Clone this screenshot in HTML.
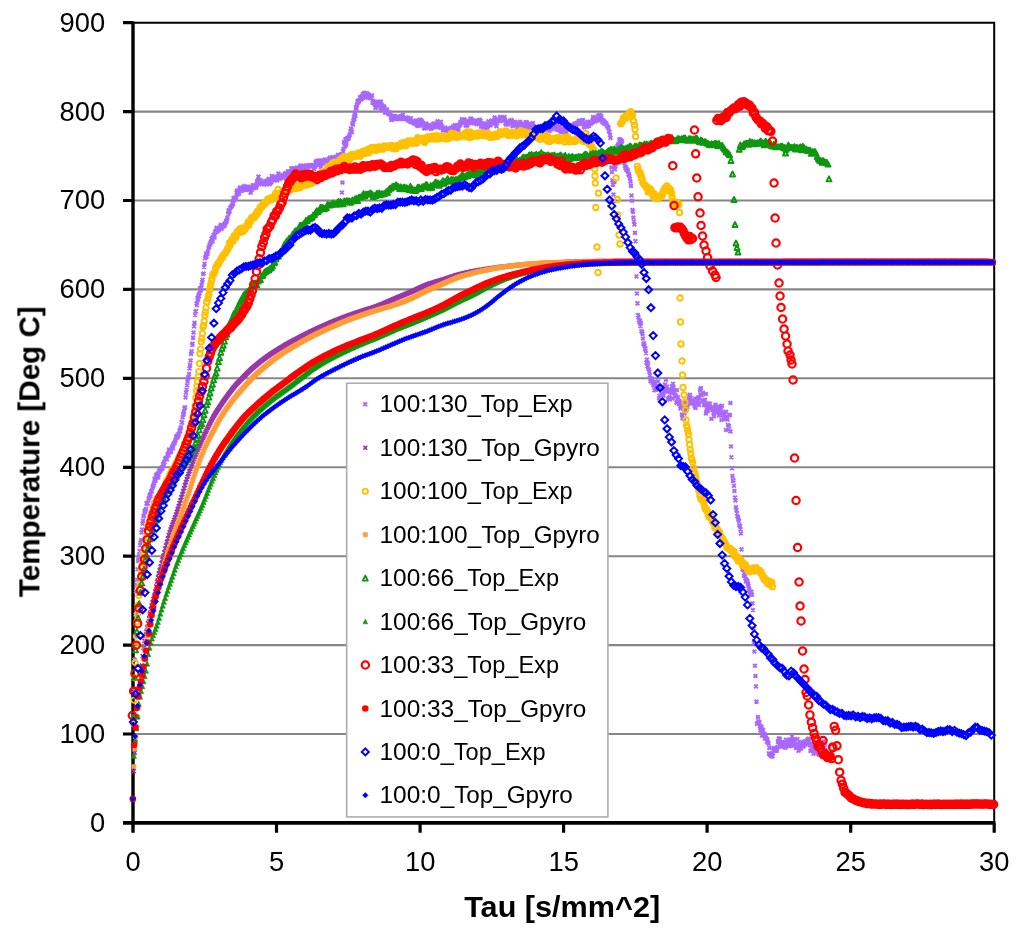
<!DOCTYPE html><html><head><meta charset="utf-8"><title>Temperature vs Tau</title>
<style>html,body{margin:0;padding:0;background:#fff}svg{display:block}text{font-family:"Liberation Sans",sans-serif;fill:#000}</style></head><body>
<svg width="1024" height="937" viewBox="0 0 1024 937">
<rect width="1024" height="937" fill="#fff"/>
<path d="M133 734H994.2M133 645.1H994.2M133 556.2H994.2M133 467.3H994.2M133 378.3H994.2M133 289.4H994.2M133 200.5H994.2M133 111.6H994.2" stroke="#868686" stroke-width="2.1" fill="none"/>
<path d="M133 22.7H994.2V822.9" stroke="#000" stroke-width="2" fill="none"/>
<path d="M133 21.5V832.7" stroke="#000" stroke-width="3.4" fill="none"/>
<path d="M123 822.9H995.4" stroke="#000" stroke-width="3.6" fill="none"/>
<path d="M123 734H133M123 645.1H133M123 556.2H133M123 467.3H133M123 378.3H133M123 289.4H133M123 200.5H133M123 111.6H133M123 22.7H133M276.5 822.9V832.7M420.1 822.9V832.7M563.6 822.9V832.7M707.1 822.9V832.7M850.7 822.9V832.7M994.2 822.9V832.7" stroke="#000" stroke-width="3.2" fill="none"/>
<path d="M131.7 718.2l3.7 3.7m-3.7 0l3.7 -3.7M132.2 688.7l3.7 3.7m-3.7 0l3.7 -3.7M132.7 657.8l3.7 3.7m-3.7 0l3.7 -3.7M133.2 634.4l3.7 3.7m-3.7 0l3.7 -3.7M133.7 612.8l3.7 3.7m-3.7 0l3.7 -3.7M134.2 589.7l3.7 3.7m-3.7 0l3.7 -3.7M134.7 583.3l3.7 3.7m-3.7 0l3.7 -3.7M135.2 577.9l3.7 3.7m-3.7 0l3.7 -3.7M135.7 567.4l3.7 3.7m-3.7 0l3.7 -3.7M136.2 559.2l3.7 3.7m-3.7 0l3.7 -3.7M136.7 557.2l3.7 3.7m-3.7 0l3.7 -3.7M137.2 553.4l3.7 3.7m-3.7 0l3.7 -3.7M137.7 549.2l3.7 3.7m-3.7 0l3.7 -3.7M138.2 543.4l3.7 3.7m-3.7 0l3.7 -3.7M138.7 540.7l3.7 3.7m-3.7 0l3.7 -3.7M139.2 538.1l3.7 3.7m-3.7 0l3.7 -3.7M139.7 530.6l3.7 3.7m-3.7 0l3.7 -3.7M140.2 527.6l3.7 3.7m-3.7 0l3.7 -3.7M140.7 521.7l3.7 3.7m-3.7 0l3.7 -3.7M141.2 519l3.7 3.7m-3.7 0l3.7 -3.7M141.7 514.4l3.7 3.7m-3.7 0l3.7 -3.7M142.2 513.8l3.7 3.7m-3.7 0l3.7 -3.7M142.7 509l3.7 3.7m-3.7 0l3.7 -3.7M143.2 510.2l3.7 3.7m-3.7 0l3.7 -3.7M143.7 508.9l3.7 3.7m-3.7 0l3.7 -3.7M144.2 507.1l3.7 3.7m-3.7 0l3.7 -3.7M144.7 501.2l3.7 3.7m-3.7 0l3.7 -3.7M145.2 502.4l3.7 3.7m-3.7 0l3.7 -3.7M145.7 501.9l3.7 3.7m-3.7 0l3.7 -3.7M146.2 501l3.7 3.7m-3.7 0l3.7 -3.7M146.7 496.7l3.7 3.7m-3.7 0l3.7 -3.7M147.2 496.6l3.7 3.7m-3.7 0l3.7 -3.7M147.7 494.2l3.7 3.7m-3.7 0l3.7 -3.7M148.2 492.5l3.7 3.7m-3.7 0l3.7 -3.7M148.7 494.3l3.7 3.7m-3.7 0l3.7 -3.7M149.2 489.7l3.7 3.7m-3.7 0l3.7 -3.7M149.7 489.2l3.7 3.7m-3.7 0l3.7 -3.7M150.2 489.4l3.7 3.7m-3.7 0l3.7 -3.7M150.7 485.4l3.7 3.7m-3.7 0l3.7 -3.7M151.2 484.3l3.7 3.7m-3.7 0l3.7 -3.7M151.7 483l3.7 3.7m-3.7 0l3.7 -3.7M152.2 481.3l3.7 3.7m-3.7 0l3.7 -3.7M152.7 477.1l3.7 3.7m-3.7 0l3.7 -3.7M153.2 477.3l3.7 3.7m-3.7 0l3.7 -3.7M153.7 478.9l3.7 3.7m-3.7 0l3.7 -3.7M154.2 473.1l3.7 3.7m-3.7 0l3.7 -3.7M154.7 476l3.7 3.7m-3.7 0l3.7 -3.7M155.2 474.1l3.7 3.7m-3.7 0l3.7 -3.7M155.7 471.8l3.7 3.7m-3.7 0l3.7 -3.7M156.2 475.5l3.7 3.7m-3.7 0l3.7 -3.7M156.7 473.2l3.7 3.7m-3.7 0l3.7 -3.7M157.2 468.7l3.7 3.7m-3.7 0l3.7 -3.7M157.7 469.4l3.7 3.7m-3.7 0l3.7 -3.7M158.2 469.4l3.7 3.7m-3.7 0l3.7 -3.7M158.7 467.2l3.7 3.7m-3.7 0l3.7 -3.7M159.2 467.7l3.7 3.7m-3.7 0l3.7 -3.7M159.7 465.6l3.7 3.7m-3.7 0l3.7 -3.7M160.2 465.9l3.7 3.7m-3.7 0l3.7 -3.7M160.7 466.6l3.7 3.7m-3.7 0l3.7 -3.7M161.2 462.3l3.7 3.7m-3.7 0l3.7 -3.7M161.7 462.5l3.7 3.7m-3.7 0l3.7 -3.7M162.2 460.4l3.7 3.7m-3.7 0l3.7 -3.7M162.7 460.3l3.7 3.7m-3.7 0l3.7 -3.7M163.2 456.9l3.7 3.7m-3.7 0l3.7 -3.7M163.7 456.5l3.7 3.7m-3.7 0l3.7 -3.7M164.2 456.1l3.7 3.7m-3.7 0l3.7 -3.7M164.7 457.3l3.7 3.7m-3.7 0l3.7 -3.7M165.2 457.4l3.7 3.7m-3.7 0l3.7 -3.7M165.7 452.4l3.7 3.7m-3.7 0l3.7 -3.7M166.2 451.8l3.7 3.7m-3.7 0l3.7 -3.7M166.7 453.3l3.7 3.7m-3.7 0l3.7 -3.7M167.2 447.7l3.7 3.7m-3.7 0l3.7 -3.7M167.7 448.8l3.7 3.7m-3.7 0l3.7 -3.7M168.2 448.6l3.7 3.7m-3.7 0l3.7 -3.7M168.7 450.4l3.7 3.7m-3.7 0l3.7 -3.7M169.2 449.2l3.7 3.7m-3.7 0l3.7 -3.7M169.7 446.5l3.7 3.7m-3.7 0l3.7 -3.7M170.2 445.2l3.7 3.7m-3.7 0l3.7 -3.7M170.7 444.2l3.7 3.7m-3.7 0l3.7 -3.7M171.2 446.4l3.7 3.7m-3.7 0l3.7 -3.7M171.7 442.3l3.7 3.7m-3.7 0l3.7 -3.7M172.2 441.2l3.7 3.7m-3.7 0l3.7 -3.7M172.7 441.2l3.7 3.7m-3.7 0l3.7 -3.7M173.2 439.4l3.7 3.7m-3.7 0l3.7 -3.7M173.7 438l3.7 3.7m-3.7 0l3.7 -3.7M174.2 435.1l3.7 3.7m-3.7 0l3.7 -3.7M174.7 435.5l3.7 3.7m-3.7 0l3.7 -3.7M175.2 433.7l3.7 3.7m-3.7 0l3.7 -3.7M175.7 435.6l3.7 3.7m-3.7 0l3.7 -3.7M176.2 434.1l3.7 3.7m-3.7 0l3.7 -3.7M176.7 432l3.7 3.7m-3.7 0l3.7 -3.7M177.2 432.2l3.7 3.7m-3.7 0l3.7 -3.7M177.7 428.8l3.7 3.7m-3.7 0l3.7 -3.7M178.2 429.5l3.7 3.7m-3.7 0l3.7 -3.7M178.7 426.2l3.7 3.7m-3.7 0l3.7 -3.7M179.2 425.4l3.7 3.7m-3.7 0l3.7 -3.7M179.7 420.3l3.7 3.7m-3.7 0l3.7 -3.7M180.2 420.9l3.7 3.7m-3.7 0l3.7 -3.7M180.7 415.4l3.7 3.7m-3.7 0l3.7 -3.7M181.2 412.1l3.7 3.7m-3.7 0l3.7 -3.7M181.7 412.8l3.7 3.7m-3.7 0l3.7 -3.7M182.2 410l3.7 3.7m-3.7 0l3.7 -3.7M182.7 406.5l3.7 3.7m-3.7 0l3.7 -3.7M183.2 405.5l3.7 3.7m-3.7 0l3.7 -3.7M183.7 395.5l3.7 3.7m-3.7 0l3.7 -3.7M184.2 390.9l3.7 3.7m-3.7 0l3.7 -3.7M184.7 387.5l3.7 3.7m-3.7 0l3.7 -3.7M185.2 383.6l3.7 3.7m-3.7 0l3.7 -3.7M185.7 379.7l3.7 3.7m-3.7 0l3.7 -3.7M186.2 376.5l3.7 3.7m-3.7 0l3.7 -3.7M186.7 375.2l3.7 3.7m-3.7 0l3.7 -3.7M187.2 372.2l3.7 3.7m-3.7 0l3.7 -3.7M187.7 366.5l3.7 3.7m-3.7 0l3.7 -3.7M188.2 363.1l3.7 3.7m-3.7 0l3.7 -3.7M188.7 358.7l3.7 3.7m-3.7 0l3.7 -3.7M189.2 352l3.7 3.7m-3.7 0l3.7 -3.7M189.7 349.5l3.7 3.7m-3.7 0l3.7 -3.7M190.2 343.1l3.7 3.7m-3.7 0l3.7 -3.7M190.7 341.7l3.7 3.7m-3.7 0l3.7 -3.7M191.2 335.8l3.7 3.7m-3.7 0l3.7 -3.7M191.7 330.7l3.7 3.7m-3.7 0l3.7 -3.7M192.2 324.5l3.7 3.7m-3.7 0l3.7 -3.7M192.7 321l3.7 3.7m-3.7 0l3.7 -3.7M193.2 313.2l3.7 3.7m-3.7 0l3.7 -3.7M193.7 309.7l3.7 3.7m-3.7 0l3.7 -3.7M194.2 309.1l3.7 3.7m-3.7 0l3.7 -3.7M194.7 301.6l3.7 3.7m-3.7 0l3.7 -3.7M195.2 303.4l3.7 3.7m-3.7 0l3.7 -3.7M195.7 296l3.7 3.7m-3.7 0l3.7 -3.7M196.2 298l3.7 3.7m-3.7 0l3.7 -3.7M196.7 293.5l3.7 3.7m-3.7 0l3.7 -3.7M197.2 294.3l3.7 3.7m-3.7 0l3.7 -3.7M197.7 291.6l3.7 3.7m-3.7 0l3.7 -3.7M198.2 286.5l3.7 3.7m-3.7 0l3.7 -3.7M198.7 288.8l3.7 3.7m-3.7 0l3.7 -3.7M199.2 287.6l3.7 3.7m-3.7 0l3.7 -3.7M199.7 283.1l3.7 3.7m-3.7 0l3.7 -3.7M200.2 280.2l3.7 3.7m-3.7 0l3.7 -3.7M200.7 277.9l3.7 3.7m-3.7 0l3.7 -3.7M201.2 272.2l3.7 3.7m-3.7 0l3.7 -3.7M201.7 271.7l3.7 3.7m-3.7 0l3.7 -3.7M202.2 265.2l3.7 3.7m-3.7 0l3.7 -3.7M202.7 261.9l3.7 3.7m-3.7 0l3.7 -3.7M203.2 256.4l3.7 3.7m-3.7 0l3.7 -3.7M203.7 254.9l3.7 3.7m-3.7 0l3.7 -3.7M204.2 251.9l3.7 3.7m-3.7 0l3.7 -3.7M204.7 254.8l3.7 3.7m-3.7 0l3.7 -3.7M205.2 251.4l3.7 3.7m-3.7 0l3.7 -3.7M205.7 252l3.7 3.7m-3.7 0l3.7 -3.7M206.2 249.2l3.7 3.7m-3.7 0l3.7 -3.7M206.7 246.4l3.7 3.7m-3.7 0l3.7 -3.7M207.2 245.2l3.7 3.7m-3.7 0l3.7 -3.7M207.7 243.2l3.7 3.7m-3.7 0l3.7 -3.7M208.2 242.6l3.7 3.7m-3.7 0l3.7 -3.7M208.7 240.9l3.7 3.7m-3.7 0l3.7 -3.7M209.2 239.9l3.7 3.7m-3.7 0l3.7 -3.7M209.7 236.7l3.7 3.7m-3.7 0l3.7 -3.7M210.2 236.2l3.7 3.7m-3.7 0l3.7 -3.7M210.7 239.7l3.7 3.7m-3.7 0l3.7 -3.7M211.2 235.2l3.7 3.7m-3.7 0l3.7 -3.7M211.7 233.1l3.7 3.7m-3.7 0l3.7 -3.7M212.2 234.4l3.7 3.7m-3.7 0l3.7 -3.7M212.7 235.7l3.7 3.7m-3.7 0l3.7 -3.7M213.2 230l3.7 3.7m-3.7 0l3.7 -3.7M213.7 230.6l3.7 3.7m-3.7 0l3.7 -3.7M214.2 228.8l3.7 3.7m-3.7 0l3.7 -3.7M214.7 226l3.7 3.7m-3.7 0l3.7 -3.7M215.2 229.6l3.7 3.7m-3.7 0l3.7 -3.7M215.7 228.3l3.7 3.7m-3.7 0l3.7 -3.7M216.2 228.3l3.7 3.7m-3.7 0l3.7 -3.7M216.7 226.4l3.7 3.7m-3.7 0l3.7 -3.7M217.2 228.1l3.7 3.7m-3.7 0l3.7 -3.7M217.7 226.1l3.7 3.7m-3.7 0l3.7 -3.7M218.2 226.3l3.7 3.7m-3.7 0l3.7 -3.7M218.7 224.1l3.7 3.7m-3.7 0l3.7 -3.7M219.2 223l3.7 3.7m-3.7 0l3.7 -3.7M219.7 227.1l3.7 3.7m-3.7 0l3.7 -3.7M220.2 224l3.7 3.7m-3.7 0l3.7 -3.7M220.7 225l3.7 3.7m-3.7 0l3.7 -3.7M221.2 224.2l3.7 3.7m-3.7 0l3.7 -3.7M221.7 223.1l3.7 3.7m-3.7 0l3.7 -3.7M222.2 222.4l3.7 3.7m-3.7 0l3.7 -3.7M222.7 224l3.7 3.7m-3.7 0l3.7 -3.7M223.2 222.2l3.7 3.7m-3.7 0l3.7 -3.7M223.7 220.7l3.7 3.7m-3.7 0l3.7 -3.7M224.2 219.2l3.7 3.7m-3.7 0l3.7 -3.7M224.7 219.8l3.7 3.7m-3.7 0l3.7 -3.7M225.2 217.7l3.7 3.7m-3.7 0l3.7 -3.7M225.7 215.7l3.7 3.7m-3.7 0l3.7 -3.7M226.2 212.2l3.7 3.7m-3.7 0l3.7 -3.7M226.7 208.5l3.7 3.7m-3.7 0l3.7 -3.7M227.2 210.5l3.7 3.7m-3.7 0l3.7 -3.7M227.7 209.3l3.7 3.7m-3.7 0l3.7 -3.7M228.2 205.9l3.7 3.7m-3.7 0l3.7 -3.7M228.7 205.8l3.7 3.7m-3.7 0l3.7 -3.7M229.2 205.2l3.7 3.7m-3.7 0l3.7 -3.7M229.7 204.4l3.7 3.7m-3.7 0l3.7 -3.7M230.2 203.6l3.7 3.7m-3.7 0l3.7 -3.7M230.7 200l3.7 3.7m-3.7 0l3.7 -3.7M231.2 202l3.7 3.7m-3.7 0l3.7 -3.7M231.7 196.1l3.7 3.7m-3.7 0l3.7 -3.7M232.2 198l3.7 3.7m-3.7 0l3.7 -3.7M232.7 196.4l3.7 3.7m-3.7 0l3.7 -3.7M233.2 196l3.7 3.7m-3.7 0l3.7 -3.7M233.7 196.9l3.7 3.7m-3.7 0l3.7 -3.7M234.2 195.6l3.7 3.7m-3.7 0l3.7 -3.7M234.7 190.8l3.7 3.7m-3.7 0l3.7 -3.7M235.2 188.8l3.7 3.7m-3.7 0l3.7 -3.7M235.7 192.5l3.7 3.7m-3.7 0l3.7 -3.7M236.2 189.2l3.7 3.7m-3.7 0l3.7 -3.7M236.7 190.4l3.7 3.7m-3.7 0l3.7 -3.7M237.2 191.9l3.7 3.7m-3.7 0l3.7 -3.7M237.7 187.4l3.7 3.7m-3.7 0l3.7 -3.7M238.2 185.6l3.7 3.7m-3.7 0l3.7 -3.7M238.7 189l3.7 3.7m-3.7 0l3.7 -3.7M239.2 188.9l3.7 3.7m-3.7 0l3.7 -3.7M239.7 188.4l3.7 3.7m-3.7 0l3.7 -3.7M240.2 188.8l3.7 3.7m-3.7 0l3.7 -3.7M240.7 187.2l3.7 3.7m-3.7 0l3.7 -3.7M241.2 185.5l3.7 3.7m-3.7 0l3.7 -3.7M241.7 187.4l3.7 3.7m-3.7 0l3.7 -3.7M242.2 185.9l3.7 3.7m-3.7 0l3.7 -3.7M242.7 184.3l3.7 3.7m-3.7 0l3.7 -3.7M243.2 187.8l3.7 3.7m-3.7 0l3.7 -3.7M243.7 187.2l3.7 3.7m-3.7 0l3.7 -3.7M244.2 188.2l3.7 3.7m-3.7 0l3.7 -3.7M244.7 185.9l3.7 3.7m-3.7 0l3.7 -3.7M245.2 186.1l3.7 3.7m-3.7 0l3.7 -3.7M245.7 185.2l3.7 3.7m-3.7 0l3.7 -3.7M246.2 185.1l3.7 3.7m-3.7 0l3.7 -3.7M246.7 186.9l3.7 3.7m-3.7 0l3.7 -3.7M247.2 185.3l3.7 3.7m-3.7 0l3.7 -3.7M247.7 187.3l3.7 3.7m-3.7 0l3.7 -3.7M248.2 187.6l3.7 3.7m-3.7 0l3.7 -3.7M248.7 190.8l3.7 3.7m-3.7 0l3.7 -3.7M249.2 185l3.7 3.7m-3.7 0l3.7 -3.7M249.7 188.4l3.7 3.7m-3.7 0l3.7 -3.7M250.2 186.7l3.7 3.7m-3.7 0l3.7 -3.7M250.7 186.4l3.7 3.7m-3.7 0l3.7 -3.7M251.2 183.3l3.7 3.7m-3.7 0l3.7 -3.7M251.7 184.2l3.7 3.7m-3.7 0l3.7 -3.7M252.2 186.1l3.7 3.7m-3.7 0l3.7 -3.7M252.7 184.6l3.7 3.7m-3.7 0l3.7 -3.7M253.2 184.6l3.7 3.7m-3.7 0l3.7 -3.7M253.7 183.7l3.7 3.7m-3.7 0l3.7 -3.7M254.2 186l3.7 3.7m-3.7 0l3.7 -3.7M254.7 184l3.7 3.7m-3.7 0l3.7 -3.7M255.2 179.5l3.7 3.7m-3.7 0l3.7 -3.7M255.7 180.9l3.7 3.7m-3.7 0l3.7 -3.7M256.1 178.2l3.7 3.7m-3.7 0l3.7 -3.7M256.6 174.8l3.7 3.7m-3.7 0l3.7 -3.7M257.1 178.6l3.7 3.7m-3.7 0l3.7 -3.7M257.6 182.3l3.7 3.7m-3.7 0l3.7 -3.7M258.1 180.8l3.7 3.7m-3.7 0l3.7 -3.7M258.6 178.6l3.7 3.7m-3.7 0l3.7 -3.7M259.1 178.6l3.7 3.7m-3.7 0l3.7 -3.7M259.6 182.3l3.7 3.7m-3.7 0l3.7 -3.7M260.1 181.1l3.7 3.7m-3.7 0l3.7 -3.7M260.6 181l3.7 3.7m-3.7 0l3.7 -3.7M261.1 180.9l3.7 3.7m-3.7 0l3.7 -3.7M261.6 181l3.7 3.7m-3.7 0l3.7 -3.7M262.1 182.5l3.7 3.7m-3.7 0l3.7 -3.7M262.6 182.4l3.7 3.7m-3.7 0l3.7 -3.7M263.1 181.9l3.7 3.7m-3.7 0l3.7 -3.7M263.6 179.4l3.7 3.7m-3.7 0l3.7 -3.7M264.1 181.7l3.7 3.7m-3.7 0l3.7 -3.7M264.6 179.6l3.7 3.7m-3.7 0l3.7 -3.7M265.1 182.6l3.7 3.7m-3.7 0l3.7 -3.7M265.6 178.5l3.7 3.7m-3.7 0l3.7 -3.7M266.1 179.7l3.7 3.7m-3.7 0l3.7 -3.7M266.6 179.7l3.7 3.7m-3.7 0l3.7 -3.7M267.1 177l3.7 3.7m-3.7 0l3.7 -3.7M267.6 182l3.7 3.7m-3.7 0l3.7 -3.7M268.1 182.2l3.7 3.7m-3.7 0l3.7 -3.7M268.6 178.9l3.7 3.7m-3.7 0l3.7 -3.7M269.1 180.7l3.7 3.7m-3.7 0l3.7 -3.7M269.6 180l3.7 3.7m-3.7 0l3.7 -3.7M270.1 174.1l3.7 3.7m-3.7 0l3.7 -3.7M270.6 177.9l3.7 3.7m-3.7 0l3.7 -3.7M271.1 177.3l3.7 3.7m-3.7 0l3.7 -3.7M271.6 177.3l3.7 3.7m-3.7 0l3.7 -3.7M272.1 174.9l3.7 3.7m-3.7 0l3.7 -3.7M272.6 175.8l3.7 3.7m-3.7 0l3.7 -3.7M273.1 175.6l3.7 3.7m-3.7 0l3.7 -3.7M273.6 178l3.7 3.7m-3.7 0l3.7 -3.7M274.1 176.8l3.7 3.7m-3.7 0l3.7 -3.7M274.6 176.1l3.7 3.7m-3.7 0l3.7 -3.7M275.1 178.7l3.7 3.7m-3.7 0l3.7 -3.7M275.6 175.2l3.7 3.7m-3.7 0l3.7 -3.7M276.1 174.9l3.7 3.7m-3.7 0l3.7 -3.7M276.6 171.6l3.7 3.7m-3.7 0l3.7 -3.7M277.1 177l3.7 3.7m-3.7 0l3.7 -3.7M277.6 176.4l3.7 3.7m-3.7 0l3.7 -3.7M278.1 176.5l3.7 3.7m-3.7 0l3.7 -3.7M278.6 176.2l3.7 3.7m-3.7 0l3.7 -3.7M279.1 175.1l3.7 3.7m-3.7 0l3.7 -3.7M279.6 175l3.7 3.7m-3.7 0l3.7 -3.7M280.1 173.8l3.7 3.7m-3.7 0l3.7 -3.7M280.6 173.5l3.7 3.7m-3.7 0l3.7 -3.7M281.1 173.5l3.7 3.7m-3.7 0l3.7 -3.7M281.6 176.1l3.7 3.7m-3.7 0l3.7 -3.7M282.1 174.7l3.7 3.7m-3.7 0l3.7 -3.7M282.6 173.4l3.7 3.7m-3.7 0l3.7 -3.7M283.1 172l3.7 3.7m-3.7 0l3.7 -3.7M283.6 171.3l3.7 3.7m-3.7 0l3.7 -3.7M284.1 175l3.7 3.7m-3.7 0l3.7 -3.7M284.6 173.4l3.7 3.7m-3.7 0l3.7 -3.7M285.1 172.5l3.7 3.7m-3.7 0l3.7 -3.7M285.6 171.4l3.7 3.7m-3.7 0l3.7 -3.7M286.1 169.4l3.7 3.7m-3.7 0l3.7 -3.7M286.6 170.6l3.7 3.7m-3.7 0l3.7 -3.7M287.1 172.2l3.7 3.7m-3.7 0l3.7 -3.7M287.6 170l3.7 3.7m-3.7 0l3.7 -3.7M288.1 169.8l3.7 3.7m-3.7 0l3.7 -3.7M288.6 169.5l3.7 3.7m-3.7 0l3.7 -3.7M289.1 169.9l3.7 3.7m-3.7 0l3.7 -3.7M289.6 166.5l3.7 3.7m-3.7 0l3.7 -3.7M290.1 168.1l3.7 3.7m-3.7 0l3.7 -3.7M290.6 166.7l3.7 3.7m-3.7 0l3.7 -3.7M291.1 169.6l3.7 3.7m-3.7 0l3.7 -3.7M291.6 166.8l3.7 3.7m-3.7 0l3.7 -3.7M292.1 168.9l3.7 3.7m-3.7 0l3.7 -3.7M292.6 170.9l3.7 3.7m-3.7 0l3.7 -3.7M293.1 167.9l3.7 3.7m-3.7 0l3.7 -3.7M293.6 167.1l3.7 3.7m-3.7 0l3.7 -3.7M294.1 168.1l3.7 3.7m-3.7 0l3.7 -3.7M294.6 167.7l3.7 3.7m-3.7 0l3.7 -3.7M295.1 165.7l3.7 3.7m-3.7 0l3.7 -3.7M295.6 167.9l3.7 3.7m-3.7 0l3.7 -3.7M296.1 171l3.7 3.7m-3.7 0l3.7 -3.7M296.6 167.5l3.7 3.7m-3.7 0l3.7 -3.7M297.1 167.3l3.7 3.7m-3.7 0l3.7 -3.7M297.6 165.3l3.7 3.7m-3.7 0l3.7 -3.7M298.1 167.2l3.7 3.7m-3.7 0l3.7 -3.7M298.6 164.3l3.7 3.7m-3.7 0l3.7 -3.7M299.1 163.8l3.7 3.7m-3.7 0l3.7 -3.7M299.6 167.8l3.7 3.7m-3.7 0l3.7 -3.7M300.1 164.3l3.7 3.7m-3.7 0l3.7 -3.7M300.6 167.6l3.7 3.7m-3.7 0l3.7 -3.7M301.1 168.9l3.7 3.7m-3.7 0l3.7 -3.7M301.6 167.1l3.7 3.7m-3.7 0l3.7 -3.7M302.1 167.5l3.7 3.7m-3.7 0l3.7 -3.7M302.6 170.2l3.7 3.7m-3.7 0l3.7 -3.7M303.1 166.8l3.7 3.7m-3.7 0l3.7 -3.7M303.6 165.6l3.7 3.7m-3.7 0l3.7 -3.7M304.1 163.5l3.7 3.7m-3.7 0l3.7 -3.7M304.6 165.2l3.7 3.7m-3.7 0l3.7 -3.7M305.1 167.9l3.7 3.7m-3.7 0l3.7 -3.7M305.6 167.4l3.7 3.7m-3.7 0l3.7 -3.7M306.1 164l3.7 3.7m-3.7 0l3.7 -3.7M306.6 163.4l3.7 3.7m-3.7 0l3.7 -3.7M307.1 163.5l3.7 3.7m-3.7 0l3.7 -3.7M307.6 164.6l3.7 3.7m-3.7 0l3.7 -3.7M308.1 163.7l3.7 3.7m-3.7 0l3.7 -3.7M308.6 164.3l3.7 3.7m-3.7 0l3.7 -3.7M309.1 164.5l3.7 3.7m-3.7 0l3.7 -3.7M309.6 163.4l3.7 3.7m-3.7 0l3.7 -3.7M310.1 163.6l3.7 3.7m-3.7 0l3.7 -3.7M310.6 163.9l3.7 3.7m-3.7 0l3.7 -3.7M311.1 163.3l3.7 3.7m-3.7 0l3.7 -3.7M311.6 164.3l3.7 3.7m-3.7 0l3.7 -3.7M312.1 167.1l3.7 3.7m-3.7 0l3.7 -3.7M312.6 165.4l3.7 3.7m-3.7 0l3.7 -3.7M313.1 164.3l3.7 3.7m-3.7 0l3.7 -3.7M313.6 160.7l3.7 3.7m-3.7 0l3.7 -3.7M314.1 163.6l3.7 3.7m-3.7 0l3.7 -3.7M314.6 159.2l3.7 3.7m-3.7 0l3.7 -3.7M315.1 159.1l3.7 3.7m-3.7 0l3.7 -3.7M315.6 162.8l3.7 3.7m-3.7 0l3.7 -3.7M316.1 163l3.7 3.7m-3.7 0l3.7 -3.7M316.6 161.6l3.7 3.7m-3.7 0l3.7 -3.7M317.1 158.5l3.7 3.7m-3.7 0l3.7 -3.7M317.6 160.2l3.7 3.7m-3.7 0l3.7 -3.7M318.1 159.4l3.7 3.7m-3.7 0l3.7 -3.7M318.6 161.7l3.7 3.7m-3.7 0l3.7 -3.7M319.1 165.2l3.7 3.7m-3.7 0l3.7 -3.7M319.6 162.3l3.7 3.7m-3.7 0l3.7 -3.7M320.1 160.3l3.7 3.7m-3.7 0l3.7 -3.7M320.6 159l3.7 3.7m-3.7 0l3.7 -3.7M321.1 160.5l3.7 3.7m-3.7 0l3.7 -3.7M321.6 160.2l3.7 3.7m-3.7 0l3.7 -3.7M322.1 158.2l3.7 3.7m-3.7 0l3.7 -3.7M322.6 160l3.7 3.7m-3.7 0l3.7 -3.7M323.1 157.7l3.7 3.7m-3.7 0l3.7 -3.7M323.6 161.4l3.7 3.7m-3.7 0l3.7 -3.7M324.1 161.9l3.7 3.7m-3.7 0l3.7 -3.7M324.6 162.4l3.7 3.7m-3.7 0l3.7 -3.7M325.1 159.8l3.7 3.7m-3.7 0l3.7 -3.7M325.6 161.2l3.7 3.7m-3.7 0l3.7 -3.7M326.1 160l3.7 3.7m-3.7 0l3.7 -3.7M326.6 159.3l3.7 3.7m-3.7 0l3.7 -3.7M327.1 159l3.7 3.7m-3.7 0l3.7 -3.7M327.6 156.8l3.7 3.7m-3.7 0l3.7 -3.7M328.1 155.8l3.7 3.7m-3.7 0l3.7 -3.7M328.6 159.4l3.7 3.7m-3.7 0l3.7 -3.7M329.1 157.9l3.7 3.7m-3.7 0l3.7 -3.7M329.6 158.6l3.7 3.7m-3.7 0l3.7 -3.7M330.1 160.1l3.7 3.7m-3.7 0l3.7 -3.7M330.6 155.3l3.7 3.7m-3.7 0l3.7 -3.7M331.1 156.1l3.7 3.7m-3.7 0l3.7 -3.7M331.6 157.6l3.7 3.7m-3.7 0l3.7 -3.7M332.1 158.1l3.7 3.7m-3.7 0l3.7 -3.7M332.6 156.8l3.7 3.7m-3.7 0l3.7 -3.7M333.1 159.2l3.7 3.7m-3.7 0l3.7 -3.7M333.6 158.1l3.7 3.7m-3.7 0l3.7 -3.7M334.1 155.3l3.7 3.7m-3.7 0l3.7 -3.7M334.6 155.1l3.7 3.7m-3.7 0l3.7 -3.7M335.1 158l3.7 3.7m-3.7 0l3.7 -3.7M335.6 157.7l3.7 3.7m-3.7 0l3.7 -3.7M336.1 153l3.7 3.7m-3.7 0l3.7 -3.7M336.6 157.9l3.7 3.7m-3.7 0l3.7 -3.7M337.1 156.9l3.7 3.7m-3.7 0l3.7 -3.7M337.6 158.3l3.7 3.7m-3.7 0l3.7 -3.7M338.1 155.2l3.7 3.7m-3.7 0l3.7 -3.7M338.6 154.6l3.7 3.7m-3.7 0l3.7 -3.7M339.1 152.4l3.7 3.7m-3.7 0l3.7 -3.7M339.6 158.5l3.7 3.7m-3.7 0l3.7 -3.7M340.1 154.6l3.7 3.7m-3.7 0l3.7 -3.7M340.6 159.4l3.7 3.7m-3.7 0l3.7 -3.7M341.1 149.4l3.7 3.7m-3.7 0l3.7 -3.7M341.6 147.1l3.7 3.7m-3.7 0l3.7 -3.7M342.1 140.2l3.7 3.7m-3.7 0l3.7 -3.7M342.6 141.7l3.7 3.7m-3.7 0l3.7 -3.7M343.1 144.8l3.7 3.7m-3.7 0l3.7 -3.7M343.6 137.5l3.7 3.7m-3.7 0l3.7 -3.7M344.1 142.9l3.7 3.7m-3.7 0l3.7 -3.7M344.6 141.1l3.7 3.7m-3.7 0l3.7 -3.7M345.1 136.5l3.7 3.7m-3.7 0l3.7 -3.7M345.6 136.9l3.7 3.7m-3.7 0l3.7 -3.7M346.1 136.2l3.7 3.7m-3.7 0l3.7 -3.7M346.6 136.8l3.7 3.7m-3.7 0l3.7 -3.7M347.1 135l3.7 3.7m-3.7 0l3.7 -3.7M347.6 133.3l3.7 3.7m-3.7 0l3.7 -3.7M348.1 133.1l3.7 3.7m-3.7 0l3.7 -3.7M348.6 129.4l3.7 3.7m-3.7 0l3.7 -3.7M349.1 126.6l3.7 3.7m-3.7 0l3.7 -3.7M349.6 128.4l3.7 3.7m-3.7 0l3.7 -3.7M350.1 130.4l3.7 3.7m-3.7 0l3.7 -3.7M350.6 121.3l3.7 3.7m-3.7 0l3.7 -3.7M351.1 122.7l3.7 3.7m-3.7 0l3.7 -3.7M351.6 118.5l3.7 3.7m-3.7 0l3.7 -3.7M352.1 114.7l3.7 3.7m-3.7 0l3.7 -3.7M352.6 117.1l3.7 3.7m-3.7 0l3.7 -3.7M353.1 110.8l3.7 3.7m-3.7 0l3.7 -3.7M353.6 114.1l3.7 3.7m-3.7 0l3.7 -3.7M354.1 105.3l3.7 3.7m-3.7 0l3.7 -3.7M354.6 106.5l3.7 3.7m-3.7 0l3.7 -3.7M355.1 103l3.7 3.7m-3.7 0l3.7 -3.7M355.6 99.2l3.7 3.7m-3.7 0l3.7 -3.7M356.1 100.9l3.7 3.7m-3.7 0l3.7 -3.7M356.6 98.9l3.7 3.7m-3.7 0l3.7 -3.7M357.1 99.7l3.7 3.7m-3.7 0l3.7 -3.7M357.6 98.1l3.7 3.7m-3.7 0l3.7 -3.7M358.1 95.4l3.7 3.7m-3.7 0l3.7 -3.7M358.6 96.1l3.7 3.7m-3.7 0l3.7 -3.7M359.1 95.8l3.7 3.7m-3.7 0l3.7 -3.7M359.6 97.5l3.7 3.7m-3.7 0l3.7 -3.7M360.1 94.3l3.7 3.7m-3.7 0l3.7 -3.7M360.6 95.4l3.7 3.7m-3.7 0l3.7 -3.7M361.1 92.1l3.7 3.7m-3.7 0l3.7 -3.7M361.6 95.8l3.7 3.7m-3.7 0l3.7 -3.7M362.1 92.9l3.7 3.7m-3.7 0l3.7 -3.7M362.6 90.9l3.7 3.7m-3.7 0l3.7 -3.7M363.1 93.5l3.7 3.7m-3.7 0l3.7 -3.7M363.6 95.8l3.7 3.7m-3.7 0l3.7 -3.7M364.1 91.5l3.7 3.7m-3.7 0l3.7 -3.7M364.6 91.9l3.7 3.7m-3.7 0l3.7 -3.7M365.1 92.4l3.7 3.7m-3.7 0l3.7 -3.7M365.6 91.8l3.7 3.7m-3.7 0l3.7 -3.7M366.1 94.6l3.7 3.7m-3.7 0l3.7 -3.7M366.6 93l3.7 3.7m-3.7 0l3.7 -3.7M367.1 93.2l3.7 3.7m-3.7 0l3.7 -3.7M367.6 95.8l3.7 3.7m-3.7 0l3.7 -3.7M368.1 94l3.7 3.7m-3.7 0l3.7 -3.7M368.6 96.3l3.7 3.7m-3.7 0l3.7 -3.7M369.1 94.3l3.7 3.7m-3.7 0l3.7 -3.7M369.6 94.3l3.7 3.7m-3.7 0l3.7 -3.7M370.1 93.6l3.7 3.7m-3.7 0l3.7 -3.7M370.6 100.9l3.7 3.7m-3.7 0l3.7 -3.7M371.1 98.8l3.7 3.7m-3.7 0l3.7 -3.7M371.6 100.7l3.7 3.7m-3.7 0l3.7 -3.7M372.1 101.3l3.7 3.7m-3.7 0l3.7 -3.7M372.6 102l3.7 3.7m-3.7 0l3.7 -3.7M373.1 102.1l3.7 3.7m-3.7 0l3.7 -3.7M373.6 106l3.7 3.7m-3.7 0l3.7 -3.7M374.1 101.6l3.7 3.7m-3.7 0l3.7 -3.7M374.6 100.2l3.7 3.7m-3.7 0l3.7 -3.7M375.1 100.7l3.7 3.7m-3.7 0l3.7 -3.7M375.6 99.9l3.7 3.7m-3.7 0l3.7 -3.7M376.1 103.6l3.7 3.7m-3.7 0l3.7 -3.7M376.6 104.6l3.7 3.7m-3.7 0l3.7 -3.7M377.1 101.9l3.7 3.7m-3.7 0l3.7 -3.7M377.6 100.9l3.7 3.7m-3.7 0l3.7 -3.7M378.1 102.6l3.7 3.7m-3.7 0l3.7 -3.7M378.6 106.5l3.7 3.7m-3.7 0l3.7 -3.7M379.1 99.8l3.7 3.7m-3.7 0l3.7 -3.7M379.6 105.4l3.7 3.7m-3.7 0l3.7 -3.7M380.1 103.3l3.7 3.7m-3.7 0l3.7 -3.7M380.6 107.6l3.7 3.7m-3.7 0l3.7 -3.7M381.1 104.7l3.7 3.7m-3.7 0l3.7 -3.7M381.6 106.4l3.7 3.7m-3.7 0l3.7 -3.7M382.1 104.6l3.7 3.7m-3.7 0l3.7 -3.7M382.6 105.6l3.7 3.7m-3.7 0l3.7 -3.7M383.1 110.5l3.7 3.7m-3.7 0l3.7 -3.7M383.6 110.9l3.7 3.7m-3.7 0l3.7 -3.7M384.1 109.7l3.7 3.7m-3.7 0l3.7 -3.7M384.6 109.2l3.7 3.7m-3.7 0l3.7 -3.7M385.1 107.5l3.7 3.7m-3.7 0l3.7 -3.7M385.6 110.1l3.7 3.7m-3.7 0l3.7 -3.7M386.1 111.5l3.7 3.7m-3.7 0l3.7 -3.7M386.6 111.8l3.7 3.7m-3.7 0l3.7 -3.7M387.1 112.2l3.7 3.7m-3.7 0l3.7 -3.7M387.6 110.7l3.7 3.7m-3.7 0l3.7 -3.7M388.1 112.6l3.7 3.7m-3.7 0l3.7 -3.7M388.6 113l3.7 3.7m-3.7 0l3.7 -3.7M389.1 116l3.7 3.7m-3.7 0l3.7 -3.7M389.6 118.2l3.7 3.7m-3.7 0l3.7 -3.7M390.1 115.5l3.7 3.7m-3.7 0l3.7 -3.7M390.6 114.4l3.7 3.7m-3.7 0l3.7 -3.7M391.1 115.6l3.7 3.7m-3.7 0l3.7 -3.7M391.6 114.7l3.7 3.7m-3.7 0l3.7 -3.7M392.1 114.4l3.7 3.7m-3.7 0l3.7 -3.7M392.6 115.7l3.7 3.7m-3.7 0l3.7 -3.7M393.1 114.1l3.7 3.7m-3.7 0l3.7 -3.7M393.6 117l3.7 3.7m-3.7 0l3.7 -3.7M394.1 116.1l3.7 3.7m-3.7 0l3.7 -3.7M394.6 117l3.7 3.7m-3.7 0l3.7 -3.7M395.1 116.4l3.7 3.7m-3.7 0l3.7 -3.7M395.6 115.5l3.7 3.7m-3.7 0l3.7 -3.7M396.1 114.8l3.7 3.7m-3.7 0l3.7 -3.7M396.6 116l3.7 3.7m-3.7 0l3.7 -3.7M397.1 115.5l3.7 3.7m-3.7 0l3.7 -3.7M397.6 117l3.7 3.7m-3.7 0l3.7 -3.7M398.1 116.9l3.7 3.7m-3.7 0l3.7 -3.7M398.6 114.5l3.7 3.7m-3.7 0l3.7 -3.7M399.1 116.8l3.7 3.7m-3.7 0l3.7 -3.7M399.6 114.5l3.7 3.7m-3.7 0l3.7 -3.7M400.1 115.5l3.7 3.7m-3.7 0l3.7 -3.7M400.6 116.1l3.7 3.7m-3.7 0l3.7 -3.7M401.1 112.9l3.7 3.7m-3.7 0l3.7 -3.7M401.6 116.4l3.7 3.7m-3.7 0l3.7 -3.7M402.1 117l3.7 3.7m-3.7 0l3.7 -3.7M402.6 116.9l3.7 3.7m-3.7 0l3.7 -3.7M403.1 116.6l3.7 3.7m-3.7 0l3.7 -3.7M403.6 116.9l3.7 3.7m-3.7 0l3.7 -3.7M404.1 115.8l3.7 3.7m-3.7 0l3.7 -3.7M404.6 117l3.7 3.7m-3.7 0l3.7 -3.7M405.1 116.7l3.7 3.7m-3.7 0l3.7 -3.7M405.6 118l3.7 3.7m-3.7 0l3.7 -3.7M406.1 115.9l3.7 3.7m-3.7 0l3.7 -3.7M406.6 118.4l3.7 3.7m-3.7 0l3.7 -3.7M407.1 118.7l3.7 3.7m-3.7 0l3.7 -3.7M407.6 118.5l3.7 3.7m-3.7 0l3.7 -3.7M408.1 118.1l3.7 3.7m-3.7 0l3.7 -3.7M408.6 120.1l3.7 3.7m-3.7 0l3.7 -3.7M409.1 116.4l3.7 3.7m-3.7 0l3.7 -3.7M409.6 119.8l3.7 3.7m-3.7 0l3.7 -3.7M410.1 120l3.7 3.7m-3.7 0l3.7 -3.7M410.6 120.4l3.7 3.7m-3.7 0l3.7 -3.7M411.1 120.9l3.7 3.7m-3.7 0l3.7 -3.7M411.6 119.3l3.7 3.7m-3.7 0l3.7 -3.7M412.1 119.9l3.7 3.7m-3.7 0l3.7 -3.7M412.6 121.7l3.7 3.7m-3.7 0l3.7 -3.7M413.1 121.8l3.7 3.7m-3.7 0l3.7 -3.7M413.6 121.7l3.7 3.7m-3.7 0l3.7 -3.7M414.1 118.6l3.7 3.7m-3.7 0l3.7 -3.7M414.6 121.9l3.7 3.7m-3.7 0l3.7 -3.7M415.1 123.6l3.7 3.7m-3.7 0l3.7 -3.7M415.6 124l3.7 3.7m-3.7 0l3.7 -3.7M416.1 123l3.7 3.7m-3.7 0l3.7 -3.7M416.6 119.7l3.7 3.7m-3.7 0l3.7 -3.7M417.1 123.7l3.7 3.7m-3.7 0l3.7 -3.7M417.6 122.2l3.7 3.7m-3.7 0l3.7 -3.7M418.1 117.7l3.7 3.7m-3.7 0l3.7 -3.7M418.6 122.1l3.7 3.7m-3.7 0l3.7 -3.7M419.1 119l3.7 3.7m-3.7 0l3.7 -3.7M419.6 118.8l3.7 3.7m-3.7 0l3.7 -3.7M420.1 119.8l3.7 3.7m-3.7 0l3.7 -3.7M420.6 123.5l3.7 3.7m-3.7 0l3.7 -3.7M421.1 121.3l3.7 3.7m-3.7 0l3.7 -3.7M421.6 122.6l3.7 3.7m-3.7 0l3.7 -3.7M422.1 125.9l3.7 3.7m-3.7 0l3.7 -3.7M422.6 126.6l3.7 3.7m-3.7 0l3.7 -3.7M423.1 124.2l3.7 3.7m-3.7 0l3.7 -3.7M423.6 123.9l3.7 3.7m-3.7 0l3.7 -3.7M424.1 121.8l3.7 3.7m-3.7 0l3.7 -3.7M424.6 122.3l3.7 3.7m-3.7 0l3.7 -3.7M425.1 124.2l3.7 3.7m-3.7 0l3.7 -3.7M425.6 124.4l3.7 3.7m-3.7 0l3.7 -3.7M426.1 124.2l3.7 3.7m-3.7 0l3.7 -3.7M426.6 126l3.7 3.7m-3.7 0l3.7 -3.7M427.1 123.1l3.7 3.7m-3.7 0l3.7 -3.7M427.6 124.1l3.7 3.7m-3.7 0l3.7 -3.7M428.1 125.6l3.7 3.7m-3.7 0l3.7 -3.7M428.6 125.8l3.7 3.7m-3.7 0l3.7 -3.7M429.1 127l3.7 3.7m-3.7 0l3.7 -3.7M429.6 126.2l3.7 3.7m-3.7 0l3.7 -3.7M430.1 124.9l3.7 3.7m-3.7 0l3.7 -3.7M430.6 126l3.7 3.7m-3.7 0l3.7 -3.7M431.1 123.5l3.7 3.7m-3.7 0l3.7 -3.7M431.6 121.7l3.7 3.7m-3.7 0l3.7 -3.7M432.1 125.2l3.7 3.7m-3.7 0l3.7 -3.7M432.6 124.4l3.7 3.7m-3.7 0l3.7 -3.7M433.1 125.2l3.7 3.7m-3.7 0l3.7 -3.7M433.6 121.6l3.7 3.7m-3.7 0l3.7 -3.7M434.1 123.4l3.7 3.7m-3.7 0l3.7 -3.7M434.6 123l3.7 3.7m-3.7 0l3.7 -3.7M435.1 122.4l3.7 3.7m-3.7 0l3.7 -3.7M435.6 119.5l3.7 3.7m-3.7 0l3.7 -3.7M436.1 122.4l3.7 3.7m-3.7 0l3.7 -3.7M436.6 125l3.7 3.7m-3.7 0l3.7 -3.7M437.1 124.8l3.7 3.7m-3.7 0l3.7 -3.7M437.6 123.4l3.7 3.7m-3.7 0l3.7 -3.7M438.1 124.4l3.7 3.7m-3.7 0l3.7 -3.7M438.6 126.1l3.7 3.7m-3.7 0l3.7 -3.7M439.1 119.9l3.7 3.7m-3.7 0l3.7 -3.7M439.6 123.8l3.7 3.7m-3.7 0l3.7 -3.7M440.1 125.3l3.7 3.7m-3.7 0l3.7 -3.7M440.6 126l3.7 3.7m-3.7 0l3.7 -3.7M441.1 128.5l3.7 3.7m-3.7 0l3.7 -3.7M441.6 128.3l3.7 3.7m-3.7 0l3.7 -3.7M442.1 127.3l3.7 3.7m-3.7 0l3.7 -3.7M442.6 127.3l3.7 3.7m-3.7 0l3.7 -3.7M443.1 128.3l3.7 3.7m-3.7 0l3.7 -3.7M443.6 126l3.7 3.7m-3.7 0l3.7 -3.7M444.1 126.6l3.7 3.7m-3.7 0l3.7 -3.7M444.6 128.3l3.7 3.7m-3.7 0l3.7 -3.7M445.1 130.7l3.7 3.7m-3.7 0l3.7 -3.7M445.6 127.5l3.7 3.7m-3.7 0l3.7 -3.7M446.1 127.4l3.7 3.7m-3.7 0l3.7 -3.7M446.6 127.6l3.7 3.7m-3.7 0l3.7 -3.7M447.1 129.8l3.7 3.7m-3.7 0l3.7 -3.7M447.6 127.7l3.7 3.7m-3.7 0l3.7 -3.7M448.1 130.3l3.7 3.7m-3.7 0l3.7 -3.7M448.6 126.2l3.7 3.7m-3.7 0l3.7 -3.7M449.1 127l3.7 3.7m-3.7 0l3.7 -3.7M449.6 126.7l3.7 3.7m-3.7 0l3.7 -3.7M450.1 128.4l3.7 3.7m-3.7 0l3.7 -3.7M450.6 129.2l3.7 3.7m-3.7 0l3.7 -3.7M451.1 124.7l3.7 3.7m-3.7 0l3.7 -3.7M451.6 125l3.7 3.7m-3.7 0l3.7 -3.7M452.1 126.9l3.7 3.7m-3.7 0l3.7 -3.7M452.6 125.2l3.7 3.7m-3.7 0l3.7 -3.7M453.1 123.2l3.7 3.7m-3.7 0l3.7 -3.7M453.6 127.5l3.7 3.7m-3.7 0l3.7 -3.7M454.1 127.1l3.7 3.7m-3.7 0l3.7 -3.7M454.6 127.4l3.7 3.7m-3.7 0l3.7 -3.7M455.1 125.9l3.7 3.7m-3.7 0l3.7 -3.7M455.6 128.5l3.7 3.7m-3.7 0l3.7 -3.7M456.1 126.6l3.7 3.7m-3.7 0l3.7 -3.7M456.6 129l3.7 3.7m-3.7 0l3.7 -3.7M457.1 124.4l3.7 3.7m-3.7 0l3.7 -3.7M457.6 122.7l3.7 3.7m-3.7 0l3.7 -3.7M458.1 123.1l3.7 3.7m-3.7 0l3.7 -3.7M458.6 120.2l3.7 3.7m-3.7 0l3.7 -3.7M459.1 121.3l3.7 3.7m-3.7 0l3.7 -3.7M459.6 119.6l3.7 3.7m-3.7 0l3.7 -3.7M460.1 117.4l3.7 3.7m-3.7 0l3.7 -3.7M460.6 118.8l3.7 3.7m-3.7 0l3.7 -3.7M461.1 118l3.7 3.7m-3.7 0l3.7 -3.7M461.6 120.3l3.7 3.7m-3.7 0l3.7 -3.7M462.1 117.8l3.7 3.7m-3.7 0l3.7 -3.7M462.6 117.8l3.7 3.7m-3.7 0l3.7 -3.7M463.1 120.7l3.7 3.7m-3.7 0l3.7 -3.7M463.6 123.2l3.7 3.7m-3.7 0l3.7 -3.7M464.1 123.8l3.7 3.7m-3.7 0l3.7 -3.7M464.6 121l3.7 3.7m-3.7 0l3.7 -3.7M465.1 121.1l3.7 3.7m-3.7 0l3.7 -3.7M465.6 123.6l3.7 3.7m-3.7 0l3.7 -3.7M466.1 121l3.7 3.7m-3.7 0l3.7 -3.7M466.6 119.1l3.7 3.7m-3.7 0l3.7 -3.7M467.1 120.6l3.7 3.7m-3.7 0l3.7 -3.7M467.6 121.3l3.7 3.7m-3.7 0l3.7 -3.7M468.1 119.1l3.7 3.7m-3.7 0l3.7 -3.7M468.6 117.1l3.7 3.7m-3.7 0l3.7 -3.7M469.1 116.7l3.7 3.7m-3.7 0l3.7 -3.7M469.6 120.3l3.7 3.7m-3.7 0l3.7 -3.7M470.1 118.1l3.7 3.7m-3.7 0l3.7 -3.7M470.6 119.2l3.7 3.7m-3.7 0l3.7 -3.7M471.1 120l3.7 3.7m-3.7 0l3.7 -3.7M471.6 121.1l3.7 3.7m-3.7 0l3.7 -3.7M472.1 119.8l3.7 3.7m-3.7 0l3.7 -3.7M472.6 121.4l3.7 3.7m-3.7 0l3.7 -3.7M473.1 119.2l3.7 3.7m-3.7 0l3.7 -3.7M473.6 119.9l3.7 3.7m-3.7 0l3.7 -3.7M474.1 118.6l3.7 3.7m-3.7 0l3.7 -3.7M474.6 122.3l3.7 3.7m-3.7 0l3.7 -3.7M475.1 120.8l3.7 3.7m-3.7 0l3.7 -3.7M475.6 119.5l3.7 3.7m-3.7 0l3.7 -3.7M476.1 119.9l3.7 3.7m-3.7 0l3.7 -3.7M476.6 120.1l3.7 3.7m-3.7 0l3.7 -3.7M477.1 121.8l3.7 3.7m-3.7 0l3.7 -3.7M477.6 117.9l3.7 3.7m-3.7 0l3.7 -3.7M478.1 118.2l3.7 3.7m-3.7 0l3.7 -3.7M478.6 119.1l3.7 3.7m-3.7 0l3.7 -3.7M479.1 124.7l3.7 3.7m-3.7 0l3.7 -3.7M479.6 123.1l3.7 3.7m-3.7 0l3.7 -3.7M480.1 121.5l3.7 3.7m-3.7 0l3.7 -3.7M480.6 122.9l3.7 3.7m-3.7 0l3.7 -3.7M481.1 125.8l3.7 3.7m-3.7 0l3.7 -3.7M481.6 122.3l3.7 3.7m-3.7 0l3.7 -3.7M482.1 121.7l3.7 3.7m-3.7 0l3.7 -3.7M482.6 124.4l3.7 3.7m-3.7 0l3.7 -3.7M483.1 123.4l3.7 3.7m-3.7 0l3.7 -3.7M483.6 123.8l3.7 3.7m-3.7 0l3.7 -3.7M484.1 121.7l3.7 3.7m-3.7 0l3.7 -3.7M484.6 125.9l3.7 3.7m-3.7 0l3.7 -3.7M485.1 126.2l3.7 3.7m-3.7 0l3.7 -3.7M485.6 124.6l3.7 3.7m-3.7 0l3.7 -3.7M486.1 124.7l3.7 3.7m-3.7 0l3.7 -3.7M486.6 119.5l3.7 3.7m-3.7 0l3.7 -3.7M487.1 123.3l3.7 3.7m-3.7 0l3.7 -3.7M487.6 121.9l3.7 3.7m-3.7 0l3.7 -3.7M488.1 122.8l3.7 3.7m-3.7 0l3.7 -3.7M488.6 123.4l3.7 3.7m-3.7 0l3.7 -3.7M489.1 121.6l3.7 3.7m-3.7 0l3.7 -3.7M489.6 118.6l3.7 3.7m-3.7 0l3.7 -3.7M490.1 121.6l3.7 3.7m-3.7 0l3.7 -3.7M490.6 119.6l3.7 3.7m-3.7 0l3.7 -3.7M491.1 120l3.7 3.7m-3.7 0l3.7 -3.7M491.6 119.3l3.7 3.7m-3.7 0l3.7 -3.7M492.1 119.5l3.7 3.7m-3.7 0l3.7 -3.7M492.6 115.6l3.7 3.7m-3.7 0l3.7 -3.7M493.1 121.3l3.7 3.7m-3.7 0l3.7 -3.7M493.6 120.2l3.7 3.7m-3.7 0l3.7 -3.7M494.1 122.1l3.7 3.7m-3.7 0l3.7 -3.7M494.6 124.3l3.7 3.7m-3.7 0l3.7 -3.7M495.1 121.5l3.7 3.7m-3.7 0l3.7 -3.7M495.6 117.8l3.7 3.7m-3.7 0l3.7 -3.7M496.1 118.5l3.7 3.7m-3.7 0l3.7 -3.7M496.6 117.4l3.7 3.7m-3.7 0l3.7 -3.7M497.1 118.2l3.7 3.7m-3.7 0l3.7 -3.7M497.6 119.2l3.7 3.7m-3.7 0l3.7 -3.7M498.1 115.3l3.7 3.7m-3.7 0l3.7 -3.7M498.6 119l3.7 3.7m-3.7 0l3.7 -3.7M499.1 115.8l3.7 3.7m-3.7 0l3.7 -3.7M499.6 118.7l3.7 3.7m-3.7 0l3.7 -3.7M500.1 118.2l3.7 3.7m-3.7 0l3.7 -3.7M500.6 118l3.7 3.7m-3.7 0l3.7 -3.7M501.1 118.4l3.7 3.7m-3.7 0l3.7 -3.7M501.6 117.6l3.7 3.7m-3.7 0l3.7 -3.7M502.1 117.3l3.7 3.7m-3.7 0l3.7 -3.7M502.6 115.1l3.7 3.7m-3.7 0l3.7 -3.7M503.1 117.6l3.7 3.7m-3.7 0l3.7 -3.7M503.6 121.4l3.7 3.7m-3.7 0l3.7 -3.7M504.1 122.7l3.7 3.7m-3.7 0l3.7 -3.7M504.6 122.4l3.7 3.7m-3.7 0l3.7 -3.7M505.1 121.8l3.7 3.7m-3.7 0l3.7 -3.7M505.6 119.2l3.7 3.7m-3.7 0l3.7 -3.7M506.1 122.7l3.7 3.7m-3.7 0l3.7 -3.7M506.6 120.4l3.7 3.7m-3.7 0l3.7 -3.7M507.1 120.3l3.7 3.7m-3.7 0l3.7 -3.7M507.6 119.8l3.7 3.7m-3.7 0l3.7 -3.7M508.1 120.4l3.7 3.7m-3.7 0l3.7 -3.7M508.6 119.5l3.7 3.7m-3.7 0l3.7 -3.7M509.1 120.1l3.7 3.7m-3.7 0l3.7 -3.7M509.6 118.2l3.7 3.7m-3.7 0l3.7 -3.7M510.1 119.2l3.7 3.7m-3.7 0l3.7 -3.7M510.6 124.3l3.7 3.7m-3.7 0l3.7 -3.7M511.1 121.1l3.7 3.7m-3.7 0l3.7 -3.7M511.6 120.8l3.7 3.7m-3.7 0l3.7 -3.7M512.1 122.3l3.7 3.7m-3.7 0l3.7 -3.7M512.6 123l3.7 3.7m-3.7 0l3.7 -3.7M513.1 119.9l3.7 3.7m-3.7 0l3.7 -3.7M513.6 121.1l3.7 3.7m-3.7 0l3.7 -3.7M514.1 123.3l3.7 3.7m-3.7 0l3.7 -3.7M514.6 122.7l3.7 3.7m-3.7 0l3.7 -3.7M515.1 122.6l3.7 3.7m-3.7 0l3.7 -3.7M515.6 125.5l3.7 3.7m-3.7 0l3.7 -3.7M516.1 122.1l3.7 3.7m-3.7 0l3.7 -3.7M516.6 123.2l3.7 3.7m-3.7 0l3.7 -3.7M517.1 122.1l3.7 3.7m-3.7 0l3.7 -3.7M517.6 125.8l3.7 3.7m-3.7 0l3.7 -3.7M518.1 120l3.7 3.7m-3.7 0l3.7 -3.7M518.6 121.6l3.7 3.7m-3.7 0l3.7 -3.7M519.1 121.7l3.7 3.7m-3.7 0l3.7 -3.7M519.6 123.9l3.7 3.7m-3.7 0l3.7 -3.7M520.1 124.4l3.7 3.7m-3.7 0l3.7 -3.7M520.6 126.3l3.7 3.7m-3.7 0l3.7 -3.7M521.1 121.4l3.7 3.7m-3.7 0l3.7 -3.7M521.6 125.2l3.7 3.7m-3.7 0l3.7 -3.7M522.1 123.7l3.7 3.7m-3.7 0l3.7 -3.7M522.6 122.9l3.7 3.7m-3.7 0l3.7 -3.7M523.1 125l3.7 3.7m-3.7 0l3.7 -3.7M523.6 122.6l3.7 3.7m-3.7 0l3.7 -3.7M524.1 120.1l3.7 3.7m-3.7 0l3.7 -3.7M524.6 122.6l3.7 3.7m-3.7 0l3.7 -3.7M525.1 120.6l3.7 3.7m-3.7 0l3.7 -3.7M525.6 121.8l3.7 3.7m-3.7 0l3.7 -3.7M526.1 123.8l3.7 3.7m-3.7 0l3.7 -3.7M526.6 124.3l3.7 3.7m-3.7 0l3.7 -3.7M527.1 127.3l3.7 3.7m-3.7 0l3.7 -3.7M527.6 124.9l3.7 3.7m-3.7 0l3.7 -3.7M528.1 122.4l3.7 3.7m-3.7 0l3.7 -3.7M528.6 123.3l3.7 3.7m-3.7 0l3.7 -3.7M529.1 122.9l3.7 3.7m-3.7 0l3.7 -3.7M529.6 122.2l3.7 3.7m-3.7 0l3.7 -3.7M530.1 125.1l3.7 3.7m-3.7 0l3.7 -3.7M530.6 123.7l3.7 3.7m-3.7 0l3.7 -3.7M531.1 121.1l3.7 3.7m-3.7 0l3.7 -3.7M531.6 125.6l3.7 3.7m-3.7 0l3.7 -3.7M532.1 124.9l3.7 3.7m-3.7 0l3.7 -3.7M532.6 126.1l3.7 3.7m-3.7 0l3.7 -3.7M533.1 126.1l3.7 3.7m-3.7 0l3.7 -3.7M533.6 127.5l3.7 3.7m-3.7 0l3.7 -3.7M534.1 126.9l3.7 3.7m-3.7 0l3.7 -3.7M534.6 129.3l3.7 3.7m-3.7 0l3.7 -3.7M535.1 128.4l3.7 3.7m-3.7 0l3.7 -3.7M535.6 128.5l3.7 3.7m-3.7 0l3.7 -3.7M536.1 128.7l3.7 3.7m-3.7 0l3.7 -3.7M536.6 125.3l3.7 3.7m-3.7 0l3.7 -3.7M537.1 127l3.7 3.7m-3.7 0l3.7 -3.7M537.6 126.7l3.7 3.7m-3.7 0l3.7 -3.7M538.1 127.6l3.7 3.7m-3.7 0l3.7 -3.7M538.6 124.7l3.7 3.7m-3.7 0l3.7 -3.7M539.1 129.9l3.7 3.7m-3.7 0l3.7 -3.7M539.6 127.9l3.7 3.7m-3.7 0l3.7 -3.7M540.1 125.4l3.7 3.7m-3.7 0l3.7 -3.7M540.6 123.9l3.7 3.7m-3.7 0l3.7 -3.7M541.1 125.9l3.7 3.7m-3.7 0l3.7 -3.7M541.6 126.3l3.7 3.7m-3.7 0l3.7 -3.7M542.1 125.3l3.7 3.7m-3.7 0l3.7 -3.7M542.6 126.7l3.7 3.7m-3.7 0l3.7 -3.7M543.1 125.5l3.7 3.7m-3.7 0l3.7 -3.7M543.6 127.7l3.7 3.7m-3.7 0l3.7 -3.7M544.1 125.7l3.7 3.7m-3.7 0l3.7 -3.7M544.6 126.8l3.7 3.7m-3.7 0l3.7 -3.7M545.1 128.9l3.7 3.7m-3.7 0l3.7 -3.7M545.6 132.6l3.7 3.7m-3.7 0l3.7 -3.7M546.1 127.1l3.7 3.7m-3.7 0l3.7 -3.7M546.6 127.5l3.7 3.7m-3.7 0l3.7 -3.7M547.1 126.5l3.7 3.7m-3.7 0l3.7 -3.7M547.6 129.2l3.7 3.7m-3.7 0l3.7 -3.7M548.1 126l3.7 3.7m-3.7 0l3.7 -3.7M548.6 126.7l3.7 3.7m-3.7 0l3.7 -3.7M549.1 127.5l3.7 3.7m-3.7 0l3.7 -3.7M549.6 125.7l3.7 3.7m-3.7 0l3.7 -3.7M550.1 125.4l3.7 3.7m-3.7 0l3.7 -3.7M550.6 126l3.7 3.7m-3.7 0l3.7 -3.7M551.1 122.8l3.7 3.7m-3.7 0l3.7 -3.7M551.6 123.3l3.7 3.7m-3.7 0l3.7 -3.7M552.1 124.9l3.7 3.7m-3.7 0l3.7 -3.7M552.6 126.1l3.7 3.7m-3.7 0l3.7 -3.7M553.1 125.9l3.7 3.7m-3.7 0l3.7 -3.7M553.6 123l3.7 3.7m-3.7 0l3.7 -3.7M554.1 124.9l3.7 3.7m-3.7 0l3.7 -3.7M554.6 127.5l3.7 3.7m-3.7 0l3.7 -3.7M555.1 127.7l3.7 3.7m-3.7 0l3.7 -3.7M555.6 127l3.7 3.7m-3.7 0l3.7 -3.7M556.1 125.6l3.7 3.7m-3.7 0l3.7 -3.7M556.6 128.2l3.7 3.7m-3.7 0l3.7 -3.7M557.1 126.3l3.7 3.7m-3.7 0l3.7 -3.7M557.6 125l3.7 3.7m-3.7 0l3.7 -3.7M558.1 125.3l3.7 3.7m-3.7 0l3.7 -3.7M558.6 129.4l3.7 3.7m-3.7 0l3.7 -3.7M559.1 128l3.7 3.7m-3.7 0l3.7 -3.7M559.6 130l3.7 3.7m-3.7 0l3.7 -3.7M560.1 127.5l3.7 3.7m-3.7 0l3.7 -3.7M560.6 129.9l3.7 3.7m-3.7 0l3.7 -3.7M561.1 127.4l3.7 3.7m-3.7 0l3.7 -3.7M561.6 127.9l3.7 3.7m-3.7 0l3.7 -3.7M562.1 132.9l3.7 3.7m-3.7 0l3.7 -3.7M562.6 130.8l3.7 3.7m-3.7 0l3.7 -3.7M563.1 128.6l3.7 3.7m-3.7 0l3.7 -3.7M563.6 128.9l3.7 3.7m-3.7 0l3.7 -3.7M564.1 129.5l3.7 3.7m-3.7 0l3.7 -3.7M564.6 130.9l3.7 3.7m-3.7 0l3.7 -3.7M565.1 127.7l3.7 3.7m-3.7 0l3.7 -3.7M565.6 124.5l3.7 3.7m-3.7 0l3.7 -3.7M566.1 126l3.7 3.7m-3.7 0l3.7 -3.7M566.6 126.1l3.7 3.7m-3.7 0l3.7 -3.7M567.1 125.9l3.7 3.7m-3.7 0l3.7 -3.7M567.6 127.9l3.7 3.7m-3.7 0l3.7 -3.7M568.1 126.3l3.7 3.7m-3.7 0l3.7 -3.7M568.6 126.9l3.7 3.7m-3.7 0l3.7 -3.7M569.1 123.2l3.7 3.7m-3.7 0l3.7 -3.7M569.6 125.9l3.7 3.7m-3.7 0l3.7 -3.7M570.1 128.3l3.7 3.7m-3.7 0l3.7 -3.7M570.6 126.3l3.7 3.7m-3.7 0l3.7 -3.7M571.1 125.1l3.7 3.7m-3.7 0l3.7 -3.7M571.6 124.4l3.7 3.7m-3.7 0l3.7 -3.7M572.1 127l3.7 3.7m-3.7 0l3.7 -3.7M572.6 122l3.7 3.7m-3.7 0l3.7 -3.7M573.1 122.5l3.7 3.7m-3.7 0l3.7 -3.7M573.6 123l3.7 3.7m-3.7 0l3.7 -3.7M574.1 123.2l3.7 3.7m-3.7 0l3.7 -3.7M574.6 121.1l3.7 3.7m-3.7 0l3.7 -3.7M575.1 122.1l3.7 3.7m-3.7 0l3.7 -3.7M575.6 121l3.7 3.7m-3.7 0l3.7 -3.7M576.1 121.5l3.7 3.7m-3.7 0l3.7 -3.7M576.6 121l3.7 3.7m-3.7 0l3.7 -3.7M577.1 118.9l3.7 3.7m-3.7 0l3.7 -3.7M577.6 120.4l3.7 3.7m-3.7 0l3.7 -3.7M578.1 122.2l3.7 3.7m-3.7 0l3.7 -3.7M578.6 119.1l3.7 3.7m-3.7 0l3.7 -3.7M579.1 120l3.7 3.7m-3.7 0l3.7 -3.7M579.6 121.6l3.7 3.7m-3.7 0l3.7 -3.7M580.1 118.7l3.7 3.7m-3.7 0l3.7 -3.7M580.6 120.5l3.7 3.7m-3.7 0l3.7 -3.7M581.1 118.3l3.7 3.7m-3.7 0l3.7 -3.7M581.6 122.1l3.7 3.7m-3.7 0l3.7 -3.7M582.1 125l3.7 3.7m-3.7 0l3.7 -3.7M582.6 125.6l3.7 3.7m-3.7 0l3.7 -3.7M583.1 122.1l3.7 3.7m-3.7 0l3.7 -3.7M583.6 123.5l3.7 3.7m-3.7 0l3.7 -3.7M584.1 122.5l3.7 3.7m-3.7 0l3.7 -3.7M584.6 122.3l3.7 3.7m-3.7 0l3.7 -3.7M585.1 124.9l3.7 3.7m-3.7 0l3.7 -3.7M585.6 119.9l3.7 3.7m-3.7 0l3.7 -3.7M586.1 123.6l3.7 3.7m-3.7 0l3.7 -3.7M586.6 121.8l3.7 3.7m-3.7 0l3.7 -3.7M587.1 124.2l3.7 3.7m-3.7 0l3.7 -3.7M587.6 122.1l3.7 3.7m-3.7 0l3.7 -3.7M588.1 120.1l3.7 3.7m-3.7 0l3.7 -3.7M588.6 121.1l3.7 3.7m-3.7 0l3.7 -3.7M589.1 121.8l3.7 3.7m-3.7 0l3.7 -3.7M589.6 120.4l3.7 3.7m-3.7 0l3.7 -3.7M590.1 120.9l3.7 3.7m-3.7 0l3.7 -3.7M590.6 118.8l3.7 3.7m-3.7 0l3.7 -3.7M591.1 115.1l3.7 3.7m-3.7 0l3.7 -3.7M591.6 119.5l3.7 3.7m-3.7 0l3.7 -3.7M592.1 119.4l3.7 3.7m-3.7 0l3.7 -3.7M592.6 118.4l3.7 3.7m-3.7 0l3.7 -3.7M593.1 118.1l3.7 3.7m-3.7 0l3.7 -3.7M593.6 119.6l3.7 3.7m-3.7 0l3.7 -3.7M594.1 117l3.7 3.7m-3.7 0l3.7 -3.7M594.6 115.9l3.7 3.7m-3.7 0l3.7 -3.7M595.1 116.3l3.7 3.7m-3.7 0l3.7 -3.7M595.6 118.6l3.7 3.7m-3.7 0l3.7 -3.7M596.1 114l3.7 3.7m-3.7 0l3.7 -3.7M596.6 117.9l3.7 3.7m-3.7 0l3.7 -3.7M597.1 114.8l3.7 3.7m-3.7 0l3.7 -3.7M597.6 113.3l3.7 3.7m-3.7 0l3.7 -3.7M598.1 117.1l3.7 3.7m-3.7 0l3.7 -3.7M598.6 115.7l3.7 3.7m-3.7 0l3.7 -3.7M599.1 113.9l3.7 3.7m-3.7 0l3.7 -3.7M599.6 115.7l3.7 3.7m-3.7 0l3.7 -3.7M600.1 118.6l3.7 3.7m-3.7 0l3.7 -3.7M600.6 120.3l3.7 3.7m-3.7 0l3.7 -3.7M601.1 118.3l3.7 3.7m-3.7 0l3.7 -3.7M601.6 120.2l3.7 3.7m-3.7 0l3.7 -3.7M602.1 121.6l3.7 3.7m-3.7 0l3.7 -3.7M602.6 119.8l3.7 3.7m-3.7 0l3.7 -3.7M603.1 121.9l3.7 3.7m-3.7 0l3.7 -3.7M603.6 121.9l3.7 3.7m-3.7 0l3.7 -3.7M604.1 121.4l3.7 3.7m-3.7 0l3.7 -3.7M604.6 122.2l3.7 3.7m-3.7 0l3.7 -3.7M605.1 124l3.7 3.7m-3.7 0l3.7 -3.7M605.6 125l3.7 3.7m-3.7 0l3.7 -3.7M606.1 124.9l3.7 3.7m-3.7 0l3.7 -3.7M606.6 125.9l3.7 3.7m-3.7 0l3.7 -3.7M607.1 129.7l3.7 3.7m-3.7 0l3.7 -3.7M607.6 129.9l3.7 3.7m-3.7 0l3.7 -3.7M608.1 133.2l3.7 3.7m-3.7 0l3.7 -3.7M608.6 136l3.7 3.7m-3.7 0l3.7 -3.7M609.1 147.4l3.7 3.7m-3.7 0l3.7 -3.7M609.6 165.7l3.7 3.7m-3.7 0l3.7 -3.7M610.1 170.2l3.7 3.7m-3.7 0l3.7 -3.7M610.6 178.6l3.7 3.7m-3.7 0l3.7 -3.7M611.1 182.8l3.7 3.7m-3.7 0l3.7 -3.7M611.6 192.7l3.7 3.7m-3.7 0l3.7 -3.7M612.1 199.3l3.7 3.7m-3.7 0l3.7 -3.7M612.6 179.8l3.7 3.7m-3.7 0l3.7 -3.7M613.1 167.4l3.7 3.7m-3.7 0l3.7 -3.7M613.6 164.7l3.7 3.7m-3.7 0l3.7 -3.7M614.1 160l3.7 3.7m-3.7 0l3.7 -3.7M614.6 155l3.7 3.7m-3.7 0l3.7 -3.7M615.1 148.4l3.7 3.7m-3.7 0l3.7 -3.7M615.6 144l3.7 3.7m-3.7 0l3.7 -3.7M616.1 144.1l3.7 3.7m-3.7 0l3.7 -3.7M616.6 142.4l3.7 3.7m-3.7 0l3.7 -3.7M617.1 143.9l3.7 3.7m-3.7 0l3.7 -3.7M617.6 137.5l3.7 3.7m-3.7 0l3.7 -3.7M618.1 141.3l3.7 3.7m-3.7 0l3.7 -3.7M618.6 138l3.7 3.7m-3.7 0l3.7 -3.7M619.1 140.9l3.7 3.7m-3.7 0l3.7 -3.7M619.6 138.7l3.7 3.7m-3.7 0l3.7 -3.7M620.1 139.7l3.7 3.7m-3.7 0l3.7 -3.7M620.6 146l3.7 3.7m-3.7 0l3.7 -3.7M621.1 148.1l3.7 3.7m-3.7 0l3.7 -3.7M621.6 152l3.7 3.7m-3.7 0l3.7 -3.7M622.1 154.8l3.7 3.7m-3.7 0l3.7 -3.7M622.6 161.4l3.7 3.7m-3.7 0l3.7 -3.7M623.1 164.1l3.7 3.7m-3.7 0l3.7 -3.7M623.6 166.2l3.7 3.7m-3.7 0l3.7 -3.7M624.1 165.3l3.7 3.7m-3.7 0l3.7 -3.7M624.6 168.2l3.7 3.7m-3.7 0l3.7 -3.7M625.1 167.5l3.7 3.7m-3.7 0l3.7 -3.7M625.6 167.9l3.7 3.7m-3.7 0l3.7 -3.7M626.1 169.8l3.7 3.7m-3.7 0l3.7 -3.7M626.6 172.8l3.7 3.7m-3.7 0l3.7 -3.7M627.1 172.3l3.7 3.7m-3.7 0l3.7 -3.7M627.6 174.3l3.7 3.7m-3.7 0l3.7 -3.7M628.1 176.7l3.7 3.7m-3.7 0l3.7 -3.7M628.6 179.5l3.7 3.7m-3.7 0l3.7 -3.7M629.1 184l3.7 3.7m-3.7 0l3.7 -3.7M629.6 193.6l3.7 3.7m-3.7 0l3.7 -3.7M630.1 198.9l3.7 3.7m-3.7 0l3.7 -3.7M630.6 208.1l3.7 3.7m-3.7 0l3.7 -3.7M631.1 209.8l3.7 3.7m-3.7 0l3.7 -3.7M631.6 215.7l3.7 3.7m-3.7 0l3.7 -3.7M632.1 219.9l3.7 3.7m-3.7 0l3.7 -3.7M632.6 222.6l3.7 3.7m-3.7 0l3.7 -3.7M633.1 231l3.7 3.7m-3.7 0l3.7 -3.7M633.6 239.3l3.7 3.7m-3.7 0l3.7 -3.7M634.1 254.5l3.7 3.7m-3.7 0l3.7 -3.7M634.6 274.5l3.7 3.7m-3.7 0l3.7 -3.7M635.1 291.6l3.7 3.7m-3.7 0l3.7 -3.7M635.6 301.5l3.7 3.7m-3.7 0l3.7 -3.7M636.1 313.2l3.7 3.7m-3.7 0l3.7 -3.7M636.6 315.4l3.7 3.7m-3.7 0l3.7 -3.7M637.1 318.3l3.7 3.7m-3.7 0l3.7 -3.7M637.6 320.3l3.7 3.7m-3.7 0l3.7 -3.7M638.1 318.9l3.7 3.7m-3.7 0l3.7 -3.7M638.6 324.4l3.7 3.7m-3.7 0l3.7 -3.7M639.1 321.3l3.7 3.7m-3.7 0l3.7 -3.7M639.6 329.5l3.7 3.7m-3.7 0l3.7 -3.7M640.1 329.6l3.7 3.7m-3.7 0l3.7 -3.7M640.6 331.8l3.7 3.7m-3.7 0l3.7 -3.7M641.1 336.7l3.7 3.7m-3.7 0l3.7 -3.7M641.6 342l3.7 3.7m-3.7 0l3.7 -3.7M642.1 341.5l3.7 3.7m-3.7 0l3.7 -3.7M642.6 343.6l3.7 3.7m-3.7 0l3.7 -3.7M643.1 347.1l3.7 3.7m-3.7 0l3.7 -3.7M643.6 346.6l3.7 3.7m-3.7 0l3.7 -3.7M644.1 351.2l3.7 3.7m-3.7 0l3.7 -3.7M644.6 360.7l3.7 3.7m-3.7 0l3.7 -3.7M645.1 357.7l3.7 3.7m-3.7 0l3.7 -3.7M645.6 364.5l3.7 3.7m-3.7 0l3.7 -3.7M646.1 361.5l3.7 3.7m-3.7 0l3.7 -3.7M646.6 367.1l3.7 3.7m-3.7 0l3.7 -3.7M647.1 367.6l3.7 3.7m-3.7 0l3.7 -3.7M647.6 370.1l3.7 3.7m-3.7 0l3.7 -3.7M648.1 373.7l3.7 3.7m-3.7 0l3.7 -3.7M648.6 379.3l3.7 3.7m-3.7 0l3.7 -3.7M649.1 378l3.7 3.7m-3.7 0l3.7 -3.7M649.6 378.7l3.7 3.7m-3.7 0l3.7 -3.7M650.1 376.6l3.7 3.7m-3.7 0l3.7 -3.7M650.6 381l3.7 3.7m-3.7 0l3.7 -3.7M651.1 380l3.7 3.7m-3.7 0l3.7 -3.7M651.6 383.7l3.7 3.7m-3.7 0l3.7 -3.7M652.1 382.7l3.7 3.7m-3.7 0l3.7 -3.7M652.6 388.4l3.7 3.7m-3.7 0l3.7 -3.7M653.1 380l3.7 3.7m-3.7 0l3.7 -3.7M653.6 383.9l3.7 3.7m-3.7 0l3.7 -3.7M654.1 387.8l3.7 3.7m-3.7 0l3.7 -3.7M654.6 385.4l3.7 3.7m-3.7 0l3.7 -3.7M655.1 384.1l3.7 3.7m-3.7 0l3.7 -3.7M655.6 385.3l3.7 3.7m-3.7 0l3.7 -3.7M656.1 379.6l3.7 3.7m-3.7 0l3.7 -3.7M656.6 385.2l3.7 3.7m-3.7 0l3.7 -3.7M657.1 396.4l3.7 3.7m-3.7 0l3.7 -3.7M657.6 393.9l3.7 3.7m-3.7 0l3.7 -3.7M658.1 385.2l3.7 3.7m-3.7 0l3.7 -3.7M658.6 384.9l3.7 3.7m-3.7 0l3.7 -3.7M659.1 386.2l3.7 3.7m-3.7 0l3.7 -3.7M659.6 392.4l3.7 3.7m-3.7 0l3.7 -3.7M660.1 385.8l3.7 3.7m-3.7 0l3.7 -3.7M660.6 385.6l3.7 3.7m-3.7 0l3.7 -3.7M661.1 392.3l3.7 3.7m-3.7 0l3.7 -3.7M661.6 393.6l3.7 3.7m-3.7 0l3.7 -3.7M662.1 389.4l3.7 3.7m-3.7 0l3.7 -3.7M662.6 385.7l3.7 3.7m-3.7 0l3.7 -3.7M663.1 382.8l3.7 3.7m-3.7 0l3.7 -3.7M663.6 385.1l3.7 3.7m-3.7 0l3.7 -3.7M664.1 377.9l3.7 3.7m-3.7 0l3.7 -3.7M664.6 389.3l3.7 3.7m-3.7 0l3.7 -3.7M665.1 384.8l3.7 3.7m-3.7 0l3.7 -3.7M665.6 389.7l3.7 3.7m-3.7 0l3.7 -3.7M666.1 397.1l3.7 3.7m-3.7 0l3.7 -3.7M666.6 396.6l3.7 3.7m-3.7 0l3.7 -3.7M667.1 387.6l3.7 3.7m-3.7 0l3.7 -3.7M667.6 395.2l3.7 3.7m-3.7 0l3.7 -3.7M668.1 397.6l3.7 3.7m-3.7 0l3.7 -3.7M668.6 390.4l3.7 3.7m-3.7 0l3.7 -3.7M669.1 388.4l3.7 3.7m-3.7 0l3.7 -3.7M669.6 391.1l3.7 3.7m-3.7 0l3.7 -3.7M670.1 384.5l3.7 3.7m-3.7 0l3.7 -3.7M670.6 396.6l3.7 3.7m-3.7 0l3.7 -3.7M671.1 381.9l3.7 3.7m-3.7 0l3.7 -3.7M671.6 385.7l3.7 3.7m-3.7 0l3.7 -3.7M672.1 389.3l3.7 3.7m-3.7 0l3.7 -3.7M672.6 390.4l3.7 3.7m-3.7 0l3.7 -3.7M673.1 393l3.7 3.7m-3.7 0l3.7 -3.7M673.6 394.8l3.7 3.7m-3.7 0l3.7 -3.7M674.1 394l3.7 3.7m-3.7 0l3.7 -3.7M674.6 400.8l3.7 3.7m-3.7 0l3.7 -3.7M675.1 388.3l3.7 3.7m-3.7 0l3.7 -3.7M675.6 396.9l3.7 3.7m-3.7 0l3.7 -3.7M676.1 395.4l3.7 3.7m-3.7 0l3.7 -3.7M676.6 400l3.7 3.7m-3.7 0l3.7 -3.7M677.1 402.3l3.7 3.7m-3.7 0l3.7 -3.7M677.6 399.2l3.7 3.7m-3.7 0l3.7 -3.7M678.1 400.9l3.7 3.7m-3.7 0l3.7 -3.7M678.6 406.7l3.7 3.7m-3.7 0l3.7 -3.7M679.1 405.8l3.7 3.7m-3.7 0l3.7 -3.7M679.6 401.5l3.7 3.7m-3.7 0l3.7 -3.7M680.1 412.8l3.7 3.7m-3.7 0l3.7 -3.7M680.6 416.3l3.7 3.7m-3.7 0l3.7 -3.7M681.1 401.6l3.7 3.7m-3.7 0l3.7 -3.7M681.6 407.1l3.7 3.7m-3.7 0l3.7 -3.7M682.1 416.9l3.7 3.7m-3.7 0l3.7 -3.7M682.6 411.5l3.7 3.7m-3.7 0l3.7 -3.7M683.1 409l3.7 3.7m-3.7 0l3.7 -3.7M683.6 406.4l3.7 3.7m-3.7 0l3.7 -3.7M684.1 403.8l3.7 3.7m-3.7 0l3.7 -3.7M684.6 403.6l3.7 3.7m-3.7 0l3.7 -3.7M685.1 400.9l3.7 3.7m-3.7 0l3.7 -3.7M685.6 405.3l3.7 3.7m-3.7 0l3.7 -3.7M686.1 400.3l3.7 3.7m-3.7 0l3.7 -3.7M686.6 398.8l3.7 3.7m-3.7 0l3.7 -3.7M687.1 394.1l3.7 3.7m-3.7 0l3.7 -3.7M687.6 397.3l3.7 3.7m-3.7 0l3.7 -3.7M688.1 393l3.7 3.7m-3.7 0l3.7 -3.7M688.6 395.6l3.7 3.7m-3.7 0l3.7 -3.7M689.1 401.4l3.7 3.7m-3.7 0l3.7 -3.7M689.6 400.1l3.7 3.7m-3.7 0l3.7 -3.7M690.1 401.5l3.7 3.7m-3.7 0l3.7 -3.7M690.6 401.6l3.7 3.7m-3.7 0l3.7 -3.7M691.1 400.8l3.7 3.7m-3.7 0l3.7 -3.7M691.6 400.2l3.7 3.7m-3.7 0l3.7 -3.7M692.1 399.4l3.7 3.7m-3.7 0l3.7 -3.7M692.6 403.9l3.7 3.7m-3.7 0l3.7 -3.7M693.1 396.8l3.7 3.7m-3.7 0l3.7 -3.7M693.6 406.1l3.7 3.7m-3.7 0l3.7 -3.7M694.1 401.7l3.7 3.7m-3.7 0l3.7 -3.7M694.6 397.9l3.7 3.7m-3.7 0l3.7 -3.7M695.1 397.9l3.7 3.7m-3.7 0l3.7 -3.7M695.6 396.4l3.7 3.7m-3.7 0l3.7 -3.7M696.1 399.3l3.7 3.7m-3.7 0l3.7 -3.7M696.6 395.5l3.7 3.7m-3.7 0l3.7 -3.7M697.1 403l3.7 3.7m-3.7 0l3.7 -3.7M697.6 395.8l3.7 3.7m-3.7 0l3.7 -3.7M698.1 388.1l3.7 3.7m-3.7 0l3.7 -3.7M698.6 392.5l3.7 3.7m-3.7 0l3.7 -3.7M699.1 386.3l3.7 3.7m-3.7 0l3.7 -3.7M699.6 393.3l3.7 3.7m-3.7 0l3.7 -3.7M700.1 398.9l3.7 3.7m-3.7 0l3.7 -3.7M700.6 398.8l3.7 3.7m-3.7 0l3.7 -3.7M701.1 391l3.7 3.7m-3.7 0l3.7 -3.7M701.6 392.2l3.7 3.7m-3.7 0l3.7 -3.7M702.1 403l3.7 3.7m-3.7 0l3.7 -3.7M702.6 398.9l3.7 3.7m-3.7 0l3.7 -3.7M703.1 397.9l3.7 3.7m-3.7 0l3.7 -3.7M703.6 403.3l3.7 3.7m-3.7 0l3.7 -3.7M704.1 411.5l3.7 3.7m-3.7 0l3.7 -3.7M704.6 409.6l3.7 3.7m-3.7 0l3.7 -3.7M705.1 406.1l3.7 3.7m-3.7 0l3.7 -3.7M705.6 407.2l3.7 3.7m-3.7 0l3.7 -3.7M706.1 408.9l3.7 3.7m-3.7 0l3.7 -3.7M706.6 404.2l3.7 3.7m-3.7 0l3.7 -3.7M707.1 401.7l3.7 3.7m-3.7 0l3.7 -3.7M707.6 405.7l3.7 3.7m-3.7 0l3.7 -3.7M708.1 401.9l3.7 3.7m-3.7 0l3.7 -3.7M708.6 405.1l3.7 3.7m-3.7 0l3.7 -3.7M709.1 406.2l3.7 3.7m-3.7 0l3.7 -3.7M709.6 416.9l3.7 3.7m-3.7 0l3.7 -3.7M710.1 405.7l3.7 3.7m-3.7 0l3.7 -3.7M710.6 408.1l3.7 3.7m-3.7 0l3.7 -3.7M711.1 408.1l3.7 3.7m-3.7 0l3.7 -3.7M711.6 410.9l3.7 3.7m-3.7 0l3.7 -3.7M712.1 414.5l3.7 3.7m-3.7 0l3.7 -3.7M712.6 409.2l3.7 3.7m-3.7 0l3.7 -3.7M713.1 407.3l3.7 3.7m-3.7 0l3.7 -3.7M713.6 403l3.7 3.7m-3.7 0l3.7 -3.7M714.1 404.8l3.7 3.7m-3.7 0l3.7 -3.7M714.6 411l3.7 3.7m-3.7 0l3.7 -3.7M715.1 410.3l3.7 3.7m-3.7 0l3.7 -3.7M715.6 406.3l3.7 3.7m-3.7 0l3.7 -3.7M716.1 408.6l3.7 3.7m-3.7 0l3.7 -3.7M716.6 410.7l3.7 3.7m-3.7 0l3.7 -3.7M717.1 413.5l3.7 3.7m-3.7 0l3.7 -3.7M717.6 409.9l3.7 3.7m-3.7 0l3.7 -3.7M718.1 411.3l3.7 3.7m-3.7 0l3.7 -3.7M718.6 404.6l3.7 3.7m-3.7 0l3.7 -3.7M719.1 406.1l3.7 3.7m-3.7 0l3.7 -3.7M719.6 418.1l3.7 3.7m-3.7 0l3.7 -3.7M720.1 403.9l3.7 3.7m-3.7 0l3.7 -3.7M720.6 410.3l3.7 3.7m-3.7 0l3.7 -3.7M721.1 413.4l3.7 3.7m-3.7 0l3.7 -3.7M721.6 412.3l3.7 3.7m-3.7 0l3.7 -3.7M722.1 411.1l3.7 3.7m-3.7 0l3.7 -3.7M722.6 414.7l3.7 3.7m-3.7 0l3.7 -3.7M723.1 416.2l3.7 3.7m-3.7 0l3.7 -3.7M723.6 417l3.7 3.7m-3.7 0l3.7 -3.7M724.1 410l3.7 3.7m-3.7 0l3.7 -3.7M724.6 416.7l3.7 3.7m-3.7 0l3.7 -3.7M725.1 414.7l3.7 3.7m-3.7 0l3.7 -3.7M725.6 417.7l3.7 3.7m-3.7 0l3.7 -3.7M726.1 423.1l3.7 3.7m-3.7 0l3.7 -3.7M726.6 427.9l3.7 3.7m-3.7 0l3.7 -3.7M727.1 424.2l3.7 3.7m-3.7 0l3.7 -3.7M727.6 413.3l3.7 3.7m-3.7 0l3.7 -3.7M728.1 413.2l3.7 3.7m-3.7 0l3.7 -3.7M728.6 429.5l3.7 3.7m-3.7 0l3.7 -3.7M729.1 444.6l3.7 3.7m-3.7 0l3.7 -3.7M729.6 455.4l3.7 3.7m-3.7 0l3.7 -3.7M730.1 466.4l3.7 3.7m-3.7 0l3.7 -3.7M730.6 474.1l3.7 3.7m-3.7 0l3.7 -3.7M731.1 479.1l3.7 3.7m-3.7 0l3.7 -3.7M731.6 478.4l3.7 3.7m-3.7 0l3.7 -3.7M732.1 483.9l3.7 3.7m-3.7 0l3.7 -3.7M732.6 489.1l3.7 3.7m-3.7 0l3.7 -3.7M733.1 495.6l3.7 3.7m-3.7 0l3.7 -3.7M733.6 498.7l3.7 3.7m-3.7 0l3.7 -3.7M734.1 505.5l3.7 3.7m-3.7 0l3.7 -3.7M734.6 508.2l3.7 3.7m-3.7 0l3.7 -3.7M735.1 511.3l3.7 3.7m-3.7 0l3.7 -3.7M735.6 514.6l3.7 3.7m-3.7 0l3.7 -3.7M736.1 515.6l3.7 3.7m-3.7 0l3.7 -3.7M736.6 517.8l3.7 3.7m-3.7 0l3.7 -3.7M737.1 519l3.7 3.7m-3.7 0l3.7 -3.7M737.6 523.5l3.7 3.7m-3.7 0l3.7 -3.7M738.1 524.2l3.7 3.7m-3.7 0l3.7 -3.7M738.6 527.4l3.7 3.7m-3.7 0l3.7 -3.7M739.1 531.6l3.7 3.7m-3.7 0l3.7 -3.7M739.6 547.5l3.7 3.7m-3.7 0l3.7 -3.7M740.1 555.8l3.7 3.7m-3.7 0l3.7 -3.7M740.6 567.4l3.7 3.7m-3.7 0l3.7 -3.7M741.1 567.2l3.7 3.7m-3.7 0l3.7 -3.7M741.6 568.3l3.7 3.7m-3.7 0l3.7 -3.7M742.1 574l3.7 3.7m-3.7 0l3.7 -3.7M742.6 574.1l3.7 3.7m-3.7 0l3.7 -3.7M743.1 572.3l3.7 3.7m-3.7 0l3.7 -3.7M743.6 576.8l3.7 3.7m-3.7 0l3.7 -3.7M744.1 579.6l3.7 3.7m-3.7 0l3.7 -3.7M744.6 578.2l3.7 3.7m-3.7 0l3.7 -3.7M745.1 578.5l3.7 3.7m-3.7 0l3.7 -3.7M745.6 579.9l3.7 3.7m-3.7 0l3.7 -3.7M746.1 582l3.7 3.7m-3.7 0l3.7 -3.7M746.6 584l3.7 3.7m-3.7 0l3.7 -3.7M747.1 586.5l3.7 3.7m-3.7 0l3.7 -3.7M747.6 588.4l3.7 3.7m-3.7 0l3.7 -3.7M748.1 590.2l3.7 3.7m-3.7 0l3.7 -3.7M748.6 592.3l3.7 3.7m-3.7 0l3.7 -3.7M749.1 592.7l3.7 3.7m-3.7 0l3.7 -3.7M749.6 589.9l3.7 3.7m-3.7 0l3.7 -3.7M750.1 592.8l3.7 3.7m-3.7 0l3.7 -3.7M750.6 601.5l3.7 3.7m-3.7 0l3.7 -3.7M751.1 608.2l3.7 3.7m-3.7 0l3.7 -3.7M751.6 626.6l3.7 3.7m-3.7 0l3.7 -3.7M752.1 640.8l3.7 3.7m-3.7 0l3.7 -3.7M752.6 649.7l3.7 3.7m-3.7 0l3.7 -3.7M753.1 663.9l3.7 3.7m-3.7 0l3.7 -3.7M753.6 674.1l3.7 3.7m-3.7 0l3.7 -3.7M754.1 684.5l3.7 3.7m-3.7 0l3.7 -3.7M754.6 699.8l3.7 3.7m-3.7 0l3.7 -3.7M755.1 721.8l3.7 3.7m-3.7 0l3.7 -3.7M755.6 721.7l3.7 3.7m-3.7 0l3.7 -3.7M756.1 715.1l3.7 3.7m-3.7 0l3.7 -3.7M756.6 719.4l3.7 3.7m-3.7 0l3.7 -3.7M757.1 720.8l3.7 3.7m-3.7 0l3.7 -3.7M757.6 720.4l3.7 3.7m-3.7 0l3.7 -3.7M758.1 724.5l3.7 3.7m-3.7 0l3.7 -3.7M758.6 728.5l3.7 3.7m-3.7 0l3.7 -3.7M759.1 725.9l3.7 3.7m-3.7 0l3.7 -3.7M759.6 724.7l3.7 3.7m-3.7 0l3.7 -3.7M760.1 733.7l3.7 3.7m-3.7 0l3.7 -3.7M760.6 729.4l3.7 3.7m-3.7 0l3.7 -3.7M761.1 727.9l3.7 3.7m-3.7 0l3.7 -3.7M761.6 732.1l3.7 3.7m-3.7 0l3.7 -3.7M762.1 733.9l3.7 3.7m-3.7 0l3.7 -3.7M762.6 732l3.7 3.7m-3.7 0l3.7 -3.7M763.1 736.5l3.7 3.7m-3.7 0l3.7 -3.7M763.6 734.5l3.7 3.7m-3.7 0l3.7 -3.7M764.1 733.8l3.7 3.7m-3.7 0l3.7 -3.7M764.6 737.1l3.7 3.7m-3.7 0l3.7 -3.7M765.1 739.9l3.7 3.7m-3.7 0l3.7 -3.7M765.6 737.5l3.7 3.7m-3.7 0l3.7 -3.7M766.1 740.6l3.7 3.7m-3.7 0l3.7 -3.7M766.6 741.7l3.7 3.7m-3.7 0l3.7 -3.7M767.1 751.8l3.7 3.7m-3.7 0l3.7 -3.7M767.6 746l3.7 3.7m-3.7 0l3.7 -3.7M768.1 753l3.7 3.7m-3.7 0l3.7 -3.7M768.6 751.9l3.7 3.7m-3.7 0l3.7 -3.7M769.1 753.3l3.7 3.7m-3.7 0l3.7 -3.7M769.6 754.4l3.7 3.7m-3.7 0l3.7 -3.7M770.1 754.2l3.7 3.7m-3.7 0l3.7 -3.7M770.6 754.6l3.7 3.7m-3.7 0l3.7 -3.7M771.1 751.6l3.7 3.7m-3.7 0l3.7 -3.7M771.6 747.9l3.7 3.7m-3.7 0l3.7 -3.7M772.1 746.3l3.7 3.7m-3.7 0l3.7 -3.7M772.6 747.6l3.7 3.7m-3.7 0l3.7 -3.7M773.1 747l3.7 3.7m-3.7 0l3.7 -3.7M773.6 748.9l3.7 3.7m-3.7 0l3.7 -3.7M774.1 746.5l3.7 3.7m-3.7 0l3.7 -3.7M774.6 747.7l3.7 3.7m-3.7 0l3.7 -3.7M775.1 748.9l3.7 3.7m-3.7 0l3.7 -3.7M775.6 745.3l3.7 3.7m-3.7 0l3.7 -3.7M776.1 739.9l3.7 3.7m-3.7 0l3.7 -3.7M776.6 738.8l3.7 3.7m-3.7 0l3.7 -3.7M777.1 736.5l3.7 3.7m-3.7 0l3.7 -3.7M777.6 743.4l3.7 3.7m-3.7 0l3.7 -3.7M778.1 737.3l3.7 3.7m-3.7 0l3.7 -3.7M778.6 741.9l3.7 3.7m-3.7 0l3.7 -3.7M779.1 741.2l3.7 3.7m-3.7 0l3.7 -3.7M779.6 744.9l3.7 3.7m-3.7 0l3.7 -3.7M780.1 744.2l3.7 3.7m-3.7 0l3.7 -3.7M780.6 741.7l3.7 3.7m-3.7 0l3.7 -3.7M781.1 741.2l3.7 3.7m-3.7 0l3.7 -3.7M781.6 741.8l3.7 3.7m-3.7 0l3.7 -3.7M782.1 742l3.7 3.7m-3.7 0l3.7 -3.7M782.6 740.2l3.7 3.7m-3.7 0l3.7 -3.7M783.1 741.2l3.7 3.7m-3.7 0l3.7 -3.7M783.6 745.9l3.7 3.7m-3.7 0l3.7 -3.7M784.1 737.9l3.7 3.7m-3.7 0l3.7 -3.7M784.6 742.1l3.7 3.7m-3.7 0l3.7 -3.7M785.1 739.3l3.7 3.7m-3.7 0l3.7 -3.7M785.6 741.8l3.7 3.7m-3.7 0l3.7 -3.7M786.1 743.8l3.7 3.7m-3.7 0l3.7 -3.7M786.6 741.8l3.7 3.7m-3.7 0l3.7 -3.7M787.1 744l3.7 3.7m-3.7 0l3.7 -3.7M787.6 737.8l3.7 3.7m-3.7 0l3.7 -3.7M788.1 744l3.7 3.7m-3.7 0l3.7 -3.7M788.6 740l3.7 3.7m-3.7 0l3.7 -3.7M789.1 742.9l3.7 3.7m-3.7 0l3.7 -3.7M789.6 742l3.7 3.7m-3.7 0l3.7 -3.7M790.1 734.4l3.7 3.7m-3.7 0l3.7 -3.7M790.6 737.5l3.7 3.7m-3.7 0l3.7 -3.7M791.1 739.8l3.7 3.7m-3.7 0l3.7 -3.7M791.6 743.9l3.7 3.7m-3.7 0l3.7 -3.7M792.1 741.6l3.7 3.7m-3.7 0l3.7 -3.7M792.6 741.7l3.7 3.7m-3.7 0l3.7 -3.7M793.1 737.1l3.7 3.7m-3.7 0l3.7 -3.7M793.6 743.9l3.7 3.7m-3.7 0l3.7 -3.7M794.1 746.1l3.7 3.7m-3.7 0l3.7 -3.7M794.6 742.4l3.7 3.7m-3.7 0l3.7 -3.7M795.1 741.6l3.7 3.7m-3.7 0l3.7 -3.7M795.6 737.4l3.7 3.7m-3.7 0l3.7 -3.7M796.1 743.1l3.7 3.7m-3.7 0l3.7 -3.7M796.6 748.9l3.7 3.7m-3.7 0l3.7 -3.7M797.1 745.3l3.7 3.7m-3.7 0l3.7 -3.7M797.6 747l3.7 3.7m-3.7 0l3.7 -3.7M798.1 745.6l3.7 3.7m-3.7 0l3.7 -3.7M798.6 741.4l3.7 3.7m-3.7 0l3.7 -3.7M799.1 746.7l3.7 3.7m-3.7 0l3.7 -3.7M799.6 740.3l3.7 3.7m-3.7 0l3.7 -3.7M800.1 742l3.7 3.7m-3.7 0l3.7 -3.7M800.6 743.1l3.7 3.7m-3.7 0l3.7 -3.7M801.1 744.9l3.7 3.7m-3.7 0l3.7 -3.7M801.6 744.1l3.7 3.7m-3.7 0l3.7 -3.7M802.1 744.2l3.7 3.7m-3.7 0l3.7 -3.7M802.6 741.4l3.7 3.7m-3.7 0l3.7 -3.7M803.1 739.5l3.7 3.7m-3.7 0l3.7 -3.7M803.6 742.6l3.7 3.7m-3.7 0l3.7 -3.7M804.1 740.9l3.7 3.7m-3.7 0l3.7 -3.7M804.6 739.1l3.7 3.7m-3.7 0l3.7 -3.7M805.1 738.7l3.7 3.7m-3.7 0l3.7 -3.7M805.6 740.6l3.7 3.7m-3.7 0l3.7 -3.7M806.1 737.1l3.7 3.7m-3.7 0l3.7 -3.7M806.6 737.9l3.7 3.7m-3.7 0l3.7 -3.7M807.1 737l3.7 3.7m-3.7 0l3.7 -3.7M807.6 741.7l3.7 3.7m-3.7 0l3.7 -3.7M808.1 743.5l3.7 3.7m-3.7 0l3.7 -3.7M808.6 749l3.7 3.7m-3.7 0l3.7 -3.7M809.1 741.5l3.7 3.7m-3.7 0l3.7 -3.7M809.6 743.2l3.7 3.7m-3.7 0l3.7 -3.7M810.1 747.7l3.7 3.7m-3.7 0l3.7 -3.7M810.6 745.9l3.7 3.7m-3.7 0l3.7 -3.7M811.1 745.9l3.7 3.7m-3.7 0l3.7 -3.7M811.6 751.9l3.7 3.7m-3.7 0l3.7 -3.7M812.1 747.9l3.7 3.7m-3.7 0l3.7 -3.7M812.6 745.7l3.7 3.7m-3.7 0l3.7 -3.7M813.1 744.8l3.7 3.7m-3.7 0l3.7 -3.7M813.6 749l3.7 3.7m-3.7 0l3.7 -3.7M814.1 749.7l3.7 3.7m-3.7 0l3.7 -3.7M814.6 745.8l3.7 3.7m-3.7 0l3.7 -3.7M815.1 746.4l3.7 3.7m-3.7 0l3.7 -3.7M815.6 750.5l3.7 3.7m-3.7 0l3.7 -3.7M816.1 751.7l3.7 3.7m-3.7 0l3.7 -3.7M816.6 749.2l3.7 3.7m-3.7 0l3.7 -3.7M817.1 752.8l3.7 3.7m-3.7 0l3.7 -3.7M817.6 752.6l3.7 3.7m-3.7 0l3.7 -3.7M818.1 745.9l3.7 3.7m-3.7 0l3.7 -3.7M818.6 748.1l3.7 3.7m-3.7 0l3.7 -3.7M819.1 749.4l3.7 3.7m-3.7 0l3.7 -3.7M819.6 746.5l3.7 3.7m-3.7 0l3.7 -3.7M820.1 741.2l3.7 3.7m-3.7 0l3.7 -3.7M820.6 744.4l3.7 3.7m-3.7 0l3.7 -3.7M821.1 746.8l3.7 3.7m-3.7 0l3.7 -3.7M821.6 749.3l3.7 3.7m-3.7 0l3.7 -3.7M822.1 739.5l3.7 3.7m-3.7 0l3.7 -3.7M822.6 751.4l3.7 3.7m-3.7 0l3.7 -3.7M823.1 743.2l3.7 3.7m-3.7 0l3.7 -3.7M823.6 748.3l3.7 3.7m-3.7 0l3.7 -3.7M824.1 749.9l3.7 3.7m-3.7 0l3.7 -3.7M340.6 180.7l3.7 3.7m-3.7 0l3.7 -3.7M340.1 190.7l3.7 3.7m-3.7 0l3.7 -3.7M728.6 401.1l3.7 3.7m-3.7 0l3.7 -3.7M724.1 428.1l3.7 3.7m-3.7 0l3.7 -3.7M704.1 392.1l3.7 3.7m-3.7 0l3.7 -3.7" fill="none" stroke="#A968FD" stroke-width="2.0"/>
<path d="M130.8 796.8l4 4m-4 0l4 -4M131.7 769.2l4 4m-4 0l4 -4M132.6 750.9l4 4m-4 0l4 -4M133.5 737.5l4 4m-4 0l4 -4M134.4 726.1l4 4m-4 0l4 -4M135.3 714.8l4 4m-4 0l4 -4M136.2 703.8l4 4m-4 0l4 -4M137.1 693.4l4 4m-4 0l4 -4M138 683.5l4 4m-4 0l4 -4M138.9 673.7l4 4m-4 0l4 -4M139.8 663.7l4 4m-4 0l4 -4M140.7 654.2l4 4m-4 0l4 -4M141.6 645.8l4 4m-4 0l4 -4M142.5 638.9l4 4m-4 0l4 -4M143.4 633.8l4 4m-4 0l4 -4M144.3 629.6l4 4m-4 0l4 -4M145.2 625.6l4 4m-4 0l4 -4M146.1 621.2l4 4m-4 0l4 -4M147 616.4l4 4m-4 0l4 -4M147.9 611.6l4 4m-4 0l4 -4M148.8 607.2l4 4m-4 0l4 -4M149.7 603.5l4 4m-4 0l4 -4M150.6 600.2l4 4m-4 0l4 -4M151.5 597l4 4m-4 0l4 -4M152.4 593.5l4 4m-4 0l4 -4M153.3 589.4l4 4m-4 0l4 -4M154.2 584.6l4 4m-4 0l4 -4M155.1 579.7l4 4m-4 0l4 -4M156 575.3l4 4m-4 0l4 -4M156.9 571.5l4 4m-4 0l4 -4M157.8 568l4 4m-4 0l4 -4M158.7 564.6l4 4m-4 0l4 -4M159.6 561.1l4 4m-4 0l4 -4M160.5 557.5l4 4m-4 0l4 -4M161.4 553.9l4 4m-4 0l4 -4M162.3 550.3l4 4m-4 0l4 -4M163.2 546.7l4 4m-4 0l4 -4M164.1 543.3l4 4m-4 0l4 -4M165 539.8l4 4m-4 0l4 -4M165.9 536.4l4 4m-4 0l4 -4M166.8 533.1l4 4m-4 0l4 -4M167.7 530.1l4 4m-4 0l4 -4M168.6 527.4l4 4m-4 0l4 -4M169.5 525l4 4m-4 0l4 -4M170.4 522.7l4 4m-4 0l4 -4M171.3 520.3l4 4m-4 0l4 -4M172.2 517.8l4 4m-4 0l4 -4M173.1 515.3l4 4m-4 0l4 -4M174 512.6l4 4m-4 0l4 -4M174.9 509.9l4 4m-4 0l4 -4M175.8 507l4 4m-4 0l4 -4M176.7 504.1l4 4m-4 0l4 -4M177.6 501.2l4 4m-4 0l4 -4M178.5 498.2l4 4m-4 0l4 -4M179.4 495.2l4 4m-4 0l4 -4M180.3 492.2l4 4m-4 0l4 -4M181.2 489.1l4 4m-4 0l4 -4M182.1 486.1l4 4m-4 0l4 -4M183 483l4 4m-4 0l4 -4M183.9 480.1l4 4m-4 0l4 -4M184.8 477.2l4 4m-4 0l4 -4M185.7 474.5l4 4m-4 0l4 -4M186.6 471.9l4 4m-4 0l4 -4M187.5 469.3l4 4m-4 0l4 -4M188.4 466.8l4 4m-4 0l4 -4M189.3 464.3l4 4m-4 0l4 -4M190.2 461.9l4 4m-4 0l4 -4M191.1 459.5l4 4m-4 0l4 -4M192 457.1l4 4m-4 0l4 -4M192.9 454.8l4 4m-4 0l4 -4M193.8 452.5l4 4m-4 0l4 -4M194.7 450.3l4 4m-4 0l4 -4M195.6 448.1l4 4m-4 0l4 -4M196.5 446l4 4m-4 0l4 -4M197.4 443.9l4 4m-4 0l4 -4M198.3 441.8l4 4m-4 0l4 -4M199.2 439.8l4 4m-4 0l4 -4M200.1 437.9l4 4m-4 0l4 -4M201 435.9l4 4m-4 0l4 -4M201.9 434l4 4m-4 0l4 -4M202.8 432.1l4 4m-4 0l4 -4M203.7 430.2l4 4m-4 0l4 -4M204.6 428.3l4 4m-4 0l4 -4M205.5 426.4l4 4m-4 0l4 -4M206.4 424.5l4 4m-4 0l4 -4M207.3 422.7l4 4m-4 0l4 -4M208.2 420.9l4 4m-4 0l4 -4M209.1 419.1l4 4m-4 0l4 -4M210 417.4l4 4m-4 0l4 -4M210.9 415.7l4 4m-4 0l4 -4M211.8 414.1l4 4m-4 0l4 -4M212.7 412.6l4 4m-4 0l4 -4M213.6 411.1l4 4m-4 0l4 -4M214.5 409.6l4 4m-4 0l4 -4M215.4 408.2l4 4m-4 0l4 -4M216.3 406.8l4 4m-4 0l4 -4M217.2 405.5l4 4m-4 0l4 -4M218.1 404.1l4 4m-4 0l4 -4M219 402.8l4 4m-4 0l4 -4M219.9 401.5l4 4m-4 0l4 -4M220.8 400.2l4 4m-4 0l4 -4M221.7 398.9l4 4m-4 0l4 -4M222.6 397.6l4 4m-4 0l4 -4M223.5 396.3l4 4m-4 0l4 -4M224.4 395.1l4 4m-4 0l4 -4M225.3 393.8l4 4m-4 0l4 -4M226.2 392.6l4 4m-4 0l4 -4M227.1 391.4l4 4m-4 0l4 -4M228 390.2l4 4m-4 0l4 -4M228.9 389l4 4m-4 0l4 -4M229.8 387.8l4 4m-4 0l4 -4M230.7 386.7l4 4m-4 0l4 -4M231.6 385.6l4 4m-4 0l4 -4M232.5 384.5l4 4m-4 0l4 -4M233.4 383.4l4 4m-4 0l4 -4M234.3 382.4l4 4m-4 0l4 -4M235.2 381.4l4 4m-4 0l4 -4M236.1 380.5l4 4m-4 0l4 -4M237 379.6l4 4m-4 0l4 -4M237.9 378.7l4 4m-4 0l4 -4M238.8 377.7l4 4m-4 0l4 -4M239.7 376.8l4 4m-4 0l4 -4M240.6 375.9l4 4m-4 0l4 -4M241.5 374.9l4 4m-4 0l4 -4M242.4 374l4 4m-4 0l4 -4M243.3 373.1l4 4m-4 0l4 -4M244.2 372.1l4 4m-4 0l4 -4M245.1 371.2l4 4m-4 0l4 -4M246 370.3l4 4m-4 0l4 -4M246.9 369.4l4 4m-4 0l4 -4M247.8 368.6l4 4m-4 0l4 -4M248.7 367.7l4 4m-4 0l4 -4M249.6 366.9l4 4m-4 0l4 -4M250.5 366.1l4 4m-4 0l4 -4M251.4 365.3l4 4m-4 0l4 -4M252.3 364.6l4 4m-4 0l4 -4M253.2 363.8l4 4m-4 0l4 -4M254.1 363.1l4 4m-4 0l4 -4M255 362.3l4 4m-4 0l4 -4M255.9 361.6l4 4m-4 0l4 -4M256.8 360.9l4 4m-4 0l4 -4M257.7 360.1l4 4m-4 0l4 -4M258.6 359.4l4 4m-4 0l4 -4M259.5 358.7l4 4m-4 0l4 -4M260.4 358.1l4 4m-4 0l4 -4M261.3 357.4l4 4m-4 0l4 -4M262.2 356.7l4 4m-4 0l4 -4M263.1 356l4 4m-4 0l4 -4M264 355.4l4 4m-4 0l4 -4M264.9 354.7l4 4m-4 0l4 -4M265.8 354.1l4 4m-4 0l4 -4M266.7 353.5l4 4m-4 0l4 -4M267.6 352.8l4 4m-4 0l4 -4M268.5 352.2l4 4m-4 0l4 -4M269.4 351.6l4 4m-4 0l4 -4M270.3 351l4 4m-4 0l4 -4M271.2 350.4l4 4m-4 0l4 -4M272.1 349.8l4 4m-4 0l4 -4M273 349.3l4 4m-4 0l4 -4M273.9 348.7l4 4m-4 0l4 -4M274.8 348.1l4 4m-4 0l4 -4M275.7 347.6l4 4m-4 0l4 -4M276.6 347l4 4m-4 0l4 -4M277.5 346.4l4 4m-4 0l4 -4M278.4 345.9l4 4m-4 0l4 -4M279.3 345.3l4 4m-4 0l4 -4M280.2 344.8l4 4m-4 0l4 -4M281.1 344.3l4 4m-4 0l4 -4M282 343.7l4 4m-4 0l4 -4M282.9 343.2l4 4m-4 0l4 -4M283.8 342.7l4 4m-4 0l4 -4M284.7 342.2l4 4m-4 0l4 -4M285.6 341.7l4 4m-4 0l4 -4M286.5 341.2l4 4m-4 0l4 -4M287.4 340.7l4 4m-4 0l4 -4M288.3 340.2l4 4m-4 0l4 -4M289.2 339.7l4 4m-4 0l4 -4M290.1 339.2l4 4m-4 0l4 -4M291 338.7l4 4m-4 0l4 -4M291.9 338.2l4 4m-4 0l4 -4M292.8 337.8l4 4m-4 0l4 -4M293.7 337.3l4 4m-4 0l4 -4M294.6 336.8l4 4m-4 0l4 -4M295.5 336.3l4 4m-4 0l4 -4M296.4 335.9l4 4m-4 0l4 -4M297.3 335.4l4 4m-4 0l4 -4M298.2 334.9l4 4m-4 0l4 -4M299.1 334.5l4 4m-4 0l4 -4M300 334l4 4m-4 0l4 -4M300.9 333.6l4 4m-4 0l4 -4M301.8 333.1l4 4m-4 0l4 -4M302.7 332.6l4 4m-4 0l4 -4M303.6 332.2l4 4m-4 0l4 -4M304.5 331.7l4 4m-4 0l4 -4M305.4 331.3l4 4m-4 0l4 -4M306.3 330.9l4 4m-4 0l4 -4M307.2 330.4l4 4m-4 0l4 -4M308.1 330l4 4m-4 0l4 -4M309 329.5l4 4m-4 0l4 -4M309.9 329.1l4 4m-4 0l4 -4M310.8 328.7l4 4m-4 0l4 -4M311.7 328.2l4 4m-4 0l4 -4M312.6 327.8l4 4m-4 0l4 -4M313.5 327.4l4 4m-4 0l4 -4M314.4 327l4 4m-4 0l4 -4M315.3 326.5l4 4m-4 0l4 -4M316.2 326.1l4 4m-4 0l4 -4M317.1 325.7l4 4m-4 0l4 -4M318 325.3l4 4m-4 0l4 -4M318.9 324.9l4 4m-4 0l4 -4M319.8 324.5l4 4m-4 0l4 -4M320.7 324.1l4 4m-4 0l4 -4M321.6 323.7l4 4m-4 0l4 -4M322.5 323.3l4 4m-4 0l4 -4M323.4 322.9l4 4m-4 0l4 -4M324.3 322.5l4 4m-4 0l4 -4M325.2 322.1l4 4m-4 0l4 -4M326.1 321.7l4 4m-4 0l4 -4M327 321.3l4 4m-4 0l4 -4M327.9 320.9l4 4m-4 0l4 -4M328.8 320.5l4 4m-4 0l4 -4M329.7 320.2l4 4m-4 0l4 -4M330.6 319.8l4 4m-4 0l4 -4M331.5 319.4l4 4m-4 0l4 -4M332.4 319l4 4m-4 0l4 -4M333.3 318.7l4 4m-4 0l4 -4M334.2 318.3l4 4m-4 0l4 -4M335.1 318l4 4m-4 0l4 -4M336 317.6l4 4m-4 0l4 -4M336.9 317.3l4 4m-4 0l4 -4M337.8 316.9l4 4m-4 0l4 -4M338.7 316.6l4 4m-4 0l4 -4M339.6 316.2l4 4m-4 0l4 -4M340.5 315.9l4 4m-4 0l4 -4M341.4 315.5l4 4m-4 0l4 -4M342.3 315.2l4 4m-4 0l4 -4M343.2 314.8l4 4m-4 0l4 -4M344.1 314.5l4 4m-4 0l4 -4M345 314.2l4 4m-4 0l4 -4M345.9 313.8l4 4m-4 0l4 -4M346.8 313.5l4 4m-4 0l4 -4M347.7 313.2l4 4m-4 0l4 -4M348.6 312.9l4 4m-4 0l4 -4M349.5 312.6l4 4m-4 0l4 -4M350.4 312.2l4 4m-4 0l4 -4M351.3 311.9l4 4m-4 0l4 -4M352.2 311.6l4 4m-4 0l4 -4M353.1 311.3l4 4m-4 0l4 -4M354 311l4 4m-4 0l4 -4M354.9 310.7l4 4m-4 0l4 -4M355.8 310.4l4 4m-4 0l4 -4M356.7 310.1l4 4m-4 0l4 -4M357.6 309.8l4 4m-4 0l4 -4M358.5 309.5l4 4m-4 0l4 -4M359.4 309.2l4 4m-4 0l4 -4M360.3 308.9l4 4m-4 0l4 -4M361.2 308.6l4 4m-4 0l4 -4M362.1 308.3l4 4m-4 0l4 -4M363 308l4 4m-4 0l4 -4M363.9 307.7l4 4m-4 0l4 -4M364.8 307.5l4 4m-4 0l4 -4M365.7 307.2l4 4m-4 0l4 -4M366.6 306.9l4 4m-4 0l4 -4M367.5 306.6l4 4m-4 0l4 -4M368.4 306.4l4 4m-4 0l4 -4M369.3 306.1l4 4m-4 0l4 -4M370.2 305.8l4 4m-4 0l4 -4M371.1 305.5l4 4m-4 0l4 -4M372 305.2l4 4m-4 0l4 -4M372.9 304.9l4 4m-4 0l4 -4M373.8 304.6l4 4m-4 0l4 -4M374.7 304.3l4 4m-4 0l4 -4M375.6 303.9l4 4m-4 0l4 -4M376.5 303.6l4 4m-4 0l4 -4M377.4 303.2l4 4m-4 0l4 -4M378.3 302.9l4 4m-4 0l4 -4M379.2 302.5l4 4m-4 0l4 -4M380.1 302.1l4 4m-4 0l4 -4M381 301.8l4 4m-4 0l4 -4M381.9 301.4l4 4m-4 0l4 -4M382.8 301l4 4m-4 0l4 -4M383.7 300.6l4 4m-4 0l4 -4M384.6 300.2l4 4m-4 0l4 -4M385.5 299.8l4 4m-4 0l4 -4M386.4 299.4l4 4m-4 0l4 -4M387.3 299l4 4m-4 0l4 -4M388.2 298.6l4 4m-4 0l4 -4M389.1 298.3l4 4m-4 0l4 -4M390 297.9l4 4m-4 0l4 -4M390.9 297.5l4 4m-4 0l4 -4M391.8 297.1l4 4m-4 0l4 -4M392.7 296.7l4 4m-4 0l4 -4M393.6 296.3l4 4m-4 0l4 -4M394.5 295.9l4 4m-4 0l4 -4M395.4 295.6l4 4m-4 0l4 -4M396.3 295.2l4 4m-4 0l4 -4M397.2 294.8l4 4m-4 0l4 -4M398.1 294.4l4 4m-4 0l4 -4M399 294.1l4 4m-4 0l4 -4M399.9 293.7l4 4m-4 0l4 -4M400.8 293.3l4 4m-4 0l4 -4M401.7 292.9l4 4m-4 0l4 -4M402.6 292.6l4 4m-4 0l4 -4M403.5 292.2l4 4m-4 0l4 -4M404.4 291.8l4 4m-4 0l4 -4M405.3 291.4l4 4m-4 0l4 -4M406.2 291l4 4m-4 0l4 -4M407.1 290.6l4 4m-4 0l4 -4M408 290.3l4 4m-4 0l4 -4M408.9 289.9l4 4m-4 0l4 -4M409.8 289.5l4 4m-4 0l4 -4M410.7 289.1l4 4m-4 0l4 -4M411.6 288.7l4 4m-4 0l4 -4M412.5 288.3l4 4m-4 0l4 -4M413.4 287.8l4 4m-4 0l4 -4M414.3 287.4l4 4m-4 0l4 -4M415.2 287l4 4m-4 0l4 -4M416.1 286.6l4 4m-4 0l4 -4M417 286.1l4 4m-4 0l4 -4M417.9 285.7l4 4m-4 0l4 -4M418.8 285.3l4 4m-4 0l4 -4M419.7 284.9l4 4m-4 0l4 -4M420.6 284.5l4 4m-4 0l4 -4M421.5 284.1l4 4m-4 0l4 -4M422.4 283.7l4 4m-4 0l4 -4M423.3 283.3l4 4m-4 0l4 -4M424.2 283l4 4m-4 0l4 -4M425.1 282.6l4 4m-4 0l4 -4M426 282.3l4 4m-4 0l4 -4M426.9 282l4 4m-4 0l4 -4M427.8 281.7l4 4m-4 0l4 -4M428.7 281.4l4 4m-4 0l4 -4M429.6 281.1l4 4m-4 0l4 -4M430.5 280.8l4 4m-4 0l4 -4M431.4 280.6l4 4m-4 0l4 -4M432.3 280.3l4 4m-4 0l4 -4M433.2 280l4 4m-4 0l4 -4M434.1 279.7l4 4m-4 0l4 -4M435 279.5l4 4m-4 0l4 -4M435.9 279.2l4 4m-4 0l4 -4M436.8 278.9l4 4m-4 0l4 -4M437.7 278.7l4 4m-4 0l4 -4M438.6 278.4l4 4m-4 0l4 -4M439.5 278.1l4 4m-4 0l4 -4M440.4 277.8l4 4m-4 0l4 -4M441.3 277.6l4 4m-4 0l4 -4M442.2 277.3l4 4m-4 0l4 -4M443.1 277l4 4m-4 0l4 -4M444 276.7l4 4m-4 0l4 -4M444.9 276.4l4 4m-4 0l4 -4M445.8 276.1l4 4m-4 0l4 -4M446.7 275.8l4 4m-4 0l4 -4M447.6 275.5l4 4m-4 0l4 -4M448.5 275.2l4 4m-4 0l4 -4M449.4 274.9l4 4m-4 0l4 -4M450.3 274.6l4 4m-4 0l4 -4M451.2 274.3l4 4m-4 0l4 -4M452.1 274l4 4m-4 0l4 -4M453 273.7l4 4m-4 0l4 -4M453.9 273.4l4 4m-4 0l4 -4M454.8 273.2l4 4m-4 0l4 -4M455.7 272.9l4 4m-4 0l4 -4M456.6 272.7l4 4m-4 0l4 -4M457.5 272.4l4 4m-4 0l4 -4M458.4 272.2l4 4m-4 0l4 -4M459.3 272l4 4m-4 0l4 -4M460.2 271.8l4 4m-4 0l4 -4M461.1 271.5l4 4m-4 0l4 -4M462 271.3l4 4m-4 0l4 -4M462.9 271.1l4 4m-4 0l4 -4M463.8 270.9l4 4m-4 0l4 -4M464.7 270.7l4 4m-4 0l4 -4M465.6 270.5l4 4m-4 0l4 -4M466.5 270.3l4 4m-4 0l4 -4M467.4 270.1l4 4m-4 0l4 -4M468.3 269.9l4 4m-4 0l4 -4M469.2 269.7l4 4m-4 0l4 -4M470.1 269.5l4 4m-4 0l4 -4M471 269.4l4 4m-4 0l4 -4M471.9 269.2l4 4m-4 0l4 -4M472.8 269l4 4m-4 0l4 -4M473.7 268.8l4 4m-4 0l4 -4M474.6 268.7l4 4m-4 0l4 -4M475.5 268.5l4 4m-4 0l4 -4M476.4 268.4l4 4m-4 0l4 -4M477.3 268.2l4 4m-4 0l4 -4M478.2 268l4 4m-4 0l4 -4M479.1 267.9l4 4m-4 0l4 -4M480 267.8l4 4m-4 0l4 -4M480.9 267.6l4 4m-4 0l4 -4M481.8 267.5l4 4m-4 0l4 -4M482.7 267.3l4 4m-4 0l4 -4M483.6 267.2l4 4m-4 0l4 -4M484.5 267l4 4m-4 0l4 -4M485.4 266.9l4 4m-4 0l4 -4M486.3 266.8l4 4m-4 0l4 -4M487.2 266.6l4 4m-4 0l4 -4M488.1 266.5l4 4m-4 0l4 -4M489 266.4l4 4m-4 0l4 -4M489.9 266.2l4 4m-4 0l4 -4M490.8 266.1l4 4m-4 0l4 -4M491.7 266l4 4m-4 0l4 -4M492.6 265.9l4 4m-4 0l4 -4M493.5 265.7l4 4m-4 0l4 -4M494.4 265.6l4 4m-4 0l4 -4M495.3 265.5l4 4m-4 0l4 -4M496.2 265.4l4 4m-4 0l4 -4M497.1 265.2l4 4m-4 0l4 -4M498 265.1l4 4m-4 0l4 -4M498.9 265l4 4m-4 0l4 -4M499.8 264.9l4 4m-4 0l4 -4M500.7 264.8l4 4m-4 0l4 -4M501.6 264.7l4 4m-4 0l4 -4M502.5 264.6l4 4m-4 0l4 -4M503.4 264.5l4 4m-4 0l4 -4M504.3 264.4l4 4m-4 0l4 -4M505.2 264.3l4 4m-4 0l4 -4M506.1 264.2l4 4m-4 0l4 -4M507 264.1l4 4m-4 0l4 -4M507.9 264l4 4m-4 0l4 -4M508.8 263.9l4 4m-4 0l4 -4M509.7 263.8l4 4m-4 0l4 -4M510.6 263.7l4 4m-4 0l4 -4M511.5 263.6l4 4m-4 0l4 -4M512.4 263.5l4 4m-4 0l4 -4M513.3 263.4l4 4m-4 0l4 -4M514.2 263.3l4 4m-4 0l4 -4M515.1 263.2l4 4m-4 0l4 -4M516 263.1l4 4m-4 0l4 -4M516.9 263.1l4 4m-4 0l4 -4M517.8 263l4 4m-4 0l4 -4M518.7 262.9l4 4m-4 0l4 -4M519.6 262.8l4 4m-4 0l4 -4M520.5 262.7l4 4m-4 0l4 -4M521.4 262.7l4 4m-4 0l4 -4M522.3 262.6l4 4m-4 0l4 -4M523.2 262.5l4 4m-4 0l4 -4M524.1 262.4l4 4m-4 0l4 -4M525 262.4l4 4m-4 0l4 -4M525.9 262.3l4 4m-4 0l4 -4M526.8 262.2l4 4m-4 0l4 -4M527.7 262.2l4 4m-4 0l4 -4M528.6 262.1l4 4m-4 0l4 -4M529.5 262l4 4m-4 0l4 -4M530.4 262l4 4m-4 0l4 -4M531.3 261.9l4 4m-4 0l4 -4M532.2 261.8l4 4m-4 0l4 -4M533.1 261.8l4 4m-4 0l4 -4M534 261.7l4 4m-4 0l4 -4M534.9 261.7l4 4m-4 0l4 -4M535.8 261.6l4 4m-4 0l4 -4M536.7 261.5l4 4m-4 0l4 -4M537.6 261.5l4 4m-4 0l4 -4M538.5 261.4l4 4m-4 0l4 -4M539.4 261.4l4 4m-4 0l4 -4M540.3 261.3l4 4m-4 0l4 -4M541.2 261.2l4 4m-4 0l4 -4M542.1 261.2l4 4m-4 0l4 -4M543 261.1l4 4m-4 0l4 -4M543.9 261.1l4 4m-4 0l4 -4M544.8 261l4 4m-4 0l4 -4M545.7 260.9l4 4m-4 0l4 -4M546.6 260.9l4 4m-4 0l4 -4M547.5 260.8l4 4m-4 0l4 -4M548.4 260.8l4 4m-4 0l4 -4M549.3 260.7l4 4m-4 0l4 -4M550.2 260.7l4 4m-4 0l4 -4M551.1 260.6l4 4m-4 0l4 -4M552 260.6l4 4m-4 0l4 -4M552.9 260.5l4 4m-4 0l4 -4M553.8 260.5l4 4m-4 0l4 -4M554.7 260.4l4 4m-4 0l4 -4M555.6 260.4l4 4m-4 0l4 -4M556.5 260.4l4 4m-4 0l4 -4M557.4 260.3l4 4m-4 0l4 -4M558.3 260.3l4 4m-4 0l4 -4M559.2 260.3l4 4m-4 0l4 -4M560.1 260.2l4 4m-4 0l4 -4M561 260.2l4 4m-4 0l4 -4M561.9 260.2l4 4m-4 0l4 -4M562.8 260.1l4 4m-4 0l4 -4M563.7 260.1l4 4m-4 0l4 -4M564.6 260.1l4 4m-4 0l4 -4M565.5 260l4 4m-4 0l4 -4M566.4 260l4 4m-4 0l4 -4M567.3 260l4 4m-4 0l4 -4M568.2 259.9l4 4m-4 0l4 -4M569.1 259.9l4 4m-4 0l4 -4M570 259.9l4 4m-4 0l4 -4M570.9 259.8l4 4m-4 0l4 -4M571.8 259.8l4 4m-4 0l4 -4M572.7 259.8l4 4m-4 0l4 -4M573.6 259.7l4 4m-4 0l4 -4M574.5 259.7l4 4m-4 0l4 -4M575.4 259.7l4 4m-4 0l4 -4M576.3 259.7l4 4m-4 0l4 -4M577.2 259.6l4 4m-4 0l4 -4M578.1 259.6l4 4m-4 0l4 -4M579 259.6l4 4m-4 0l4 -4M579.9 259.6l4 4m-4 0l4 -4M580.8 259.5l4 4m-4 0l4 -4M581.7 259.5l4 4m-4 0l4 -4M582.6 259.5l4 4m-4 0l4 -4M583.5 259.5l4 4m-4 0l4 -4M584.4 259.4l4 4m-4 0l4 -4M585.3 259.4l4 4m-4 0l4 -4M586.2 259.4l4 4m-4 0l4 -4M587.1 259.4l4 4m-4 0l4 -4M588 259.4l4 4m-4 0l4 -4M588.9 259.3l4 4m-4 0l4 -4M589.8 259.3l4 4m-4 0l4 -4M590.7 259.3l4 4m-4 0l4 -4M591.6 259.3l4 4m-4 0l4 -4M592.5 259.3l4 4m-4 0l4 -4M593.4 259.3l4 4m-4 0l4 -4M594.3 259.3l4 4m-4 0l4 -4M595.2 259.2l4 4m-4 0l4 -4M596.1 259.2l4 4m-4 0l4 -4M597 259.2l4 4m-4 0l4 -4M597.9 259.2l4 4m-4 0l4 -4M598.8 259.2l4 4m-4 0l4 -4M599.7 259.2l4 4m-4 0l4 -4M600.6 259.2l4 4m-4 0l4 -4M601.5 259.2l4 4m-4 0l4 -4M602.4 259.1l4 4m-4 0l4 -4M603.3 259.1l4 4m-4 0l4 -4M604.2 259.1l4 4m-4 0l4 -4M605.1 259.1l4 4m-4 0l4 -4M606 259.1l4 4m-4 0l4 -4M606.9 259.1l4 4m-4 0l4 -4M607.8 259.1l4 4m-4 0l4 -4M608.7 259.1l4 4m-4 0l4 -4M609.6 259.1l4 4m-4 0l4 -4M610.5 259.1l4 4m-4 0l4 -4M611.4 259.1l4 4m-4 0l4 -4M612.3 259l4 4m-4 0l4 -4M613.2 259l4 4m-4 0l4 -4M614.1 259l4 4m-4 0l4 -4M615 259l4 4m-4 0l4 -4M615.9 259l4 4m-4 0l4 -4M616.8 259l4 4m-4 0l4 -4M617.7 259l4 4m-4 0l4 -4M618.6 259l4 4m-4 0l4 -4M619.5 259l4 4m-4 0l4 -4M620.4 259l4 4m-4 0l4 -4M621.3 259l4 4m-4 0l4 -4M622.2 259l4 4m-4 0l4 -4M623.1 259l4 4m-4 0l4 -4M624 258.9l4 4m-4 0l4 -4M624.9 258.9l4 4m-4 0l4 -4M625.8 258.9l4 4m-4 0l4 -4M626.7 258.9l4 4m-4 0l4 -4M627.6 258.9l4 4m-4 0l4 -4M628.5 258.9l4 4m-4 0l4 -4M629.4 258.9l4 4m-4 0l4 -4M630.3 258.9l4 4m-4 0l4 -4M631.2 258.9l4 4m-4 0l4 -4M632.1 258.9l4 4m-4 0l4 -4M633 258.9l4 4m-4 0l4 -4M633.9 258.9l4 4m-4 0l4 -4M634.8 258.9l4 4m-4 0l4 -4M635.7 258.9l4 4m-4 0l4 -4M636.6 258.9l4 4m-4 0l4 -4M637.5 258.9l4 4m-4 0l4 -4M638.4 258.9l4 4m-4 0l4 -4M639.3 258.9l4 4m-4 0l4 -4M640.2 258.9l4 4m-4 0l4 -4M641.1 258.9l4 4m-4 0l4 -4M642 258.9l4 4m-4 0l4 -4M642.9 258.9l4 4m-4 0l4 -4M643.8 258.9l4 4m-4 0l4 -4M644.7 258.9l4 4m-4 0l4 -4M645.6 258.9l4 4m-4 0l4 -4M646.5 258.9l4 4m-4 0l4 -4M647.4 258.9l4 4m-4 0l4 -4M648.3 258.9l4 4m-4 0l4 -4M649.2 258.9l4 4m-4 0l4 -4M650.1 258.9l4 4m-4 0l4 -4M651 258.9l4 4m-4 0l4 -4M651.9 258.9l4 4m-4 0l4 -4M652.8 258.9l4 4m-4 0l4 -4M653.7 258.9l4 4m-4 0l4 -4M654.6 258.9l4 4m-4 0l4 -4M655.5 258.9l4 4m-4 0l4 -4M656.4 258.9l4 4m-4 0l4 -4M657.3 258.9l4 4m-4 0l4 -4M658.2 258.9l4 4m-4 0l4 -4M659.1 258.9l4 4m-4 0l4 -4M660 258.9l4 4m-4 0l4 -4M660.9 258.9l4 4m-4 0l4 -4M661.8 258.9l4 4m-4 0l4 -4M662.7 258.9l4 4m-4 0l4 -4M663.6 258.9l4 4m-4 0l4 -4M664.5 258.9l4 4m-4 0l4 -4M665.4 258.9l4 4m-4 0l4 -4M666.3 258.9l4 4m-4 0l4 -4M667.2 258.9l4 4m-4 0l4 -4M668.1 258.9l4 4m-4 0l4 -4M669 258.9l4 4m-4 0l4 -4M669.9 258.9l4 4m-4 0l4 -4M670.8 258.9l4 4m-4 0l4 -4M671.7 258.9l4 4m-4 0l4 -4M672.6 258.9l4 4m-4 0l4 -4M673.5 258.9l4 4m-4 0l4 -4M674.4 258.9l4 4m-4 0l4 -4M675.3 258.9l4 4m-4 0l4 -4M676.2 258.9l4 4m-4 0l4 -4M677.1 258.9l4 4m-4 0l4 -4M678 258.9l4 4m-4 0l4 -4M678.9 258.9l4 4m-4 0l4 -4M679.8 258.9l4 4m-4 0l4 -4M680.7 258.9l4 4m-4 0l4 -4M681.6 258.9l4 4m-4 0l4 -4M682.5 258.9l4 4m-4 0l4 -4M683.4 258.9l4 4m-4 0l4 -4M684.3 258.9l4 4m-4 0l4 -4M685.2 258.9l4 4m-4 0l4 -4M686.1 258.9l4 4m-4 0l4 -4M687 258.9l4 4m-4 0l4 -4M687.9 258.9l4 4m-4 0l4 -4M688.8 258.9l4 4m-4 0l4 -4M689.7 258.9l4 4m-4 0l4 -4M690.6 258.9l4 4m-4 0l4 -4M691.5 258.9l4 4m-4 0l4 -4M692.4 258.9l4 4m-4 0l4 -4M693.3 258.9l4 4m-4 0l4 -4M694.2 258.9l4 4m-4 0l4 -4M695.1 258.9l4 4m-4 0l4 -4M696 258.9l4 4m-4 0l4 -4M696.9 258.9l4 4m-4 0l4 -4M697.8 258.9l4 4m-4 0l4 -4M698.7 258.9l4 4m-4 0l4 -4M699.6 258.9l4 4m-4 0l4 -4M700.5 258.9l4 4m-4 0l4 -4M701.4 258.9l4 4m-4 0l4 -4M702.3 258.9l4 4m-4 0l4 -4M703.2 258.9l4 4m-4 0l4 -4M704.1 258.9l4 4m-4 0l4 -4M705 258.9l4 4m-4 0l4 -4M705.9 258.9l4 4m-4 0l4 -4M706.8 258.9l4 4m-4 0l4 -4M707.7 258.9l4 4m-4 0l4 -4M708.6 258.9l4 4m-4 0l4 -4M709.5 258.9l4 4m-4 0l4 -4M710.4 258.9l4 4m-4 0l4 -4M711.3 258.9l4 4m-4 0l4 -4M712.2 258.9l4 4m-4 0l4 -4M713.1 258.9l4 4m-4 0l4 -4M714 258.9l4 4m-4 0l4 -4M714.9 258.9l4 4m-4 0l4 -4M715.8 258.9l4 4m-4 0l4 -4M716.7 258.9l4 4m-4 0l4 -4M717.6 258.9l4 4m-4 0l4 -4M718.5 258.9l4 4m-4 0l4 -4M719.4 258.9l4 4m-4 0l4 -4M720.3 258.9l4 4m-4 0l4 -4M721.2 258.9l4 4m-4 0l4 -4M722.1 258.9l4 4m-4 0l4 -4M723 258.9l4 4m-4 0l4 -4M723.9 258.9l4 4m-4 0l4 -4M724.8 258.9l4 4m-4 0l4 -4M725.7 258.9l4 4m-4 0l4 -4M726.6 258.9l4 4m-4 0l4 -4M727.5 258.9l4 4m-4 0l4 -4M728.4 258.9l4 4m-4 0l4 -4M729.3 258.9l4 4m-4 0l4 -4M730.2 258.9l4 4m-4 0l4 -4M731.1 258.9l4 4m-4 0l4 -4M732 258.9l4 4m-4 0l4 -4M732.9 258.9l4 4m-4 0l4 -4M733.8 258.9l4 4m-4 0l4 -4M734.7 258.9l4 4m-4 0l4 -4M735.6 258.9l4 4m-4 0l4 -4M736.5 258.9l4 4m-4 0l4 -4M737.4 258.9l4 4m-4 0l4 -4M738.3 258.9l4 4m-4 0l4 -4M739.2 258.9l4 4m-4 0l4 -4M740.1 258.9l4 4m-4 0l4 -4M741 258.9l4 4m-4 0l4 -4M741.9 258.9l4 4m-4 0l4 -4M742.8 258.9l4 4m-4 0l4 -4M743.7 258.9l4 4m-4 0l4 -4M744.6 258.9l4 4m-4 0l4 -4M745.5 258.9l4 4m-4 0l4 -4M746.4 258.9l4 4m-4 0l4 -4M747.3 258.9l4 4m-4 0l4 -4M748.2 258.9l4 4m-4 0l4 -4M749.1 258.9l4 4m-4 0l4 -4M750 258.9l4 4m-4 0l4 -4M750.9 258.9l4 4m-4 0l4 -4M751.8 258.9l4 4m-4 0l4 -4M752.7 258.9l4 4m-4 0l4 -4M753.6 258.9l4 4m-4 0l4 -4M754.5 258.9l4 4m-4 0l4 -4M755.4 258.9l4 4m-4 0l4 -4M756.3 258.9l4 4m-4 0l4 -4M757.2 258.9l4 4m-4 0l4 -4M758.1 258.9l4 4m-4 0l4 -4M759 258.9l4 4m-4 0l4 -4M759.9 258.9l4 4m-4 0l4 -4M760.8 258.9l4 4m-4 0l4 -4M761.7 258.9l4 4m-4 0l4 -4M762.6 258.9l4 4m-4 0l4 -4M763.5 258.9l4 4m-4 0l4 -4M764.4 258.9l4 4m-4 0l4 -4M765.3 258.9l4 4m-4 0l4 -4M766.2 258.9l4 4m-4 0l4 -4M767.1 258.9l4 4m-4 0l4 -4M768 258.9l4 4m-4 0l4 -4M768.9 258.9l4 4m-4 0l4 -4M769.8 258.9l4 4m-4 0l4 -4M770.7 258.9l4 4m-4 0l4 -4M771.6 258.9l4 4m-4 0l4 -4M772.5 258.9l4 4m-4 0l4 -4M773.4 258.9l4 4m-4 0l4 -4M774.3 258.9l4 4m-4 0l4 -4M775.2 258.9l4 4m-4 0l4 -4M776.1 258.9l4 4m-4 0l4 -4M777 258.9l4 4m-4 0l4 -4M777.9 258.9l4 4m-4 0l4 -4M778.8 258.9l4 4m-4 0l4 -4M779.7 258.9l4 4m-4 0l4 -4M780.6 258.9l4 4m-4 0l4 -4M781.5 258.9l4 4m-4 0l4 -4M782.4 258.9l4 4m-4 0l4 -4M783.3 258.9l4 4m-4 0l4 -4M784.2 258.9l4 4m-4 0l4 -4M785.1 258.9l4 4m-4 0l4 -4M786 258.9l4 4m-4 0l4 -4M786.9 258.9l4 4m-4 0l4 -4M787.8 258.9l4 4m-4 0l4 -4M788.7 258.9l4 4m-4 0l4 -4M789.6 258.9l4 4m-4 0l4 -4M790.5 258.9l4 4m-4 0l4 -4M791.4 258.9l4 4m-4 0l4 -4M792.3 258.9l4 4m-4 0l4 -4M793.2 258.9l4 4m-4 0l4 -4M794.1 258.9l4 4m-4 0l4 -4M795 258.9l4 4m-4 0l4 -4M795.9 258.9l4 4m-4 0l4 -4M796.8 258.9l4 4m-4 0l4 -4M797.7 258.9l4 4m-4 0l4 -4M798.6 258.9l4 4m-4 0l4 -4M799.5 258.9l4 4m-4 0l4 -4M800.4 258.9l4 4m-4 0l4 -4M801.3 258.9l4 4m-4 0l4 -4M802.2 258.9l4 4m-4 0l4 -4M803.1 258.9l4 4m-4 0l4 -4M804 258.9l4 4m-4 0l4 -4M804.9 258.9l4 4m-4 0l4 -4M805.8 258.9l4 4m-4 0l4 -4M806.7 258.9l4 4m-4 0l4 -4M807.6 258.9l4 4m-4 0l4 -4M808.5 258.9l4 4m-4 0l4 -4M809.4 258.9l4 4m-4 0l4 -4M810.3 258.9l4 4m-4 0l4 -4M811.2 258.9l4 4m-4 0l4 -4M812.1 258.9l4 4m-4 0l4 -4M813 258.9l4 4m-4 0l4 -4M813.9 258.9l4 4m-4 0l4 -4M814.8 258.9l4 4m-4 0l4 -4M815.7 258.9l4 4m-4 0l4 -4M816.6 258.9l4 4m-4 0l4 -4M817.5 258.9l4 4m-4 0l4 -4M818.4 258.9l4 4m-4 0l4 -4M819.3 258.9l4 4m-4 0l4 -4M820.2 258.9l4 4m-4 0l4 -4M821.1 258.9l4 4m-4 0l4 -4M822 258.9l4 4m-4 0l4 -4M822.9 258.9l4 4m-4 0l4 -4M823.8 258.9l4 4m-4 0l4 -4M824.7 258.9l4 4m-4 0l4 -4M825.6 258.9l4 4m-4 0l4 -4M826.5 258.9l4 4m-4 0l4 -4M827.4 258.9l4 4m-4 0l4 -4M828.3 258.9l4 4m-4 0l4 -4M829.2 258.9l4 4m-4 0l4 -4M830.1 258.9l4 4m-4 0l4 -4M831 258.9l4 4m-4 0l4 -4M831.9 258.9l4 4m-4 0l4 -4M832.8 258.9l4 4m-4 0l4 -4M833.7 258.9l4 4m-4 0l4 -4M834.6 258.9l4 4m-4 0l4 -4M835.5 258.9l4 4m-4 0l4 -4M836.4 258.9l4 4m-4 0l4 -4M837.3 258.9l4 4m-4 0l4 -4M838.2 258.9l4 4m-4 0l4 -4M839.1 258.9l4 4m-4 0l4 -4M840 258.9l4 4m-4 0l4 -4M840.9 258.9l4 4m-4 0l4 -4M841.8 258.9l4 4m-4 0l4 -4M842.7 258.9l4 4m-4 0l4 -4M843.6 258.9l4 4m-4 0l4 -4M844.5 258.9l4 4m-4 0l4 -4M845.4 258.9l4 4m-4 0l4 -4M846.3 258.9l4 4m-4 0l4 -4M847.2 258.9l4 4m-4 0l4 -4M848.1 258.9l4 4m-4 0l4 -4M849 258.9l4 4m-4 0l4 -4M849.9 258.9l4 4m-4 0l4 -4M850.8 258.9l4 4m-4 0l4 -4M851.7 258.9l4 4m-4 0l4 -4M852.6 258.9l4 4m-4 0l4 -4M853.5 258.9l4 4m-4 0l4 -4M854.4 258.9l4 4m-4 0l4 -4M855.3 258.9l4 4m-4 0l4 -4M856.2 258.9l4 4m-4 0l4 -4M857.1 258.9l4 4m-4 0l4 -4M858 258.9l4 4m-4 0l4 -4M858.9 258.9l4 4m-4 0l4 -4M859.8 258.9l4 4m-4 0l4 -4M860.7 258.9l4 4m-4 0l4 -4M861.6 258.9l4 4m-4 0l4 -4M862.5 258.9l4 4m-4 0l4 -4M863.4 258.9l4 4m-4 0l4 -4M864.3 258.9l4 4m-4 0l4 -4M865.2 258.9l4 4m-4 0l4 -4M866.1 258.9l4 4m-4 0l4 -4M867 258.9l4 4m-4 0l4 -4M867.9 258.9l4 4m-4 0l4 -4M868.8 258.9l4 4m-4 0l4 -4M869.7 258.9l4 4m-4 0l4 -4M870.6 258.9l4 4m-4 0l4 -4M871.5 258.9l4 4m-4 0l4 -4M872.4 258.9l4 4m-4 0l4 -4M873.3 258.9l4 4m-4 0l4 -4M874.2 258.9l4 4m-4 0l4 -4M875.1 258.9l4 4m-4 0l4 -4M876 258.9l4 4m-4 0l4 -4M876.9 258.9l4 4m-4 0l4 -4M877.8 258.9l4 4m-4 0l4 -4M878.7 258.9l4 4m-4 0l4 -4M879.6 258.9l4 4m-4 0l4 -4M880.5 258.9l4 4m-4 0l4 -4M881.4 258.9l4 4m-4 0l4 -4M882.3 258.9l4 4m-4 0l4 -4M883.2 258.9l4 4m-4 0l4 -4M884.1 258.9l4 4m-4 0l4 -4M885 258.9l4 4m-4 0l4 -4M885.9 258.9l4 4m-4 0l4 -4M886.8 258.9l4 4m-4 0l4 -4M887.7 258.9l4 4m-4 0l4 -4M888.6 258.9l4 4m-4 0l4 -4M889.5 258.9l4 4m-4 0l4 -4M890.4 258.9l4 4m-4 0l4 -4M891.3 258.9l4 4m-4 0l4 -4M892.2 258.9l4 4m-4 0l4 -4M893.1 258.9l4 4m-4 0l4 -4M894 258.9l4 4m-4 0l4 -4M894.9 258.9l4 4m-4 0l4 -4M895.8 258.9l4 4m-4 0l4 -4M896.7 258.9l4 4m-4 0l4 -4M897.6 258.9l4 4m-4 0l4 -4M898.5 258.9l4 4m-4 0l4 -4M899.4 258.9l4 4m-4 0l4 -4M900.3 258.9l4 4m-4 0l4 -4M901.2 258.9l4 4m-4 0l4 -4M902.1 258.9l4 4m-4 0l4 -4M903 258.9l4 4m-4 0l4 -4M903.9 258.9l4 4m-4 0l4 -4M904.8 258.9l4 4m-4 0l4 -4M905.7 258.9l4 4m-4 0l4 -4M906.6 258.9l4 4m-4 0l4 -4M907.5 258.9l4 4m-4 0l4 -4M908.4 258.9l4 4m-4 0l4 -4M909.3 258.9l4 4m-4 0l4 -4M910.2 258.9l4 4m-4 0l4 -4M911.1 258.9l4 4m-4 0l4 -4M912 258.9l4 4m-4 0l4 -4M912.9 258.9l4 4m-4 0l4 -4M913.8 258.9l4 4m-4 0l4 -4M914.7 258.9l4 4m-4 0l4 -4M915.6 258.9l4 4m-4 0l4 -4M916.5 258.9l4 4m-4 0l4 -4M917.4 258.9l4 4m-4 0l4 -4M918.3 258.9l4 4m-4 0l4 -4M919.2 258.9l4 4m-4 0l4 -4M920.1 258.9l4 4m-4 0l4 -4M921 258.9l4 4m-4 0l4 -4M921.9 258.9l4 4m-4 0l4 -4M922.8 258.9l4 4m-4 0l4 -4M923.7 258.9l4 4m-4 0l4 -4M924.6 258.9l4 4m-4 0l4 -4M925.5 258.9l4 4m-4 0l4 -4M926.4 258.9l4 4m-4 0l4 -4M927.3 258.9l4 4m-4 0l4 -4M928.2 258.9l4 4m-4 0l4 -4M929.1 258.9l4 4m-4 0l4 -4M930 258.9l4 4m-4 0l4 -4M930.9 258.9l4 4m-4 0l4 -4M931.8 258.9l4 4m-4 0l4 -4M932.7 258.9l4 4m-4 0l4 -4M933.6 258.9l4 4m-4 0l4 -4M934.5 258.9l4 4m-4 0l4 -4M935.4 258.9l4 4m-4 0l4 -4M936.3 258.9l4 4m-4 0l4 -4M937.2 258.9l4 4m-4 0l4 -4M938.1 258.9l4 4m-4 0l4 -4M939 258.9l4 4m-4 0l4 -4M939.9 258.9l4 4m-4 0l4 -4M940.8 258.9l4 4m-4 0l4 -4M941.7 258.9l4 4m-4 0l4 -4M942.6 258.9l4 4m-4 0l4 -4M943.5 258.9l4 4m-4 0l4 -4M944.4 258.9l4 4m-4 0l4 -4M945.3 258.9l4 4m-4 0l4 -4M946.2 258.9l4 4m-4 0l4 -4M947.1 258.9l4 4m-4 0l4 -4M948 258.9l4 4m-4 0l4 -4M948.9 258.9l4 4m-4 0l4 -4M949.8 258.9l4 4m-4 0l4 -4M950.7 258.9l4 4m-4 0l4 -4M951.6 258.9l4 4m-4 0l4 -4M952.5 258.9l4 4m-4 0l4 -4M953.4 258.9l4 4m-4 0l4 -4M954.3 258.9l4 4m-4 0l4 -4M955.2 258.9l4 4m-4 0l4 -4M956.1 258.9l4 4m-4 0l4 -4M957 258.9l4 4m-4 0l4 -4M957.9 258.9l4 4m-4 0l4 -4M958.8 258.9l4 4m-4 0l4 -4M959.7 258.9l4 4m-4 0l4 -4M960.6 258.9l4 4m-4 0l4 -4M961.5 258.9l4 4m-4 0l4 -4M962.4 258.9l4 4m-4 0l4 -4M963.3 258.9l4 4m-4 0l4 -4M964.2 258.9l4 4m-4 0l4 -4M965.1 258.9l4 4m-4 0l4 -4M966 258.9l4 4m-4 0l4 -4M966.9 258.9l4 4m-4 0l4 -4M967.8 258.9l4 4m-4 0l4 -4M968.7 258.9l4 4m-4 0l4 -4M969.6 258.9l4 4m-4 0l4 -4M970.5 258.9l4 4m-4 0l4 -4M971.4 258.9l4 4m-4 0l4 -4M972.3 258.9l4 4m-4 0l4 -4M973.2 258.9l4 4m-4 0l4 -4M974.1 258.9l4 4m-4 0l4 -4M975 258.9l4 4m-4 0l4 -4M975.9 258.9l4 4m-4 0l4 -4M976.8 258.9l4 4m-4 0l4 -4M977.7 258.9l4 4m-4 0l4 -4M978.6 258.9l4 4m-4 0l4 -4M979.5 258.9l4 4m-4 0l4 -4M980.4 258.9l4 4m-4 0l4 -4M981.3 258.9l4 4m-4 0l4 -4M982.2 258.9l4 4m-4 0l4 -4M983.1 258.9l4 4m-4 0l4 -4M984 258.9l4 4m-4 0l4 -4M984.9 258.9l4 4m-4 0l4 -4" fill="none" stroke="#9A35AA" stroke-width="1.8"/>
<path d="M130.7 723.7a2.7 2.7 0 1 0 5.4 0a2.7 2.7 0 1 0 -5.4 0M131.3 700.1a2.7 2.7 0 1 0 5.4 0a2.7 2.7 0 1 0 -5.4 0M131.9 677.9a2.7 2.7 0 1 0 5.4 0a2.7 2.7 0 1 0 -5.4 0M132.5 662.4a2.7 2.7 0 1 0 5.4 0a2.7 2.7 0 1 0 -5.4 0M133.1 645.9a2.7 2.7 0 1 0 5.4 0a2.7 2.7 0 1 0 -5.4 0M133.7 636a2.7 2.7 0 1 0 5.4 0a2.7 2.7 0 1 0 -5.4 0M134.3 621.7a2.7 2.7 0 1 0 5.4 0a2.7 2.7 0 1 0 -5.4 0M134.9 614a2.7 2.7 0 1 0 5.4 0a2.7 2.7 0 1 0 -5.4 0M135.5 605.2a2.7 2.7 0 1 0 5.4 0a2.7 2.7 0 1 0 -5.4 0M136.1 595.6a2.7 2.7 0 1 0 5.4 0a2.7 2.7 0 1 0 -5.4 0M136.7 588.2a2.7 2.7 0 1 0 5.4 0a2.7 2.7 0 1 0 -5.4 0M137.3 583.7a2.7 2.7 0 1 0 5.4 0a2.7 2.7 0 1 0 -5.4 0M137.9 577.6a2.7 2.7 0 1 0 5.4 0a2.7 2.7 0 1 0 -5.4 0M138.5 571.6a2.7 2.7 0 1 0 5.4 0a2.7 2.7 0 1 0 -5.4 0M139.1 567a2.7 2.7 0 1 0 5.4 0a2.7 2.7 0 1 0 -5.4 0M139.7 563a2.7 2.7 0 1 0 5.4 0a2.7 2.7 0 1 0 -5.4 0M140.3 560.8a2.7 2.7 0 1 0 5.4 0a2.7 2.7 0 1 0 -5.4 0M140.9 554.9a2.7 2.7 0 1 0 5.4 0a2.7 2.7 0 1 0 -5.4 0M141.5 553.1a2.7 2.7 0 1 0 5.4 0a2.7 2.7 0 1 0 -5.4 0M142.1 549.4a2.7 2.7 0 1 0 5.4 0a2.7 2.7 0 1 0 -5.4 0M142.7 548a2.7 2.7 0 1 0 5.4 0a2.7 2.7 0 1 0 -5.4 0M143.3 542.6a2.7 2.7 0 1 0 5.4 0a2.7 2.7 0 1 0 -5.4 0M143.9 537a2.7 2.7 0 1 0 5.4 0a2.7 2.7 0 1 0 -5.4 0M144.5 532.4a2.7 2.7 0 1 0 5.4 0a2.7 2.7 0 1 0 -5.4 0M145.1 525.4a2.7 2.7 0 1 0 5.4 0a2.7 2.7 0 1 0 -5.4 0M145.7 525.1a2.7 2.7 0 1 0 5.4 0a2.7 2.7 0 1 0 -5.4 0M146.3 522.9a2.7 2.7 0 1 0 5.4 0a2.7 2.7 0 1 0 -5.4 0M146.9 521.8a2.7 2.7 0 1 0 5.4 0a2.7 2.7 0 1 0 -5.4 0M147.5 519.1a2.7 2.7 0 1 0 5.4 0a2.7 2.7 0 1 0 -5.4 0M148.1 516.6a2.7 2.7 0 1 0 5.4 0a2.7 2.7 0 1 0 -5.4 0M148.7 514.2a2.7 2.7 0 1 0 5.4 0a2.7 2.7 0 1 0 -5.4 0M149.3 513a2.7 2.7 0 1 0 5.4 0a2.7 2.7 0 1 0 -5.4 0M149.9 512.4a2.7 2.7 0 1 0 5.4 0a2.7 2.7 0 1 0 -5.4 0M150.5 507.8a2.7 2.7 0 1 0 5.4 0a2.7 2.7 0 1 0 -5.4 0M151.1 506.3a2.7 2.7 0 1 0 5.4 0a2.7 2.7 0 1 0 -5.4 0M151.7 503.1a2.7 2.7 0 1 0 5.4 0a2.7 2.7 0 1 0 -5.4 0M152.3 504.7a2.7 2.7 0 1 0 5.4 0a2.7 2.7 0 1 0 -5.4 0M152.9 503.1a2.7 2.7 0 1 0 5.4 0a2.7 2.7 0 1 0 -5.4 0M153.5 501.4a2.7 2.7 0 1 0 5.4 0a2.7 2.7 0 1 0 -5.4 0M154.1 498.7a2.7 2.7 0 1 0 5.4 0a2.7 2.7 0 1 0 -5.4 0M154.7 499.5a2.7 2.7 0 1 0 5.4 0a2.7 2.7 0 1 0 -5.4 0M155.3 498.7a2.7 2.7 0 1 0 5.4 0a2.7 2.7 0 1 0 -5.4 0M155.9 498.6a2.7 2.7 0 1 0 5.4 0a2.7 2.7 0 1 0 -5.4 0M156.5 497.9a2.7 2.7 0 1 0 5.4 0a2.7 2.7 0 1 0 -5.4 0M157.1 498.3a2.7 2.7 0 1 0 5.4 0a2.7 2.7 0 1 0 -5.4 0M157.7 496.3a2.7 2.7 0 1 0 5.4 0a2.7 2.7 0 1 0 -5.4 0M158.3 496.4a2.7 2.7 0 1 0 5.4 0a2.7 2.7 0 1 0 -5.4 0M158.9 494.6a2.7 2.7 0 1 0 5.4 0a2.7 2.7 0 1 0 -5.4 0M159.5 492.6a2.7 2.7 0 1 0 5.4 0a2.7 2.7 0 1 0 -5.4 0M160.1 491.4a2.7 2.7 0 1 0 5.4 0a2.7 2.7 0 1 0 -5.4 0M160.7 489.6a2.7 2.7 0 1 0 5.4 0a2.7 2.7 0 1 0 -5.4 0M161.3 489.7a2.7 2.7 0 1 0 5.4 0a2.7 2.7 0 1 0 -5.4 0M161.9 487.3a2.7 2.7 0 1 0 5.4 0a2.7 2.7 0 1 0 -5.4 0M162.5 486.6a2.7 2.7 0 1 0 5.4 0a2.7 2.7 0 1 0 -5.4 0M163.1 484.5a2.7 2.7 0 1 0 5.4 0a2.7 2.7 0 1 0 -5.4 0M163.7 481.6a2.7 2.7 0 1 0 5.4 0a2.7 2.7 0 1 0 -5.4 0M164.3 482.9a2.7 2.7 0 1 0 5.4 0a2.7 2.7 0 1 0 -5.4 0M164.9 479.4a2.7 2.7 0 1 0 5.4 0a2.7 2.7 0 1 0 -5.4 0M165.5 480.1a2.7 2.7 0 1 0 5.4 0a2.7 2.7 0 1 0 -5.4 0M166.1 478.9a2.7 2.7 0 1 0 5.4 0a2.7 2.7 0 1 0 -5.4 0M166.7 475.3a2.7 2.7 0 1 0 5.4 0a2.7 2.7 0 1 0 -5.4 0M167.3 474.5a2.7 2.7 0 1 0 5.4 0a2.7 2.7 0 1 0 -5.4 0M167.9 473.7a2.7 2.7 0 1 0 5.4 0a2.7 2.7 0 1 0 -5.4 0M168.5 472.2a2.7 2.7 0 1 0 5.4 0a2.7 2.7 0 1 0 -5.4 0M169.1 470.5a2.7 2.7 0 1 0 5.4 0a2.7 2.7 0 1 0 -5.4 0M169.7 471.6a2.7 2.7 0 1 0 5.4 0a2.7 2.7 0 1 0 -5.4 0M170.3 469.7a2.7 2.7 0 1 0 5.4 0a2.7 2.7 0 1 0 -5.4 0M170.9 469.4a2.7 2.7 0 1 0 5.4 0a2.7 2.7 0 1 0 -5.4 0M171.5 467.5a2.7 2.7 0 1 0 5.4 0a2.7 2.7 0 1 0 -5.4 0M172.1 467.2a2.7 2.7 0 1 0 5.4 0a2.7 2.7 0 1 0 -5.4 0M172.7 464.9a2.7 2.7 0 1 0 5.4 0a2.7 2.7 0 1 0 -5.4 0M173.3 464.5a2.7 2.7 0 1 0 5.4 0a2.7 2.7 0 1 0 -5.4 0M173.9 464.1a2.7 2.7 0 1 0 5.4 0a2.7 2.7 0 1 0 -5.4 0M174.5 462.4a2.7 2.7 0 1 0 5.4 0a2.7 2.7 0 1 0 -5.4 0M175.1 460.5a2.7 2.7 0 1 0 5.4 0a2.7 2.7 0 1 0 -5.4 0M175.7 458.3a2.7 2.7 0 1 0 5.4 0a2.7 2.7 0 1 0 -5.4 0M176.3 458.3a2.7 2.7 0 1 0 5.4 0a2.7 2.7 0 1 0 -5.4 0M176.9 457.4a2.7 2.7 0 1 0 5.4 0a2.7 2.7 0 1 0 -5.4 0M177.5 455.5a2.7 2.7 0 1 0 5.4 0a2.7 2.7 0 1 0 -5.4 0M178.1 453.5a2.7 2.7 0 1 0 5.4 0a2.7 2.7 0 1 0 -5.4 0M178.7 453.7a2.7 2.7 0 1 0 5.4 0a2.7 2.7 0 1 0 -5.4 0M179.3 455.1a2.7 2.7 0 1 0 5.4 0a2.7 2.7 0 1 0 -5.4 0M179.9 451.2a2.7 2.7 0 1 0 5.4 0a2.7 2.7 0 1 0 -5.4 0M180.5 450.4a2.7 2.7 0 1 0 5.4 0a2.7 2.7 0 1 0 -5.4 0M181.1 449a2.7 2.7 0 1 0 5.4 0a2.7 2.7 0 1 0 -5.4 0M181.7 443.7a2.7 2.7 0 1 0 5.4 0a2.7 2.7 0 1 0 -5.4 0M182.3 444.7a2.7 2.7 0 1 0 5.4 0a2.7 2.7 0 1 0 -5.4 0M182.9 442.3a2.7 2.7 0 1 0 5.4 0a2.7 2.7 0 1 0 -5.4 0M183.5 443.3a2.7 2.7 0 1 0 5.4 0a2.7 2.7 0 1 0 -5.4 0M184.1 440.2a2.7 2.7 0 1 0 5.4 0a2.7 2.7 0 1 0 -5.4 0M184.7 438a2.7 2.7 0 1 0 5.4 0a2.7 2.7 0 1 0 -5.4 0M185.3 436.9a2.7 2.7 0 1 0 5.4 0a2.7 2.7 0 1 0 -5.4 0M185.9 435.3a2.7 2.7 0 1 0 5.4 0a2.7 2.7 0 1 0 -5.4 0M186.5 432.4a2.7 2.7 0 1 0 5.4 0a2.7 2.7 0 1 0 -5.4 0M187.1 430.8a2.7 2.7 0 1 0 5.4 0a2.7 2.7 0 1 0 -5.4 0M187.7 427.1a2.7 2.7 0 1 0 5.4 0a2.7 2.7 0 1 0 -5.4 0M188.3 426a2.7 2.7 0 1 0 5.4 0a2.7 2.7 0 1 0 -5.4 0M188.9 425.3a2.7 2.7 0 1 0 5.4 0a2.7 2.7 0 1 0 -5.4 0M189.5 425.1a2.7 2.7 0 1 0 5.4 0a2.7 2.7 0 1 0 -5.4 0M190.1 422.1a2.7 2.7 0 1 0 5.4 0a2.7 2.7 0 1 0 -5.4 0M190.7 418a2.7 2.7 0 1 0 5.4 0a2.7 2.7 0 1 0 -5.4 0M191.3 414.6a2.7 2.7 0 1 0 5.4 0a2.7 2.7 0 1 0 -5.4 0M191.9 410.2a2.7 2.7 0 1 0 5.4 0a2.7 2.7 0 1 0 -5.4 0M192.5 405.6a2.7 2.7 0 1 0 5.4 0a2.7 2.7 0 1 0 -5.4 0M193.1 397.7a2.7 2.7 0 1 0 5.4 0a2.7 2.7 0 1 0 -5.4 0M193.7 390.7a2.7 2.7 0 1 0 5.4 0a2.7 2.7 0 1 0 -5.4 0M194.3 386.3a2.7 2.7 0 1 0 5.4 0a2.7 2.7 0 1 0 -5.4 0M194.9 381.4a2.7 2.7 0 1 0 5.4 0a2.7 2.7 0 1 0 -5.4 0M195.5 376.6a2.7 2.7 0 1 0 5.4 0a2.7 2.7 0 1 0 -5.4 0M196.1 371.6a2.7 2.7 0 1 0 5.4 0a2.7 2.7 0 1 0 -5.4 0M196.7 363.5a2.7 2.7 0 1 0 5.4 0a2.7 2.7 0 1 0 -5.4 0M197.3 353.6a2.7 2.7 0 1 0 5.4 0a2.7 2.7 0 1 0 -5.4 0M197.9 349.1a2.7 2.7 0 1 0 5.4 0a2.7 2.7 0 1 0 -5.4 0M198.5 341.7a2.7 2.7 0 1 0 5.4 0a2.7 2.7 0 1 0 -5.4 0M199.1 338.3a2.7 2.7 0 1 0 5.4 0a2.7 2.7 0 1 0 -5.4 0M199.7 333.6a2.7 2.7 0 1 0 5.4 0a2.7 2.7 0 1 0 -5.4 0M200.3 327.1a2.7 2.7 0 1 0 5.4 0a2.7 2.7 0 1 0 -5.4 0M200.9 325.3a2.7 2.7 0 1 0 5.4 0a2.7 2.7 0 1 0 -5.4 0M201.5 321.2a2.7 2.7 0 1 0 5.4 0a2.7 2.7 0 1 0 -5.4 0M202.1 315.4a2.7 2.7 0 1 0 5.4 0a2.7 2.7 0 1 0 -5.4 0M202.7 312.2a2.7 2.7 0 1 0 5.4 0a2.7 2.7 0 1 0 -5.4 0M203.3 307.8a2.7 2.7 0 1 0 5.4 0a2.7 2.7 0 1 0 -5.4 0M203.9 301.9a2.7 2.7 0 1 0 5.4 0a2.7 2.7 0 1 0 -5.4 0M204.5 301.7a2.7 2.7 0 1 0 5.4 0a2.7 2.7 0 1 0 -5.4 0M205.1 298.7a2.7 2.7 0 1 0 5.4 0a2.7 2.7 0 1 0 -5.4 0M205.7 296.2a2.7 2.7 0 1 0 5.4 0a2.7 2.7 0 1 0 -5.4 0M206.3 294.4a2.7 2.7 0 1 0 5.4 0a2.7 2.7 0 1 0 -5.4 0M206.9 289.8a2.7 2.7 0 1 0 5.4 0a2.7 2.7 0 1 0 -5.4 0M207.5 287a2.7 2.7 0 1 0 5.4 0a2.7 2.7 0 1 0 -5.4 0M208.1 283.9a2.7 2.7 0 1 0 5.4 0a2.7 2.7 0 1 0 -5.4 0M208.7 281.1a2.7 2.7 0 1 0 5.4 0a2.7 2.7 0 1 0 -5.4 0M209.3 279.1a2.7 2.7 0 1 0 5.4 0a2.7 2.7 0 1 0 -5.4 0M209.9 275.1a2.7 2.7 0 1 0 5.4 0a2.7 2.7 0 1 0 -5.4 0M210.5 273.8a2.7 2.7 0 1 0 5.4 0a2.7 2.7 0 1 0 -5.4 0M211.1 274.3a2.7 2.7 0 1 0 5.4 0a2.7 2.7 0 1 0 -5.4 0M211.7 272.5a2.7 2.7 0 1 0 5.4 0a2.7 2.7 0 1 0 -5.4 0M212.3 271.7a2.7 2.7 0 1 0 5.4 0a2.7 2.7 0 1 0 -5.4 0M212.9 267.7a2.7 2.7 0 1 0 5.4 0a2.7 2.7 0 1 0 -5.4 0M213.5 267.1a2.7 2.7 0 1 0 5.4 0a2.7 2.7 0 1 0 -5.4 0M214.1 265.9a2.7 2.7 0 1 0 5.4 0a2.7 2.7 0 1 0 -5.4 0M214.7 265.3a2.7 2.7 0 1 0 5.4 0a2.7 2.7 0 1 0 -5.4 0M215.3 263.3a2.7 2.7 0 1 0 5.4 0a2.7 2.7 0 1 0 -5.4 0M215.9 263.8a2.7 2.7 0 1 0 5.4 0a2.7 2.7 0 1 0 -5.4 0M216.5 261.8a2.7 2.7 0 1 0 5.4 0a2.7 2.7 0 1 0 -5.4 0M217.1 260.8a2.7 2.7 0 1 0 5.4 0a2.7 2.7 0 1 0 -5.4 0M217.7 259.8a2.7 2.7 0 1 0 5.4 0a2.7 2.7 0 1 0 -5.4 0M218.3 259.7a2.7 2.7 0 1 0 5.4 0a2.7 2.7 0 1 0 -5.4 0M218.9 257.4a2.7 2.7 0 1 0 5.4 0a2.7 2.7 0 1 0 -5.4 0M219.5 258.2a2.7 2.7 0 1 0 5.4 0a2.7 2.7 0 1 0 -5.4 0M220.1 256.7a2.7 2.7 0 1 0 5.4 0a2.7 2.7 0 1 0 -5.4 0M220.7 255.3a2.7 2.7 0 1 0 5.4 0a2.7 2.7 0 1 0 -5.4 0M221.3 254.1a2.7 2.7 0 1 0 5.4 0a2.7 2.7 0 1 0 -5.4 0M221.9 253.6a2.7 2.7 0 1 0 5.4 0a2.7 2.7 0 1 0 -5.4 0M222.5 253.3a2.7 2.7 0 1 0 5.4 0a2.7 2.7 0 1 0 -5.4 0M223.1 252.4a2.7 2.7 0 1 0 5.4 0a2.7 2.7 0 1 0 -5.4 0M223.7 250.8a2.7 2.7 0 1 0 5.4 0a2.7 2.7 0 1 0 -5.4 0M224.3 250.3a2.7 2.7 0 1 0 5.4 0a2.7 2.7 0 1 0 -5.4 0M224.9 248.4a2.7 2.7 0 1 0 5.4 0a2.7 2.7 0 1 0 -5.4 0M225.5 248.8a2.7 2.7 0 1 0 5.4 0a2.7 2.7 0 1 0 -5.4 0M226.1 246.5a2.7 2.7 0 1 0 5.4 0a2.7 2.7 0 1 0 -5.4 0M226.7 242.8a2.7 2.7 0 1 0 5.4 0a2.7 2.7 0 1 0 -5.4 0M227.3 245.3a2.7 2.7 0 1 0 5.4 0a2.7 2.7 0 1 0 -5.4 0M227.9 243.3a2.7 2.7 0 1 0 5.4 0a2.7 2.7 0 1 0 -5.4 0M228.5 240.7a2.7 2.7 0 1 0 5.4 0a2.7 2.7 0 1 0 -5.4 0M229.1 240.6a2.7 2.7 0 1 0 5.4 0a2.7 2.7 0 1 0 -5.4 0M229.7 238.7a2.7 2.7 0 1 0 5.4 0a2.7 2.7 0 1 0 -5.4 0M230.3 241.3a2.7 2.7 0 1 0 5.4 0a2.7 2.7 0 1 0 -5.4 0M230.9 239.2a2.7 2.7 0 1 0 5.4 0a2.7 2.7 0 1 0 -5.4 0M231.5 235.7a2.7 2.7 0 1 0 5.4 0a2.7 2.7 0 1 0 -5.4 0M232.1 236.9a2.7 2.7 0 1 0 5.4 0a2.7 2.7 0 1 0 -5.4 0M232.7 235.2a2.7 2.7 0 1 0 5.4 0a2.7 2.7 0 1 0 -5.4 0M233.3 237.5a2.7 2.7 0 1 0 5.4 0a2.7 2.7 0 1 0 -5.4 0M233.9 233.9a2.7 2.7 0 1 0 5.4 0a2.7 2.7 0 1 0 -5.4 0M234.5 231.4a2.7 2.7 0 1 0 5.4 0a2.7 2.7 0 1 0 -5.4 0M235.1 233a2.7 2.7 0 1 0 5.4 0a2.7 2.7 0 1 0 -5.4 0M235.7 232.2a2.7 2.7 0 1 0 5.4 0a2.7 2.7 0 1 0 -5.4 0M236.3 231.5a2.7 2.7 0 1 0 5.4 0a2.7 2.7 0 1 0 -5.4 0M236.9 228.8a2.7 2.7 0 1 0 5.4 0a2.7 2.7 0 1 0 -5.4 0M237.5 231a2.7 2.7 0 1 0 5.4 0a2.7 2.7 0 1 0 -5.4 0M238.1 232.4a2.7 2.7 0 1 0 5.4 0a2.7 2.7 0 1 0 -5.4 0M238.7 228.1a2.7 2.7 0 1 0 5.4 0a2.7 2.7 0 1 0 -5.4 0M239.3 230.9a2.7 2.7 0 1 0 5.4 0a2.7 2.7 0 1 0 -5.4 0M239.9 228.7a2.7 2.7 0 1 0 5.4 0a2.7 2.7 0 1 0 -5.4 0M240.5 231.7a2.7 2.7 0 1 0 5.4 0a2.7 2.7 0 1 0 -5.4 0M241.1 229.6a2.7 2.7 0 1 0 5.4 0a2.7 2.7 0 1 0 -5.4 0M241.7 228.3a2.7 2.7 0 1 0 5.4 0a2.7 2.7 0 1 0 -5.4 0M242.3 229.3a2.7 2.7 0 1 0 5.4 0a2.7 2.7 0 1 0 -5.4 0M242.9 228.2a2.7 2.7 0 1 0 5.4 0a2.7 2.7 0 1 0 -5.4 0M243.5 226.1a2.7 2.7 0 1 0 5.4 0a2.7 2.7 0 1 0 -5.4 0M244.1 226.7a2.7 2.7 0 1 0 5.4 0a2.7 2.7 0 1 0 -5.4 0M244.7 224.6a2.7 2.7 0 1 0 5.4 0a2.7 2.7 0 1 0 -5.4 0M245.3 222a2.7 2.7 0 1 0 5.4 0a2.7 2.7 0 1 0 -5.4 0M245.9 225.6a2.7 2.7 0 1 0 5.4 0a2.7 2.7 0 1 0 -5.4 0M246.5 222.6a2.7 2.7 0 1 0 5.4 0a2.7 2.7 0 1 0 -5.4 0M247.1 221.4a2.7 2.7 0 1 0 5.4 0a2.7 2.7 0 1 0 -5.4 0M247.7 221.7a2.7 2.7 0 1 0 5.4 0a2.7 2.7 0 1 0 -5.4 0M248.3 218.7a2.7 2.7 0 1 0 5.4 0a2.7 2.7 0 1 0 -5.4 0M248.9 217.7a2.7 2.7 0 1 0 5.4 0a2.7 2.7 0 1 0 -5.4 0M249.5 217.8a2.7 2.7 0 1 0 5.4 0a2.7 2.7 0 1 0 -5.4 0M250.1 217a2.7 2.7 0 1 0 5.4 0a2.7 2.7 0 1 0 -5.4 0M250.7 217.1a2.7 2.7 0 1 0 5.4 0a2.7 2.7 0 1 0 -5.4 0M251.3 217.9a2.7 2.7 0 1 0 5.4 0a2.7 2.7 0 1 0 -5.4 0M251.9 215.7a2.7 2.7 0 1 0 5.4 0a2.7 2.7 0 1 0 -5.4 0M252.5 216.1a2.7 2.7 0 1 0 5.4 0a2.7 2.7 0 1 0 -5.4 0M253.1 215.6a2.7 2.7 0 1 0 5.4 0a2.7 2.7 0 1 0 -5.4 0M253.7 212.9a2.7 2.7 0 1 0 5.4 0a2.7 2.7 0 1 0 -5.4 0M254.3 213.4a2.7 2.7 0 1 0 5.4 0a2.7 2.7 0 1 0 -5.4 0M254.9 211.2a2.7 2.7 0 1 0 5.4 0a2.7 2.7 0 1 0 -5.4 0M255.5 212.6a2.7 2.7 0 1 0 5.4 0a2.7 2.7 0 1 0 -5.4 0M256.1 211.5a2.7 2.7 0 1 0 5.4 0a2.7 2.7 0 1 0 -5.4 0M256.7 210.3a2.7 2.7 0 1 0 5.4 0a2.7 2.7 0 1 0 -5.4 0M257.3 207.7a2.7 2.7 0 1 0 5.4 0a2.7 2.7 0 1 0 -5.4 0M257.9 208.3a2.7 2.7 0 1 0 5.4 0a2.7 2.7 0 1 0 -5.4 0M258.5 206.4a2.7 2.7 0 1 0 5.4 0a2.7 2.7 0 1 0 -5.4 0M259.1 207.3a2.7 2.7 0 1 0 5.4 0a2.7 2.7 0 1 0 -5.4 0M259.7 205.7a2.7 2.7 0 1 0 5.4 0a2.7 2.7 0 1 0 -5.4 0M260.3 204a2.7 2.7 0 1 0 5.4 0a2.7 2.7 0 1 0 -5.4 0M260.9 205.2a2.7 2.7 0 1 0 5.4 0a2.7 2.7 0 1 0 -5.4 0M261.5 204.5a2.7 2.7 0 1 0 5.4 0a2.7 2.7 0 1 0 -5.4 0M262.1 202.3a2.7 2.7 0 1 0 5.4 0a2.7 2.7 0 1 0 -5.4 0M262.7 203.6a2.7 2.7 0 1 0 5.4 0a2.7 2.7 0 1 0 -5.4 0M263.3 201.7a2.7 2.7 0 1 0 5.4 0a2.7 2.7 0 1 0 -5.4 0M263.9 201a2.7 2.7 0 1 0 5.4 0a2.7 2.7 0 1 0 -5.4 0M264.5 200.9a2.7 2.7 0 1 0 5.4 0a2.7 2.7 0 1 0 -5.4 0M265.1 199.3a2.7 2.7 0 1 0 5.4 0a2.7 2.7 0 1 0 -5.4 0M265.7 198.9a2.7 2.7 0 1 0 5.4 0a2.7 2.7 0 1 0 -5.4 0M266.3 198.6a2.7 2.7 0 1 0 5.4 0a2.7 2.7 0 1 0 -5.4 0M266.9 200.3a2.7 2.7 0 1 0 5.4 0a2.7 2.7 0 1 0 -5.4 0M267.5 200.3a2.7 2.7 0 1 0 5.4 0a2.7 2.7 0 1 0 -5.4 0M268.1 198a2.7 2.7 0 1 0 5.4 0a2.7 2.7 0 1 0 -5.4 0M268.7 199.6a2.7 2.7 0 1 0 5.4 0a2.7 2.7 0 1 0 -5.4 0M269.3 197.4a2.7 2.7 0 1 0 5.4 0a2.7 2.7 0 1 0 -5.4 0M269.9 197.3a2.7 2.7 0 1 0 5.4 0a2.7 2.7 0 1 0 -5.4 0M270.5 197.4a2.7 2.7 0 1 0 5.4 0a2.7 2.7 0 1 0 -5.4 0M271.1 196.3a2.7 2.7 0 1 0 5.4 0a2.7 2.7 0 1 0 -5.4 0M271.7 198.4a2.7 2.7 0 1 0 5.4 0a2.7 2.7 0 1 0 -5.4 0M272.3 195.7a2.7 2.7 0 1 0 5.4 0a2.7 2.7 0 1 0 -5.4 0M272.9 193.5a2.7 2.7 0 1 0 5.4 0a2.7 2.7 0 1 0 -5.4 0M273.5 195.8a2.7 2.7 0 1 0 5.4 0a2.7 2.7 0 1 0 -5.4 0M274.1 193.8a2.7 2.7 0 1 0 5.4 0a2.7 2.7 0 1 0 -5.4 0M274.7 193.4a2.7 2.7 0 1 0 5.4 0a2.7 2.7 0 1 0 -5.4 0M275.3 189.5a2.7 2.7 0 1 0 5.4 0a2.7 2.7 0 1 0 -5.4 0M275.9 193.4a2.7 2.7 0 1 0 5.4 0a2.7 2.7 0 1 0 -5.4 0M276.5 193.4a2.7 2.7 0 1 0 5.4 0a2.7 2.7 0 1 0 -5.4 0M277.1 193.5a2.7 2.7 0 1 0 5.4 0a2.7 2.7 0 1 0 -5.4 0M277.7 193.8a2.7 2.7 0 1 0 5.4 0a2.7 2.7 0 1 0 -5.4 0M278.3 194.8a2.7 2.7 0 1 0 5.4 0a2.7 2.7 0 1 0 -5.4 0M278.9 192.8a2.7 2.7 0 1 0 5.4 0a2.7 2.7 0 1 0 -5.4 0M279.5 193.6a2.7 2.7 0 1 0 5.4 0a2.7 2.7 0 1 0 -5.4 0M280.1 191.4a2.7 2.7 0 1 0 5.4 0a2.7 2.7 0 1 0 -5.4 0M280.7 191.3a2.7 2.7 0 1 0 5.4 0a2.7 2.7 0 1 0 -5.4 0M281.3 192.6a2.7 2.7 0 1 0 5.4 0a2.7 2.7 0 1 0 -5.4 0M281.9 191.9a2.7 2.7 0 1 0 5.4 0a2.7 2.7 0 1 0 -5.4 0M282.5 189.5a2.7 2.7 0 1 0 5.4 0a2.7 2.7 0 1 0 -5.4 0M283.1 190.9a2.7 2.7 0 1 0 5.4 0a2.7 2.7 0 1 0 -5.4 0M283.7 190.1a2.7 2.7 0 1 0 5.4 0a2.7 2.7 0 1 0 -5.4 0M284.3 189a2.7 2.7 0 1 0 5.4 0a2.7 2.7 0 1 0 -5.4 0M284.9 190.1a2.7 2.7 0 1 0 5.4 0a2.7 2.7 0 1 0 -5.4 0M285.5 189a2.7 2.7 0 1 0 5.4 0a2.7 2.7 0 1 0 -5.4 0M286.1 187.2a2.7 2.7 0 1 0 5.4 0a2.7 2.7 0 1 0 -5.4 0M286.7 187.1a2.7 2.7 0 1 0 5.4 0a2.7 2.7 0 1 0 -5.4 0M287.3 190.4a2.7 2.7 0 1 0 5.4 0a2.7 2.7 0 1 0 -5.4 0M287.9 186.8a2.7 2.7 0 1 0 5.4 0a2.7 2.7 0 1 0 -5.4 0M288.5 188.4a2.7 2.7 0 1 0 5.4 0a2.7 2.7 0 1 0 -5.4 0M289.1 188.9a2.7 2.7 0 1 0 5.4 0a2.7 2.7 0 1 0 -5.4 0M289.7 189.1a2.7 2.7 0 1 0 5.4 0a2.7 2.7 0 1 0 -5.4 0M290.3 186.7a2.7 2.7 0 1 0 5.4 0a2.7 2.7 0 1 0 -5.4 0M290.9 187.3a2.7 2.7 0 1 0 5.4 0a2.7 2.7 0 1 0 -5.4 0M291.5 187.7a2.7 2.7 0 1 0 5.4 0a2.7 2.7 0 1 0 -5.4 0M292.1 188.5a2.7 2.7 0 1 0 5.4 0a2.7 2.7 0 1 0 -5.4 0M292.7 186.8a2.7 2.7 0 1 0 5.4 0a2.7 2.7 0 1 0 -5.4 0M293.3 185.8a2.7 2.7 0 1 0 5.4 0a2.7 2.7 0 1 0 -5.4 0M293.9 188a2.7 2.7 0 1 0 5.4 0a2.7 2.7 0 1 0 -5.4 0M294.5 188.4a2.7 2.7 0 1 0 5.4 0a2.7 2.7 0 1 0 -5.4 0M295.1 187.7a2.7 2.7 0 1 0 5.4 0a2.7 2.7 0 1 0 -5.4 0M295.7 186.3a2.7 2.7 0 1 0 5.4 0a2.7 2.7 0 1 0 -5.4 0M296.3 187.2a2.7 2.7 0 1 0 5.4 0a2.7 2.7 0 1 0 -5.4 0M296.9 186.8a2.7 2.7 0 1 0 5.4 0a2.7 2.7 0 1 0 -5.4 0M297.5 187.6a2.7 2.7 0 1 0 5.4 0a2.7 2.7 0 1 0 -5.4 0M298.1 185a2.7 2.7 0 1 0 5.4 0a2.7 2.7 0 1 0 -5.4 0M298.7 186a2.7 2.7 0 1 0 5.4 0a2.7 2.7 0 1 0 -5.4 0M299.3 185.6a2.7 2.7 0 1 0 5.4 0a2.7 2.7 0 1 0 -5.4 0M299.9 184.2a2.7 2.7 0 1 0 5.4 0a2.7 2.7 0 1 0 -5.4 0M300.5 185.3a2.7 2.7 0 1 0 5.4 0a2.7 2.7 0 1 0 -5.4 0M301.1 185.1a2.7 2.7 0 1 0 5.4 0a2.7 2.7 0 1 0 -5.4 0M301.7 184.4a2.7 2.7 0 1 0 5.4 0a2.7 2.7 0 1 0 -5.4 0M302.3 185.2a2.7 2.7 0 1 0 5.4 0a2.7 2.7 0 1 0 -5.4 0M302.9 182.7a2.7 2.7 0 1 0 5.4 0a2.7 2.7 0 1 0 -5.4 0M303.5 183.7a2.7 2.7 0 1 0 5.4 0a2.7 2.7 0 1 0 -5.4 0M304.1 184a2.7 2.7 0 1 0 5.4 0a2.7 2.7 0 1 0 -5.4 0M304.7 183.7a2.7 2.7 0 1 0 5.4 0a2.7 2.7 0 1 0 -5.4 0M305.3 184.5a2.7 2.7 0 1 0 5.4 0a2.7 2.7 0 1 0 -5.4 0M305.9 181.6a2.7 2.7 0 1 0 5.4 0a2.7 2.7 0 1 0 -5.4 0M306.5 180.4a2.7 2.7 0 1 0 5.4 0a2.7 2.7 0 1 0 -5.4 0M307.1 181.8a2.7 2.7 0 1 0 5.4 0a2.7 2.7 0 1 0 -5.4 0M307.7 181.9a2.7 2.7 0 1 0 5.4 0a2.7 2.7 0 1 0 -5.4 0M308.3 183.9a2.7 2.7 0 1 0 5.4 0a2.7 2.7 0 1 0 -5.4 0M308.9 182.4a2.7 2.7 0 1 0 5.4 0a2.7 2.7 0 1 0 -5.4 0M309.5 180.2a2.7 2.7 0 1 0 5.4 0a2.7 2.7 0 1 0 -5.4 0M310.1 181.6a2.7 2.7 0 1 0 5.4 0a2.7 2.7 0 1 0 -5.4 0M310.7 179.3a2.7 2.7 0 1 0 5.4 0a2.7 2.7 0 1 0 -5.4 0M311.3 177.8a2.7 2.7 0 1 0 5.4 0a2.7 2.7 0 1 0 -5.4 0M311.9 182.1a2.7 2.7 0 1 0 5.4 0a2.7 2.7 0 1 0 -5.4 0M312.5 179.7a2.7 2.7 0 1 0 5.4 0a2.7 2.7 0 1 0 -5.4 0M313.1 179.7a2.7 2.7 0 1 0 5.4 0a2.7 2.7 0 1 0 -5.4 0M313.7 179.1a2.7 2.7 0 1 0 5.4 0a2.7 2.7 0 1 0 -5.4 0M314.3 180.2a2.7 2.7 0 1 0 5.4 0a2.7 2.7 0 1 0 -5.4 0M314.9 178.1a2.7 2.7 0 1 0 5.4 0a2.7 2.7 0 1 0 -5.4 0M315.5 178.6a2.7 2.7 0 1 0 5.4 0a2.7 2.7 0 1 0 -5.4 0M316.1 175.4a2.7 2.7 0 1 0 5.4 0a2.7 2.7 0 1 0 -5.4 0M316.7 173.8a2.7 2.7 0 1 0 5.4 0a2.7 2.7 0 1 0 -5.4 0M317.3 176.2a2.7 2.7 0 1 0 5.4 0a2.7 2.7 0 1 0 -5.4 0M317.9 176.2a2.7 2.7 0 1 0 5.4 0a2.7 2.7 0 1 0 -5.4 0M318.5 174.8a2.7 2.7 0 1 0 5.4 0a2.7 2.7 0 1 0 -5.4 0M319.1 173.8a2.7 2.7 0 1 0 5.4 0a2.7 2.7 0 1 0 -5.4 0M319.7 173.1a2.7 2.7 0 1 0 5.4 0a2.7 2.7 0 1 0 -5.4 0M320.3 171.3a2.7 2.7 0 1 0 5.4 0a2.7 2.7 0 1 0 -5.4 0M320.9 173.3a2.7 2.7 0 1 0 5.4 0a2.7 2.7 0 1 0 -5.4 0M321.5 172a2.7 2.7 0 1 0 5.4 0a2.7 2.7 0 1 0 -5.4 0M322.1 171.3a2.7 2.7 0 1 0 5.4 0a2.7 2.7 0 1 0 -5.4 0M322.7 170.6a2.7 2.7 0 1 0 5.4 0a2.7 2.7 0 1 0 -5.4 0M323.3 170.9a2.7 2.7 0 1 0 5.4 0a2.7 2.7 0 1 0 -5.4 0M323.9 169.8a2.7 2.7 0 1 0 5.4 0a2.7 2.7 0 1 0 -5.4 0M324.5 169.5a2.7 2.7 0 1 0 5.4 0a2.7 2.7 0 1 0 -5.4 0M325.1 166.6a2.7 2.7 0 1 0 5.4 0a2.7 2.7 0 1 0 -5.4 0M325.7 167.6a2.7 2.7 0 1 0 5.4 0a2.7 2.7 0 1 0 -5.4 0M326.3 169.2a2.7 2.7 0 1 0 5.4 0a2.7 2.7 0 1 0 -5.4 0M326.9 165.8a2.7 2.7 0 1 0 5.4 0a2.7 2.7 0 1 0 -5.4 0M327.5 165.5a2.7 2.7 0 1 0 5.4 0a2.7 2.7 0 1 0 -5.4 0M328.1 166.4a2.7 2.7 0 1 0 5.4 0a2.7 2.7 0 1 0 -5.4 0M328.7 166.4a2.7 2.7 0 1 0 5.4 0a2.7 2.7 0 1 0 -5.4 0M329.3 165.9a2.7 2.7 0 1 0 5.4 0a2.7 2.7 0 1 0 -5.4 0M329.9 162.8a2.7 2.7 0 1 0 5.4 0a2.7 2.7 0 1 0 -5.4 0M330.5 164.6a2.7 2.7 0 1 0 5.4 0a2.7 2.7 0 1 0 -5.4 0M331.1 162.3a2.7 2.7 0 1 0 5.4 0a2.7 2.7 0 1 0 -5.4 0M331.7 162.1a2.7 2.7 0 1 0 5.4 0a2.7 2.7 0 1 0 -5.4 0M332.3 163.3a2.7 2.7 0 1 0 5.4 0a2.7 2.7 0 1 0 -5.4 0M332.9 162.3a2.7 2.7 0 1 0 5.4 0a2.7 2.7 0 1 0 -5.4 0M333.5 163.4a2.7 2.7 0 1 0 5.4 0a2.7 2.7 0 1 0 -5.4 0M334.1 166.4a2.7 2.7 0 1 0 5.4 0a2.7 2.7 0 1 0 -5.4 0M334.7 164.2a2.7 2.7 0 1 0 5.4 0a2.7 2.7 0 1 0 -5.4 0M335.3 163.9a2.7 2.7 0 1 0 5.4 0a2.7 2.7 0 1 0 -5.4 0M335.9 161.6a2.7 2.7 0 1 0 5.4 0a2.7 2.7 0 1 0 -5.4 0M336.5 161.1a2.7 2.7 0 1 0 5.4 0a2.7 2.7 0 1 0 -5.4 0M337.1 160a2.7 2.7 0 1 0 5.4 0a2.7 2.7 0 1 0 -5.4 0M337.7 160a2.7 2.7 0 1 0 5.4 0a2.7 2.7 0 1 0 -5.4 0M338.3 158.9a2.7 2.7 0 1 0 5.4 0a2.7 2.7 0 1 0 -5.4 0M338.9 158.9a2.7 2.7 0 1 0 5.4 0a2.7 2.7 0 1 0 -5.4 0M339.5 159.2a2.7 2.7 0 1 0 5.4 0a2.7 2.7 0 1 0 -5.4 0M340.1 158a2.7 2.7 0 1 0 5.4 0a2.7 2.7 0 1 0 -5.4 0M340.7 157a2.7 2.7 0 1 0 5.4 0a2.7 2.7 0 1 0 -5.4 0M341.3 156.5a2.7 2.7 0 1 0 5.4 0a2.7 2.7 0 1 0 -5.4 0M341.9 158.4a2.7 2.7 0 1 0 5.4 0a2.7 2.7 0 1 0 -5.4 0M342.5 158.1a2.7 2.7 0 1 0 5.4 0a2.7 2.7 0 1 0 -5.4 0M343.1 159.3a2.7 2.7 0 1 0 5.4 0a2.7 2.7 0 1 0 -5.4 0M343.7 159.6a2.7 2.7 0 1 0 5.4 0a2.7 2.7 0 1 0 -5.4 0M344.3 158.1a2.7 2.7 0 1 0 5.4 0a2.7 2.7 0 1 0 -5.4 0M344.9 159a2.7 2.7 0 1 0 5.4 0a2.7 2.7 0 1 0 -5.4 0M345.5 156.3a2.7 2.7 0 1 0 5.4 0a2.7 2.7 0 1 0 -5.4 0M346.1 160.4a2.7 2.7 0 1 0 5.4 0a2.7 2.7 0 1 0 -5.4 0M346.7 159.6a2.7 2.7 0 1 0 5.4 0a2.7 2.7 0 1 0 -5.4 0M347.3 157.9a2.7 2.7 0 1 0 5.4 0a2.7 2.7 0 1 0 -5.4 0M347.9 156.2a2.7 2.7 0 1 0 5.4 0a2.7 2.7 0 1 0 -5.4 0M348.5 157.5a2.7 2.7 0 1 0 5.4 0a2.7 2.7 0 1 0 -5.4 0M349.1 154.5a2.7 2.7 0 1 0 5.4 0a2.7 2.7 0 1 0 -5.4 0M349.7 155.1a2.7 2.7 0 1 0 5.4 0a2.7 2.7 0 1 0 -5.4 0M350.3 156.7a2.7 2.7 0 1 0 5.4 0a2.7 2.7 0 1 0 -5.4 0M350.9 156a2.7 2.7 0 1 0 5.4 0a2.7 2.7 0 1 0 -5.4 0M351.5 155.1a2.7 2.7 0 1 0 5.4 0a2.7 2.7 0 1 0 -5.4 0M352.1 156.6a2.7 2.7 0 1 0 5.4 0a2.7 2.7 0 1 0 -5.4 0M352.7 154.3a2.7 2.7 0 1 0 5.4 0a2.7 2.7 0 1 0 -5.4 0M353.3 155.4a2.7 2.7 0 1 0 5.4 0a2.7 2.7 0 1 0 -5.4 0M353.9 154.4a2.7 2.7 0 1 0 5.4 0a2.7 2.7 0 1 0 -5.4 0M354.5 153.6a2.7 2.7 0 1 0 5.4 0a2.7 2.7 0 1 0 -5.4 0M355.1 154.8a2.7 2.7 0 1 0 5.4 0a2.7 2.7 0 1 0 -5.4 0M355.7 153a2.7 2.7 0 1 0 5.4 0a2.7 2.7 0 1 0 -5.4 0M356.3 156.2a2.7 2.7 0 1 0 5.4 0a2.7 2.7 0 1 0 -5.4 0M356.9 153.6a2.7 2.7 0 1 0 5.4 0a2.7 2.7 0 1 0 -5.4 0M357.5 156.4a2.7 2.7 0 1 0 5.4 0a2.7 2.7 0 1 0 -5.4 0M358.1 153a2.7 2.7 0 1 0 5.4 0a2.7 2.7 0 1 0 -5.4 0M358.7 154.5a2.7 2.7 0 1 0 5.4 0a2.7 2.7 0 1 0 -5.4 0M359.3 152.1a2.7 2.7 0 1 0 5.4 0a2.7 2.7 0 1 0 -5.4 0M359.9 151.3a2.7 2.7 0 1 0 5.4 0a2.7 2.7 0 1 0 -5.4 0M360.5 152.6a2.7 2.7 0 1 0 5.4 0a2.7 2.7 0 1 0 -5.4 0M361.1 153.2a2.7 2.7 0 1 0 5.4 0a2.7 2.7 0 1 0 -5.4 0M361.7 150.8a2.7 2.7 0 1 0 5.4 0a2.7 2.7 0 1 0 -5.4 0M362.3 153.4a2.7 2.7 0 1 0 5.4 0a2.7 2.7 0 1 0 -5.4 0M362.9 151.1a2.7 2.7 0 1 0 5.4 0a2.7 2.7 0 1 0 -5.4 0M363.5 151.8a2.7 2.7 0 1 0 5.4 0a2.7 2.7 0 1 0 -5.4 0M364.1 152a2.7 2.7 0 1 0 5.4 0a2.7 2.7 0 1 0 -5.4 0M364.7 152.3a2.7 2.7 0 1 0 5.4 0a2.7 2.7 0 1 0 -5.4 0M365.3 149.2a2.7 2.7 0 1 0 5.4 0a2.7 2.7 0 1 0 -5.4 0M365.9 152.8a2.7 2.7 0 1 0 5.4 0a2.7 2.7 0 1 0 -5.4 0M366.5 151.8a2.7 2.7 0 1 0 5.4 0a2.7 2.7 0 1 0 -5.4 0M367.1 150.5a2.7 2.7 0 1 0 5.4 0a2.7 2.7 0 1 0 -5.4 0M367.7 149.3a2.7 2.7 0 1 0 5.4 0a2.7 2.7 0 1 0 -5.4 0M368.3 147.9a2.7 2.7 0 1 0 5.4 0a2.7 2.7 0 1 0 -5.4 0M368.9 147.6a2.7 2.7 0 1 0 5.4 0a2.7 2.7 0 1 0 -5.4 0M369.5 149.6a2.7 2.7 0 1 0 5.4 0a2.7 2.7 0 1 0 -5.4 0M370.1 148.6a2.7 2.7 0 1 0 5.4 0a2.7 2.7 0 1 0 -5.4 0M370.7 147.4a2.7 2.7 0 1 0 5.4 0a2.7 2.7 0 1 0 -5.4 0M371.3 147.8a2.7 2.7 0 1 0 5.4 0a2.7 2.7 0 1 0 -5.4 0M371.9 150.2a2.7 2.7 0 1 0 5.4 0a2.7 2.7 0 1 0 -5.4 0M372.5 148.4a2.7 2.7 0 1 0 5.4 0a2.7 2.7 0 1 0 -5.4 0M373.1 148a2.7 2.7 0 1 0 5.4 0a2.7 2.7 0 1 0 -5.4 0M373.7 150.3a2.7 2.7 0 1 0 5.4 0a2.7 2.7 0 1 0 -5.4 0M374.3 149.7a2.7 2.7 0 1 0 5.4 0a2.7 2.7 0 1 0 -5.4 0M374.9 149.3a2.7 2.7 0 1 0 5.4 0a2.7 2.7 0 1 0 -5.4 0M375.5 148.4a2.7 2.7 0 1 0 5.4 0a2.7 2.7 0 1 0 -5.4 0M376.1 147a2.7 2.7 0 1 0 5.4 0a2.7 2.7 0 1 0 -5.4 0M376.7 147a2.7 2.7 0 1 0 5.4 0a2.7 2.7 0 1 0 -5.4 0M377.3 147.6a2.7 2.7 0 1 0 5.4 0a2.7 2.7 0 1 0 -5.4 0M377.9 147.9a2.7 2.7 0 1 0 5.4 0a2.7 2.7 0 1 0 -5.4 0M378.5 148.7a2.7 2.7 0 1 0 5.4 0a2.7 2.7 0 1 0 -5.4 0M379.1 149.2a2.7 2.7 0 1 0 5.4 0a2.7 2.7 0 1 0 -5.4 0M379.7 149.1a2.7 2.7 0 1 0 5.4 0a2.7 2.7 0 1 0 -5.4 0M380.3 149.2a2.7 2.7 0 1 0 5.4 0a2.7 2.7 0 1 0 -5.4 0M380.9 147.7a2.7 2.7 0 1 0 5.4 0a2.7 2.7 0 1 0 -5.4 0M381.5 145.9a2.7 2.7 0 1 0 5.4 0a2.7 2.7 0 1 0 -5.4 0M382.1 147.4a2.7 2.7 0 1 0 5.4 0a2.7 2.7 0 1 0 -5.4 0M382.7 146.8a2.7 2.7 0 1 0 5.4 0a2.7 2.7 0 1 0 -5.4 0M383.3 147.1a2.7 2.7 0 1 0 5.4 0a2.7 2.7 0 1 0 -5.4 0M383.9 147.4a2.7 2.7 0 1 0 5.4 0a2.7 2.7 0 1 0 -5.4 0M384.5 146.1a2.7 2.7 0 1 0 5.4 0a2.7 2.7 0 1 0 -5.4 0M385.1 145.8a2.7 2.7 0 1 0 5.4 0a2.7 2.7 0 1 0 -5.4 0M385.7 146.8a2.7 2.7 0 1 0 5.4 0a2.7 2.7 0 1 0 -5.4 0M386.3 147.1a2.7 2.7 0 1 0 5.4 0a2.7 2.7 0 1 0 -5.4 0M386.9 146.1a2.7 2.7 0 1 0 5.4 0a2.7 2.7 0 1 0 -5.4 0M387.5 147.4a2.7 2.7 0 1 0 5.4 0a2.7 2.7 0 1 0 -5.4 0M388.1 146.6a2.7 2.7 0 1 0 5.4 0a2.7 2.7 0 1 0 -5.4 0M388.7 145.4a2.7 2.7 0 1 0 5.4 0a2.7 2.7 0 1 0 -5.4 0M389.3 146.3a2.7 2.7 0 1 0 5.4 0a2.7 2.7 0 1 0 -5.4 0M389.9 148.6a2.7 2.7 0 1 0 5.4 0a2.7 2.7 0 1 0 -5.4 0M390.5 145.9a2.7 2.7 0 1 0 5.4 0a2.7 2.7 0 1 0 -5.4 0M391.1 147.8a2.7 2.7 0 1 0 5.4 0a2.7 2.7 0 1 0 -5.4 0M391.7 148.3a2.7 2.7 0 1 0 5.4 0a2.7 2.7 0 1 0 -5.4 0M392.3 148.6a2.7 2.7 0 1 0 5.4 0a2.7 2.7 0 1 0 -5.4 0M392.9 145.8a2.7 2.7 0 1 0 5.4 0a2.7 2.7 0 1 0 -5.4 0M393.5 148.7a2.7 2.7 0 1 0 5.4 0a2.7 2.7 0 1 0 -5.4 0M394.1 146.7a2.7 2.7 0 1 0 5.4 0a2.7 2.7 0 1 0 -5.4 0M394.7 145.8a2.7 2.7 0 1 0 5.4 0a2.7 2.7 0 1 0 -5.4 0M395.3 145.4a2.7 2.7 0 1 0 5.4 0a2.7 2.7 0 1 0 -5.4 0M395.9 146a2.7 2.7 0 1 0 5.4 0a2.7 2.7 0 1 0 -5.4 0M396.5 145.2a2.7 2.7 0 1 0 5.4 0a2.7 2.7 0 1 0 -5.4 0M397.1 144.6a2.7 2.7 0 1 0 5.4 0a2.7 2.7 0 1 0 -5.4 0M397.7 146.2a2.7 2.7 0 1 0 5.4 0a2.7 2.7 0 1 0 -5.4 0M398.3 143.8a2.7 2.7 0 1 0 5.4 0a2.7 2.7 0 1 0 -5.4 0M398.9 142.9a2.7 2.7 0 1 0 5.4 0a2.7 2.7 0 1 0 -5.4 0M399.5 144.7a2.7 2.7 0 1 0 5.4 0a2.7 2.7 0 1 0 -5.4 0M400.1 144.7a2.7 2.7 0 1 0 5.4 0a2.7 2.7 0 1 0 -5.4 0M400.7 145.3a2.7 2.7 0 1 0 5.4 0a2.7 2.7 0 1 0 -5.4 0M401.3 142.7a2.7 2.7 0 1 0 5.4 0a2.7 2.7 0 1 0 -5.4 0M401.9 144.8a2.7 2.7 0 1 0 5.4 0a2.7 2.7 0 1 0 -5.4 0M402.5 144.3a2.7 2.7 0 1 0 5.4 0a2.7 2.7 0 1 0 -5.4 0M403.1 145.8a2.7 2.7 0 1 0 5.4 0a2.7 2.7 0 1 0 -5.4 0M403.7 142.4a2.7 2.7 0 1 0 5.4 0a2.7 2.7 0 1 0 -5.4 0M404.3 143.5a2.7 2.7 0 1 0 5.4 0a2.7 2.7 0 1 0 -5.4 0M404.9 142.7a2.7 2.7 0 1 0 5.4 0a2.7 2.7 0 1 0 -5.4 0M405.5 140.8a2.7 2.7 0 1 0 5.4 0a2.7 2.7 0 1 0 -5.4 0M406.1 141.2a2.7 2.7 0 1 0 5.4 0a2.7 2.7 0 1 0 -5.4 0M406.7 143.2a2.7 2.7 0 1 0 5.4 0a2.7 2.7 0 1 0 -5.4 0M407.3 141.6a2.7 2.7 0 1 0 5.4 0a2.7 2.7 0 1 0 -5.4 0M407.9 141a2.7 2.7 0 1 0 5.4 0a2.7 2.7 0 1 0 -5.4 0M408.5 142.7a2.7 2.7 0 1 0 5.4 0a2.7 2.7 0 1 0 -5.4 0M409.1 143.1a2.7 2.7 0 1 0 5.4 0a2.7 2.7 0 1 0 -5.4 0M409.7 143.3a2.7 2.7 0 1 0 5.4 0a2.7 2.7 0 1 0 -5.4 0M410.3 141.2a2.7 2.7 0 1 0 5.4 0a2.7 2.7 0 1 0 -5.4 0M410.9 141.6a2.7 2.7 0 1 0 5.4 0a2.7 2.7 0 1 0 -5.4 0M411.5 142.8a2.7 2.7 0 1 0 5.4 0a2.7 2.7 0 1 0 -5.4 0M412.1 140.9a2.7 2.7 0 1 0 5.4 0a2.7 2.7 0 1 0 -5.4 0M412.7 140.3a2.7 2.7 0 1 0 5.4 0a2.7 2.7 0 1 0 -5.4 0M413.3 141.9a2.7 2.7 0 1 0 5.4 0a2.7 2.7 0 1 0 -5.4 0M413.9 143.1a2.7 2.7 0 1 0 5.4 0a2.7 2.7 0 1 0 -5.4 0M414.5 140a2.7 2.7 0 1 0 5.4 0a2.7 2.7 0 1 0 -5.4 0M415.1 137.6a2.7 2.7 0 1 0 5.4 0a2.7 2.7 0 1 0 -5.4 0M415.7 138a2.7 2.7 0 1 0 5.4 0a2.7 2.7 0 1 0 -5.4 0M416.3 138.2a2.7 2.7 0 1 0 5.4 0a2.7 2.7 0 1 0 -5.4 0M416.9 139.1a2.7 2.7 0 1 0 5.4 0a2.7 2.7 0 1 0 -5.4 0M417.5 140.2a2.7 2.7 0 1 0 5.4 0a2.7 2.7 0 1 0 -5.4 0M418.1 139.5a2.7 2.7 0 1 0 5.4 0a2.7 2.7 0 1 0 -5.4 0M418.7 138.8a2.7 2.7 0 1 0 5.4 0a2.7 2.7 0 1 0 -5.4 0M419.3 139.6a2.7 2.7 0 1 0 5.4 0a2.7 2.7 0 1 0 -5.4 0M419.9 138.3a2.7 2.7 0 1 0 5.4 0a2.7 2.7 0 1 0 -5.4 0M420.5 139.2a2.7 2.7 0 1 0 5.4 0a2.7 2.7 0 1 0 -5.4 0M421.1 138.4a2.7 2.7 0 1 0 5.4 0a2.7 2.7 0 1 0 -5.4 0M421.7 142.5a2.7 2.7 0 1 0 5.4 0a2.7 2.7 0 1 0 -5.4 0M422.3 141a2.7 2.7 0 1 0 5.4 0a2.7 2.7 0 1 0 -5.4 0M422.9 139a2.7 2.7 0 1 0 5.4 0a2.7 2.7 0 1 0 -5.4 0M423.5 138.4a2.7 2.7 0 1 0 5.4 0a2.7 2.7 0 1 0 -5.4 0M424.1 138.6a2.7 2.7 0 1 0 5.4 0a2.7 2.7 0 1 0 -5.4 0M424.7 136.9a2.7 2.7 0 1 0 5.4 0a2.7 2.7 0 1 0 -5.4 0M425.3 137.5a2.7 2.7 0 1 0 5.4 0a2.7 2.7 0 1 0 -5.4 0M425.9 137.3a2.7 2.7 0 1 0 5.4 0a2.7 2.7 0 1 0 -5.4 0M426.5 139.2a2.7 2.7 0 1 0 5.4 0a2.7 2.7 0 1 0 -5.4 0M427.1 137.9a2.7 2.7 0 1 0 5.4 0a2.7 2.7 0 1 0 -5.4 0M427.7 137.3a2.7 2.7 0 1 0 5.4 0a2.7 2.7 0 1 0 -5.4 0M428.3 136.4a2.7 2.7 0 1 0 5.4 0a2.7 2.7 0 1 0 -5.4 0M428.9 136.2a2.7 2.7 0 1 0 5.4 0a2.7 2.7 0 1 0 -5.4 0M429.5 137.3a2.7 2.7 0 1 0 5.4 0a2.7 2.7 0 1 0 -5.4 0M430.1 137.2a2.7 2.7 0 1 0 5.4 0a2.7 2.7 0 1 0 -5.4 0M430.7 139a2.7 2.7 0 1 0 5.4 0a2.7 2.7 0 1 0 -5.4 0M431.3 137.2a2.7 2.7 0 1 0 5.4 0a2.7 2.7 0 1 0 -5.4 0M431.9 139.1a2.7 2.7 0 1 0 5.4 0a2.7 2.7 0 1 0 -5.4 0M432.5 138.4a2.7 2.7 0 1 0 5.4 0a2.7 2.7 0 1 0 -5.4 0M433.1 138.1a2.7 2.7 0 1 0 5.4 0a2.7 2.7 0 1 0 -5.4 0M433.7 135.4a2.7 2.7 0 1 0 5.4 0a2.7 2.7 0 1 0 -5.4 0M434.3 135.6a2.7 2.7 0 1 0 5.4 0a2.7 2.7 0 1 0 -5.4 0M434.9 137.8a2.7 2.7 0 1 0 5.4 0a2.7 2.7 0 1 0 -5.4 0M435.5 139a2.7 2.7 0 1 0 5.4 0a2.7 2.7 0 1 0 -5.4 0M436.1 138a2.7 2.7 0 1 0 5.4 0a2.7 2.7 0 1 0 -5.4 0M436.7 138.7a2.7 2.7 0 1 0 5.4 0a2.7 2.7 0 1 0 -5.4 0M437.3 137.3a2.7 2.7 0 1 0 5.4 0a2.7 2.7 0 1 0 -5.4 0M437.9 137.1a2.7 2.7 0 1 0 5.4 0a2.7 2.7 0 1 0 -5.4 0M438.5 136.5a2.7 2.7 0 1 0 5.4 0a2.7 2.7 0 1 0 -5.4 0M439.1 138.3a2.7 2.7 0 1 0 5.4 0a2.7 2.7 0 1 0 -5.4 0M439.7 137.8a2.7 2.7 0 1 0 5.4 0a2.7 2.7 0 1 0 -5.4 0M440.3 137.1a2.7 2.7 0 1 0 5.4 0a2.7 2.7 0 1 0 -5.4 0M440.9 136.7a2.7 2.7 0 1 0 5.4 0a2.7 2.7 0 1 0 -5.4 0M441.5 137.7a2.7 2.7 0 1 0 5.4 0a2.7 2.7 0 1 0 -5.4 0M442.1 137.5a2.7 2.7 0 1 0 5.4 0a2.7 2.7 0 1 0 -5.4 0M442.7 136a2.7 2.7 0 1 0 5.4 0a2.7 2.7 0 1 0 -5.4 0M443.3 138.9a2.7 2.7 0 1 0 5.4 0a2.7 2.7 0 1 0 -5.4 0M443.9 137.5a2.7 2.7 0 1 0 5.4 0a2.7 2.7 0 1 0 -5.4 0M444.5 137.1a2.7 2.7 0 1 0 5.4 0a2.7 2.7 0 1 0 -5.4 0M445.1 138.8a2.7 2.7 0 1 0 5.4 0a2.7 2.7 0 1 0 -5.4 0M445.7 138.6a2.7 2.7 0 1 0 5.4 0a2.7 2.7 0 1 0 -5.4 0M446.3 137.2a2.7 2.7 0 1 0 5.4 0a2.7 2.7 0 1 0 -5.4 0M446.9 137.7a2.7 2.7 0 1 0 5.4 0a2.7 2.7 0 1 0 -5.4 0M447.5 135.6a2.7 2.7 0 1 0 5.4 0a2.7 2.7 0 1 0 -5.4 0M448.1 135.6a2.7 2.7 0 1 0 5.4 0a2.7 2.7 0 1 0 -5.4 0M448.7 133.2a2.7 2.7 0 1 0 5.4 0a2.7 2.7 0 1 0 -5.4 0M449.3 136.8a2.7 2.7 0 1 0 5.4 0a2.7 2.7 0 1 0 -5.4 0M449.9 133.3a2.7 2.7 0 1 0 5.4 0a2.7 2.7 0 1 0 -5.4 0M450.5 135.9a2.7 2.7 0 1 0 5.4 0a2.7 2.7 0 1 0 -5.4 0M451.1 134.3a2.7 2.7 0 1 0 5.4 0a2.7 2.7 0 1 0 -5.4 0M451.7 133.9a2.7 2.7 0 1 0 5.4 0a2.7 2.7 0 1 0 -5.4 0M452.3 134.6a2.7 2.7 0 1 0 5.4 0a2.7 2.7 0 1 0 -5.4 0M452.9 135.2a2.7 2.7 0 1 0 5.4 0a2.7 2.7 0 1 0 -5.4 0M453.5 135.8a2.7 2.7 0 1 0 5.4 0a2.7 2.7 0 1 0 -5.4 0M454.1 137.6a2.7 2.7 0 1 0 5.4 0a2.7 2.7 0 1 0 -5.4 0M454.7 136.4a2.7 2.7 0 1 0 5.4 0a2.7 2.7 0 1 0 -5.4 0M455.3 137a2.7 2.7 0 1 0 5.4 0a2.7 2.7 0 1 0 -5.4 0M455.9 135.3a2.7 2.7 0 1 0 5.4 0a2.7 2.7 0 1 0 -5.4 0M456.5 136.7a2.7 2.7 0 1 0 5.4 0a2.7 2.7 0 1 0 -5.4 0M457.1 136.1a2.7 2.7 0 1 0 5.4 0a2.7 2.7 0 1 0 -5.4 0M457.7 135.3a2.7 2.7 0 1 0 5.4 0a2.7 2.7 0 1 0 -5.4 0M458.3 135.5a2.7 2.7 0 1 0 5.4 0a2.7 2.7 0 1 0 -5.4 0M458.9 135.4a2.7 2.7 0 1 0 5.4 0a2.7 2.7 0 1 0 -5.4 0M459.5 135.7a2.7 2.7 0 1 0 5.4 0a2.7 2.7 0 1 0 -5.4 0M460.1 136a2.7 2.7 0 1 0 5.4 0a2.7 2.7 0 1 0 -5.4 0M460.7 134.9a2.7 2.7 0 1 0 5.4 0a2.7 2.7 0 1 0 -5.4 0M461.3 134.4a2.7 2.7 0 1 0 5.4 0a2.7 2.7 0 1 0 -5.4 0M461.9 136a2.7 2.7 0 1 0 5.4 0a2.7 2.7 0 1 0 -5.4 0M462.5 133.2a2.7 2.7 0 1 0 5.4 0a2.7 2.7 0 1 0 -5.4 0M463.1 134a2.7 2.7 0 1 0 5.4 0a2.7 2.7 0 1 0 -5.4 0M463.7 136.6a2.7 2.7 0 1 0 5.4 0a2.7 2.7 0 1 0 -5.4 0M464.3 131.8a2.7 2.7 0 1 0 5.4 0a2.7 2.7 0 1 0 -5.4 0M464.9 133.4a2.7 2.7 0 1 0 5.4 0a2.7 2.7 0 1 0 -5.4 0M465.5 135.1a2.7 2.7 0 1 0 5.4 0a2.7 2.7 0 1 0 -5.4 0M466.1 132.6a2.7 2.7 0 1 0 5.4 0a2.7 2.7 0 1 0 -5.4 0M466.7 137.5a2.7 2.7 0 1 0 5.4 0a2.7 2.7 0 1 0 -5.4 0M467.3 131.9a2.7 2.7 0 1 0 5.4 0a2.7 2.7 0 1 0 -5.4 0M467.9 136.2a2.7 2.7 0 1 0 5.4 0a2.7 2.7 0 1 0 -5.4 0M468.5 137a2.7 2.7 0 1 0 5.4 0a2.7 2.7 0 1 0 -5.4 0M469.1 136.7a2.7 2.7 0 1 0 5.4 0a2.7 2.7 0 1 0 -5.4 0M469.7 135.4a2.7 2.7 0 1 0 5.4 0a2.7 2.7 0 1 0 -5.4 0M470.3 136a2.7 2.7 0 1 0 5.4 0a2.7 2.7 0 1 0 -5.4 0M470.9 134.4a2.7 2.7 0 1 0 5.4 0a2.7 2.7 0 1 0 -5.4 0M471.5 136.1a2.7 2.7 0 1 0 5.4 0a2.7 2.7 0 1 0 -5.4 0M472.1 133.9a2.7 2.7 0 1 0 5.4 0a2.7 2.7 0 1 0 -5.4 0M472.7 134.6a2.7 2.7 0 1 0 5.4 0a2.7 2.7 0 1 0 -5.4 0M473.3 136.1a2.7 2.7 0 1 0 5.4 0a2.7 2.7 0 1 0 -5.4 0M473.9 133.7a2.7 2.7 0 1 0 5.4 0a2.7 2.7 0 1 0 -5.4 0M474.5 134.3a2.7 2.7 0 1 0 5.4 0a2.7 2.7 0 1 0 -5.4 0M475.1 134.9a2.7 2.7 0 1 0 5.4 0a2.7 2.7 0 1 0 -5.4 0M475.7 133a2.7 2.7 0 1 0 5.4 0a2.7 2.7 0 1 0 -5.4 0M476.3 135.8a2.7 2.7 0 1 0 5.4 0a2.7 2.7 0 1 0 -5.4 0M476.9 135.3a2.7 2.7 0 1 0 5.4 0a2.7 2.7 0 1 0 -5.4 0M477.5 133a2.7 2.7 0 1 0 5.4 0a2.7 2.7 0 1 0 -5.4 0M478.1 134.4a2.7 2.7 0 1 0 5.4 0a2.7 2.7 0 1 0 -5.4 0M478.7 133.5a2.7 2.7 0 1 0 5.4 0a2.7 2.7 0 1 0 -5.4 0M479.3 133.4a2.7 2.7 0 1 0 5.4 0a2.7 2.7 0 1 0 -5.4 0M479.9 134.3a2.7 2.7 0 1 0 5.4 0a2.7 2.7 0 1 0 -5.4 0M480.5 133.4a2.7 2.7 0 1 0 5.4 0a2.7 2.7 0 1 0 -5.4 0M481.1 135.4a2.7 2.7 0 1 0 5.4 0a2.7 2.7 0 1 0 -5.4 0M481.7 133.7a2.7 2.7 0 1 0 5.4 0a2.7 2.7 0 1 0 -5.4 0M482.3 135.6a2.7 2.7 0 1 0 5.4 0a2.7 2.7 0 1 0 -5.4 0M482.9 134.7a2.7 2.7 0 1 0 5.4 0a2.7 2.7 0 1 0 -5.4 0M483.5 135.8a2.7 2.7 0 1 0 5.4 0a2.7 2.7 0 1 0 -5.4 0M484.1 134.3a2.7 2.7 0 1 0 5.4 0a2.7 2.7 0 1 0 -5.4 0M484.7 134.1a2.7 2.7 0 1 0 5.4 0a2.7 2.7 0 1 0 -5.4 0M485.3 133.1a2.7 2.7 0 1 0 5.4 0a2.7 2.7 0 1 0 -5.4 0M485.9 134.9a2.7 2.7 0 1 0 5.4 0a2.7 2.7 0 1 0 -5.4 0M486.5 135.7a2.7 2.7 0 1 0 5.4 0a2.7 2.7 0 1 0 -5.4 0M487.1 137.5a2.7 2.7 0 1 0 5.4 0a2.7 2.7 0 1 0 -5.4 0M487.7 137.1a2.7 2.7 0 1 0 5.4 0a2.7 2.7 0 1 0 -5.4 0M488.3 136a2.7 2.7 0 1 0 5.4 0a2.7 2.7 0 1 0 -5.4 0M488.9 135.3a2.7 2.7 0 1 0 5.4 0a2.7 2.7 0 1 0 -5.4 0M489.5 135.8a2.7 2.7 0 1 0 5.4 0a2.7 2.7 0 1 0 -5.4 0M490.1 135.2a2.7 2.7 0 1 0 5.4 0a2.7 2.7 0 1 0 -5.4 0M490.7 137a2.7 2.7 0 1 0 5.4 0a2.7 2.7 0 1 0 -5.4 0M491.3 136.7a2.7 2.7 0 1 0 5.4 0a2.7 2.7 0 1 0 -5.4 0M491.9 134.5a2.7 2.7 0 1 0 5.4 0a2.7 2.7 0 1 0 -5.4 0M492.5 134.2a2.7 2.7 0 1 0 5.4 0a2.7 2.7 0 1 0 -5.4 0M493.1 136.5a2.7 2.7 0 1 0 5.4 0a2.7 2.7 0 1 0 -5.4 0M493.7 135.5a2.7 2.7 0 1 0 5.4 0a2.7 2.7 0 1 0 -5.4 0M494.3 134.7a2.7 2.7 0 1 0 5.4 0a2.7 2.7 0 1 0 -5.4 0M494.9 136.3a2.7 2.7 0 1 0 5.4 0a2.7 2.7 0 1 0 -5.4 0M495.5 134.5a2.7 2.7 0 1 0 5.4 0a2.7 2.7 0 1 0 -5.4 0M496.1 134.3a2.7 2.7 0 1 0 5.4 0a2.7 2.7 0 1 0 -5.4 0M496.7 133.8a2.7 2.7 0 1 0 5.4 0a2.7 2.7 0 1 0 -5.4 0M497.3 131.7a2.7 2.7 0 1 0 5.4 0a2.7 2.7 0 1 0 -5.4 0M497.9 134.5a2.7 2.7 0 1 0 5.4 0a2.7 2.7 0 1 0 -5.4 0M498.5 132.2a2.7 2.7 0 1 0 5.4 0a2.7 2.7 0 1 0 -5.4 0M499.1 132.6a2.7 2.7 0 1 0 5.4 0a2.7 2.7 0 1 0 -5.4 0M499.7 132.3a2.7 2.7 0 1 0 5.4 0a2.7 2.7 0 1 0 -5.4 0M500.3 134a2.7 2.7 0 1 0 5.4 0a2.7 2.7 0 1 0 -5.4 0M500.9 133.3a2.7 2.7 0 1 0 5.4 0a2.7 2.7 0 1 0 -5.4 0M501.5 133.4a2.7 2.7 0 1 0 5.4 0a2.7 2.7 0 1 0 -5.4 0M502.1 131.2a2.7 2.7 0 1 0 5.4 0a2.7 2.7 0 1 0 -5.4 0M502.7 132.7a2.7 2.7 0 1 0 5.4 0a2.7 2.7 0 1 0 -5.4 0M503.3 131a2.7 2.7 0 1 0 5.4 0a2.7 2.7 0 1 0 -5.4 0M503.9 132.8a2.7 2.7 0 1 0 5.4 0a2.7 2.7 0 1 0 -5.4 0M504.5 133.2a2.7 2.7 0 1 0 5.4 0a2.7 2.7 0 1 0 -5.4 0M505.1 132.9a2.7 2.7 0 1 0 5.4 0a2.7 2.7 0 1 0 -5.4 0M505.7 135.5a2.7 2.7 0 1 0 5.4 0a2.7 2.7 0 1 0 -5.4 0M506.3 134.3a2.7 2.7 0 1 0 5.4 0a2.7 2.7 0 1 0 -5.4 0M506.9 134.4a2.7 2.7 0 1 0 5.4 0a2.7 2.7 0 1 0 -5.4 0M507.5 133.9a2.7 2.7 0 1 0 5.4 0a2.7 2.7 0 1 0 -5.4 0M508.1 133.3a2.7 2.7 0 1 0 5.4 0a2.7 2.7 0 1 0 -5.4 0M508.7 134.6a2.7 2.7 0 1 0 5.4 0a2.7 2.7 0 1 0 -5.4 0M509.3 135.1a2.7 2.7 0 1 0 5.4 0a2.7 2.7 0 1 0 -5.4 0M509.9 132.4a2.7 2.7 0 1 0 5.4 0a2.7 2.7 0 1 0 -5.4 0M510.5 134.9a2.7 2.7 0 1 0 5.4 0a2.7 2.7 0 1 0 -5.4 0M511.1 134.6a2.7 2.7 0 1 0 5.4 0a2.7 2.7 0 1 0 -5.4 0M511.7 135.3a2.7 2.7 0 1 0 5.4 0a2.7 2.7 0 1 0 -5.4 0M512.3 134.9a2.7 2.7 0 1 0 5.4 0a2.7 2.7 0 1 0 -5.4 0M512.9 132.8a2.7 2.7 0 1 0 5.4 0a2.7 2.7 0 1 0 -5.4 0M513.5 132.4a2.7 2.7 0 1 0 5.4 0a2.7 2.7 0 1 0 -5.4 0M514.1 135.9a2.7 2.7 0 1 0 5.4 0a2.7 2.7 0 1 0 -5.4 0M514.7 134.6a2.7 2.7 0 1 0 5.4 0a2.7 2.7 0 1 0 -5.4 0M515.3 132.6a2.7 2.7 0 1 0 5.4 0a2.7 2.7 0 1 0 -5.4 0M515.9 134.3a2.7 2.7 0 1 0 5.4 0a2.7 2.7 0 1 0 -5.4 0M516.5 133.6a2.7 2.7 0 1 0 5.4 0a2.7 2.7 0 1 0 -5.4 0M517.1 131.7a2.7 2.7 0 1 0 5.4 0a2.7 2.7 0 1 0 -5.4 0M517.7 130.6a2.7 2.7 0 1 0 5.4 0a2.7 2.7 0 1 0 -5.4 0M518.3 131a2.7 2.7 0 1 0 5.4 0a2.7 2.7 0 1 0 -5.4 0M518.9 133.2a2.7 2.7 0 1 0 5.4 0a2.7 2.7 0 1 0 -5.4 0M519.5 133.3a2.7 2.7 0 1 0 5.4 0a2.7 2.7 0 1 0 -5.4 0M520.1 133.3a2.7 2.7 0 1 0 5.4 0a2.7 2.7 0 1 0 -5.4 0M520.7 134.2a2.7 2.7 0 1 0 5.4 0a2.7 2.7 0 1 0 -5.4 0M521.3 134.9a2.7 2.7 0 1 0 5.4 0a2.7 2.7 0 1 0 -5.4 0M521.9 131.9a2.7 2.7 0 1 0 5.4 0a2.7 2.7 0 1 0 -5.4 0M522.5 133.6a2.7 2.7 0 1 0 5.4 0a2.7 2.7 0 1 0 -5.4 0M523.1 133.1a2.7 2.7 0 1 0 5.4 0a2.7 2.7 0 1 0 -5.4 0M523.7 132.6a2.7 2.7 0 1 0 5.4 0a2.7 2.7 0 1 0 -5.4 0M524.3 133.3a2.7 2.7 0 1 0 5.4 0a2.7 2.7 0 1 0 -5.4 0M524.9 134.1a2.7 2.7 0 1 0 5.4 0a2.7 2.7 0 1 0 -5.4 0M525.5 134.2a2.7 2.7 0 1 0 5.4 0a2.7 2.7 0 1 0 -5.4 0M526.1 132.9a2.7 2.7 0 1 0 5.4 0a2.7 2.7 0 1 0 -5.4 0M526.7 133.9a2.7 2.7 0 1 0 5.4 0a2.7 2.7 0 1 0 -5.4 0M527.3 137.3a2.7 2.7 0 1 0 5.4 0a2.7 2.7 0 1 0 -5.4 0M527.9 134.4a2.7 2.7 0 1 0 5.4 0a2.7 2.7 0 1 0 -5.4 0M528.5 133.4a2.7 2.7 0 1 0 5.4 0a2.7 2.7 0 1 0 -5.4 0M529.1 135.5a2.7 2.7 0 1 0 5.4 0a2.7 2.7 0 1 0 -5.4 0M529.7 136.4a2.7 2.7 0 1 0 5.4 0a2.7 2.7 0 1 0 -5.4 0M530.3 136.6a2.7 2.7 0 1 0 5.4 0a2.7 2.7 0 1 0 -5.4 0M530.9 135a2.7 2.7 0 1 0 5.4 0a2.7 2.7 0 1 0 -5.4 0M531.5 137.4a2.7 2.7 0 1 0 5.4 0a2.7 2.7 0 1 0 -5.4 0M532.1 135.7a2.7 2.7 0 1 0 5.4 0a2.7 2.7 0 1 0 -5.4 0M532.7 135.1a2.7 2.7 0 1 0 5.4 0a2.7 2.7 0 1 0 -5.4 0M533.3 135.6a2.7 2.7 0 1 0 5.4 0a2.7 2.7 0 1 0 -5.4 0M533.9 136.3a2.7 2.7 0 1 0 5.4 0a2.7 2.7 0 1 0 -5.4 0M534.5 137.6a2.7 2.7 0 1 0 5.4 0a2.7 2.7 0 1 0 -5.4 0M535.1 137.9a2.7 2.7 0 1 0 5.4 0a2.7 2.7 0 1 0 -5.4 0M535.7 137.5a2.7 2.7 0 1 0 5.4 0a2.7 2.7 0 1 0 -5.4 0M536.3 138.8a2.7 2.7 0 1 0 5.4 0a2.7 2.7 0 1 0 -5.4 0M536.9 138.1a2.7 2.7 0 1 0 5.4 0a2.7 2.7 0 1 0 -5.4 0M537.5 139.3a2.7 2.7 0 1 0 5.4 0a2.7 2.7 0 1 0 -5.4 0M538.1 136.7a2.7 2.7 0 1 0 5.4 0a2.7 2.7 0 1 0 -5.4 0M538.7 136a2.7 2.7 0 1 0 5.4 0a2.7 2.7 0 1 0 -5.4 0M539.3 138.5a2.7 2.7 0 1 0 5.4 0a2.7 2.7 0 1 0 -5.4 0M539.9 136.2a2.7 2.7 0 1 0 5.4 0a2.7 2.7 0 1 0 -5.4 0M540.5 137.2a2.7 2.7 0 1 0 5.4 0a2.7 2.7 0 1 0 -5.4 0M541.1 137.5a2.7 2.7 0 1 0 5.4 0a2.7 2.7 0 1 0 -5.4 0M541.7 137.1a2.7 2.7 0 1 0 5.4 0a2.7 2.7 0 1 0 -5.4 0M542.3 137.2a2.7 2.7 0 1 0 5.4 0a2.7 2.7 0 1 0 -5.4 0M542.9 139.5a2.7 2.7 0 1 0 5.4 0a2.7 2.7 0 1 0 -5.4 0M543.5 135.1a2.7 2.7 0 1 0 5.4 0a2.7 2.7 0 1 0 -5.4 0M544.1 138.7a2.7 2.7 0 1 0 5.4 0a2.7 2.7 0 1 0 -5.4 0M544.7 141a2.7 2.7 0 1 0 5.4 0a2.7 2.7 0 1 0 -5.4 0M545.3 139a2.7 2.7 0 1 0 5.4 0a2.7 2.7 0 1 0 -5.4 0M545.9 138.9a2.7 2.7 0 1 0 5.4 0a2.7 2.7 0 1 0 -5.4 0M546.5 139.8a2.7 2.7 0 1 0 5.4 0a2.7 2.7 0 1 0 -5.4 0M547.1 141.5a2.7 2.7 0 1 0 5.4 0a2.7 2.7 0 1 0 -5.4 0M547.7 138.2a2.7 2.7 0 1 0 5.4 0a2.7 2.7 0 1 0 -5.4 0M548.3 139.3a2.7 2.7 0 1 0 5.4 0a2.7 2.7 0 1 0 -5.4 0M548.9 138.9a2.7 2.7 0 1 0 5.4 0a2.7 2.7 0 1 0 -5.4 0M549.5 139.8a2.7 2.7 0 1 0 5.4 0a2.7 2.7 0 1 0 -5.4 0M550.1 139.4a2.7 2.7 0 1 0 5.4 0a2.7 2.7 0 1 0 -5.4 0M550.7 140.1a2.7 2.7 0 1 0 5.4 0a2.7 2.7 0 1 0 -5.4 0M551.3 138.9a2.7 2.7 0 1 0 5.4 0a2.7 2.7 0 1 0 -5.4 0M551.9 139.3a2.7 2.7 0 1 0 5.4 0a2.7 2.7 0 1 0 -5.4 0M552.5 138.4a2.7 2.7 0 1 0 5.4 0a2.7 2.7 0 1 0 -5.4 0M553.1 138.2a2.7 2.7 0 1 0 5.4 0a2.7 2.7 0 1 0 -5.4 0M553.7 138.7a2.7 2.7 0 1 0 5.4 0a2.7 2.7 0 1 0 -5.4 0M554.3 138.8a2.7 2.7 0 1 0 5.4 0a2.7 2.7 0 1 0 -5.4 0M554.9 137.5a2.7 2.7 0 1 0 5.4 0a2.7 2.7 0 1 0 -5.4 0M555.5 140.7a2.7 2.7 0 1 0 5.4 0a2.7 2.7 0 1 0 -5.4 0M556.1 139.2a2.7 2.7 0 1 0 5.4 0a2.7 2.7 0 1 0 -5.4 0M556.7 137.6a2.7 2.7 0 1 0 5.4 0a2.7 2.7 0 1 0 -5.4 0M557.3 140.4a2.7 2.7 0 1 0 5.4 0a2.7 2.7 0 1 0 -5.4 0M557.9 138.5a2.7 2.7 0 1 0 5.4 0a2.7 2.7 0 1 0 -5.4 0M558.5 139.9a2.7 2.7 0 1 0 5.4 0a2.7 2.7 0 1 0 -5.4 0M559.1 139.4a2.7 2.7 0 1 0 5.4 0a2.7 2.7 0 1 0 -5.4 0M559.7 139.7a2.7 2.7 0 1 0 5.4 0a2.7 2.7 0 1 0 -5.4 0M560.3 139.7a2.7 2.7 0 1 0 5.4 0a2.7 2.7 0 1 0 -5.4 0M560.9 138.8a2.7 2.7 0 1 0 5.4 0a2.7 2.7 0 1 0 -5.4 0M561.5 139.3a2.7 2.7 0 1 0 5.4 0a2.7 2.7 0 1 0 -5.4 0M562.1 141.9a2.7 2.7 0 1 0 5.4 0a2.7 2.7 0 1 0 -5.4 0M562.7 137.1a2.7 2.7 0 1 0 5.4 0a2.7 2.7 0 1 0 -5.4 0M563.3 139.2a2.7 2.7 0 1 0 5.4 0a2.7 2.7 0 1 0 -5.4 0M563.9 139.7a2.7 2.7 0 1 0 5.4 0a2.7 2.7 0 1 0 -5.4 0M564.5 138a2.7 2.7 0 1 0 5.4 0a2.7 2.7 0 1 0 -5.4 0M565.1 137.2a2.7 2.7 0 1 0 5.4 0a2.7 2.7 0 1 0 -5.4 0M565.7 141.3a2.7 2.7 0 1 0 5.4 0a2.7 2.7 0 1 0 -5.4 0M566.3 138.9a2.7 2.7 0 1 0 5.4 0a2.7 2.7 0 1 0 -5.4 0M566.9 141.8a2.7 2.7 0 1 0 5.4 0a2.7 2.7 0 1 0 -5.4 0M567.5 140.6a2.7 2.7 0 1 0 5.4 0a2.7 2.7 0 1 0 -5.4 0M568.1 140a2.7 2.7 0 1 0 5.4 0a2.7 2.7 0 1 0 -5.4 0M568.7 140.4a2.7 2.7 0 1 0 5.4 0a2.7 2.7 0 1 0 -5.4 0M569.3 140.6a2.7 2.7 0 1 0 5.4 0a2.7 2.7 0 1 0 -5.4 0M569.9 141.3a2.7 2.7 0 1 0 5.4 0a2.7 2.7 0 1 0 -5.4 0M570.5 140.6a2.7 2.7 0 1 0 5.4 0a2.7 2.7 0 1 0 -5.4 0M571.1 140.2a2.7 2.7 0 1 0 5.4 0a2.7 2.7 0 1 0 -5.4 0M571.7 140.1a2.7 2.7 0 1 0 5.4 0a2.7 2.7 0 1 0 -5.4 0M572.3 141.4a2.7 2.7 0 1 0 5.4 0a2.7 2.7 0 1 0 -5.4 0M572.9 141.1a2.7 2.7 0 1 0 5.4 0a2.7 2.7 0 1 0 -5.4 0M573.5 138.7a2.7 2.7 0 1 0 5.4 0a2.7 2.7 0 1 0 -5.4 0M574.1 138.5a2.7 2.7 0 1 0 5.4 0a2.7 2.7 0 1 0 -5.4 0M574.7 139.2a2.7 2.7 0 1 0 5.4 0a2.7 2.7 0 1 0 -5.4 0M575.3 137.9a2.7 2.7 0 1 0 5.4 0a2.7 2.7 0 1 0 -5.4 0M575.9 137.8a2.7 2.7 0 1 0 5.4 0a2.7 2.7 0 1 0 -5.4 0M576.5 136.7a2.7 2.7 0 1 0 5.4 0a2.7 2.7 0 1 0 -5.4 0M577.1 137.1a2.7 2.7 0 1 0 5.4 0a2.7 2.7 0 1 0 -5.4 0M577.7 137.8a2.7 2.7 0 1 0 5.4 0a2.7 2.7 0 1 0 -5.4 0M578.3 138.6a2.7 2.7 0 1 0 5.4 0a2.7 2.7 0 1 0 -5.4 0M578.9 137.5a2.7 2.7 0 1 0 5.4 0a2.7 2.7 0 1 0 -5.4 0M579.5 139.9a2.7 2.7 0 1 0 5.4 0a2.7 2.7 0 1 0 -5.4 0M580.1 137.7a2.7 2.7 0 1 0 5.4 0a2.7 2.7 0 1 0 -5.4 0M580.7 141.5a2.7 2.7 0 1 0 5.4 0a2.7 2.7 0 1 0 -5.4 0M581.3 139.4a2.7 2.7 0 1 0 5.4 0a2.7 2.7 0 1 0 -5.4 0M581.9 138.6a2.7 2.7 0 1 0 5.4 0a2.7 2.7 0 1 0 -5.4 0M582.5 137a2.7 2.7 0 1 0 5.4 0a2.7 2.7 0 1 0 -5.4 0M583.1 133.4a2.7 2.7 0 1 0 5.4 0a2.7 2.7 0 1 0 -5.4 0M583.7 136.4a2.7 2.7 0 1 0 5.4 0a2.7 2.7 0 1 0 -5.4 0M584.3 138a2.7 2.7 0 1 0 5.4 0a2.7 2.7 0 1 0 -5.4 0M584.9 141.5a2.7 2.7 0 1 0 5.4 0a2.7 2.7 0 1 0 -5.4 0M585.5 139.1a2.7 2.7 0 1 0 5.4 0a2.7 2.7 0 1 0 -5.4 0M586.1 143.8a2.7 2.7 0 1 0 5.4 0a2.7 2.7 0 1 0 -5.4 0M586.7 142.9a2.7 2.7 0 1 0 5.4 0a2.7 2.7 0 1 0 -5.4 0M587.3 145.1a2.7 2.7 0 1 0 5.4 0a2.7 2.7 0 1 0 -5.4 0M587.9 142.2a2.7 2.7 0 1 0 5.4 0a2.7 2.7 0 1 0 -5.4 0M588.5 145.8a2.7 2.7 0 1 0 5.4 0a2.7 2.7 0 1 0 -5.4 0M589.1 146.5a2.7 2.7 0 1 0 5.4 0a2.7 2.7 0 1 0 -5.4 0M589.7 149.1a2.7 2.7 0 1 0 5.4 0a2.7 2.7 0 1 0 -5.4 0M590.3 149.9a2.7 2.7 0 1 0 5.4 0a2.7 2.7 0 1 0 -5.4 0M590.9 149.7a2.7 2.7 0 1 0 5.4 0a2.7 2.7 0 1 0 -5.4 0M591.5 157.7a2.7 2.7 0 1 0 5.4 0a2.7 2.7 0 1 0 -5.4 0M595.7 193.2a2.7 2.7 0 1 0 5.4 0a2.7 2.7 0 1 0 -5.4 0M596.3 157.3a2.7 2.7 0 1 0 5.4 0a2.7 2.7 0 1 0 -5.4 0M596.9 157a2.7 2.7 0 1 0 5.4 0a2.7 2.7 0 1 0 -5.4 0M597.5 156.4a2.7 2.7 0 1 0 5.4 0a2.7 2.7 0 1 0 -5.4 0M598.1 155.6a2.7 2.7 0 1 0 5.4 0a2.7 2.7 0 1 0 -5.4 0M598.7 156a2.7 2.7 0 1 0 5.4 0a2.7 2.7 0 1 0 -5.4 0M599.3 155.9a2.7 2.7 0 1 0 5.4 0a2.7 2.7 0 1 0 -5.4 0M599.9 155.4a2.7 2.7 0 1 0 5.4 0a2.7 2.7 0 1 0 -5.4 0M600.5 154.8a2.7 2.7 0 1 0 5.4 0a2.7 2.7 0 1 0 -5.4 0M601.1 158.2a2.7 2.7 0 1 0 5.4 0a2.7 2.7 0 1 0 -5.4 0M601.7 156.5a2.7 2.7 0 1 0 5.4 0a2.7 2.7 0 1 0 -5.4 0M602.3 155.3a2.7 2.7 0 1 0 5.4 0a2.7 2.7 0 1 0 -5.4 0M602.9 154.1a2.7 2.7 0 1 0 5.4 0a2.7 2.7 0 1 0 -5.4 0M603.5 154.3a2.7 2.7 0 1 0 5.4 0a2.7 2.7 0 1 0 -5.4 0M604.1 156a2.7 2.7 0 1 0 5.4 0a2.7 2.7 0 1 0 -5.4 0M604.7 156.2a2.7 2.7 0 1 0 5.4 0a2.7 2.7 0 1 0 -5.4 0M605.3 155.1a2.7 2.7 0 1 0 5.4 0a2.7 2.7 0 1 0 -5.4 0M605.9 155.2a2.7 2.7 0 1 0 5.4 0a2.7 2.7 0 1 0 -5.4 0M606.5 154.6a2.7 2.7 0 1 0 5.4 0a2.7 2.7 0 1 0 -5.4 0M607.1 153.3a2.7 2.7 0 1 0 5.4 0a2.7 2.7 0 1 0 -5.4 0M607.7 155.9a2.7 2.7 0 1 0 5.4 0a2.7 2.7 0 1 0 -5.4 0M608.3 155.1a2.7 2.7 0 1 0 5.4 0a2.7 2.7 0 1 0 -5.4 0M608.9 157.7a2.7 2.7 0 1 0 5.4 0a2.7 2.7 0 1 0 -5.4 0M609.5 154.2a2.7 2.7 0 1 0 5.4 0a2.7 2.7 0 1 0 -5.4 0M610.1 154.4a2.7 2.7 0 1 0 5.4 0a2.7 2.7 0 1 0 -5.4 0M610.7 155.4a2.7 2.7 0 1 0 5.4 0a2.7 2.7 0 1 0 -5.4 0M611.3 154.1a2.7 2.7 0 1 0 5.4 0a2.7 2.7 0 1 0 -5.4 0M611.9 152.3a2.7 2.7 0 1 0 5.4 0a2.7 2.7 0 1 0 -5.4 0M612.5 152.1a2.7 2.7 0 1 0 5.4 0a2.7 2.7 0 1 0 -5.4 0M617.9 123.7a2.7 2.7 0 1 0 5.4 0a2.7 2.7 0 1 0 -5.4 0M618.5 123.6a2.7 2.7 0 1 0 5.4 0a2.7 2.7 0 1 0 -5.4 0M619.1 121.9a2.7 2.7 0 1 0 5.4 0a2.7 2.7 0 1 0 -5.4 0M619.7 121.6a2.7 2.7 0 1 0 5.4 0a2.7 2.7 0 1 0 -5.4 0M620.3 119.9a2.7 2.7 0 1 0 5.4 0a2.7 2.7 0 1 0 -5.4 0M620.9 117.5a2.7 2.7 0 1 0 5.4 0a2.7 2.7 0 1 0 -5.4 0M621.5 116.8a2.7 2.7 0 1 0 5.4 0a2.7 2.7 0 1 0 -5.4 0M622.1 118a2.7 2.7 0 1 0 5.4 0a2.7 2.7 0 1 0 -5.4 0M622.7 117.2a2.7 2.7 0 1 0 5.4 0a2.7 2.7 0 1 0 -5.4 0M623.3 118.1a2.7 2.7 0 1 0 5.4 0a2.7 2.7 0 1 0 -5.4 0M623.9 116.1a2.7 2.7 0 1 0 5.4 0a2.7 2.7 0 1 0 -5.4 0M624.5 116.5a2.7 2.7 0 1 0 5.4 0a2.7 2.7 0 1 0 -5.4 0M625.1 116.7a2.7 2.7 0 1 0 5.4 0a2.7 2.7 0 1 0 -5.4 0M625.7 116.1a2.7 2.7 0 1 0 5.4 0a2.7 2.7 0 1 0 -5.4 0M626.3 113.7a2.7 2.7 0 1 0 5.4 0a2.7 2.7 0 1 0 -5.4 0M626.9 113.2a2.7 2.7 0 1 0 5.4 0a2.7 2.7 0 1 0 -5.4 0M627.5 112.9a2.7 2.7 0 1 0 5.4 0a2.7 2.7 0 1 0 -5.4 0M628.1 111.6a2.7 2.7 0 1 0 5.4 0a2.7 2.7 0 1 0 -5.4 0M628.7 114a2.7 2.7 0 1 0 5.4 0a2.7 2.7 0 1 0 -5.4 0M629.3 115.7a2.7 2.7 0 1 0 5.4 0a2.7 2.7 0 1 0 -5.4 0M629.9 115.3a2.7 2.7 0 1 0 5.4 0a2.7 2.7 0 1 0 -5.4 0M630.5 120.9a2.7 2.7 0 1 0 5.4 0a2.7 2.7 0 1 0 -5.4 0M631.1 121.3a2.7 2.7 0 1 0 5.4 0a2.7 2.7 0 1 0 -5.4 0M631.7 125.1a2.7 2.7 0 1 0 5.4 0a2.7 2.7 0 1 0 -5.4 0M632.3 129.5a2.7 2.7 0 1 0 5.4 0a2.7 2.7 0 1 0 -5.4 0M632.9 136.4a2.7 2.7 0 1 0 5.4 0a2.7 2.7 0 1 0 -5.4 0M633.5 146.2a2.7 2.7 0 1 0 5.4 0a2.7 2.7 0 1 0 -5.4 0M634.1 154.8a2.7 2.7 0 1 0 5.4 0a2.7 2.7 0 1 0 -5.4 0M634.7 166.3a2.7 2.7 0 1 0 5.4 0a2.7 2.7 0 1 0 -5.4 0M635.3 169.1a2.7 2.7 0 1 0 5.4 0a2.7 2.7 0 1 0 -5.4 0M635.9 171.4a2.7 2.7 0 1 0 5.4 0a2.7 2.7 0 1 0 -5.4 0M636.5 172.2a2.7 2.7 0 1 0 5.4 0a2.7 2.7 0 1 0 -5.4 0M637.1 172.1a2.7 2.7 0 1 0 5.4 0a2.7 2.7 0 1 0 -5.4 0M637.7 174.8a2.7 2.7 0 1 0 5.4 0a2.7 2.7 0 1 0 -5.4 0M638.3 175.2a2.7 2.7 0 1 0 5.4 0a2.7 2.7 0 1 0 -5.4 0M638.9 178.7a2.7 2.7 0 1 0 5.4 0a2.7 2.7 0 1 0 -5.4 0M639.5 179.2a2.7 2.7 0 1 0 5.4 0a2.7 2.7 0 1 0 -5.4 0M640.1 182.7a2.7 2.7 0 1 0 5.4 0a2.7 2.7 0 1 0 -5.4 0M640.7 183.5a2.7 2.7 0 1 0 5.4 0a2.7 2.7 0 1 0 -5.4 0M641.3 184.5a2.7 2.7 0 1 0 5.4 0a2.7 2.7 0 1 0 -5.4 0M641.9 184.7a2.7 2.7 0 1 0 5.4 0a2.7 2.7 0 1 0 -5.4 0M642.5 185.4a2.7 2.7 0 1 0 5.4 0a2.7 2.7 0 1 0 -5.4 0M643.1 186.6a2.7 2.7 0 1 0 5.4 0a2.7 2.7 0 1 0 -5.4 0M643.7 187.8a2.7 2.7 0 1 0 5.4 0a2.7 2.7 0 1 0 -5.4 0M644.3 186.7a2.7 2.7 0 1 0 5.4 0a2.7 2.7 0 1 0 -5.4 0M644.9 188.6a2.7 2.7 0 1 0 5.4 0a2.7 2.7 0 1 0 -5.4 0M645.5 192.1a2.7 2.7 0 1 0 5.4 0a2.7 2.7 0 1 0 -5.4 0M646.1 190a2.7 2.7 0 1 0 5.4 0a2.7 2.7 0 1 0 -5.4 0M646.7 190.1a2.7 2.7 0 1 0 5.4 0a2.7 2.7 0 1 0 -5.4 0M647.3 189.8a2.7 2.7 0 1 0 5.4 0a2.7 2.7 0 1 0 -5.4 0M647.9 189.1a2.7 2.7 0 1 0 5.4 0a2.7 2.7 0 1 0 -5.4 0M648.5 192.5a2.7 2.7 0 1 0 5.4 0a2.7 2.7 0 1 0 -5.4 0M649.1 192a2.7 2.7 0 1 0 5.4 0a2.7 2.7 0 1 0 -5.4 0M649.7 192.9a2.7 2.7 0 1 0 5.4 0a2.7 2.7 0 1 0 -5.4 0M650.3 195.5a2.7 2.7 0 1 0 5.4 0a2.7 2.7 0 1 0 -5.4 0M650.9 197.3a2.7 2.7 0 1 0 5.4 0a2.7 2.7 0 1 0 -5.4 0M651.5 194a2.7 2.7 0 1 0 5.4 0a2.7 2.7 0 1 0 -5.4 0M652.1 196.3a2.7 2.7 0 1 0 5.4 0a2.7 2.7 0 1 0 -5.4 0M652.7 196.4a2.7 2.7 0 1 0 5.4 0a2.7 2.7 0 1 0 -5.4 0M653.3 196.5a2.7 2.7 0 1 0 5.4 0a2.7 2.7 0 1 0 -5.4 0M653.9 197a2.7 2.7 0 1 0 5.4 0a2.7 2.7 0 1 0 -5.4 0M654.5 196.7a2.7 2.7 0 1 0 5.4 0a2.7 2.7 0 1 0 -5.4 0M655.1 198.6a2.7 2.7 0 1 0 5.4 0a2.7 2.7 0 1 0 -5.4 0M655.7 197.3a2.7 2.7 0 1 0 5.4 0a2.7 2.7 0 1 0 -5.4 0M656.3 196.4a2.7 2.7 0 1 0 5.4 0a2.7 2.7 0 1 0 -5.4 0M656.9 197.1a2.7 2.7 0 1 0 5.4 0a2.7 2.7 0 1 0 -5.4 0M657.5 196.4a2.7 2.7 0 1 0 5.4 0a2.7 2.7 0 1 0 -5.4 0M658.1 195.4a2.7 2.7 0 1 0 5.4 0a2.7 2.7 0 1 0 -5.4 0M658.7 194.7a2.7 2.7 0 1 0 5.4 0a2.7 2.7 0 1 0 -5.4 0M659.3 196a2.7 2.7 0 1 0 5.4 0a2.7 2.7 0 1 0 -5.4 0M659.9 194a2.7 2.7 0 1 0 5.4 0a2.7 2.7 0 1 0 -5.4 0M660.5 192.4a2.7 2.7 0 1 0 5.4 0a2.7 2.7 0 1 0 -5.4 0M661.1 190.3a2.7 2.7 0 1 0 5.4 0a2.7 2.7 0 1 0 -5.4 0M661.7 189.7a2.7 2.7 0 1 0 5.4 0a2.7 2.7 0 1 0 -5.4 0M662.3 187.9a2.7 2.7 0 1 0 5.4 0a2.7 2.7 0 1 0 -5.4 0M662.9 188.2a2.7 2.7 0 1 0 5.4 0a2.7 2.7 0 1 0 -5.4 0M663.5 188.5a2.7 2.7 0 1 0 5.4 0a2.7 2.7 0 1 0 -5.4 0M664.1 186a2.7 2.7 0 1 0 5.4 0a2.7 2.7 0 1 0 -5.4 0M664.7 188.3a2.7 2.7 0 1 0 5.4 0a2.7 2.7 0 1 0 -5.4 0M665.3 189.5a2.7 2.7 0 1 0 5.4 0a2.7 2.7 0 1 0 -5.4 0M665.9 189.5a2.7 2.7 0 1 0 5.4 0a2.7 2.7 0 1 0 -5.4 0M666.5 188.5a2.7 2.7 0 1 0 5.4 0a2.7 2.7 0 1 0 -5.4 0M667.1 191.3a2.7 2.7 0 1 0 5.4 0a2.7 2.7 0 1 0 -5.4 0M667.7 189.6a2.7 2.7 0 1 0 5.4 0a2.7 2.7 0 1 0 -5.4 0M668.3 191.3a2.7 2.7 0 1 0 5.4 0a2.7 2.7 0 1 0 -5.4 0M668.9 193.8a2.7 2.7 0 1 0 5.4 0a2.7 2.7 0 1 0 -5.4 0M669.5 197.4a2.7 2.7 0 1 0 5.4 0a2.7 2.7 0 1 0 -5.4 0M670.1 201.3a2.7 2.7 0 1 0 5.4 0a2.7 2.7 0 1 0 -5.4 0M670.7 204.5a2.7 2.7 0 1 0 5.4 0a2.7 2.7 0 1 0 -5.4 0M671.3 206.1a2.7 2.7 0 1 0 5.4 0a2.7 2.7 0 1 0 -5.4 0M671.9 204.2a2.7 2.7 0 1 0 5.4 0a2.7 2.7 0 1 0 -5.4 0M672.5 204.3a2.7 2.7 0 1 0 5.4 0a2.7 2.7 0 1 0 -5.4 0M673.1 203.7a2.7 2.7 0 1 0 5.4 0a2.7 2.7 0 1 0 -5.4 0M673.7 204.3a2.7 2.7 0 1 0 5.4 0a2.7 2.7 0 1 0 -5.4 0M674.3 202.2a2.7 2.7 0 1 0 5.4 0a2.7 2.7 0 1 0 -5.4 0M674.9 203.9a2.7 2.7 0 1 0 5.4 0a2.7 2.7 0 1 0 -5.4 0M675.5 204.7a2.7 2.7 0 1 0 5.4 0a2.7 2.7 0 1 0 -5.4 0M676.1 204a2.7 2.7 0 1 0 5.4 0a2.7 2.7 0 1 0 -5.4 0M683.9 425.4a2.7 2.7 0 1 0 5.4 0a2.7 2.7 0 1 0 -5.4 0M684.5 427.6a2.7 2.7 0 1 0 5.4 0a2.7 2.7 0 1 0 -5.4 0M685.1 431a2.7 2.7 0 1 0 5.4 0a2.7 2.7 0 1 0 -5.4 0M685.7 434a2.7 2.7 0 1 0 5.4 0a2.7 2.7 0 1 0 -5.4 0M686.3 439.7a2.7 2.7 0 1 0 5.4 0a2.7 2.7 0 1 0 -5.4 0M686.9 444.5a2.7 2.7 0 1 0 5.4 0a2.7 2.7 0 1 0 -5.4 0M687.5 449.6a2.7 2.7 0 1 0 5.4 0a2.7 2.7 0 1 0 -5.4 0M688.1 453.2a2.7 2.7 0 1 0 5.4 0a2.7 2.7 0 1 0 -5.4 0M688.7 458.5a2.7 2.7 0 1 0 5.4 0a2.7 2.7 0 1 0 -5.4 0M689.3 459.6a2.7 2.7 0 1 0 5.4 0a2.7 2.7 0 1 0 -5.4 0M689.9 462.1a2.7 2.7 0 1 0 5.4 0a2.7 2.7 0 1 0 -5.4 0M690.5 467.4a2.7 2.7 0 1 0 5.4 0a2.7 2.7 0 1 0 -5.4 0M691.1 471a2.7 2.7 0 1 0 5.4 0a2.7 2.7 0 1 0 -5.4 0M691.7 473.1a2.7 2.7 0 1 0 5.4 0a2.7 2.7 0 1 0 -5.4 0M692.3 473.4a2.7 2.7 0 1 0 5.4 0a2.7 2.7 0 1 0 -5.4 0M692.9 476.6a2.7 2.7 0 1 0 5.4 0a2.7 2.7 0 1 0 -5.4 0M693.5 480.3a2.7 2.7 0 1 0 5.4 0a2.7 2.7 0 1 0 -5.4 0M694.1 482.2a2.7 2.7 0 1 0 5.4 0a2.7 2.7 0 1 0 -5.4 0M694.7 486.6a2.7 2.7 0 1 0 5.4 0a2.7 2.7 0 1 0 -5.4 0M695.3 485.8a2.7 2.7 0 1 0 5.4 0a2.7 2.7 0 1 0 -5.4 0M695.9 490.2a2.7 2.7 0 1 0 5.4 0a2.7 2.7 0 1 0 -5.4 0M696.5 491.2a2.7 2.7 0 1 0 5.4 0a2.7 2.7 0 1 0 -5.4 0M697.1 495.8a2.7 2.7 0 1 0 5.4 0a2.7 2.7 0 1 0 -5.4 0M697.7 496.3a2.7 2.7 0 1 0 5.4 0a2.7 2.7 0 1 0 -5.4 0M698.3 499.1a2.7 2.7 0 1 0 5.4 0a2.7 2.7 0 1 0 -5.4 0M698.9 498.7a2.7 2.7 0 1 0 5.4 0a2.7 2.7 0 1 0 -5.4 0M699.5 498.9a2.7 2.7 0 1 0 5.4 0a2.7 2.7 0 1 0 -5.4 0M700.1 500.3a2.7 2.7 0 1 0 5.4 0a2.7 2.7 0 1 0 -5.4 0M700.7 502.1a2.7 2.7 0 1 0 5.4 0a2.7 2.7 0 1 0 -5.4 0M701.3 503a2.7 2.7 0 1 0 5.4 0a2.7 2.7 0 1 0 -5.4 0M701.9 506.9a2.7 2.7 0 1 0 5.4 0a2.7 2.7 0 1 0 -5.4 0M702.5 509a2.7 2.7 0 1 0 5.4 0a2.7 2.7 0 1 0 -5.4 0M703.1 509.4a2.7 2.7 0 1 0 5.4 0a2.7 2.7 0 1 0 -5.4 0M703.7 509.1a2.7 2.7 0 1 0 5.4 0a2.7 2.7 0 1 0 -5.4 0M704.3 511.1a2.7 2.7 0 1 0 5.4 0a2.7 2.7 0 1 0 -5.4 0M704.9 511.7a2.7 2.7 0 1 0 5.4 0a2.7 2.7 0 1 0 -5.4 0M705.5 515.4a2.7 2.7 0 1 0 5.4 0a2.7 2.7 0 1 0 -5.4 0M706.1 515.7a2.7 2.7 0 1 0 5.4 0a2.7 2.7 0 1 0 -5.4 0M706.7 517.2a2.7 2.7 0 1 0 5.4 0a2.7 2.7 0 1 0 -5.4 0M707.3 517.4a2.7 2.7 0 1 0 5.4 0a2.7 2.7 0 1 0 -5.4 0M707.9 516.3a2.7 2.7 0 1 0 5.4 0a2.7 2.7 0 1 0 -5.4 0M708.5 518.4a2.7 2.7 0 1 0 5.4 0a2.7 2.7 0 1 0 -5.4 0M709.1 519a2.7 2.7 0 1 0 5.4 0a2.7 2.7 0 1 0 -5.4 0M709.7 521.9a2.7 2.7 0 1 0 5.4 0a2.7 2.7 0 1 0 -5.4 0M710.3 522.8a2.7 2.7 0 1 0 5.4 0a2.7 2.7 0 1 0 -5.4 0M710.9 522.9a2.7 2.7 0 1 0 5.4 0a2.7 2.7 0 1 0 -5.4 0M711.5 524.2a2.7 2.7 0 1 0 5.4 0a2.7 2.7 0 1 0 -5.4 0M712.1 527.7a2.7 2.7 0 1 0 5.4 0a2.7 2.7 0 1 0 -5.4 0M712.7 526.1a2.7 2.7 0 1 0 5.4 0a2.7 2.7 0 1 0 -5.4 0M713.3 526.9a2.7 2.7 0 1 0 5.4 0a2.7 2.7 0 1 0 -5.4 0M713.9 528.5a2.7 2.7 0 1 0 5.4 0a2.7 2.7 0 1 0 -5.4 0M714.5 528.9a2.7 2.7 0 1 0 5.4 0a2.7 2.7 0 1 0 -5.4 0M715.1 530.1a2.7 2.7 0 1 0 5.4 0a2.7 2.7 0 1 0 -5.4 0M715.7 532.4a2.7 2.7 0 1 0 5.4 0a2.7 2.7 0 1 0 -5.4 0M716.3 535.2a2.7 2.7 0 1 0 5.4 0a2.7 2.7 0 1 0 -5.4 0M716.9 532.4a2.7 2.7 0 1 0 5.4 0a2.7 2.7 0 1 0 -5.4 0M717.5 535a2.7 2.7 0 1 0 5.4 0a2.7 2.7 0 1 0 -5.4 0M718.1 536.1a2.7 2.7 0 1 0 5.4 0a2.7 2.7 0 1 0 -5.4 0M718.7 537a2.7 2.7 0 1 0 5.4 0a2.7 2.7 0 1 0 -5.4 0M719.3 537.9a2.7 2.7 0 1 0 5.4 0a2.7 2.7 0 1 0 -5.4 0M719.9 538.7a2.7 2.7 0 1 0 5.4 0a2.7 2.7 0 1 0 -5.4 0M720.5 541.3a2.7 2.7 0 1 0 5.4 0a2.7 2.7 0 1 0 -5.4 0M721.1 540.8a2.7 2.7 0 1 0 5.4 0a2.7 2.7 0 1 0 -5.4 0M721.7 542.1a2.7 2.7 0 1 0 5.4 0a2.7 2.7 0 1 0 -5.4 0M722.3 543.2a2.7 2.7 0 1 0 5.4 0a2.7 2.7 0 1 0 -5.4 0M722.9 544.4a2.7 2.7 0 1 0 5.4 0a2.7 2.7 0 1 0 -5.4 0M723.5 545.1a2.7 2.7 0 1 0 5.4 0a2.7 2.7 0 1 0 -5.4 0M724.1 547.5a2.7 2.7 0 1 0 5.4 0a2.7 2.7 0 1 0 -5.4 0M724.7 547.6a2.7 2.7 0 1 0 5.4 0a2.7 2.7 0 1 0 -5.4 0M725.3 548.4a2.7 2.7 0 1 0 5.4 0a2.7 2.7 0 1 0 -5.4 0M725.9 548.8a2.7 2.7 0 1 0 5.4 0a2.7 2.7 0 1 0 -5.4 0M726.5 548.1a2.7 2.7 0 1 0 5.4 0a2.7 2.7 0 1 0 -5.4 0M727.1 548.5a2.7 2.7 0 1 0 5.4 0a2.7 2.7 0 1 0 -5.4 0M727.7 548.6a2.7 2.7 0 1 0 5.4 0a2.7 2.7 0 1 0 -5.4 0M728.3 550.5a2.7 2.7 0 1 0 5.4 0a2.7 2.7 0 1 0 -5.4 0M728.9 550.2a2.7 2.7 0 1 0 5.4 0a2.7 2.7 0 1 0 -5.4 0M729.5 550.2a2.7 2.7 0 1 0 5.4 0a2.7 2.7 0 1 0 -5.4 0M730.1 552.2a2.7 2.7 0 1 0 5.4 0a2.7 2.7 0 1 0 -5.4 0M730.7 553.5a2.7 2.7 0 1 0 5.4 0a2.7 2.7 0 1 0 -5.4 0M731.3 551.4a2.7 2.7 0 1 0 5.4 0a2.7 2.7 0 1 0 -5.4 0M731.9 555.9a2.7 2.7 0 1 0 5.4 0a2.7 2.7 0 1 0 -5.4 0M732.5 555.1a2.7 2.7 0 1 0 5.4 0a2.7 2.7 0 1 0 -5.4 0M733.1 555.6a2.7 2.7 0 1 0 5.4 0a2.7 2.7 0 1 0 -5.4 0M733.7 557.7a2.7 2.7 0 1 0 5.4 0a2.7 2.7 0 1 0 -5.4 0M734.3 557.4a2.7 2.7 0 1 0 5.4 0a2.7 2.7 0 1 0 -5.4 0M734.9 557.1a2.7 2.7 0 1 0 5.4 0a2.7 2.7 0 1 0 -5.4 0M735.5 561a2.7 2.7 0 1 0 5.4 0a2.7 2.7 0 1 0 -5.4 0M736.1 558.2a2.7 2.7 0 1 0 5.4 0a2.7 2.7 0 1 0 -5.4 0M736.7 559.5a2.7 2.7 0 1 0 5.4 0a2.7 2.7 0 1 0 -5.4 0M737.3 561.2a2.7 2.7 0 1 0 5.4 0a2.7 2.7 0 1 0 -5.4 0M737.9 559.6a2.7 2.7 0 1 0 5.4 0a2.7 2.7 0 1 0 -5.4 0M738.5 561a2.7 2.7 0 1 0 5.4 0a2.7 2.7 0 1 0 -5.4 0M739.1 562.2a2.7 2.7 0 1 0 5.4 0a2.7 2.7 0 1 0 -5.4 0M739.7 565.5a2.7 2.7 0 1 0 5.4 0a2.7 2.7 0 1 0 -5.4 0M740.3 562.8a2.7 2.7 0 1 0 5.4 0a2.7 2.7 0 1 0 -5.4 0M740.9 564.1a2.7 2.7 0 1 0 5.4 0a2.7 2.7 0 1 0 -5.4 0M741.5 565.6a2.7 2.7 0 1 0 5.4 0a2.7 2.7 0 1 0 -5.4 0M742.1 565.7a2.7 2.7 0 1 0 5.4 0a2.7 2.7 0 1 0 -5.4 0M742.7 564.6a2.7 2.7 0 1 0 5.4 0a2.7 2.7 0 1 0 -5.4 0M743.3 566.9a2.7 2.7 0 1 0 5.4 0a2.7 2.7 0 1 0 -5.4 0M743.9 567.4a2.7 2.7 0 1 0 5.4 0a2.7 2.7 0 1 0 -5.4 0M744.5 568.5a2.7 2.7 0 1 0 5.4 0a2.7 2.7 0 1 0 -5.4 0M745.1 570.2a2.7 2.7 0 1 0 5.4 0a2.7 2.7 0 1 0 -5.4 0M745.7 571a2.7 2.7 0 1 0 5.4 0a2.7 2.7 0 1 0 -5.4 0M746.3 571.2a2.7 2.7 0 1 0 5.4 0a2.7 2.7 0 1 0 -5.4 0M746.9 571.7a2.7 2.7 0 1 0 5.4 0a2.7 2.7 0 1 0 -5.4 0M747.5 570.2a2.7 2.7 0 1 0 5.4 0a2.7 2.7 0 1 0 -5.4 0M748.1 570.5a2.7 2.7 0 1 0 5.4 0a2.7 2.7 0 1 0 -5.4 0M748.7 570.5a2.7 2.7 0 1 0 5.4 0a2.7 2.7 0 1 0 -5.4 0M749.3 569.3a2.7 2.7 0 1 0 5.4 0a2.7 2.7 0 1 0 -5.4 0M749.9 569.4a2.7 2.7 0 1 0 5.4 0a2.7 2.7 0 1 0 -5.4 0M750.5 567.8a2.7 2.7 0 1 0 5.4 0a2.7 2.7 0 1 0 -5.4 0M751.1 570.2a2.7 2.7 0 1 0 5.4 0a2.7 2.7 0 1 0 -5.4 0M751.7 571.1a2.7 2.7 0 1 0 5.4 0a2.7 2.7 0 1 0 -5.4 0M752.3 568.1a2.7 2.7 0 1 0 5.4 0a2.7 2.7 0 1 0 -5.4 0M752.9 568.4a2.7 2.7 0 1 0 5.4 0a2.7 2.7 0 1 0 -5.4 0M753.5 567.6a2.7 2.7 0 1 0 5.4 0a2.7 2.7 0 1 0 -5.4 0M754.1 569.9a2.7 2.7 0 1 0 5.4 0a2.7 2.7 0 1 0 -5.4 0M754.7 569.9a2.7 2.7 0 1 0 5.4 0a2.7 2.7 0 1 0 -5.4 0M755.3 570.1a2.7 2.7 0 1 0 5.4 0a2.7 2.7 0 1 0 -5.4 0M755.9 570.2a2.7 2.7 0 1 0 5.4 0a2.7 2.7 0 1 0 -5.4 0M756.5 571.1a2.7 2.7 0 1 0 5.4 0a2.7 2.7 0 1 0 -5.4 0M757.1 570.3a2.7 2.7 0 1 0 5.4 0a2.7 2.7 0 1 0 -5.4 0M757.7 572.7a2.7 2.7 0 1 0 5.4 0a2.7 2.7 0 1 0 -5.4 0M758.3 571.8a2.7 2.7 0 1 0 5.4 0a2.7 2.7 0 1 0 -5.4 0M758.9 574.1a2.7 2.7 0 1 0 5.4 0a2.7 2.7 0 1 0 -5.4 0M759.5 574.8a2.7 2.7 0 1 0 5.4 0a2.7 2.7 0 1 0 -5.4 0M760.1 577.1a2.7 2.7 0 1 0 5.4 0a2.7 2.7 0 1 0 -5.4 0M760.7 577a2.7 2.7 0 1 0 5.4 0a2.7 2.7 0 1 0 -5.4 0M761.3 579.3a2.7 2.7 0 1 0 5.4 0a2.7 2.7 0 1 0 -5.4 0M761.9 578.1a2.7 2.7 0 1 0 5.4 0a2.7 2.7 0 1 0 -5.4 0M762.5 580.6a2.7 2.7 0 1 0 5.4 0a2.7 2.7 0 1 0 -5.4 0M763.1 580.7a2.7 2.7 0 1 0 5.4 0a2.7 2.7 0 1 0 -5.4 0M763.7 581.8a2.7 2.7 0 1 0 5.4 0a2.7 2.7 0 1 0 -5.4 0M764.3 582.1a2.7 2.7 0 1 0 5.4 0a2.7 2.7 0 1 0 -5.4 0M764.9 583.6a2.7 2.7 0 1 0 5.4 0a2.7 2.7 0 1 0 -5.4 0M765.5 580.6a2.7 2.7 0 1 0 5.4 0a2.7 2.7 0 1 0 -5.4 0M766.1 583.3a2.7 2.7 0 1 0 5.4 0a2.7 2.7 0 1 0 -5.4 0M766.7 581.6a2.7 2.7 0 1 0 5.4 0a2.7 2.7 0 1 0 -5.4 0M767.3 585a2.7 2.7 0 1 0 5.4 0a2.7 2.7 0 1 0 -5.4 0M767.9 581.9a2.7 2.7 0 1 0 5.4 0a2.7 2.7 0 1 0 -5.4 0M768.5 583a2.7 2.7 0 1 0 5.4 0a2.7 2.7 0 1 0 -5.4 0M769.1 582.4a2.7 2.7 0 1 0 5.4 0a2.7 2.7 0 1 0 -5.4 0M769.7 586.7a2.7 2.7 0 1 0 5.4 0a2.7 2.7 0 1 0 -5.4 0M592 169a2.7 2.7 0 1 0 5.4 0a2.7 2.7 0 1 0 -5.4 0M592.3 176a2.7 2.7 0 1 0 5.4 0a2.7 2.7 0 1 0 -5.4 0M592.6 183a2.7 2.7 0 1 0 5.4 0a2.7 2.7 0 1 0 -5.4 0M593.1 207.5a2.7 2.7 0 1 0 5.4 0a2.7 2.7 0 1 0 -5.4 0M594.3 247a2.7 2.7 0 1 0 5.4 0a2.7 2.7 0 1 0 -5.4 0M595.3 272.5a2.7 2.7 0 1 0 5.4 0a2.7 2.7 0 1 0 -5.4 0M613.3 178a2.7 2.7 0 1 0 5.4 0a2.7 2.7 0 1 0 -5.4 0M614.6 199.5a2.7 2.7 0 1 0 5.4 0a2.7 2.7 0 1 0 -5.4 0M615.1 215a2.7 2.7 0 1 0 5.4 0a2.7 2.7 0 1 0 -5.4 0M616.3 235a2.7 2.7 0 1 0 5.4 0a2.7 2.7 0 1 0 -5.4 0M617.3 244a2.7 2.7 0 1 0 5.4 0a2.7 2.7 0 1 0 -5.4 0M676.8 212.5a2.7 2.7 0 1 0 5.4 0a2.7 2.7 0 1 0 -5.4 0M677.3 298a2.7 2.7 0 1 0 5.4 0a2.7 2.7 0 1 0 -5.4 0M677.8 322a2.7 2.7 0 1 0 5.4 0a2.7 2.7 0 1 0 -5.4 0M678.3 344a2.7 2.7 0 1 0 5.4 0a2.7 2.7 0 1 0 -5.4 0M679.3 361a2.7 2.7 0 1 0 5.4 0a2.7 2.7 0 1 0 -5.4 0M679.8 375a2.7 2.7 0 1 0 5.4 0a2.7 2.7 0 1 0 -5.4 0M680.3 387.5a2.7 2.7 0 1 0 5.4 0a2.7 2.7 0 1 0 -5.4 0M681.3 395a2.7 2.7 0 1 0 5.4 0a2.7 2.7 0 1 0 -5.4 0M682.3 402.5a2.7 2.7 0 1 0 5.4 0a2.7 2.7 0 1 0 -5.4 0M682.8 410a2.7 2.7 0 1 0 5.4 0a2.7 2.7 0 1 0 -5.4 0M683.3 420a2.7 2.7 0 1 0 5.4 0a2.7 2.7 0 1 0 -5.4 0" fill="none" stroke="#FFC000" stroke-width="1.9"/>
<path d="M130.7 796.8h4.1v4.1h-4.1zM131.7 764.4h4.1v4.1h-4.1zM132.7 747h4.1v4.1h-4.1zM133.7 734.8h4.1v4.1h-4.1zM134.7 725.1h4.1v4.1h-4.1zM135.7 715.6h4.1v4.1h-4.1zM136.7 705h4.1v4.1h-4.1zM137.7 694.7h4.1v4.1h-4.1zM138.7 684.8h4.1v4.1h-4.1zM139.7 675.3h4.1v4.1h-4.1zM140.7 665.9h4.1v4.1h-4.1zM141.7 656.6h4.1v4.1h-4.1zM142.7 647.8h4.1v4.1h-4.1zM143.7 640.2h4.1v4.1h-4.1zM144.7 634h4.1v4.1h-4.1zM145.7 628.8h4.1v4.1h-4.1zM146.7 624.1h4.1v4.1h-4.1zM147.7 619.7h4.1v4.1h-4.1zM148.7 615.6h4.1v4.1h-4.1zM149.7 611.7h4.1v4.1h-4.1zM150.7 607.9h4.1v4.1h-4.1zM151.7 604.1h4.1v4.1h-4.1zM152.7 600.4h4.1v4.1h-4.1zM153.7 596.7h4.1v4.1h-4.1zM154.7 592.9h4.1v4.1h-4.1zM155.7 589h4.1v4.1h-4.1zM156.7 585h4.1v4.1h-4.1zM157.7 581h4.1v4.1h-4.1zM158.7 577h4.1v4.1h-4.1zM159.7 572.9h4.1v4.1h-4.1zM160.7 568.7h4.1v4.1h-4.1zM161.7 564.5h4.1v4.1h-4.1zM162.7 560.6h4.1v4.1h-4.1zM163.7 557.1h4.1v4.1h-4.1zM164.7 553.7h4.1v4.1h-4.1zM165.7 550.4h4.1v4.1h-4.1zM166.7 547.3h4.1v4.1h-4.1zM167.7 544.2h4.1v4.1h-4.1zM168.7 541.2h4.1v4.1h-4.1zM169.7 538.2h4.1v4.1h-4.1zM170.7 535.3h4.1v4.1h-4.1zM171.7 532.5h4.1v4.1h-4.1zM172.7 529.7h4.1v4.1h-4.1zM173.7 526.9h4.1v4.1h-4.1zM174.7 524.2h4.1v4.1h-4.1zM175.7 521.5h4.1v4.1h-4.1zM176.7 518.8h4.1v4.1h-4.1zM177.7 516.1h4.1v4.1h-4.1zM178.7 513.4h4.1v4.1h-4.1zM179.7 510.6h4.1v4.1h-4.1zM180.7 507.8h4.1v4.1h-4.1zM181.7 505h4.1v4.1h-4.1zM182.7 502.1h4.1v4.1h-4.1zM183.7 499.3h4.1v4.1h-4.1zM184.7 496.6h4.1v4.1h-4.1zM185.7 493.9h4.1v4.1h-4.1zM186.7 491.1h4.1v4.1h-4.1zM187.7 488h4.1v4.1h-4.1zM188.7 484.7h4.1v4.1h-4.1zM189.7 481.4h4.1v4.1h-4.1zM190.7 478.1h4.1v4.1h-4.1zM191.7 475.1h4.1v4.1h-4.1zM192.7 472.1h4.1v4.1h-4.1zM193.7 469.1h4.1v4.1h-4.1zM194.7 466.3h4.1v4.1h-4.1zM195.7 463.5h4.1v4.1h-4.1zM196.7 460.8h4.1v4.1h-4.1zM197.7 458.1h4.1v4.1h-4.1zM198.7 455.5h4.1v4.1h-4.1zM199.7 453h4.1v4.1h-4.1zM200.7 450.6h4.1v4.1h-4.1zM201.7 448.2h4.1v4.1h-4.1zM202.7 445.9h4.1v4.1h-4.1zM203.7 443.8h4.1v4.1h-4.1zM204.7 441.7h4.1v4.1h-4.1zM205.7 439.6h4.1v4.1h-4.1zM206.7 437.6h4.1v4.1h-4.1zM207.7 435.7h4.1v4.1h-4.1zM208.7 433.8h4.1v4.1h-4.1zM209.7 431.9h4.1v4.1h-4.1zM210.7 430h4.1v4.1h-4.1zM211.7 428.1h4.1v4.1h-4.1zM212.7 426.2h4.1v4.1h-4.1zM213.7 424.3h4.1v4.1h-4.1zM214.7 422.4h4.1v4.1h-4.1zM215.7 420.6h4.1v4.1h-4.1zM216.7 418.8h4.1v4.1h-4.1zM217.7 417.1h4.1v4.1h-4.1zM218.7 415.4h4.1v4.1h-4.1zM219.7 413.8h4.1v4.1h-4.1zM220.7 412.2h4.1v4.1h-4.1zM221.7 410.7h4.1v4.1h-4.1zM222.7 409.2h4.1v4.1h-4.1zM223.7 407.7h4.1v4.1h-4.1zM224.7 406.3h4.1v4.1h-4.1zM225.7 404.9h4.1v4.1h-4.1zM226.7 403.5h4.1v4.1h-4.1zM227.7 402.2h4.1v4.1h-4.1zM228.7 400.8h4.1v4.1h-4.1zM229.7 399.5h4.1v4.1h-4.1zM230.7 398.2h4.1v4.1h-4.1zM231.7 397h4.1v4.1h-4.1zM232.7 395.7h4.1v4.1h-4.1zM233.7 394.5h4.1v4.1h-4.1zM234.7 393.3h4.1v4.1h-4.1zM235.7 392.1h4.1v4.1h-4.1zM236.7 391h4.1v4.1h-4.1zM237.7 389.8h4.1v4.1h-4.1zM238.7 388.7h4.1v4.1h-4.1zM239.7 387.5h4.1v4.1h-4.1zM240.7 386.4h4.1v4.1h-4.1zM241.7 385.3h4.1v4.1h-4.1zM242.7 384.2h4.1v4.1h-4.1zM243.7 383h4.1v4.1h-4.1zM244.7 381.9h4.1v4.1h-4.1zM245.7 380.8h4.1v4.1h-4.1zM246.7 379.7h4.1v4.1h-4.1zM247.7 378.6h4.1v4.1h-4.1zM248.7 377.6h4.1v4.1h-4.1zM249.7 376.5h4.1v4.1h-4.1zM250.7 375.5h4.1v4.1h-4.1zM251.7 374.5h4.1v4.1h-4.1zM252.7 373.5h4.1v4.1h-4.1zM253.7 372.6h4.1v4.1h-4.1zM254.7 371.7h4.1v4.1h-4.1zM255.7 370.8h4.1v4.1h-4.1zM256.7 369.9h4.1v4.1h-4.1zM257.7 369h4.1v4.1h-4.1zM258.7 368.1h4.1v4.1h-4.1zM259.7 367.2h4.1v4.1h-4.1zM260.7 366.4h4.1v4.1h-4.1zM261.7 365.5h4.1v4.1h-4.1zM262.7 364.7h4.1v4.1h-4.1zM263.7 363.9h4.1v4.1h-4.1zM264.7 363.1h4.1v4.1h-4.1zM265.7 362.3h4.1v4.1h-4.1zM266.7 361.5h4.1v4.1h-4.1zM267.7 360.7h4.1v4.1h-4.1zM268.7 359.9h4.1v4.1h-4.1zM269.7 359.1h4.1v4.1h-4.1zM270.7 358.3h4.1v4.1h-4.1zM271.7 357.5h4.1v4.1h-4.1zM272.7 356.8h4.1v4.1h-4.1zM273.7 356h4.1v4.1h-4.1zM274.7 355.3h4.1v4.1h-4.1zM275.7 354.6h4.1v4.1h-4.1zM276.7 353.8h4.1v4.1h-4.1zM277.7 353.1h4.1v4.1h-4.1zM278.7 352.4h4.1v4.1h-4.1zM279.7 351.8h4.1v4.1h-4.1zM280.7 351.1h4.1v4.1h-4.1zM281.7 350.4h4.1v4.1h-4.1zM282.7 349.8h4.1v4.1h-4.1zM283.7 349.1h4.1v4.1h-4.1zM284.7 348.5h4.1v4.1h-4.1zM285.7 347.9h4.1v4.1h-4.1zM286.7 347.3h4.1v4.1h-4.1zM287.7 346.7h4.1v4.1h-4.1zM288.7 346.1h4.1v4.1h-4.1zM289.7 345.5h4.1v4.1h-4.1zM290.7 344.9h4.1v4.1h-4.1zM291.7 344.4h4.1v4.1h-4.1zM292.7 343.8h4.1v4.1h-4.1zM293.7 343.2h4.1v4.1h-4.1zM294.7 342.6h4.1v4.1h-4.1zM295.7 342.1h4.1v4.1h-4.1zM296.7 341.5h4.1v4.1h-4.1zM297.7 340.9h4.1v4.1h-4.1zM298.7 340.3h4.1v4.1h-4.1zM299.7 339.8h4.1v4.1h-4.1zM300.7 339.2h4.1v4.1h-4.1zM301.7 338.6h4.1v4.1h-4.1zM302.7 338.1h4.1v4.1h-4.1zM303.7 337.5h4.1v4.1h-4.1zM304.7 337h4.1v4.1h-4.1zM305.7 336.4h4.1v4.1h-4.1zM306.7 335.9h4.1v4.1h-4.1zM307.7 335.3h4.1v4.1h-4.1zM308.7 334.8h4.1v4.1h-4.1zM309.7 334.3h4.1v4.1h-4.1zM310.7 333.8h4.1v4.1h-4.1zM311.7 333.2h4.1v4.1h-4.1zM312.7 332.7h4.1v4.1h-4.1zM313.7 332.3h4.1v4.1h-4.1zM314.7 331.8h4.1v4.1h-4.1zM315.7 331.3h4.1v4.1h-4.1zM316.7 330.8h4.1v4.1h-4.1zM317.7 330.3h4.1v4.1h-4.1zM318.7 329.9h4.1v4.1h-4.1zM319.7 329.4h4.1v4.1h-4.1zM320.7 329h4.1v4.1h-4.1zM321.7 328.5h4.1v4.1h-4.1zM322.7 328h4.1v4.1h-4.1zM323.7 327.6h4.1v4.1h-4.1zM324.7 327.1h4.1v4.1h-4.1zM325.7 326.7h4.1v4.1h-4.1zM326.7 326.2h4.1v4.1h-4.1zM327.7 325.8h4.1v4.1h-4.1zM328.7 325.3h4.1v4.1h-4.1zM329.7 324.9h4.1v4.1h-4.1zM330.7 324.4h4.1v4.1h-4.1zM331.7 324h4.1v4.1h-4.1zM332.7 323.6h4.1v4.1h-4.1zM333.7 323.1h4.1v4.1h-4.1zM334.7 322.7h4.1v4.1h-4.1zM335.7 322.2h4.1v4.1h-4.1zM336.7 321.8h4.1v4.1h-4.1zM337.7 321.4h4.1v4.1h-4.1zM338.7 320.9h4.1v4.1h-4.1zM339.7 320.5h4.1v4.1h-4.1zM340.7 320.1h4.1v4.1h-4.1zM341.7 319.7h4.1v4.1h-4.1zM342.7 319.3h4.1v4.1h-4.1zM343.7 318.9h4.1v4.1h-4.1zM344.7 318.5h4.1v4.1h-4.1zM345.7 318.1h4.1v4.1h-4.1zM346.7 317.7h4.1v4.1h-4.1zM347.7 317.4h4.1v4.1h-4.1zM348.7 317h4.1v4.1h-4.1zM349.7 316.6h4.1v4.1h-4.1zM350.7 316.2h4.1v4.1h-4.1zM351.7 315.9h4.1v4.1h-4.1zM352.7 315.5h4.1v4.1h-4.1zM353.7 315.2h4.1v4.1h-4.1zM354.7 314.8h4.1v4.1h-4.1zM355.7 314.5h4.1v4.1h-4.1zM356.7 314.1h4.1v4.1h-4.1zM357.7 313.7h4.1v4.1h-4.1zM358.7 313.4h4.1v4.1h-4.1zM359.7 313h4.1v4.1h-4.1zM360.7 312.7h4.1v4.1h-4.1zM361.7 312.4h4.1v4.1h-4.1zM362.7 312h4.1v4.1h-4.1zM363.7 311.7h4.1v4.1h-4.1zM364.7 311.3h4.1v4.1h-4.1zM365.7 311h4.1v4.1h-4.1zM366.7 310.7h4.1v4.1h-4.1zM367.7 310.3h4.1v4.1h-4.1zM368.7 310h4.1v4.1h-4.1zM369.7 309.7h4.1v4.1h-4.1zM370.7 309.4h4.1v4.1h-4.1zM371.7 309h4.1v4.1h-4.1zM372.7 308.7h4.1v4.1h-4.1zM373.7 308.4h4.1v4.1h-4.1zM374.7 308.1h4.1v4.1h-4.1zM375.7 307.8h4.1v4.1h-4.1zM376.7 307.5h4.1v4.1h-4.1zM377.7 307.2h4.1v4.1h-4.1zM378.7 306.9h4.1v4.1h-4.1zM379.7 306.6h4.1v4.1h-4.1zM380.7 306.3h4.1v4.1h-4.1zM381.7 306h4.1v4.1h-4.1zM382.7 305.7h4.1v4.1h-4.1zM383.7 305.5h4.1v4.1h-4.1zM384.7 305.2h4.1v4.1h-4.1zM385.7 304.9h4.1v4.1h-4.1zM386.7 304.6h4.1v4.1h-4.1zM387.7 304.3h4.1v4.1h-4.1zM388.7 304h4.1v4.1h-4.1zM389.7 303.7h4.1v4.1h-4.1zM390.7 303.4h4.1v4.1h-4.1zM391.7 303.1h4.1v4.1h-4.1zM392.7 302.7h4.1v4.1h-4.1zM393.7 302.4h4.1v4.1h-4.1zM394.7 302.1h4.1v4.1h-4.1zM395.7 301.7h4.1v4.1h-4.1zM396.7 301.3h4.1v4.1h-4.1zM397.7 301h4.1v4.1h-4.1zM398.7 300.6h4.1v4.1h-4.1zM399.7 300.2h4.1v4.1h-4.1zM400.7 299.9h4.1v4.1h-4.1zM401.7 299.5h4.1v4.1h-4.1zM402.7 299.1h4.1v4.1h-4.1zM403.7 298.7h4.1v4.1h-4.1zM404.7 298.3h4.1v4.1h-4.1zM405.7 297.8h4.1v4.1h-4.1zM406.7 297.4h4.1v4.1h-4.1zM407.7 297h4.1v4.1h-4.1zM408.7 296.6h4.1v4.1h-4.1zM409.7 296.1h4.1v4.1h-4.1zM410.7 295.7h4.1v4.1h-4.1zM411.7 295.2h4.1v4.1h-4.1zM412.7 294.7h4.1v4.1h-4.1zM413.7 294.2h4.1v4.1h-4.1zM414.7 293.7h4.1v4.1h-4.1zM415.7 293.2h4.1v4.1h-4.1zM416.7 292.7h4.1v4.1h-4.1zM417.7 292.1h4.1v4.1h-4.1zM418.7 291.6h4.1v4.1h-4.1zM419.7 291.1h4.1v4.1h-4.1zM420.7 290.6h4.1v4.1h-4.1zM421.7 290.1h4.1v4.1h-4.1zM422.7 289.6h4.1v4.1h-4.1zM423.7 289.1h4.1v4.1h-4.1zM424.7 288.6h4.1v4.1h-4.1zM425.7 288.2h4.1v4.1h-4.1zM426.7 287.7h4.1v4.1h-4.1zM427.7 287.3h4.1v4.1h-4.1zM428.7 286.8h4.1v4.1h-4.1zM429.7 286.4h4.1v4.1h-4.1zM430.7 286h4.1v4.1h-4.1zM431.7 285.5h4.1v4.1h-4.1zM432.7 285.1h4.1v4.1h-4.1zM433.7 284.7h4.1v4.1h-4.1zM434.7 284.3h4.1v4.1h-4.1zM435.7 283.8h4.1v4.1h-4.1zM436.7 283.4h4.1v4.1h-4.1zM437.7 283h4.1v4.1h-4.1zM438.7 282.6h4.1v4.1h-4.1zM439.7 282.2h4.1v4.1h-4.1zM440.7 281.7h4.1v4.1h-4.1zM441.7 281.3h4.1v4.1h-4.1zM442.7 280.9h4.1v4.1h-4.1zM443.7 280.4h4.1v4.1h-4.1zM444.7 280h4.1v4.1h-4.1zM445.7 279.6h4.1v4.1h-4.1zM446.7 279.1h4.1v4.1h-4.1zM447.7 278.7h4.1v4.1h-4.1zM448.7 278.3h4.1v4.1h-4.1zM449.7 277.8h4.1v4.1h-4.1zM450.7 277.4h4.1v4.1h-4.1zM451.7 277h4.1v4.1h-4.1zM452.7 276.6h4.1v4.1h-4.1zM453.7 276.2h4.1v4.1h-4.1zM454.7 275.8h4.1v4.1h-4.1zM455.7 275.5h4.1v4.1h-4.1zM456.7 275.1h4.1v4.1h-4.1zM457.7 274.8h4.1v4.1h-4.1zM458.7 274.5h4.1v4.1h-4.1zM459.7 274.1h4.1v4.1h-4.1zM460.7 273.8h4.1v4.1h-4.1zM461.7 273.5h4.1v4.1h-4.1zM462.7 273.2h4.1v4.1h-4.1zM463.7 272.9h4.1v4.1h-4.1zM464.7 272.6h4.1v4.1h-4.1zM465.7 272.3h4.1v4.1h-4.1zM466.7 272.1h4.1v4.1h-4.1zM467.7 271.8h4.1v4.1h-4.1zM468.7 271.5h4.1v4.1h-4.1zM469.7 271.3h4.1v4.1h-4.1zM470.7 271h4.1v4.1h-4.1zM471.7 270.8h4.1v4.1h-4.1zM472.7 270.5h4.1v4.1h-4.1zM473.7 270.3h4.1v4.1h-4.1zM474.7 270h4.1v4.1h-4.1zM475.7 269.8h4.1v4.1h-4.1zM476.7 269.6h4.1v4.1h-4.1zM477.7 269.3h4.1v4.1h-4.1zM478.7 269.1h4.1v4.1h-4.1zM479.7 268.9h4.1v4.1h-4.1zM480.7 268.7h4.1v4.1h-4.1zM481.7 268.5h4.1v4.1h-4.1zM482.7 268.3h4.1v4.1h-4.1zM483.7 268.1h4.1v4.1h-4.1zM484.7 267.9h4.1v4.1h-4.1zM485.7 267.7h4.1v4.1h-4.1zM486.7 267.5h4.1v4.1h-4.1zM487.7 267.3h4.1v4.1h-4.1zM488.7 267.1h4.1v4.1h-4.1zM489.7 266.9h4.1v4.1h-4.1zM490.7 266.7h4.1v4.1h-4.1zM491.7 266.6h4.1v4.1h-4.1zM492.7 266.4h4.1v4.1h-4.1zM493.7 266.2h4.1v4.1h-4.1zM494.7 266h4.1v4.1h-4.1zM495.7 265.9h4.1v4.1h-4.1zM496.7 265.7h4.1v4.1h-4.1zM497.7 265.5h4.1v4.1h-4.1zM498.7 265.4h4.1v4.1h-4.1zM499.7 265.2h4.1v4.1h-4.1zM500.7 265.1h4.1v4.1h-4.1zM501.7 264.9h4.1v4.1h-4.1zM502.7 264.8h4.1v4.1h-4.1zM503.7 264.6h4.1v4.1h-4.1zM504.7 264.5h4.1v4.1h-4.1zM505.7 264.4h4.1v4.1h-4.1zM506.7 264.2h4.1v4.1h-4.1zM507.7 264.1h4.1v4.1h-4.1zM508.7 263.9h4.1v4.1h-4.1zM509.7 263.8h4.1v4.1h-4.1zM510.7 263.7h4.1v4.1h-4.1zM511.7 263.5h4.1v4.1h-4.1zM512.7 263.4h4.1v4.1h-4.1zM513.7 263.3h4.1v4.1h-4.1zM514.7 263.2h4.1v4.1h-4.1zM515.7 263.1h4.1v4.1h-4.1zM516.7 262.9h4.1v4.1h-4.1zM517.7 262.8h4.1v4.1h-4.1zM518.7 262.7h4.1v4.1h-4.1zM519.7 262.6h4.1v4.1h-4.1zM520.7 262.5h4.1v4.1h-4.1zM521.7 262.4h4.1v4.1h-4.1zM522.7 262.3h4.1v4.1h-4.1zM523.7 262.2h4.1v4.1h-4.1zM524.7 262.1h4.1v4.1h-4.1zM525.7 262.1h4.1v4.1h-4.1zM526.7 262h4.1v4.1h-4.1zM527.7 261.9h4.1v4.1h-4.1zM528.7 261.8h4.1v4.1h-4.1zM529.7 261.7h4.1v4.1h-4.1zM530.7 261.7h4.1v4.1h-4.1zM531.7 261.6h4.1v4.1h-4.1zM532.7 261.5h4.1v4.1h-4.1zM533.7 261.5h4.1v4.1h-4.1zM534.7 261.4h4.1v4.1h-4.1zM535.7 261.4h4.1v4.1h-4.1zM536.7 261.3h4.1v4.1h-4.1zM537.7 261.3h4.1v4.1h-4.1zM538.7 261.2h4.1v4.1h-4.1zM539.7 261.2h4.1v4.1h-4.1zM540.7 261.1h4.1v4.1h-4.1zM541.7 261.1h4.1v4.1h-4.1zM542.7 261h4.1v4.1h-4.1zM543.7 261h4.1v4.1h-4.1zM544.7 261h4.1v4.1h-4.1zM545.7 260.9h4.1v4.1h-4.1zM546.7 260.9h4.1v4.1h-4.1zM547.7 260.9h4.1v4.1h-4.1zM548.7 260.8h4.1v4.1h-4.1zM549.7 260.8h4.1v4.1h-4.1zM550.7 260.8h4.1v4.1h-4.1zM551.7 260.7h4.1v4.1h-4.1zM552.7 260.7h4.1v4.1h-4.1zM553.7 260.7h4.1v4.1h-4.1zM554.7 260.6h4.1v4.1h-4.1zM555.7 260.6h4.1v4.1h-4.1zM556.7 260.6h4.1v4.1h-4.1zM557.7 260.6h4.1v4.1h-4.1zM558.7 260.5h4.1v4.1h-4.1zM559.7 260.5h4.1v4.1h-4.1zM560.7 260.5h4.1v4.1h-4.1zM561.7 260.5h4.1v4.1h-4.1zM562.7 260.4h4.1v4.1h-4.1zM563.7 260.4h4.1v4.1h-4.1zM564.7 260.4h4.1v4.1h-4.1zM565.7 260.4h4.1v4.1h-4.1zM566.7 260.3h4.1v4.1h-4.1zM567.7 260.3h4.1v4.1h-4.1zM568.7 260.3h4.1v4.1h-4.1zM569.7 260.3h4.1v4.1h-4.1zM570.7 260.2h4.1v4.1h-4.1zM571.7 260.2h4.1v4.1h-4.1zM572.7 260.2h4.1v4.1h-4.1zM573.7 260.2h4.1v4.1h-4.1zM574.7 260.2h4.1v4.1h-4.1zM575.7 260.1h4.1v4.1h-4.1zM576.7 260.1h4.1v4.1h-4.1zM577.7 260.1h4.1v4.1h-4.1zM578.7 260.1h4.1v4.1h-4.1zM579.7 260h4.1v4.1h-4.1zM580.7 260h4.1v4.1h-4.1zM581.7 260h4.1v4.1h-4.1zM582.7 260h4.1v4.1h-4.1zM583.7 260h4.1v4.1h-4.1zM584.7 260h4.1v4.1h-4.1zM585.7 260h4.1v4.1h-4.1zM586.7 259.9h4.1v4.1h-4.1zM587.7 259.9h4.1v4.1h-4.1zM588.7 259.9h4.1v4.1h-4.1zM589.7 259.9h4.1v4.1h-4.1zM590.7 259.9h4.1v4.1h-4.1zM591.7 259.9h4.1v4.1h-4.1zM592.7 259.9h4.1v4.1h-4.1zM593.7 259.9h4.1v4.1h-4.1zM594.7 259.9h4.1v4.1h-4.1zM595.7 259.9h4.1v4.1h-4.1zM596.7 259.9h4.1v4.1h-4.1zM597.7 259.9h4.1v4.1h-4.1zM598.7 259.8h4.1v4.1h-4.1zM599.7 259.8h4.1v4.1h-4.1zM600.7 259.8h4.1v4.1h-4.1zM601.7 259.8h4.1v4.1h-4.1zM602.7 259.8h4.1v4.1h-4.1zM603.7 259.8h4.1v4.1h-4.1zM604.7 259.8h4.1v4.1h-4.1zM605.7 259.8h4.1v4.1h-4.1zM606.7 259.8h4.1v4.1h-4.1zM607.7 259.8h4.1v4.1h-4.1zM608.7 259.8h4.1v4.1h-4.1zM609.7 259.8h4.1v4.1h-4.1zM610.7 259.8h4.1v4.1h-4.1zM611.7 259.8h4.1v4.1h-4.1zM612.7 259.8h4.1v4.1h-4.1zM613.7 259.8h4.1v4.1h-4.1zM614.7 259.8h4.1v4.1h-4.1zM615.7 259.8h4.1v4.1h-4.1zM616.7 259.8h4.1v4.1h-4.1zM617.7 259.8h4.1v4.1h-4.1zM618.7 259.8h4.1v4.1h-4.1zM619.7 259.8h4.1v4.1h-4.1zM620.7 259.8h4.1v4.1h-4.1zM621.7 259.8h4.1v4.1h-4.1zM622.7 259.8h4.1v4.1h-4.1zM623.7 259.8h4.1v4.1h-4.1zM624.7 259.8h4.1v4.1h-4.1zM625.7 259.8h4.1v4.1h-4.1zM626.7 259.8h4.1v4.1h-4.1zM627.7 259.8h4.1v4.1h-4.1zM628.7 259.8h4.1v4.1h-4.1zM629.7 259.8h4.1v4.1h-4.1zM630.7 259.8h4.1v4.1h-4.1zM631.7 259.8h4.1v4.1h-4.1zM632.7 259.8h4.1v4.1h-4.1zM633.7 259.8h4.1v4.1h-4.1zM634.7 259.8h4.1v4.1h-4.1zM635.7 259.8h4.1v4.1h-4.1zM636.7 259.8h4.1v4.1h-4.1zM637.7 259.8h4.1v4.1h-4.1zM638.7 259.8h4.1v4.1h-4.1zM639.7 259.8h4.1v4.1h-4.1zM640.7 259.8h4.1v4.1h-4.1zM641.7 259.8h4.1v4.1h-4.1zM642.7 259.8h4.1v4.1h-4.1zM643.7 259.8h4.1v4.1h-4.1zM644.7 259.8h4.1v4.1h-4.1zM645.7 259.8h4.1v4.1h-4.1zM646.7 259.8h4.1v4.1h-4.1zM647.7 259.8h4.1v4.1h-4.1zM648.7 259.8h4.1v4.1h-4.1zM649.7 259.8h4.1v4.1h-4.1zM650.7 259.8h4.1v4.1h-4.1zM651.7 259.8h4.1v4.1h-4.1zM652.7 259.8h4.1v4.1h-4.1zM653.7 259.8h4.1v4.1h-4.1zM654.7 259.8h4.1v4.1h-4.1zM655.7 259.8h4.1v4.1h-4.1zM656.7 259.8h4.1v4.1h-4.1zM657.7 259.8h4.1v4.1h-4.1zM658.7 259.8h4.1v4.1h-4.1zM659.7 259.8h4.1v4.1h-4.1zM660.7 259.8h4.1v4.1h-4.1zM661.7 259.8h4.1v4.1h-4.1zM662.7 259.8h4.1v4.1h-4.1zM663.7 259.8h4.1v4.1h-4.1zM664.7 259.8h4.1v4.1h-4.1zM665.7 259.8h4.1v4.1h-4.1zM666.7 259.8h4.1v4.1h-4.1zM667.7 259.8h4.1v4.1h-4.1zM668.7 259.8h4.1v4.1h-4.1zM669.7 259.8h4.1v4.1h-4.1zM670.7 259.8h4.1v4.1h-4.1zM671.7 259.8h4.1v4.1h-4.1zM672.7 259.8h4.1v4.1h-4.1zM673.7 259.8h4.1v4.1h-4.1zM674.7 259.8h4.1v4.1h-4.1zM675.7 259.8h4.1v4.1h-4.1zM676.7 259.8h4.1v4.1h-4.1zM677.7 259.8h4.1v4.1h-4.1zM678.7 259.8h4.1v4.1h-4.1zM679.7 259.8h4.1v4.1h-4.1zM680.7 259.8h4.1v4.1h-4.1zM681.7 259.8h4.1v4.1h-4.1zM682.7 259.8h4.1v4.1h-4.1zM683.7 259.8h4.1v4.1h-4.1zM684.7 259.8h4.1v4.1h-4.1zM685.7 259.8h4.1v4.1h-4.1zM686.7 259.8h4.1v4.1h-4.1zM687.7 259.8h4.1v4.1h-4.1zM688.7 259.8h4.1v4.1h-4.1zM689.7 259.8h4.1v4.1h-4.1zM690.7 259.8h4.1v4.1h-4.1zM691.7 259.7h4.1v4.1h-4.1zM692.7 259.7h4.1v4.1h-4.1zM693.7 259.7h4.1v4.1h-4.1zM694.7 259.7h4.1v4.1h-4.1zM695.7 259.7h4.1v4.1h-4.1zM696.7 259.7h4.1v4.1h-4.1zM697.7 259.7h4.1v4.1h-4.1zM698.7 259.7h4.1v4.1h-4.1zM699.7 259.7h4.1v4.1h-4.1zM700.7 259.7h4.1v4.1h-4.1zM701.7 259.7h4.1v4.1h-4.1zM702.7 259.7h4.1v4.1h-4.1zM703.7 259.7h4.1v4.1h-4.1zM704.7 259.7h4.1v4.1h-4.1zM705.7 259.7h4.1v4.1h-4.1zM706.7 259.7h4.1v4.1h-4.1zM707.7 259.7h4.1v4.1h-4.1zM708.7 259.7h4.1v4.1h-4.1zM709.7 259.7h4.1v4.1h-4.1zM710.7 259.7h4.1v4.1h-4.1zM711.7 259.7h4.1v4.1h-4.1zM712.7 259.7h4.1v4.1h-4.1zM713.7 259.7h4.1v4.1h-4.1zM714.7 259.7h4.1v4.1h-4.1zM715.7 259.7h4.1v4.1h-4.1zM716.7 259.7h4.1v4.1h-4.1zM717.7 259.7h4.1v4.1h-4.1zM718.7 259.7h4.1v4.1h-4.1zM719.7 259.7h4.1v4.1h-4.1zM720.7 259.7h4.1v4.1h-4.1zM721.7 259.7h4.1v4.1h-4.1zM722.7 259.7h4.1v4.1h-4.1zM723.7 259.7h4.1v4.1h-4.1zM724.7 259.7h4.1v4.1h-4.1zM725.7 259.7h4.1v4.1h-4.1zM726.7 259.7h4.1v4.1h-4.1zM727.7 259.7h4.1v4.1h-4.1zM728.7 259.7h4.1v4.1h-4.1zM729.7 259.7h4.1v4.1h-4.1zM730.7 259.7h4.1v4.1h-4.1zM731.7 259.7h4.1v4.1h-4.1zM732.7 259.7h4.1v4.1h-4.1zM733.7 259.7h4.1v4.1h-4.1zM734.7 259.7h4.1v4.1h-4.1zM735.7 259.7h4.1v4.1h-4.1zM736.7 259.7h4.1v4.1h-4.1zM737.7 259.7h4.1v4.1h-4.1zM738.7 259.7h4.1v4.1h-4.1zM739.7 259.7h4.1v4.1h-4.1zM740.7 259.7h4.1v4.1h-4.1zM741.7 259.7h4.1v4.1h-4.1zM742.7 259.7h4.1v4.1h-4.1zM743.7 259.7h4.1v4.1h-4.1zM744.7 259.7h4.1v4.1h-4.1zM745.7 259.7h4.1v4.1h-4.1zM746.7 259.7h4.1v4.1h-4.1zM747.7 259.7h4.1v4.1h-4.1zM748.7 259.7h4.1v4.1h-4.1zM749.7 259.7h4.1v4.1h-4.1zM750.7 259.7h4.1v4.1h-4.1zM751.7 259.7h4.1v4.1h-4.1zM752.7 259.7h4.1v4.1h-4.1zM753.7 259.7h4.1v4.1h-4.1zM754.7 259.7h4.1v4.1h-4.1zM755.7 259.7h4.1v4.1h-4.1zM756.7 259.7h4.1v4.1h-4.1zM757.7 259.7h4.1v4.1h-4.1zM758.7 259.7h4.1v4.1h-4.1zM759.7 259.7h4.1v4.1h-4.1zM760.7 259.7h4.1v4.1h-4.1zM761.7 259.7h4.1v4.1h-4.1zM762.7 259.7h4.1v4.1h-4.1zM763.7 259.7h4.1v4.1h-4.1zM764.7 259.7h4.1v4.1h-4.1zM765.7 259.7h4.1v4.1h-4.1zM766.7 259.7h4.1v4.1h-4.1zM767.7 259.7h4.1v4.1h-4.1zM768.7 259.7h4.1v4.1h-4.1zM769.7 259.7h4.1v4.1h-4.1zM770.7 259.7h4.1v4.1h-4.1zM771.7 259.7h4.1v4.1h-4.1zM772.7 259.7h4.1v4.1h-4.1zM773.7 259.7h4.1v4.1h-4.1zM774.7 259.7h4.1v4.1h-4.1zM775.7 259.7h4.1v4.1h-4.1zM776.7 259.7h4.1v4.1h-4.1zM777.7 259.7h4.1v4.1h-4.1zM778.7 259.7h4.1v4.1h-4.1zM779.7 259.7h4.1v4.1h-4.1zM780.7 259.7h4.1v4.1h-4.1zM781.7 259.7h4.1v4.1h-4.1zM782.7 259.7h4.1v4.1h-4.1zM783.7 259.7h4.1v4.1h-4.1zM784.7 259.7h4.1v4.1h-4.1zM785.7 259.7h4.1v4.1h-4.1zM786.7 259.7h4.1v4.1h-4.1zM787.7 259.7h4.1v4.1h-4.1zM788.7 259.7h4.1v4.1h-4.1zM789.7 259.7h4.1v4.1h-4.1zM790.7 259.7h4.1v4.1h-4.1zM791.7 259.7h4.1v4.1h-4.1zM792.7 259.7h4.1v4.1h-4.1zM793.7 259.7h4.1v4.1h-4.1zM794.7 259.7h4.1v4.1h-4.1zM795.7 259.7h4.1v4.1h-4.1zM796.7 259.7h4.1v4.1h-4.1zM797.7 259.7h4.1v4.1h-4.1zM798.7 259.7h4.1v4.1h-4.1zM799.7 259.7h4.1v4.1h-4.1zM800.7 259.7h4.1v4.1h-4.1zM801.7 259.7h4.1v4.1h-4.1zM802.7 259.7h4.1v4.1h-4.1zM803.7 259.7h4.1v4.1h-4.1zM804.7 259.7h4.1v4.1h-4.1zM805.7 259.7h4.1v4.1h-4.1zM806.7 259.7h4.1v4.1h-4.1zM807.7 259.7h4.1v4.1h-4.1zM808.7 259.7h4.1v4.1h-4.1zM809.7 259.7h4.1v4.1h-4.1zM810.7 259.7h4.1v4.1h-4.1zM811.7 259.7h4.1v4.1h-4.1zM812.7 259.7h4.1v4.1h-4.1zM813.7 259.7h4.1v4.1h-4.1zM814.7 259.7h4.1v4.1h-4.1zM815.7 259.7h4.1v4.1h-4.1zM816.7 259.7h4.1v4.1h-4.1zM817.7 259.7h4.1v4.1h-4.1zM818.7 259.7h4.1v4.1h-4.1zM819.7 259.7h4.1v4.1h-4.1zM820.7 259.7h4.1v4.1h-4.1zM821.7 259.7h4.1v4.1h-4.1zM822.7 259.7h4.1v4.1h-4.1zM823.7 259.7h4.1v4.1h-4.1zM824.7 259.7h4.1v4.1h-4.1zM825.7 259.7h4.1v4.1h-4.1zM826.7 259.7h4.1v4.1h-4.1zM827.7 259.7h4.1v4.1h-4.1zM828.7 259.7h4.1v4.1h-4.1zM829.7 259.7h4.1v4.1h-4.1zM830.7 259.7h4.1v4.1h-4.1zM831.7 259.7h4.1v4.1h-4.1zM832.7 259.7h4.1v4.1h-4.1zM833.7 259.7h4.1v4.1h-4.1zM834.7 259.7h4.1v4.1h-4.1zM835.7 259.7h4.1v4.1h-4.1zM836.7 259.7h4.1v4.1h-4.1zM837.7 259.7h4.1v4.1h-4.1zM838.7 259.7h4.1v4.1h-4.1zM839.7 259.7h4.1v4.1h-4.1zM840.7 259.7h4.1v4.1h-4.1zM841.7 259.7h4.1v4.1h-4.1zM842.7 259.7h4.1v4.1h-4.1zM843.7 259.7h4.1v4.1h-4.1zM844.7 259.7h4.1v4.1h-4.1zM845.7 259.7h4.1v4.1h-4.1zM846.7 259.7h4.1v4.1h-4.1zM847.7 259.7h4.1v4.1h-4.1zM848.7 259.7h4.1v4.1h-4.1zM849.7 259.7h4.1v4.1h-4.1zM850.7 259.7h4.1v4.1h-4.1zM851.7 259.7h4.1v4.1h-4.1zM852.7 259.7h4.1v4.1h-4.1zM853.7 259.7h4.1v4.1h-4.1zM854.7 259.7h4.1v4.1h-4.1zM855.7 259.7h4.1v4.1h-4.1zM856.7 259.7h4.1v4.1h-4.1zM857.7 259.7h4.1v4.1h-4.1zM858.7 259.7h4.1v4.1h-4.1zM859.7 259.7h4.1v4.1h-4.1zM860.7 259.7h4.1v4.1h-4.1zM861.7 259.7h4.1v4.1h-4.1zM862.7 259.7h4.1v4.1h-4.1zM863.7 259.7h4.1v4.1h-4.1zM864.7 259.7h4.1v4.1h-4.1zM865.7 259.7h4.1v4.1h-4.1zM866.7 259.7h4.1v4.1h-4.1zM867.7 259.7h4.1v4.1h-4.1zM868.7 259.7h4.1v4.1h-4.1zM869.7 259.7h4.1v4.1h-4.1zM870.7 259.7h4.1v4.1h-4.1zM871.7 259.7h4.1v4.1h-4.1zM872.7 259.7h4.1v4.1h-4.1zM873.7 259.7h4.1v4.1h-4.1zM874.7 259.7h4.1v4.1h-4.1zM875.7 259.7h4.1v4.1h-4.1zM876.7 259.7h4.1v4.1h-4.1zM877.7 259.7h4.1v4.1h-4.1zM878.7 259.7h4.1v4.1h-4.1zM879.7 259.7h4.1v4.1h-4.1zM880.7 259.7h4.1v4.1h-4.1zM881.7 259.7h4.1v4.1h-4.1zM882.7 259.7h4.1v4.1h-4.1zM883.7 259.7h4.1v4.1h-4.1zM884.7 259.7h4.1v4.1h-4.1zM885.7 259.7h4.1v4.1h-4.1zM886.7 259.7h4.1v4.1h-4.1zM887.7 259.7h4.1v4.1h-4.1zM888.7 259.7h4.1v4.1h-4.1zM889.7 259.7h4.1v4.1h-4.1zM890.7 259.7h4.1v4.1h-4.1zM891.7 259.7h4.1v4.1h-4.1zM892.7 259.7h4.1v4.1h-4.1zM893.7 259.7h4.1v4.1h-4.1zM894.7 259.7h4.1v4.1h-4.1zM895.7 259.7h4.1v4.1h-4.1zM896.7 259.7h4.1v4.1h-4.1zM897.7 259.7h4.1v4.1h-4.1zM898.7 259.7h4.1v4.1h-4.1zM899.7 259.7h4.1v4.1h-4.1zM900.7 259.7h4.1v4.1h-4.1zM901.7 259.7h4.1v4.1h-4.1zM902.7 259.7h4.1v4.1h-4.1zM903.7 259.7h4.1v4.1h-4.1zM904.7 259.7h4.1v4.1h-4.1zM905.7 259.7h4.1v4.1h-4.1zM906.7 259.7h4.1v4.1h-4.1zM907.7 259.7h4.1v4.1h-4.1zM908.7 259.7h4.1v4.1h-4.1zM909.7 259.7h4.1v4.1h-4.1zM910.7 259.7h4.1v4.1h-4.1zM911.7 259.7h4.1v4.1h-4.1zM912.7 259.7h4.1v4.1h-4.1zM913.7 259.7h4.1v4.1h-4.1zM914.7 259.7h4.1v4.1h-4.1zM915.7 259.7h4.1v4.1h-4.1zM916.7 259.7h4.1v4.1h-4.1zM917.7 259.7h4.1v4.1h-4.1zM918.7 259.7h4.1v4.1h-4.1zM919.7 259.7h4.1v4.1h-4.1zM920.7 259.7h4.1v4.1h-4.1zM921.7 259.7h4.1v4.1h-4.1zM922.7 259.7h4.1v4.1h-4.1zM923.7 259.7h4.1v4.1h-4.1zM924.7 259.7h4.1v4.1h-4.1zM925.7 259.7h4.1v4.1h-4.1zM926.7 259.7h4.1v4.1h-4.1zM927.7 259.7h4.1v4.1h-4.1zM928.7 259.7h4.1v4.1h-4.1zM929.7 259.7h4.1v4.1h-4.1zM930.7 259.7h4.1v4.1h-4.1zM931.7 259.7h4.1v4.1h-4.1zM932.7 259.7h4.1v4.1h-4.1zM933.7 259.7h4.1v4.1h-4.1zM934.7 259.7h4.1v4.1h-4.1zM935.7 259.7h4.1v4.1h-4.1zM936.7 259.7h4.1v4.1h-4.1zM937.7 259.7h4.1v4.1h-4.1zM938.7 259.7h4.1v4.1h-4.1zM939.7 259.7h4.1v4.1h-4.1zM940.7 259.7h4.1v4.1h-4.1zM941.7 259.7h4.1v4.1h-4.1zM942.7 259.7h4.1v4.1h-4.1zM943.7 259.7h4.1v4.1h-4.1zM944.7 259.7h4.1v4.1h-4.1zM945.7 259.7h4.1v4.1h-4.1zM946.7 259.7h4.1v4.1h-4.1zM947.7 259.7h4.1v4.1h-4.1zM948.7 259.7h4.1v4.1h-4.1zM949.7 259.7h4.1v4.1h-4.1zM950.7 259.7h4.1v4.1h-4.1zM951.7 259.7h4.1v4.1h-4.1zM952.7 259.7h4.1v4.1h-4.1zM953.7 259.7h4.1v4.1h-4.1zM954.7 259.7h4.1v4.1h-4.1zM955.7 259.7h4.1v4.1h-4.1zM956.7 259.7h4.1v4.1h-4.1zM957.7 259.7h4.1v4.1h-4.1zM958.7 259.7h4.1v4.1h-4.1zM959.7 259.7h4.1v4.1h-4.1zM960.7 259.7h4.1v4.1h-4.1zM961.7 259.7h4.1v4.1h-4.1zM962.7 259.7h4.1v4.1h-4.1zM963.7 259.7h4.1v4.1h-4.1zM964.7 259.7h4.1v4.1h-4.1zM965.7 259.7h4.1v4.1h-4.1zM966.7 259.7h4.1v4.1h-4.1zM967.7 259.7h4.1v4.1h-4.1zM968.7 259.7h4.1v4.1h-4.1zM969.7 259.7h4.1v4.1h-4.1zM970.7 259.7h4.1v4.1h-4.1zM971.7 259.7h4.1v4.1h-4.1zM972.7 259.7h4.1v4.1h-4.1zM973.7 259.7h4.1v4.1h-4.1zM974.7 259.7h4.1v4.1h-4.1zM975.7 259.7h4.1v4.1h-4.1zM976.7 259.7h4.1v4.1h-4.1zM977.7 259.7h4.1v4.1h-4.1zM978.7 259.7h4.1v4.1h-4.1zM979.7 259.7h4.1v4.1h-4.1zM980.7 259.7h4.1v4.1h-4.1zM981.7 259.7h4.1v4.1h-4.1zM982.7 259.7h4.1v4.1h-4.1zM983.7 259.7h4.1v4.1h-4.1zM984.7 259.7h4.1v4.1h-4.1zM985.7 259.7h4.1v4.1h-4.1zM986.7 259.7h4.1v4.1h-4.1zM987.7 259.7h4.1v4.1h-4.1zM988.7 259.7h4.1v4.1h-4.1zM989.7 259.7h4.1v4.1h-4.1zM990.7 259.7h4.1v4.1h-4.1zM991.7 259.7h4.1v4.1h-4.1z" fill="#FF9C38" stroke="#FF9C38" stroke-width=".6"/>
<path d="M133.2 714.5l2.5 5h-5zM134.4 674.8l2.5 5h-5zM135.6 647.4l2.5 5h-5zM136.8 628.9l2.5 5h-5zM138 615.3l2.5 5h-5zM139.2 601.2l2.5 5h-5zM140.4 589.9l2.5 5h-5zM141.6 580.5l2.5 5h-5zM142.8 573.8l2.5 5h-5zM144 566.6l2.5 5h-5zM145.2 557.4l2.5 5h-5zM146.4 552.4l2.5 5h-5zM147.6 546.5l2.5 5h-5zM148.8 542l2.5 5h-5zM150 536.4l2.5 5h-5zM151.2 531.1l2.5 5h-5zM152.4 526.6l2.5 5h-5zM153.6 521.2l2.5 5h-5zM154.8 518.8l2.5 5h-5zM156 514.4l2.5 5h-5zM157.2 511.7l2.5 5h-5zM158.4 506.7l2.5 5h-5zM159.6 503.5l2.5 5h-5zM160.8 499.3l2.5 5h-5zM162 495.5l2.5 5h-5zM163.2 495.2l2.5 5h-5zM164.4 492.4l2.5 5h-5zM165.6 491.4l2.5 5h-5zM166.8 488l2.5 5h-5zM168 487.1l2.5 5h-5zM169.2 483.3l2.5 5h-5zM170.4 482.3l2.5 5h-5zM171.6 480.2l2.5 5h-5zM172.8 479.3l2.5 5h-5zM174 477.2l2.5 5h-5zM175.2 474.9l2.5 5h-5zM176.4 474l2.5 5h-5zM177.6 471.5l2.5 5h-5zM178.8 469.9l2.5 5h-5zM180 468.3l2.5 5h-5zM181.2 465.6l2.5 5h-5zM182.4 463.3l2.5 5h-5zM183.6 461.8l2.5 5h-5zM184.8 459.1l2.5 5h-5zM186 457.8l2.5 5h-5zM187.2 457.2l2.5 5h-5zM188.4 455.7l2.5 5h-5zM189.6 453l2.5 5h-5zM190.8 449.8l2.5 5h-5zM192 448.3l2.5 5h-5zM193.2 445.8l2.5 5h-5zM194.4 444.7l2.5 5h-5zM195.6 440.1l2.5 5h-5zM196.8 436l2.5 5h-5zM198 432.7l2.5 5h-5zM199.2 427.4l2.5 5h-5zM200.4 423.4l2.5 5h-5zM201.6 421.1l2.5 5h-5zM202.8 417.1l2.5 5h-5zM204 412.3l2.5 5h-5zM205.2 407.8l2.5 5h-5zM206.4 402.2l2.5 5h-5zM207.6 399.3l2.5 5h-5zM208.8 394.6l2.5 5h-5zM210 390.5l2.5 5h-5zM211.2 385.5l2.5 5h-5zM212.4 381.7l2.5 5h-5zM213.6 377.3l2.5 5h-5zM214.8 373.5l2.5 5h-5zM216 370.6l2.5 5h-5zM217.2 365.6l2.5 5h-5zM218.4 359.3l2.5 5h-5zM219.6 355.3l2.5 5h-5zM220.8 349.9l2.5 5h-5zM222 345.9l2.5 5h-5zM223.2 342.7l2.5 5h-5zM224.4 338.6l2.5 5h-5zM225.6 334.3l2.5 5h-5zM226.8 331.6l2.5 5h-5zM228 327.1l2.5 5h-5zM229.2 322.7l2.5 5h-5zM230.4 319.2l2.5 5h-5zM231.6 316.7l2.5 5h-5zM232.8 316.2l2.5 5h-5zM234 311l2.5 5h-5zM235.2 310.7l2.5 5h-5zM236.4 308.5l2.5 5h-5zM237.6 304.5l2.5 5h-5zM238.8 302.2l2.5 5h-5zM240 299.2l2.5 5h-5zM241.2 297.2l2.5 5h-5zM242.4 295.6l2.5 5h-5zM243.6 292.7l2.5 5h-5zM244.8 291.4l2.5 5h-5zM246 290.8l2.5 5h-5zM247.2 289.5l2.5 5h-5zM248.4 288.5l2.5 5h-5zM249.6 287l2.5 5h-5zM250.8 286.3l2.5 5h-5zM252 283.7l2.5 5h-5zM253.2 283.9l2.5 5h-5zM254.4 282.7l2.5 5h-5zM255.6 280.5l2.5 5h-5zM256.8 282.4l2.5 5h-5zM258 278.6l2.5 5h-5zM259.2 277.3l2.5 5h-5zM260.4 277.1l2.5 5h-5zM261.6 273.4l2.5 5h-5zM262.8 272.7l2.5 5h-5zM264 270.3l2.5 5h-5zM265.2 269.1l2.5 5h-5zM266.4 268.5l2.5 5h-5zM267.6 267.6l2.5 5h-5zM268.8 267.3l2.5 5h-5zM270 265.9l2.5 5h-5zM271.2 265.1l2.5 5h-5zM272.4 263.4l2.5 5h-5zM273.6 260.3l2.5 5h-5zM274.8 259.7l2.5 5h-5zM276 256.2l2.5 5h-5zM277.2 253.7l2.5 5h-5zM278.4 253.7l2.5 5h-5zM279.6 251.2l2.5 5h-5zM280.8 248.7l2.5 5h-5zM282 247.1l2.5 5h-5zM283.2 245.6l2.5 5h-5zM284.4 241.8l2.5 5h-5zM285.6 241.2l2.5 5h-5zM286.8 238.5l2.5 5h-5zM288 238l2.5 5h-5zM289.2 235.7l2.5 5h-5zM290.4 236.2l2.5 5h-5zM291.6 234.2l2.5 5h-5zM292.8 231.5l2.5 5h-5zM294 230.9l2.5 5h-5zM295.2 228.4l2.5 5h-5zM296.4 228.2l2.5 5h-5zM297.6 227.6l2.5 5h-5zM298.8 226.3l2.5 5h-5zM300 222.8l2.5 5h-5zM301.2 222.8l2.5 5h-5zM302.4 222.5l2.5 5h-5zM303.6 221.3l2.5 5h-5zM304.8 221.1l2.5 5h-5zM306 217.8l2.5 5h-5zM307.2 218.4l2.5 5h-5zM308.4 216.3l2.5 5h-5zM309.6 216l2.5 5h-5zM310.8 215.3l2.5 5h-5zM312 214.7l2.5 5h-5zM313.2 212.6l2.5 5h-5zM314.4 212.2l2.5 5h-5zM315.6 209.8l2.5 5h-5zM316.8 208.2l2.5 5h-5zM318 209l2.5 5h-5zM319.2 207.6l2.5 5h-5zM320.4 205.1l2.5 5h-5zM321.6 204.9l2.5 5h-5zM322.8 205.1l2.5 5h-5zM324 206.3l2.5 5h-5zM325.2 205.7l2.5 5h-5zM326.4 205.1l2.5 5h-5zM327.6 202l2.5 5h-5zM328.8 202.6l2.5 5h-5zM330 202.6l2.5 5h-5zM331.2 202.1l2.5 5h-5zM332.4 201.6l2.5 5h-5zM333.6 200.5l2.5 5h-5zM334.8 201.9l2.5 5h-5zM336 201.8l2.5 5h-5zM337.2 200.2l2.5 5h-5zM338.4 198.9l2.5 5h-5zM339.6 201.6l2.5 5h-5zM340.8 199.1l2.5 5h-5zM342 200.5l2.5 5h-5zM343.2 201.3l2.5 5h-5zM344.4 198.5l2.5 5h-5zM345.6 199.1l2.5 5h-5zM346.8 198.2l2.5 5h-5zM348 198.7l2.5 5h-5zM349.2 198.4l2.5 5h-5zM350.4 199.9l2.5 5h-5zM351.6 198.5l2.5 5h-5zM352.8 197.5l2.5 5h-5zM354 198.2l2.5 5h-5zM355.2 196.5l2.5 5h-5zM356.4 195.8l2.5 5h-5zM357.6 198l2.5 5h-5zM358.8 194.9l2.5 5h-5zM360 194.5l2.5 5h-5zM361.2 194.5l2.5 5h-5zM362.4 192.9l2.5 5h-5zM363.6 191.1l2.5 5h-5zM364.8 193.5l2.5 5h-5zM366 191.8l2.5 5h-5zM367.2 191.8l2.5 5h-5zM368.4 191.8l2.5 5h-5zM369.6 191l2.5 5h-5zM370.8 190.6l2.5 5h-5zM372 191.7l2.5 5h-5zM373.2 194.1l2.5 5h-5zM374.4 193l2.5 5h-5zM375.6 193.1l2.5 5h-5zM376.8 190.8l2.5 5h-5zM378 191.8l2.5 5h-5zM379.2 190.5l2.5 5h-5zM380.4 192.2l2.5 5h-5zM381.6 191.3l2.5 5h-5zM382.8 191.5l2.5 5h-5zM384 191.3l2.5 5h-5zM385.2 190.6l2.5 5h-5zM386.4 189.1l2.5 5h-5zM387.6 189.9l2.5 5h-5zM388.8 187l2.5 5h-5zM390 185.8l2.5 5h-5zM391.2 185.4l2.5 5h-5zM392.4 184l2.5 5h-5zM393.6 183.9l2.5 5h-5zM394.8 183.8l2.5 5h-5zM396 182.3l2.5 5h-5zM397.2 183.3l2.5 5h-5zM398.4 184.1l2.5 5h-5zM399.6 186l2.5 5h-5zM400.8 184.3l2.5 5h-5zM402 186.3l2.5 5h-5zM403.2 185.1l2.5 5h-5zM404.4 184.6l2.5 5h-5zM405.6 185.6l2.5 5h-5zM406.8 185.3l2.5 5h-5zM408 186.3l2.5 5h-5zM409.2 187.1l2.5 5h-5zM410.4 183.8l2.5 5h-5zM411.6 185.6l2.5 5h-5zM412.8 187.9l2.5 5h-5zM414 187.3l2.5 5h-5zM415.2 188.1l2.5 5h-5zM416.4 187l2.5 5h-5zM417.6 185l2.5 5h-5zM418.8 184.5l2.5 5h-5zM420 185.9l2.5 5h-5zM421.2 186.1l2.5 5h-5zM422.4 184.2l2.5 5h-5zM423.6 184.2l2.5 5h-5zM424.8 184.4l2.5 5h-5zM426 182l2.5 5h-5zM427.2 182.7l2.5 5h-5zM428.4 184.5l2.5 5h-5zM429.6 185.3l2.5 5h-5zM430.8 183.1l2.5 5h-5zM432 184.8l2.5 5h-5zM433.2 182.4l2.5 5h-5zM434.4 181.5l2.5 5h-5zM435.6 179.4l2.5 5h-5zM436.8 181.8l2.5 5h-5zM438 180.4l2.5 5h-5zM439.2 182.9l2.5 5h-5zM440.4 181.1l2.5 5h-5zM441.6 180.7l2.5 5h-5zM442.8 178.2l2.5 5h-5zM444 180.9l2.5 5h-5zM445.2 179l2.5 5h-5zM446.4 178.8l2.5 5h-5zM447.6 176.2l2.5 5h-5zM448.8 178.6l2.5 5h-5zM450 178.7l2.5 5h-5zM451.2 177l2.5 5h-5zM452.4 177.3l2.5 5h-5zM453.6 177.3l2.5 5h-5zM454.8 177.8l2.5 5h-5zM456 176.8l2.5 5h-5zM457.2 178.2l2.5 5h-5zM458.4 176.2l2.5 5h-5zM459.6 175.3l2.5 5h-5zM460.8 174.9l2.5 5h-5zM462 172.2l2.5 5h-5zM463.2 173l2.5 5h-5zM464.4 174.5l2.5 5h-5zM465.6 173.7l2.5 5h-5zM466.8 172.4l2.5 5h-5zM468 173.1l2.5 5h-5zM469.2 170.4l2.5 5h-5zM470.4 171.5l2.5 5h-5zM471.6 172l2.5 5h-5zM472.8 172l2.5 5h-5zM474 170.3l2.5 5h-5zM475.2 171.5l2.5 5h-5zM476.4 172.5l2.5 5h-5zM477.6 170.1l2.5 5h-5zM478.8 170.8l2.5 5h-5zM480 168.1l2.5 5h-5zM481.2 166.8l2.5 5h-5zM482.4 168.6l2.5 5h-5zM483.6 167.9l2.5 5h-5zM484.8 167.7l2.5 5h-5zM486 166.5l2.5 5h-5zM487.2 166.3l2.5 5h-5zM488.4 167.1l2.5 5h-5zM489.6 167.9l2.5 5h-5zM490.8 165.9l2.5 5h-5zM492 163.9l2.5 5h-5zM493.2 166.1l2.5 5h-5zM494.4 165.4l2.5 5h-5zM495.6 165.2l2.5 5h-5zM496.8 164.4l2.5 5h-5zM498 166.3l2.5 5h-5zM499.2 164l2.5 5h-5zM500.4 164l2.5 5h-5zM501.6 161.1l2.5 5h-5zM502.8 161.5l2.5 5h-5zM504 160.8l2.5 5h-5zM505.2 161l2.5 5h-5zM506.4 161.1l2.5 5h-5zM507.6 159.7l2.5 5h-5zM508.8 161.8l2.5 5h-5zM510 159l2.5 5h-5zM511.2 159l2.5 5h-5zM512.4 159.3l2.5 5h-5zM513.6 157.5l2.5 5h-5zM514.8 158.8l2.5 5h-5zM516 158.7l2.5 5h-5zM517.2 157.6l2.5 5h-5zM518.4 159.5l2.5 5h-5zM519.6 157.8l2.5 5h-5zM520.8 157.6l2.5 5h-5zM522 156.1l2.5 5h-5zM523.2 154.7l2.5 5h-5zM524.4 155.1l2.5 5h-5zM525.6 155.1l2.5 5h-5zM526.8 154.7l2.5 5h-5zM528 155.7l2.5 5h-5zM529.2 152.4l2.5 5h-5zM530.4 152.9l2.5 5h-5zM531.6 151.8l2.5 5h-5zM532.8 154.6l2.5 5h-5zM534 152.8l2.5 5h-5zM535.2 152.6l2.5 5h-5zM536.4 151.8l2.5 5h-5zM537.6 153.5l2.5 5h-5zM538.8 152.2l2.5 5h-5zM540 152.7l2.5 5h-5zM541.2 150.2l2.5 5h-5zM542.4 152.9l2.5 5h-5zM543.6 152.3l2.5 5h-5zM544.8 152.7l2.5 5h-5zM546 153.7l2.5 5h-5zM547.2 152.6l2.5 5h-5zM548.4 152.6l2.5 5h-5zM549.6 153.5l2.5 5h-5zM550.8 153.5l2.5 5h-5zM552 152.9l2.5 5h-5zM553.2 153.2l2.5 5h-5zM554.4 152.6l2.5 5h-5zM555.6 153.8l2.5 5h-5zM556.8 154.3l2.5 5h-5zM558 153.6l2.5 5h-5zM559.2 155.6l2.5 5h-5zM560.4 152.5l2.5 5h-5zM561.6 153.5l2.5 5h-5zM562.8 155.7l2.5 5h-5zM564 154.1l2.5 5h-5zM565.2 152.9l2.5 5h-5zM566.4 155.8l2.5 5h-5zM567.6 155.6l2.5 5h-5zM568.8 154.1l2.5 5h-5zM570 156l2.5 5h-5zM571.2 154.5l2.5 5h-5zM572.4 154.1l2.5 5h-5zM573.6 155.3l2.5 5h-5zM574.8 155.2l2.5 5h-5zM576 154.7l2.5 5h-5zM577.2 155l2.5 5h-5zM578.4 154l2.5 5h-5zM579.6 154.6l2.5 5h-5zM580.8 154.3l2.5 5h-5zM582 154.9l2.5 5h-5zM583.2 153.6l2.5 5h-5zM584.4 152.3l2.5 5h-5zM585.6 151.7l2.5 5h-5zM586.8 152.3l2.5 5h-5zM588 153.9l2.5 5h-5zM589.2 153.4l2.5 5h-5zM590.4 151.8l2.5 5h-5zM591.6 153l2.5 5h-5zM592.8 150.7l2.5 5h-5zM594 152.4l2.5 5h-5zM595.2 150.9l2.5 5h-5zM596.4 151.7l2.5 5h-5zM597.6 151.4l2.5 5h-5zM598.8 150.3l2.5 5h-5zM600 150.5l2.5 5h-5zM601.2 148.8l2.5 5h-5zM602.4 149.2l2.5 5h-5zM603.6 150.1l2.5 5h-5zM604.8 153.3l2.5 5h-5zM606 150.4l2.5 5h-5zM607.2 149.6l2.5 5h-5zM608.4 148.2l2.5 5h-5zM609.6 149.8l2.5 5h-5zM610.8 147l2.5 5h-5zM612 147.2l2.5 5h-5zM613.2 148.1l2.5 5h-5zM614.4 146.4l2.5 5h-5zM615.6 148.8l2.5 5h-5zM616.8 148.7l2.5 5h-5zM618 147l2.5 5h-5zM619.2 146.7l2.5 5h-5zM620.4 145.6l2.5 5h-5zM621.6 145l2.5 5h-5zM622.8 146.4l2.5 5h-5zM624 146.5l2.5 5h-5zM625.2 146.2l2.5 5h-5zM626.4 146l2.5 5h-5zM627.6 145l2.5 5h-5zM628.8 145.6l2.5 5h-5zM630 143.5l2.5 5h-5zM631.2 144.4l2.5 5h-5zM632.4 145.8l2.5 5h-5zM633.6 145.9l2.5 5h-5zM634.8 144.1l2.5 5h-5zM636 143.8l2.5 5h-5zM637.2 145.2l2.5 5h-5zM638.4 145.8l2.5 5h-5zM639.6 142.4l2.5 5h-5zM640.8 142.8l2.5 5h-5zM642 143.1l2.5 5h-5zM643.2 143.8l2.5 5h-5zM644.4 141.6l2.5 5h-5zM645.6 142.6l2.5 5h-5zM646.8 141.5l2.5 5h-5zM648 143.9l2.5 5h-5zM649.2 142.1l2.5 5h-5zM650.4 141.2l2.5 5h-5zM651.6 140.5l2.5 5h-5zM652.8 141.5l2.5 5h-5zM654 141l2.5 5h-5zM655.2 139l2.5 5h-5zM656.4 139.8l2.5 5h-5zM657.6 138.1l2.5 5h-5zM658.8 138.2l2.5 5h-5zM660 137.3l2.5 5h-5zM661.2 136.9l2.5 5h-5zM662.4 137.2l2.5 5h-5zM663.6 136.7l2.5 5h-5zM664.8 138.1l2.5 5h-5zM666 138.6l2.5 5h-5zM667.2 137.7l2.5 5h-5zM668.4 136.7l2.5 5h-5zM669.6 138.4l2.5 5h-5zM670.8 135.6l2.5 5h-5zM672 135.1l2.5 5h-5zM673.2 137.5l2.5 5h-5zM674.4 137.7l2.5 5h-5zM675.6 138.2l2.5 5h-5zM676.8 137.2l2.5 5h-5zM678 136l2.5 5h-5zM679.2 136.4l2.5 5h-5zM680.4 137.4l2.5 5h-5zM681.6 136.3l2.5 5h-5zM682.8 136.3l2.5 5h-5zM684 135.5l2.5 5h-5zM685.2 135.6l2.5 5h-5zM686.4 137.6l2.5 5h-5zM687.6 137.7l2.5 5h-5zM688.8 136.3l2.5 5h-5zM690 136.2l2.5 5h-5zM691.2 136.6l2.5 5h-5zM692.4 137.9l2.5 5h-5zM693.6 136.4l2.5 5h-5zM694.8 137.3l2.5 5h-5zM696 135.5l2.5 5h-5zM697.2 136.2l2.5 5h-5zM698.4 138.1l2.5 5h-5zM699.6 139.2l2.5 5h-5zM700.8 137.6l2.5 5h-5zM702 138.1l2.5 5h-5zM703.2 139.9l2.5 5h-5zM704.4 139.2l2.5 5h-5zM705.6 139.3l2.5 5h-5zM706.8 140.6l2.5 5h-5zM708 140.8l2.5 5h-5zM709.2 142.1l2.5 5h-5zM710.4 142.3l2.5 5h-5zM711.6 141.3l2.5 5h-5zM712.8 141.7l2.5 5h-5zM714 142l2.5 5h-5zM715.2 140.7l2.5 5h-5zM716.4 141l2.5 5h-5zM717.6 143.1l2.5 5h-5zM718.8 140.9l2.5 5h-5zM720 143.4l2.5 5h-5zM721.2 143.2l2.5 5h-5zM722.4 143.1l2.5 5h-5zM723.6 145.2l2.5 5h-5zM724.8 146.9l2.5 5h-5zM726 149.4l2.5 5h-5zM727.2 149.5l2.5 5h-5zM728.4 150.9l2.5 5h-5zM729.6 152.2l2.5 5h-5zM739.2 146.8l2.5 5h-5zM740.4 142.4l2.5 5h-5zM741.6 144.3l2.5 5h-5zM742.8 143.3l2.5 5h-5zM744 141.5l2.5 5h-5zM745.2 141.3l2.5 5h-5zM746.4 140.7l2.5 5h-5zM747.6 140.9l2.5 5h-5zM748.8 141.7l2.5 5h-5zM750 139l2.5 5h-5zM751.2 141.3l2.5 5h-5zM752.4 139.7l2.5 5h-5zM753.6 141.3l2.5 5h-5zM754.8 140.3l2.5 5h-5zM756 141l2.5 5h-5zM757.2 140.3l2.5 5h-5zM758.4 140.7l2.5 5h-5zM759.6 139.5l2.5 5h-5zM760.8 138.5l2.5 5h-5zM762 140.1l2.5 5h-5zM763.2 140.5l2.5 5h-5zM764.4 142.4l2.5 5h-5zM765.6 138.7l2.5 5h-5zM766.8 140.2l2.5 5h-5zM768 141.7l2.5 5h-5zM769.2 139.8l2.5 5h-5zM770.4 140.7l2.5 5h-5zM771.6 143.4l2.5 5h-5zM772.8 143.5l2.5 5h-5zM774 141.6l2.5 5h-5zM775.2 144l2.5 5h-5zM776.4 144.4l2.5 5h-5zM777.6 144.4l2.5 5h-5zM778.8 144.3l2.5 5h-5zM780 144.4l2.5 5h-5zM781.2 143.5l2.5 5h-5zM782.4 143.8l2.5 5h-5zM783.6 145.2l2.5 5h-5zM784.8 145l2.5 5h-5zM786 146.9l2.5 5h-5zM787.2 145.1l2.5 5h-5zM788.4 142.7l2.5 5h-5zM789.6 144.3l2.5 5h-5zM790.8 144.9l2.5 5h-5zM792 145.2l2.5 5h-5zM793.2 145.1l2.5 5h-5zM794.4 144.2l2.5 5h-5zM795.6 146.5l2.5 5h-5zM796.8 144.7l2.5 5h-5zM798 146.1l2.5 5h-5zM799.2 145.3l2.5 5h-5zM800.4 144.4l2.5 5h-5zM801.6 147.2l2.5 5h-5zM802.8 143.8l2.5 5h-5zM804 145.2l2.5 5h-5zM805.2 146.8l2.5 5h-5zM806.4 146.5l2.5 5h-5zM807.6 148l2.5 5h-5zM808.8 147.8l2.5 5h-5zM810 147.7l2.5 5h-5zM811.2 150.8l2.5 5h-5zM812.4 149.2l2.5 5h-5zM813.6 149.6l2.5 5h-5zM814.8 148.9l2.5 5h-5zM816 150.7l2.5 5h-5zM817.2 154l2.5 5h-5zM818.4 156.2l2.5 5h-5zM819.6 157.8l2.5 5h-5zM820.8 158.1l2.5 5h-5zM822 159.8l2.5 5h-5zM823.2 158l2.5 5h-5zM824.4 159.4l2.5 5h-5zM825.6 160l2.5 5h-5zM826.8 159.8l2.5 5h-5zM828 161.6l2.5 5h-5zM731 158l2.5 5h-5zM732.5 171.5l2.5 5h-5zM734 197l2.5 5h-5zM735 222l2.5 5h-5zM736 240.5l2.5 5h-5zM737 245l2.5 5h-5zM738 249.5l2.5 5h-5zM785.5 150.5l2.5 5h-5zM829 176.3l2.5 5h-5z" fill="none" stroke="#0E960E" stroke-width="1.9" stroke-linejoin="round"/>
<path d="M132.8 796.2l2.6 5.2h-5.2zM133.9 753.1l2.6 5.2h-5.2zM135.1 738l2.6 5.2h-5.2zM136.3 725.7l2.6 5.2h-5.2zM137.5 713.7l2.6 5.2h-5.2zM138.7 701.1l2.6 5.2h-5.2zM139.9 694.1l2.6 5.2h-5.2zM141.1 688.4l2.6 5.2h-5.2zM142.3 683.5l2.6 5.2h-5.2zM143.5 678.6l2.6 5.2h-5.2zM144.7 673.5l2.6 5.2h-5.2zM145.9 668l2.6 5.2h-5.2zM147.1 661l2.6 5.2h-5.2zM148.3 651.6l2.6 5.2h-5.2zM149.5 645.1l2.6 5.2h-5.2zM150.7 640.1l2.6 5.2h-5.2zM151.9 635.9l2.6 5.2h-5.2zM153.1 632.5l2.6 5.2h-5.2zM154.3 629.4l2.6 5.2h-5.2zM155.5 626.4l2.6 5.2h-5.2zM156.7 623.1l2.6 5.2h-5.2zM157.9 619.4l2.6 5.2h-5.2zM159.1 615.3l2.6 5.2h-5.2zM160.3 611l2.6 5.2h-5.2zM161.5 606.9l2.6 5.2h-5.2zM162.7 603l2.6 5.2h-5.2zM163.9 599.1l2.6 5.2h-5.2zM165.1 595.3l2.6 5.2h-5.2zM166.3 591.6l2.6 5.2h-5.2zM167.5 588l2.6 5.2h-5.2zM168.7 584.4l2.6 5.2h-5.2zM169.9 581l2.6 5.2h-5.2zM171.1 577.6l2.6 5.2h-5.2zM172.3 574.1l2.6 5.2h-5.2zM173.5 570.6l2.6 5.2h-5.2zM174.7 567.1l2.6 5.2h-5.2zM175.9 563.6l2.6 5.2h-5.2zM177.1 560.3l2.6 5.2h-5.2zM178.3 557.2l2.6 5.2h-5.2zM179.5 554.1l2.6 5.2h-5.2zM180.7 551.2l2.6 5.2h-5.2zM181.9 548.3l2.6 5.2h-5.2zM183.1 545.5l2.6 5.2h-5.2zM184.3 542.6l2.6 5.2h-5.2zM185.5 539.8l2.6 5.2h-5.2zM186.7 537.1l2.6 5.2h-5.2zM187.9 534.4l2.6 5.2h-5.2zM189.1 531.7l2.6 5.2h-5.2zM190.3 529l2.6 5.2h-5.2zM191.5 526.3l2.6 5.2h-5.2zM192.7 523.6l2.6 5.2h-5.2zM193.9 521l2.6 5.2h-5.2zM195.1 518.4l2.6 5.2h-5.2zM196.3 515.7l2.6 5.2h-5.2zM197.5 513.1l2.6 5.2h-5.2zM198.7 510.4l2.6 5.2h-5.2zM199.9 507.8l2.6 5.2h-5.2zM201.1 505l2.6 5.2h-5.2zM202.3 502.2l2.6 5.2h-5.2zM203.5 499.2l2.6 5.2h-5.2zM204.7 496.3l2.6 5.2h-5.2zM205.9 493.3l2.6 5.2h-5.2zM207.1 490.3l2.6 5.2h-5.2zM208.3 487.2l2.6 5.2h-5.2zM209.5 484.1l2.6 5.2h-5.2zM210.7 481.1l2.6 5.2h-5.2zM211.9 478.1l2.6 5.2h-5.2zM213.1 475.3l2.6 5.2h-5.2zM214.3 472.4l2.6 5.2h-5.2zM215.5 469.7l2.6 5.2h-5.2zM216.7 467l2.6 5.2h-5.2zM217.9 464.4l2.6 5.2h-5.2zM219.1 461.9l2.6 5.2h-5.2zM220.3 459.5l2.6 5.2h-5.2zM221.5 457.1l2.6 5.2h-5.2zM222.7 454.8l2.6 5.2h-5.2zM223.9 452.6l2.6 5.2h-5.2zM225.1 450.5l2.6 5.2h-5.2zM226.3 448.4l2.6 5.2h-5.2zM227.5 446.4l2.6 5.2h-5.2zM228.7 444.5l2.6 5.2h-5.2zM229.9 442.6l2.6 5.2h-5.2zM231.1 440.8l2.6 5.2h-5.2zM232.3 439l2.6 5.2h-5.2zM233.5 437.3l2.6 5.2h-5.2zM234.7 435.6l2.6 5.2h-5.2zM235.9 433.9l2.6 5.2h-5.2zM237.1 432.3l2.6 5.2h-5.2zM238.3 430.7l2.6 5.2h-5.2zM239.5 429.2l2.6 5.2h-5.2zM240.7 427.7l2.6 5.2h-5.2zM241.9 426.2l2.6 5.2h-5.2zM243.1 424.7l2.6 5.2h-5.2zM244.3 423.2l2.6 5.2h-5.2zM245.5 421.8l2.6 5.2h-5.2zM246.7 420.4l2.6 5.2h-5.2zM247.9 419l2.6 5.2h-5.2zM249.1 417.7l2.6 5.2h-5.2zM250.3 416.4l2.6 5.2h-5.2zM251.5 415.1l2.6 5.2h-5.2zM252.7 413.8l2.6 5.2h-5.2zM253.9 412.6l2.6 5.2h-5.2zM255.1 411.4l2.6 5.2h-5.2zM256.3 410.3l2.6 5.2h-5.2zM257.5 409.1l2.6 5.2h-5.2zM258.7 408l2.6 5.2h-5.2zM259.9 406.9l2.6 5.2h-5.2zM261.1 405.8l2.6 5.2h-5.2zM262.3 404.7l2.6 5.2h-5.2zM263.5 403.7l2.6 5.2h-5.2zM264.7 402.6l2.6 5.2h-5.2zM265.9 401.6l2.6 5.2h-5.2zM267.1 400.6l2.6 5.2h-5.2zM268.3 399.6l2.6 5.2h-5.2zM269.5 398.6l2.6 5.2h-5.2zM270.7 397.6l2.6 5.2h-5.2zM271.9 396.7l2.6 5.2h-5.2zM273.1 395.8l2.6 5.2h-5.2zM274.3 394.8l2.6 5.2h-5.2zM275.5 393.9l2.6 5.2h-5.2zM276.7 393l2.6 5.2h-5.2zM277.9 392.2l2.6 5.2h-5.2zM279.1 391.3l2.6 5.2h-5.2zM280.3 390.4l2.6 5.2h-5.2zM281.5 389.6l2.6 5.2h-5.2zM282.7 388.7l2.6 5.2h-5.2zM283.9 387.9l2.6 5.2h-5.2zM285.1 387l2.6 5.2h-5.2zM286.3 386.1l2.6 5.2h-5.2zM287.5 385.3l2.6 5.2h-5.2zM288.7 384.4l2.6 5.2h-5.2zM289.9 383.5l2.6 5.2h-5.2zM291.1 382.6l2.6 5.2h-5.2zM292.3 381.7l2.6 5.2h-5.2zM293.5 380.8l2.6 5.2h-5.2zM294.7 379.9l2.6 5.2h-5.2zM295.9 378.9l2.6 5.2h-5.2zM297.1 378l2.6 5.2h-5.2zM298.3 377.1l2.6 5.2h-5.2zM299.5 376.2l2.6 5.2h-5.2zM300.7 375.3l2.6 5.2h-5.2zM301.9 374.4l2.6 5.2h-5.2zM303.1 373.4l2.6 5.2h-5.2zM304.3 372.5l2.6 5.2h-5.2zM305.5 371.5l2.6 5.2h-5.2zM306.7 370.6l2.6 5.2h-5.2zM307.9 369.7l2.6 5.2h-5.2zM309.1 368.7l2.6 5.2h-5.2zM310.3 367.8l2.6 5.2h-5.2zM311.5 366.9l2.6 5.2h-5.2zM312.7 366.1l2.6 5.2h-5.2zM313.9 365.3l2.6 5.2h-5.2zM315.1 364.5l2.6 5.2h-5.2zM316.3 363.7l2.6 5.2h-5.2zM317.5 362.9l2.6 5.2h-5.2zM318.7 362.2l2.6 5.2h-5.2zM319.9 361.4l2.6 5.2h-5.2zM321.1 360.7l2.6 5.2h-5.2zM322.3 360l2.6 5.2h-5.2zM323.5 359.3l2.6 5.2h-5.2zM324.7 358.6l2.6 5.2h-5.2zM325.9 357.9l2.6 5.2h-5.2zM327.1 357.2l2.6 5.2h-5.2zM328.3 356.6l2.6 5.2h-5.2zM329.5 355.9l2.6 5.2h-5.2zM330.7 355.3l2.6 5.2h-5.2zM331.9 354.6l2.6 5.2h-5.2zM333.1 354l2.6 5.2h-5.2zM334.3 353.4l2.6 5.2h-5.2zM335.5 352.8l2.6 5.2h-5.2zM336.7 352.2l2.6 5.2h-5.2zM337.9 351.6l2.6 5.2h-5.2zM339.1 351l2.6 5.2h-5.2zM340.3 350.4l2.6 5.2h-5.2zM341.5 349.8l2.6 5.2h-5.2zM342.7 349.3l2.6 5.2h-5.2zM343.9 348.7l2.6 5.2h-5.2zM345.1 348.1l2.6 5.2h-5.2zM346.3 347.6l2.6 5.2h-5.2zM347.5 347l2.6 5.2h-5.2zM348.7 346.4l2.6 5.2h-5.2zM349.9 345.9l2.6 5.2h-5.2zM351.1 345.3l2.6 5.2h-5.2zM352.3 344.8l2.6 5.2h-5.2zM353.5 344.2l2.6 5.2h-5.2zM354.7 343.7l2.6 5.2h-5.2zM355.9 343.2l2.6 5.2h-5.2zM357.1 342.6l2.6 5.2h-5.2zM358.3 342.1l2.6 5.2h-5.2zM359.5 341.6l2.6 5.2h-5.2zM360.7 341.1l2.6 5.2h-5.2zM361.9 340.6l2.6 5.2h-5.2zM363.1 340.1l2.6 5.2h-5.2zM364.3 339.6l2.6 5.2h-5.2zM365.5 339.1l2.6 5.2h-5.2zM366.7 338.7l2.6 5.2h-5.2zM367.9 338.2l2.6 5.2h-5.2zM369.1 337.7l2.6 5.2h-5.2zM370.3 337.3l2.6 5.2h-5.2zM371.5 336.8l2.6 5.2h-5.2zM372.7 336.3l2.6 5.2h-5.2zM373.9 335.8l2.6 5.2h-5.2zM375.1 335.4l2.6 5.2h-5.2zM376.3 334.9l2.6 5.2h-5.2zM377.5 334.4l2.6 5.2h-5.2zM378.7 333.8l2.6 5.2h-5.2zM379.9 333.3l2.6 5.2h-5.2zM381.1 332.8l2.6 5.2h-5.2zM382.3 332.3l2.6 5.2h-5.2zM383.5 331.7l2.6 5.2h-5.2zM384.7 331.2l2.6 5.2h-5.2zM385.9 330.6l2.6 5.2h-5.2zM387.1 330.1l2.6 5.2h-5.2zM388.3 329.6l2.6 5.2h-5.2zM389.5 329l2.6 5.2h-5.2zM390.7 328.5l2.6 5.2h-5.2zM391.9 328l2.6 5.2h-5.2zM393.1 327.4l2.6 5.2h-5.2zM394.3 326.9l2.6 5.2h-5.2zM395.5 326.4l2.6 5.2h-5.2zM396.7 325.9l2.6 5.2h-5.2zM397.9 325.4l2.6 5.2h-5.2zM399.1 325l2.6 5.2h-5.2zM400.3 324.5l2.6 5.2h-5.2zM401.5 324l2.6 5.2h-5.2zM402.7 323.5l2.6 5.2h-5.2zM403.9 323.1l2.6 5.2h-5.2zM405.1 322.6l2.6 5.2h-5.2zM406.3 322.1l2.6 5.2h-5.2zM407.5 321.7l2.6 5.2h-5.2zM408.7 321.2l2.6 5.2h-5.2zM409.9 320.7l2.6 5.2h-5.2zM411.1 320.2l2.6 5.2h-5.2zM412.3 319.8l2.6 5.2h-5.2zM413.5 319.3l2.6 5.2h-5.2zM414.7 318.8l2.6 5.2h-5.2zM415.9 318.3l2.6 5.2h-5.2zM417.1 317.8l2.6 5.2h-5.2zM418.3 317.3l2.6 5.2h-5.2zM419.5 316.8l2.6 5.2h-5.2zM420.7 316.3l2.6 5.2h-5.2zM421.9 315.8l2.6 5.2h-5.2zM423.1 315.3l2.6 5.2h-5.2zM424.3 314.7l2.6 5.2h-5.2zM425.5 314.2l2.6 5.2h-5.2zM426.7 313.7l2.6 5.2h-5.2zM427.9 313.2l2.6 5.2h-5.2zM429.1 312.7l2.6 5.2h-5.2zM430.3 312.1l2.6 5.2h-5.2zM431.5 311.6l2.6 5.2h-5.2zM432.7 311.1l2.6 5.2h-5.2zM433.9 310.6l2.6 5.2h-5.2zM435.1 310l2.6 5.2h-5.2zM436.3 309.5l2.6 5.2h-5.2zM437.5 308.9l2.6 5.2h-5.2zM438.7 308.4l2.6 5.2h-5.2zM439.9 307.8l2.6 5.2h-5.2zM441.1 307.2l2.6 5.2h-5.2zM442.3 306.7l2.6 5.2h-5.2zM443.5 306.1l2.6 5.2h-5.2zM444.7 305.5l2.6 5.2h-5.2zM445.9 304.9l2.6 5.2h-5.2zM447.1 304.3l2.6 5.2h-5.2zM448.3 303.6l2.6 5.2h-5.2zM449.5 303l2.6 5.2h-5.2zM450.7 302.4l2.6 5.2h-5.2zM451.9 301.8l2.6 5.2h-5.2zM453.1 301.1l2.6 5.2h-5.2zM454.3 300.5l2.6 5.2h-5.2zM455.5 299.9l2.6 5.2h-5.2zM456.7 299.3l2.6 5.2h-5.2zM457.9 298.7l2.6 5.2h-5.2zM459.1 298.1l2.6 5.2h-5.2zM460.3 297.5l2.6 5.2h-5.2zM461.5 296.9l2.6 5.2h-5.2zM462.7 296.4l2.6 5.2h-5.2zM463.9 295.8l2.6 5.2h-5.2zM465.1 295.3l2.6 5.2h-5.2zM466.3 294.7l2.6 5.2h-5.2zM467.5 294.2l2.6 5.2h-5.2zM468.7 293.6l2.6 5.2h-5.2zM469.9 293l2.6 5.2h-5.2zM471.1 292.5l2.6 5.2h-5.2zM472.3 291.9l2.6 5.2h-5.2zM473.5 291.3l2.6 5.2h-5.2zM474.7 290.7l2.6 5.2h-5.2zM475.9 290.1l2.6 5.2h-5.2zM477.1 289.4l2.6 5.2h-5.2zM478.3 288.8l2.6 5.2h-5.2zM479.5 288.1l2.6 5.2h-5.2zM480.7 287.4l2.6 5.2h-5.2zM481.9 286.8l2.6 5.2h-5.2zM483.1 286.1l2.6 5.2h-5.2zM484.3 285.4l2.6 5.2h-5.2zM485.5 284.8l2.6 5.2h-5.2zM486.7 284.1l2.6 5.2h-5.2zM487.9 283.5l2.6 5.2h-5.2zM489.1 282.9l2.6 5.2h-5.2zM490.3 282.3l2.6 5.2h-5.2zM491.5 281.8l2.6 5.2h-5.2zM492.7 281.2l2.6 5.2h-5.2zM493.9 280.6l2.6 5.2h-5.2zM495.1 280l2.6 5.2h-5.2zM496.3 279.5l2.6 5.2h-5.2zM497.5 278.9l2.6 5.2h-5.2zM498.7 278.4l2.6 5.2h-5.2zM499.9 277.9l2.6 5.2h-5.2zM501.1 277.3l2.6 5.2h-5.2zM502.3 276.8l2.6 5.2h-5.2zM503.5 276.4l2.6 5.2h-5.2zM504.7 275.9l2.6 5.2h-5.2zM505.9 275.4l2.6 5.2h-5.2zM507.1 275l2.6 5.2h-5.2zM508.3 274.6l2.6 5.2h-5.2zM509.5 274.2l2.6 5.2h-5.2zM510.7 273.7l2.6 5.2h-5.2zM511.9 273.3l2.6 5.2h-5.2zM513.1 273l2.6 5.2h-5.2zM514.3 272.6l2.6 5.2h-5.2zM515.5 272.2l2.6 5.2h-5.2zM516.7 271.8l2.6 5.2h-5.2zM517.9 271.5l2.6 5.2h-5.2zM519.1 271.1l2.6 5.2h-5.2zM520.3 270.8l2.6 5.2h-5.2zM521.5 270.4l2.6 5.2h-5.2zM522.7 270.1l2.6 5.2h-5.2zM523.9 269.8l2.6 5.2h-5.2zM525.1 269.4l2.6 5.2h-5.2zM526.3 269.1l2.6 5.2h-5.2zM527.5 268.8l2.6 5.2h-5.2zM528.7 268.5l2.6 5.2h-5.2zM529.9 268.2l2.6 5.2h-5.2zM531.1 267.9l2.6 5.2h-5.2zM532.3 267.6l2.6 5.2h-5.2zM533.5 267.4l2.6 5.2h-5.2zM534.7 267.1l2.6 5.2h-5.2zM535.9 266.9l2.6 5.2h-5.2zM537.1 266.6l2.6 5.2h-5.2zM538.3 266.4l2.6 5.2h-5.2zM539.5 266.2l2.6 5.2h-5.2zM540.7 266l2.6 5.2h-5.2zM541.9 265.8l2.6 5.2h-5.2zM543.1 265.6l2.6 5.2h-5.2zM544.3 265.4l2.6 5.2h-5.2zM545.5 265.2l2.6 5.2h-5.2zM546.7 265l2.6 5.2h-5.2zM547.9 264.9l2.6 5.2h-5.2zM549.1 264.7l2.6 5.2h-5.2zM550.3 264.5l2.6 5.2h-5.2zM551.5 264.4l2.6 5.2h-5.2zM552.7 264.2l2.6 5.2h-5.2zM553.9 264l2.6 5.2h-5.2zM555.1 263.9l2.6 5.2h-5.2zM556.3 263.7l2.6 5.2h-5.2zM557.5 263.6l2.6 5.2h-5.2zM558.7 263.4l2.6 5.2h-5.2zM559.9 263.3l2.6 5.2h-5.2zM561.1 263.1l2.6 5.2h-5.2zM562.3 263l2.6 5.2h-5.2zM563.5 262.8l2.6 5.2h-5.2zM564.7 262.7l2.6 5.2h-5.2zM565.9 262.5l2.6 5.2h-5.2zM567.1 262.4l2.6 5.2h-5.2zM568.3 262.3l2.6 5.2h-5.2zM569.5 262.2l2.6 5.2h-5.2zM570.7 262.1l2.6 5.2h-5.2zM571.9 261.9l2.6 5.2h-5.2zM573.1 261.8l2.6 5.2h-5.2zM574.3 261.7l2.6 5.2h-5.2zM575.5 261.7l2.6 5.2h-5.2zM576.7 261.6l2.6 5.2h-5.2zM577.9 261.5l2.6 5.2h-5.2zM579.1 261.4l2.6 5.2h-5.2zM580.3 261.3l2.6 5.2h-5.2zM581.5 261.3l2.6 5.2h-5.2zM582.7 261.2l2.6 5.2h-5.2zM583.9 261.1l2.6 5.2h-5.2zM585.1 261l2.6 5.2h-5.2zM586.3 261l2.6 5.2h-5.2zM587.5 260.9l2.6 5.2h-5.2zM588.7 260.8l2.6 5.2h-5.2zM589.9 260.8l2.6 5.2h-5.2zM591.1 260.7l2.6 5.2h-5.2zM592.3 260.7l2.6 5.2h-5.2zM593.5 260.6l2.6 5.2h-5.2zM594.7 260.6l2.6 5.2h-5.2zM595.9 260.5l2.6 5.2h-5.2zM597.1 260.5l2.6 5.2h-5.2zM598.3 260.4l2.6 5.2h-5.2zM599.5 260.4l2.6 5.2h-5.2zM600.7 260.4l2.6 5.2h-5.2zM601.9 260.4l2.6 5.2h-5.2zM603.1 260.3l2.6 5.2h-5.2zM604.3 260.3l2.6 5.2h-5.2zM605.5 260.3l2.6 5.2h-5.2zM606.7 260.2l2.6 5.2h-5.2zM607.9 260.2l2.6 5.2h-5.2zM609.1 260.2l2.6 5.2h-5.2zM610.3 260.2l2.6 5.2h-5.2zM611.5 260.1l2.6 5.2h-5.2zM612.7 260.1l2.6 5.2h-5.2zM613.9 260.1l2.6 5.2h-5.2zM615.1 260.1l2.6 5.2h-5.2zM616.3 260l2.6 5.2h-5.2zM617.5 260l2.6 5.2h-5.2zM618.7 260l2.6 5.2h-5.2zM619.9 260l2.6 5.2h-5.2zM621.1 260l2.6 5.2h-5.2zM622.3 259.9l2.6 5.2h-5.2zM623.5 259.9l2.6 5.2h-5.2zM624.7 259.9l2.6 5.2h-5.2zM625.9 259.9l2.6 5.2h-5.2zM627.1 259.9l2.6 5.2h-5.2zM628.3 259.9l2.6 5.2h-5.2zM629.5 259.9l2.6 5.2h-5.2zM630.7 259.9l2.6 5.2h-5.2zM631.9 259.9l2.6 5.2h-5.2zM633.1 259.9l2.6 5.2h-5.2zM634.3 259.9l2.6 5.2h-5.2zM635.5 259.9l2.6 5.2h-5.2zM636.7 259.9l2.6 5.2h-5.2zM637.9 259.9l2.6 5.2h-5.2zM639.1 259.9l2.6 5.2h-5.2zM640.3 259.9l2.6 5.2h-5.2zM641.5 259.9l2.6 5.2h-5.2zM642.7 259.9l2.6 5.2h-5.2zM643.9 259.9l2.6 5.2h-5.2zM645.1 259.9l2.6 5.2h-5.2zM646.3 259.9l2.6 5.2h-5.2zM647.5 259.9l2.6 5.2h-5.2zM648.7 259.9l2.6 5.2h-5.2zM649.9 259.9l2.6 5.2h-5.2zM651.1 259.9l2.6 5.2h-5.2zM652.3 259.9l2.6 5.2h-5.2zM653.5 259.9l2.6 5.2h-5.2zM654.7 259.9l2.6 5.2h-5.2zM655.9 259.9l2.6 5.2h-5.2zM657.1 259.9l2.6 5.2h-5.2zM658.3 259.9l2.6 5.2h-5.2zM659.5 259.9l2.6 5.2h-5.2zM660.7 259.9l2.6 5.2h-5.2zM661.9 259.9l2.6 5.2h-5.2zM663.1 259.9l2.6 5.2h-5.2zM664.3 259.9l2.6 5.2h-5.2zM665.5 259.9l2.6 5.2h-5.2zM666.7 259.9l2.6 5.2h-5.2zM667.9 259.8l2.6 5.2h-5.2zM669.1 259.8l2.6 5.2h-5.2zM670.3 259.8l2.6 5.2h-5.2zM671.5 259.8l2.6 5.2h-5.2zM672.7 259.8l2.6 5.2h-5.2zM673.9 259.8l2.6 5.2h-5.2zM675.1 259.8l2.6 5.2h-5.2zM676.3 259.8l2.6 5.2h-5.2zM677.5 259.8l2.6 5.2h-5.2zM678.7 259.8l2.6 5.2h-5.2zM679.9 259.8l2.6 5.2h-5.2zM681.1 259.8l2.6 5.2h-5.2zM682.3 259.8l2.6 5.2h-5.2zM683.5 259.8l2.6 5.2h-5.2zM684.7 259.8l2.6 5.2h-5.2zM685.9 259.8l2.6 5.2h-5.2zM687.1 259.8l2.6 5.2h-5.2zM688.3 259.8l2.6 5.2h-5.2zM689.5 259.8l2.6 5.2h-5.2zM690.7 259.8l2.6 5.2h-5.2zM691.9 259.8l2.6 5.2h-5.2zM693.1 259.8l2.6 5.2h-5.2zM694.3 259.8l2.6 5.2h-5.2zM695.5 259.8l2.6 5.2h-5.2zM696.7 259.8l2.6 5.2h-5.2zM697.9 259.8l2.6 5.2h-5.2zM699.1 259.8l2.6 5.2h-5.2zM700.3 259.8l2.6 5.2h-5.2zM701.5 259.8l2.6 5.2h-5.2zM702.7 259.8l2.6 5.2h-5.2zM703.9 259.8l2.6 5.2h-5.2zM705.1 259.8l2.6 5.2h-5.2zM706.3 259.8l2.6 5.2h-5.2zM707.5 259.8l2.6 5.2h-5.2zM708.7 259.8l2.6 5.2h-5.2zM709.9 259.8l2.6 5.2h-5.2zM711.1 259.8l2.6 5.2h-5.2zM712.3 259.8l2.6 5.2h-5.2zM713.5 259.8l2.6 5.2h-5.2zM714.7 259.8l2.6 5.2h-5.2zM715.9 259.8l2.6 5.2h-5.2zM717.1 259.8l2.6 5.2h-5.2zM718.3 259.8l2.6 5.2h-5.2zM719.5 259.8l2.6 5.2h-5.2zM720.7 259.8l2.6 5.2h-5.2zM721.9 259.8l2.6 5.2h-5.2zM723.1 259.8l2.6 5.2h-5.2zM724.3 259.8l2.6 5.2h-5.2zM725.5 259.8l2.6 5.2h-5.2zM726.7 259.8l2.6 5.2h-5.2zM727.9 259.8l2.6 5.2h-5.2zM729.1 259.8l2.6 5.2h-5.2zM730.3 259.8l2.6 5.2h-5.2zM731.5 259.8l2.6 5.2h-5.2zM732.7 259.8l2.6 5.2h-5.2zM733.9 259.8l2.6 5.2h-5.2zM735.1 259.8l2.6 5.2h-5.2zM736.3 259.8l2.6 5.2h-5.2zM737.5 259.8l2.6 5.2h-5.2zM738.7 259.8l2.6 5.2h-5.2zM739.9 259.8l2.6 5.2h-5.2zM741.1 259.8l2.6 5.2h-5.2zM742.3 259.8l2.6 5.2h-5.2zM743.5 259.8l2.6 5.2h-5.2zM744.7 259.8l2.6 5.2h-5.2zM745.9 259.8l2.6 5.2h-5.2zM747.1 259.8l2.6 5.2h-5.2zM748.3 259.8l2.6 5.2h-5.2zM749.5 259.8l2.6 5.2h-5.2zM750.7 259.8l2.6 5.2h-5.2zM751.9 259.8l2.6 5.2h-5.2zM753.1 259.8l2.6 5.2h-5.2zM754.3 259.8l2.6 5.2h-5.2zM755.5 259.8l2.6 5.2h-5.2zM756.7 259.8l2.6 5.2h-5.2zM757.9 259.8l2.6 5.2h-5.2zM759.1 259.8l2.6 5.2h-5.2zM760.3 259.8l2.6 5.2h-5.2zM761.5 259.8l2.6 5.2h-5.2zM762.7 259.8l2.6 5.2h-5.2zM763.9 259.8l2.6 5.2h-5.2zM765.1 259.8l2.6 5.2h-5.2zM766.3 259.8l2.6 5.2h-5.2zM767.5 259.8l2.6 5.2h-5.2zM768.7 259.8l2.6 5.2h-5.2zM769.9 259.8l2.6 5.2h-5.2zM771.1 259.8l2.6 5.2h-5.2zM772.3 259.8l2.6 5.2h-5.2zM773.5 259.8l2.6 5.2h-5.2zM774.7 259.8l2.6 5.2h-5.2zM775.9 259.8l2.6 5.2h-5.2zM777.1 259.8l2.6 5.2h-5.2zM778.3 259.8l2.6 5.2h-5.2zM779.5 259.8l2.6 5.2h-5.2zM780.7 259.8l2.6 5.2h-5.2zM781.9 259.7l2.6 5.2h-5.2zM783.1 259.7l2.6 5.2h-5.2zM784.3 259.7l2.6 5.2h-5.2zM785.5 259.7l2.6 5.2h-5.2zM786.7 259.7l2.6 5.2h-5.2zM787.9 259.7l2.6 5.2h-5.2zM789.1 259.7l2.6 5.2h-5.2zM790.3 259.7l2.6 5.2h-5.2zM791.5 259.7l2.6 5.2h-5.2zM792.7 259.7l2.6 5.2h-5.2zM793.9 259.7l2.6 5.2h-5.2zM795.1 259.7l2.6 5.2h-5.2zM796.3 259.7l2.6 5.2h-5.2zM797.5 259.7l2.6 5.2h-5.2zM798.7 259.7l2.6 5.2h-5.2zM799.9 259.7l2.6 5.2h-5.2zM801.1 259.7l2.6 5.2h-5.2zM802.3 259.7l2.6 5.2h-5.2zM803.5 259.7l2.6 5.2h-5.2zM804.7 259.7l2.6 5.2h-5.2zM805.9 259.7l2.6 5.2h-5.2zM807.1 259.7l2.6 5.2h-5.2zM808.3 259.7l2.6 5.2h-5.2zM809.5 259.7l2.6 5.2h-5.2zM810.7 259.7l2.6 5.2h-5.2zM811.9 259.7l2.6 5.2h-5.2zM813.1 259.7l2.6 5.2h-5.2zM814.3 259.7l2.6 5.2h-5.2zM815.5 259.7l2.6 5.2h-5.2zM816.7 259.7l2.6 5.2h-5.2zM817.9 259.7l2.6 5.2h-5.2zM819.1 259.7l2.6 5.2h-5.2zM820.3 259.7l2.6 5.2h-5.2zM821.5 259.7l2.6 5.2h-5.2zM822.7 259.7l2.6 5.2h-5.2zM823.9 259.7l2.6 5.2h-5.2zM825.1 259.7l2.6 5.2h-5.2zM826.3 259.7l2.6 5.2h-5.2zM827.5 259.7l2.6 5.2h-5.2zM828.7 259.7l2.6 5.2h-5.2zM829.9 259.7l2.6 5.2h-5.2zM831.1 259.7l2.6 5.2h-5.2zM832.3 259.7l2.6 5.2h-5.2zM833.5 259.7l2.6 5.2h-5.2zM834.7 259.7l2.6 5.2h-5.2zM835.9 259.7l2.6 5.2h-5.2zM837.1 259.7l2.6 5.2h-5.2zM838.3 259.7l2.6 5.2h-5.2zM839.5 259.7l2.6 5.2h-5.2zM840.7 259.7l2.6 5.2h-5.2zM841.9 259.7l2.6 5.2h-5.2zM843.1 259.7l2.6 5.2h-5.2zM844.3 259.7l2.6 5.2h-5.2zM845.5 259.7l2.6 5.2h-5.2zM846.7 259.7l2.6 5.2h-5.2zM847.9 259.7l2.6 5.2h-5.2zM849.1 259.7l2.6 5.2h-5.2zM850.3 259.7l2.6 5.2h-5.2zM851.5 259.7l2.6 5.2h-5.2zM852.7 259.7l2.6 5.2h-5.2zM853.9 259.7l2.6 5.2h-5.2zM855.1 259.7l2.6 5.2h-5.2zM856.3 259.7l2.6 5.2h-5.2zM857.5 259.7l2.6 5.2h-5.2zM858.7 259.7l2.6 5.2h-5.2zM859.9 259.7l2.6 5.2h-5.2zM861.1 259.7l2.6 5.2h-5.2zM862.3 259.7l2.6 5.2h-5.2zM863.5 259.7l2.6 5.2h-5.2zM864.7 259.7l2.6 5.2h-5.2zM865.9 259.7l2.6 5.2h-5.2zM867.1 259.7l2.6 5.2h-5.2zM868.3 259.7l2.6 5.2h-5.2zM869.5 259.7l2.6 5.2h-5.2zM870.7 259.7l2.6 5.2h-5.2zM871.9 259.7l2.6 5.2h-5.2zM873.1 259.7l2.6 5.2h-5.2zM874.3 259.7l2.6 5.2h-5.2zM875.5 259.7l2.6 5.2h-5.2zM876.7 259.7l2.6 5.2h-5.2zM877.9 259.7l2.6 5.2h-5.2zM879.1 259.7l2.6 5.2h-5.2zM880.3 259.7l2.6 5.2h-5.2zM881.5 259.7l2.6 5.2h-5.2zM882.7 259.7l2.6 5.2h-5.2zM883.9 259.7l2.6 5.2h-5.2zM885.1 259.7l2.6 5.2h-5.2zM886.3 259.7l2.6 5.2h-5.2zM887.5 259.7l2.6 5.2h-5.2zM888.7 259.7l2.6 5.2h-5.2zM889.9 259.7l2.6 5.2h-5.2zM891.1 259.7l2.6 5.2h-5.2zM892.3 259.7l2.6 5.2h-5.2zM893.5 259.7l2.6 5.2h-5.2zM894.7 259.7l2.6 5.2h-5.2zM895.9 259.7l2.6 5.2h-5.2zM897.1 259.7l2.6 5.2h-5.2zM898.3 259.7l2.6 5.2h-5.2zM899.5 259.7l2.6 5.2h-5.2zM900.7 259.7l2.6 5.2h-5.2zM901.9 259.7l2.6 5.2h-5.2zM903.1 259.7l2.6 5.2h-5.2zM904.3 259.7l2.6 5.2h-5.2zM905.5 259.7l2.6 5.2h-5.2zM906.7 259.7l2.6 5.2h-5.2zM907.9 259.7l2.6 5.2h-5.2zM909.1 259.7l2.6 5.2h-5.2zM910.3 259.7l2.6 5.2h-5.2zM911.5 259.7l2.6 5.2h-5.2zM912.7 259.7l2.6 5.2h-5.2zM913.9 259.7l2.6 5.2h-5.2zM915.1 259.7l2.6 5.2h-5.2zM916.3 259.7l2.6 5.2h-5.2zM917.5 259.7l2.6 5.2h-5.2zM918.7 259.7l2.6 5.2h-5.2zM919.9 259.7l2.6 5.2h-5.2zM921.1 259.7l2.6 5.2h-5.2zM922.3 259.7l2.6 5.2h-5.2zM923.5 259.7l2.6 5.2h-5.2zM924.7 259.7l2.6 5.2h-5.2zM925.9 259.7l2.6 5.2h-5.2zM927.1 259.7l2.6 5.2h-5.2zM928.3 259.7l2.6 5.2h-5.2zM929.5 259.7l2.6 5.2h-5.2zM930.7 259.7l2.6 5.2h-5.2zM931.9 259.7l2.6 5.2h-5.2zM933.1 259.7l2.6 5.2h-5.2zM934.3 259.7l2.6 5.2h-5.2zM935.5 259.7l2.6 5.2h-5.2zM936.7 259.7l2.6 5.2h-5.2zM937.9 259.7l2.6 5.2h-5.2zM939.1 259.7l2.6 5.2h-5.2zM940.3 259.7l2.6 5.2h-5.2zM941.5 259.7l2.6 5.2h-5.2zM942.7 259.7l2.6 5.2h-5.2zM943.9 259.7l2.6 5.2h-5.2zM945.1 259.7l2.6 5.2h-5.2zM946.3 259.7l2.6 5.2h-5.2zM947.5 259.7l2.6 5.2h-5.2zM948.7 259.7l2.6 5.2h-5.2zM949.9 259.7l2.6 5.2h-5.2zM951.1 259.7l2.6 5.2h-5.2zM952.3 259.7l2.6 5.2h-5.2zM953.5 259.7l2.6 5.2h-5.2zM954.7 259.7l2.6 5.2h-5.2zM955.9 259.7l2.6 5.2h-5.2zM957.1 259.7l2.6 5.2h-5.2zM958.3 259.7l2.6 5.2h-5.2zM959.5 259.7l2.6 5.2h-5.2zM960.7 259.7l2.6 5.2h-5.2zM961.9 259.7l2.6 5.2h-5.2zM963.1 259.7l2.6 5.2h-5.2zM964.3 259.7l2.6 5.2h-5.2zM965.5 259.7l2.6 5.2h-5.2zM966.7 259.7l2.6 5.2h-5.2zM967.9 259.7l2.6 5.2h-5.2zM969.1 259.7l2.6 5.2h-5.2zM970.3 259.7l2.6 5.2h-5.2zM971.5 259.7l2.6 5.2h-5.2zM972.7 259.7l2.6 5.2h-5.2zM973.9 259.7l2.6 5.2h-5.2zM975.1 259.7l2.6 5.2h-5.2zM976.3 259.7l2.6 5.2h-5.2zM977.5 259.7l2.6 5.2h-5.2zM978.7 259.7l2.6 5.2h-5.2zM979.9 259.7l2.6 5.2h-5.2zM981.1 259.7l2.6 5.2h-5.2zM982.3 259.7l2.6 5.2h-5.2zM983.5 259.7l2.6 5.2h-5.2zM984.7 259.7l2.6 5.2h-5.2zM985.9 259.7l2.6 5.2h-5.2zM987.1 259.7l2.6 5.2h-5.2zM988.3 259.7l2.6 5.2h-5.2zM989.5 259.7l2.6 5.2h-5.2zM990.7 259.7l2.6 5.2h-5.2zM991.9 259.7l2.6 5.2h-5.2zM993.1 259.7l2.6 5.2h-5.2z" fill="#0E960E" stroke="#0E960E" stroke-width=".6"/>
<path d="M128.7 715.5a3.6 3.6 0 1 0 7.3 0a3.6 3.6 0 1 0 -7.3 0M130 691.2a3.6 3.6 0 1 0 7.3 0a3.6 3.6 0 1 0 -7.3 0M131.3 673.5a3.6 3.6 0 1 0 7.3 0a3.6 3.6 0 1 0 -7.3 0M132.7 645.2a3.6 3.6 0 1 0 7.3 0a3.6 3.6 0 1 0 -7.3 0M134 623.7a3.6 3.6 0 1 0 7.3 0a3.6 3.6 0 1 0 -7.3 0M135.4 608.2a3.6 3.6 0 1 0 7.3 0a3.6 3.6 0 1 0 -7.3 0M136.7 590.5a3.6 3.6 0 1 0 7.3 0a3.6 3.6 0 1 0 -7.3 0M138.1 576.6a3.6 3.6 0 1 0 7.3 0a3.6 3.6 0 1 0 -7.3 0M139.4 566.9a3.6 3.6 0 1 0 7.3 0a3.6 3.6 0 1 0 -7.3 0M140.8 559.3a3.6 3.6 0 1 0 7.3 0a3.6 3.6 0 1 0 -7.3 0M142.1 548.6a3.6 3.6 0 1 0 7.3 0a3.6 3.6 0 1 0 -7.3 0M143.5 539.7a3.6 3.6 0 1 0 7.3 0a3.6 3.6 0 1 0 -7.3 0M144.8 530.7a3.6 3.6 0 1 0 7.3 0a3.6 3.6 0 1 0 -7.3 0M146.2 526.4a3.6 3.6 0 1 0 7.3 0a3.6 3.6 0 1 0 -7.3 0M147.5 521.4a3.6 3.6 0 1 0 7.3 0a3.6 3.6 0 1 0 -7.3 0M148.9 516.7a3.6 3.6 0 1 0 7.3 0a3.6 3.6 0 1 0 -7.3 0M150.2 512.8a3.6 3.6 0 1 0 7.3 0a3.6 3.6 0 1 0 -7.3 0M151.6 508.7a3.6 3.6 0 1 0 7.3 0a3.6 3.6 0 1 0 -7.3 0M152.9 505.8a3.6 3.6 0 1 0 7.3 0a3.6 3.6 0 1 0 -7.3 0M154.3 501.3a3.6 3.6 0 1 0 7.3 0a3.6 3.6 0 1 0 -7.3 0M155.6 498.3a3.6 3.6 0 1 0 7.3 0a3.6 3.6 0 1 0 -7.3 0M157 495.9a3.6 3.6 0 1 0 7.3 0a3.6 3.6 0 1 0 -7.3 0M158.3 493.4a3.6 3.6 0 1 0 7.3 0a3.6 3.6 0 1 0 -7.3 0M159.7 491.2a3.6 3.6 0 1 0 7.3 0a3.6 3.6 0 1 0 -7.3 0M161 488.8a3.6 3.6 0 1 0 7.3 0a3.6 3.6 0 1 0 -7.3 0M162.4 486.2a3.6 3.6 0 1 0 7.3 0a3.6 3.6 0 1 0 -7.3 0M163.7 484a3.6 3.6 0 1 0 7.3 0a3.6 3.6 0 1 0 -7.3 0M165.1 482a3.6 3.6 0 1 0 7.3 0a3.6 3.6 0 1 0 -7.3 0M166.4 480a3.6 3.6 0 1 0 7.3 0a3.6 3.6 0 1 0 -7.3 0M167.8 477.4a3.6 3.6 0 1 0 7.3 0a3.6 3.6 0 1 0 -7.3 0M169.1 474.3a3.6 3.6 0 1 0 7.3 0a3.6 3.6 0 1 0 -7.3 0M170.5 471.1a3.6 3.6 0 1 0 7.3 0a3.6 3.6 0 1 0 -7.3 0M171.8 469.6a3.6 3.6 0 1 0 7.3 0a3.6 3.6 0 1 0 -7.3 0M173.2 466.7a3.6 3.6 0 1 0 7.3 0a3.6 3.6 0 1 0 -7.3 0M174.5 463.6a3.6 3.6 0 1 0 7.3 0a3.6 3.6 0 1 0 -7.3 0M175.9 460.5a3.6 3.6 0 1 0 7.3 0a3.6 3.6 0 1 0 -7.3 0M177.2 457.1a3.6 3.6 0 1 0 7.3 0a3.6 3.6 0 1 0 -7.3 0M178.6 453.8a3.6 3.6 0 1 0 7.3 0a3.6 3.6 0 1 0 -7.3 0M179.9 450.8a3.6 3.6 0 1 0 7.3 0a3.6 3.6 0 1 0 -7.3 0M181.3 447.5a3.6 3.6 0 1 0 7.3 0a3.6 3.6 0 1 0 -7.3 0M182.6 444a3.6 3.6 0 1 0 7.3 0a3.6 3.6 0 1 0 -7.3 0M184 440.3a3.6 3.6 0 1 0 7.3 0a3.6 3.6 0 1 0 -7.3 0M185.3 437.2a3.6 3.6 0 1 0 7.3 0a3.6 3.6 0 1 0 -7.3 0M186.7 432.8a3.6 3.6 0 1 0 7.3 0a3.6 3.6 0 1 0 -7.3 0M188 427.8a3.6 3.6 0 1 0 7.3 0a3.6 3.6 0 1 0 -7.3 0M189.4 423.2a3.6 3.6 0 1 0 7.3 0a3.6 3.6 0 1 0 -7.3 0M190.7 417.5a3.6 3.6 0 1 0 7.3 0a3.6 3.6 0 1 0 -7.3 0M192.1 412.2a3.6 3.6 0 1 0 7.3 0a3.6 3.6 0 1 0 -7.3 0M193.4 406.4a3.6 3.6 0 1 0 7.3 0a3.6 3.6 0 1 0 -7.3 0M194.8 401a3.6 3.6 0 1 0 7.3 0a3.6 3.6 0 1 0 -7.3 0M196.1 396a3.6 3.6 0 1 0 7.3 0a3.6 3.6 0 1 0 -7.3 0M197.5 391.7a3.6 3.6 0 1 0 7.3 0a3.6 3.6 0 1 0 -7.3 0M198.8 386.4a3.6 3.6 0 1 0 7.3 0a3.6 3.6 0 1 0 -7.3 0M200.2 381.7a3.6 3.6 0 1 0 7.3 0a3.6 3.6 0 1 0 -7.3 0M201.5 376a3.6 3.6 0 1 0 7.3 0a3.6 3.6 0 1 0 -7.3 0M202.9 368.2a3.6 3.6 0 1 0 7.3 0a3.6 3.6 0 1 0 -7.3 0M204.2 361.1a3.6 3.6 0 1 0 7.3 0a3.6 3.6 0 1 0 -7.3 0M205.6 356.7a3.6 3.6 0 1 0 7.3 0a3.6 3.6 0 1 0 -7.3 0M206.9 353a3.6 3.6 0 1 0 7.3 0a3.6 3.6 0 1 0 -7.3 0M208.3 348.9a3.6 3.6 0 1 0 7.3 0a3.6 3.6 0 1 0 -7.3 0M209.6 346.5a3.6 3.6 0 1 0 7.3 0a3.6 3.6 0 1 0 -7.3 0M211 344.4a3.6 3.6 0 1 0 7.3 0a3.6 3.6 0 1 0 -7.3 0M212.3 342.6a3.6 3.6 0 1 0 7.3 0a3.6 3.6 0 1 0 -7.3 0M213.7 341.2a3.6 3.6 0 1 0 7.3 0a3.6 3.6 0 1 0 -7.3 0M215 339.6a3.6 3.6 0 1 0 7.3 0a3.6 3.6 0 1 0 -7.3 0M216.4 337.8a3.6 3.6 0 1 0 7.3 0a3.6 3.6 0 1 0 -7.3 0M217.7 336.6a3.6 3.6 0 1 0 7.3 0a3.6 3.6 0 1 0 -7.3 0M219.1 335.1a3.6 3.6 0 1 0 7.3 0a3.6 3.6 0 1 0 -7.3 0M220.4 333.9a3.6 3.6 0 1 0 7.3 0a3.6 3.6 0 1 0 -7.3 0M221.8 332.6a3.6 3.6 0 1 0 7.3 0a3.6 3.6 0 1 0 -7.3 0M223.1 331.1a3.6 3.6 0 1 0 7.3 0a3.6 3.6 0 1 0 -7.3 0M224.5 329.6a3.6 3.6 0 1 0 7.3 0a3.6 3.6 0 1 0 -7.3 0M225.8 328.2a3.6 3.6 0 1 0 7.3 0a3.6 3.6 0 1 0 -7.3 0M227.2 327.6a3.6 3.6 0 1 0 7.3 0a3.6 3.6 0 1 0 -7.3 0M228.5 325.6a3.6 3.6 0 1 0 7.3 0a3.6 3.6 0 1 0 -7.3 0M229.9 324.1a3.6 3.6 0 1 0 7.3 0a3.6 3.6 0 1 0 -7.3 0M231.2 322.7a3.6 3.6 0 1 0 7.3 0a3.6 3.6 0 1 0 -7.3 0M232.6 321.4a3.6 3.6 0 1 0 7.3 0a3.6 3.6 0 1 0 -7.3 0M233.9 320.1a3.6 3.6 0 1 0 7.3 0a3.6 3.6 0 1 0 -7.3 0M235.3 318.3a3.6 3.6 0 1 0 7.3 0a3.6 3.6 0 1 0 -7.3 0M236.6 316.3a3.6 3.6 0 1 0 7.3 0a3.6 3.6 0 1 0 -7.3 0M238 314.7a3.6 3.6 0 1 0 7.3 0a3.6 3.6 0 1 0 -7.3 0M239.3 311.8a3.6 3.6 0 1 0 7.3 0a3.6 3.6 0 1 0 -7.3 0M240.7 310.1a3.6 3.6 0 1 0 7.3 0a3.6 3.6 0 1 0 -7.3 0M242 307.9a3.6 3.6 0 1 0 7.3 0a3.6 3.6 0 1 0 -7.3 0M243.4 306a3.6 3.6 0 1 0 7.3 0a3.6 3.6 0 1 0 -7.3 0M244.7 303a3.6 3.6 0 1 0 7.3 0a3.6 3.6 0 1 0 -7.3 0M246.1 299a3.6 3.6 0 1 0 7.3 0a3.6 3.6 0 1 0 -7.3 0M247.4 294.9a3.6 3.6 0 1 0 7.3 0a3.6 3.6 0 1 0 -7.3 0M248.8 290.8a3.6 3.6 0 1 0 7.3 0a3.6 3.6 0 1 0 -7.3 0M250.1 284.7a3.6 3.6 0 1 0 7.3 0a3.6 3.6 0 1 0 -7.3 0M251.5 278.8a3.6 3.6 0 1 0 7.3 0a3.6 3.6 0 1 0 -7.3 0M252.8 271.7a3.6 3.6 0 1 0 7.3 0a3.6 3.6 0 1 0 -7.3 0M254.2 265.5a3.6 3.6 0 1 0 7.3 0a3.6 3.6 0 1 0 -7.3 0M255.5 258.8a3.6 3.6 0 1 0 7.3 0a3.6 3.6 0 1 0 -7.3 0M256.9 252.5a3.6 3.6 0 1 0 7.3 0a3.6 3.6 0 1 0 -7.3 0M258.2 246.5a3.6 3.6 0 1 0 7.3 0a3.6 3.6 0 1 0 -7.3 0M259.6 242.8a3.6 3.6 0 1 0 7.3 0a3.6 3.6 0 1 0 -7.3 0M260.9 237.6a3.6 3.6 0 1 0 7.3 0a3.6 3.6 0 1 0 -7.3 0M262.3 234.2a3.6 3.6 0 1 0 7.3 0a3.6 3.6 0 1 0 -7.3 0M263.6 229.1a3.6 3.6 0 1 0 7.3 0a3.6 3.6 0 1 0 -7.3 0M265 227.6a3.6 3.6 0 1 0 7.3 0a3.6 3.6 0 1 0 -7.3 0M266.3 226.2a3.6 3.6 0 1 0 7.3 0a3.6 3.6 0 1 0 -7.3 0M267.7 222.4a3.6 3.6 0 1 0 7.3 0a3.6 3.6 0 1 0 -7.3 0M269 220a3.6 3.6 0 1 0 7.3 0a3.6 3.6 0 1 0 -7.3 0M270.4 215.8a3.6 3.6 0 1 0 7.3 0a3.6 3.6 0 1 0 -7.3 0M271.7 215.9a3.6 3.6 0 1 0 7.3 0a3.6 3.6 0 1 0 -7.3 0M273.1 211.4a3.6 3.6 0 1 0 7.3 0a3.6 3.6 0 1 0 -7.3 0M274.4 210.8a3.6 3.6 0 1 0 7.3 0a3.6 3.6 0 1 0 -7.3 0M275.8 207.9a3.6 3.6 0 1 0 7.3 0a3.6 3.6 0 1 0 -7.3 0M277.1 204.4a3.6 3.6 0 1 0 7.3 0a3.6 3.6 0 1 0 -7.3 0M278.5 202.5a3.6 3.6 0 1 0 7.3 0a3.6 3.6 0 1 0 -7.3 0M279.8 197.4a3.6 3.6 0 1 0 7.3 0a3.6 3.6 0 1 0 -7.3 0M281.2 193.4a3.6 3.6 0 1 0 7.3 0a3.6 3.6 0 1 0 -7.3 0M282.5 190.3a3.6 3.6 0 1 0 7.3 0a3.6 3.6 0 1 0 -7.3 0M283.9 186.4a3.6 3.6 0 1 0 7.3 0a3.6 3.6 0 1 0 -7.3 0M285.2 182.5a3.6 3.6 0 1 0 7.3 0a3.6 3.6 0 1 0 -7.3 0M286.6 181.8a3.6 3.6 0 1 0 7.3 0a3.6 3.6 0 1 0 -7.3 0M287.9 179.4a3.6 3.6 0 1 0 7.3 0a3.6 3.6 0 1 0 -7.3 0M289.3 178.3a3.6 3.6 0 1 0 7.3 0a3.6 3.6 0 1 0 -7.3 0M290.6 176a3.6 3.6 0 1 0 7.3 0a3.6 3.6 0 1 0 -7.3 0M292 174.1a3.6 3.6 0 1 0 7.3 0a3.6 3.6 0 1 0 -7.3 0M293.3 174.9a3.6 3.6 0 1 0 7.3 0a3.6 3.6 0 1 0 -7.3 0M294.7 175.2a3.6 3.6 0 1 0 7.3 0a3.6 3.6 0 1 0 -7.3 0M296 176a3.6 3.6 0 1 0 7.3 0a3.6 3.6 0 1 0 -7.3 0M297.4 177.8a3.6 3.6 0 1 0 7.3 0a3.6 3.6 0 1 0 -7.3 0M298.7 175a3.6 3.6 0 1 0 7.3 0a3.6 3.6 0 1 0 -7.3 0M300.1 176.9a3.6 3.6 0 1 0 7.3 0a3.6 3.6 0 1 0 -7.3 0M301.4 174.4a3.6 3.6 0 1 0 7.3 0a3.6 3.6 0 1 0 -7.3 0M302.8 175.4a3.6 3.6 0 1 0 7.3 0a3.6 3.6 0 1 0 -7.3 0M304.1 176.1a3.6 3.6 0 1 0 7.3 0a3.6 3.6 0 1 0 -7.3 0M305.5 174.3a3.6 3.6 0 1 0 7.3 0a3.6 3.6 0 1 0 -7.3 0M306.8 174.5a3.6 3.6 0 1 0 7.3 0a3.6 3.6 0 1 0 -7.3 0M308.2 176.9a3.6 3.6 0 1 0 7.3 0a3.6 3.6 0 1 0 -7.3 0M309.5 177.4a3.6 3.6 0 1 0 7.3 0a3.6 3.6 0 1 0 -7.3 0M310.9 177.7a3.6 3.6 0 1 0 7.3 0a3.6 3.6 0 1 0 -7.3 0M312.2 176.6a3.6 3.6 0 1 0 7.3 0a3.6 3.6 0 1 0 -7.3 0M313.6 179.5a3.6 3.6 0 1 0 7.3 0a3.6 3.6 0 1 0 -7.3 0M314.9 176.9a3.6 3.6 0 1 0 7.3 0a3.6 3.6 0 1 0 -7.3 0M316.3 175.3a3.6 3.6 0 1 0 7.3 0a3.6 3.6 0 1 0 -7.3 0M317.6 177.5a3.6 3.6 0 1 0 7.3 0a3.6 3.6 0 1 0 -7.3 0M319 176.1a3.6 3.6 0 1 0 7.3 0a3.6 3.6 0 1 0 -7.3 0M320.3 174.4a3.6 3.6 0 1 0 7.3 0a3.6 3.6 0 1 0 -7.3 0M321.7 175.5a3.6 3.6 0 1 0 7.3 0a3.6 3.6 0 1 0 -7.3 0M323 174.1a3.6 3.6 0 1 0 7.3 0a3.6 3.6 0 1 0 -7.3 0M324.4 174.2a3.6 3.6 0 1 0 7.3 0a3.6 3.6 0 1 0 -7.3 0M325.7 173.4a3.6 3.6 0 1 0 7.3 0a3.6 3.6 0 1 0 -7.3 0M327.1 171.4a3.6 3.6 0 1 0 7.3 0a3.6 3.6 0 1 0 -7.3 0M328.4 172.9a3.6 3.6 0 1 0 7.3 0a3.6 3.6 0 1 0 -7.3 0M329.8 171.8a3.6 3.6 0 1 0 7.3 0a3.6 3.6 0 1 0 -7.3 0M331.1 169.9a3.6 3.6 0 1 0 7.3 0a3.6 3.6 0 1 0 -7.3 0M332.5 169.3a3.6 3.6 0 1 0 7.3 0a3.6 3.6 0 1 0 -7.3 0M333.8 170.7a3.6 3.6 0 1 0 7.3 0a3.6 3.6 0 1 0 -7.3 0M335.2 169a3.6 3.6 0 1 0 7.3 0a3.6 3.6 0 1 0 -7.3 0M336.5 169a3.6 3.6 0 1 0 7.3 0a3.6 3.6 0 1 0 -7.3 0M337.9 169.5a3.6 3.6 0 1 0 7.3 0a3.6 3.6 0 1 0 -7.3 0M339.2 168.8a3.6 3.6 0 1 0 7.3 0a3.6 3.6 0 1 0 -7.3 0M340.6 166.5a3.6 3.6 0 1 0 7.3 0a3.6 3.6 0 1 0 -7.3 0M341.9 168.3a3.6 3.6 0 1 0 7.3 0a3.6 3.6 0 1 0 -7.3 0M343.3 168.7a3.6 3.6 0 1 0 7.3 0a3.6 3.6 0 1 0 -7.3 0M344.6 168.6a3.6 3.6 0 1 0 7.3 0a3.6 3.6 0 1 0 -7.3 0M346 169.5a3.6 3.6 0 1 0 7.3 0a3.6 3.6 0 1 0 -7.3 0M347.3 168.1a3.6 3.6 0 1 0 7.3 0a3.6 3.6 0 1 0 -7.3 0M348.7 168.3a3.6 3.6 0 1 0 7.3 0a3.6 3.6 0 1 0 -7.3 0M350 169.1a3.6 3.6 0 1 0 7.3 0a3.6 3.6 0 1 0 -7.3 0M351.4 166.9a3.6 3.6 0 1 0 7.3 0a3.6 3.6 0 1 0 -7.3 0M352.7 168.9a3.6 3.6 0 1 0 7.3 0a3.6 3.6 0 1 0 -7.3 0M354.1 169.1a3.6 3.6 0 1 0 7.3 0a3.6 3.6 0 1 0 -7.3 0M355.4 168.1a3.6 3.6 0 1 0 7.3 0a3.6 3.6 0 1 0 -7.3 0M356.8 169.2a3.6 3.6 0 1 0 7.3 0a3.6 3.6 0 1 0 -7.3 0M358.1 168.1a3.6 3.6 0 1 0 7.3 0a3.6 3.6 0 1 0 -7.3 0M359.5 165.8a3.6 3.6 0 1 0 7.3 0a3.6 3.6 0 1 0 -7.3 0M360.8 167.5a3.6 3.6 0 1 0 7.3 0a3.6 3.6 0 1 0 -7.3 0M362.2 166.5a3.6 3.6 0 1 0 7.3 0a3.6 3.6 0 1 0 -7.3 0M363.5 166.4a3.6 3.6 0 1 0 7.3 0a3.6 3.6 0 1 0 -7.3 0M364.9 165.8a3.6 3.6 0 1 0 7.3 0a3.6 3.6 0 1 0 -7.3 0M366.2 167a3.6 3.6 0 1 0 7.3 0a3.6 3.6 0 1 0 -7.3 0M367.6 166.3a3.6 3.6 0 1 0 7.3 0a3.6 3.6 0 1 0 -7.3 0M368.9 164.8a3.6 3.6 0 1 0 7.3 0a3.6 3.6 0 1 0 -7.3 0M370.3 165.8a3.6 3.6 0 1 0 7.3 0a3.6 3.6 0 1 0 -7.3 0M371.6 166.2a3.6 3.6 0 1 0 7.3 0a3.6 3.6 0 1 0 -7.3 0M373 164.6a3.6 3.6 0 1 0 7.3 0a3.6 3.6 0 1 0 -7.3 0M374.3 164.6a3.6 3.6 0 1 0 7.3 0a3.6 3.6 0 1 0 -7.3 0M375.7 164.5a3.6 3.6 0 1 0 7.3 0a3.6 3.6 0 1 0 -7.3 0M377 164.1a3.6 3.6 0 1 0 7.3 0a3.6 3.6 0 1 0 -7.3 0M378.4 165.1a3.6 3.6 0 1 0 7.3 0a3.6 3.6 0 1 0 -7.3 0M379.7 166.1a3.6 3.6 0 1 0 7.3 0a3.6 3.6 0 1 0 -7.3 0M381.1 167.6a3.6 3.6 0 1 0 7.3 0a3.6 3.6 0 1 0 -7.3 0M382.4 167.3a3.6 3.6 0 1 0 7.3 0a3.6 3.6 0 1 0 -7.3 0M383.8 167.2a3.6 3.6 0 1 0 7.3 0a3.6 3.6 0 1 0 -7.3 0M385.1 167.3a3.6 3.6 0 1 0 7.3 0a3.6 3.6 0 1 0 -7.3 0M386.5 167.6a3.6 3.6 0 1 0 7.3 0a3.6 3.6 0 1 0 -7.3 0M387.8 165.6a3.6 3.6 0 1 0 7.3 0a3.6 3.6 0 1 0 -7.3 0M389.2 166.3a3.6 3.6 0 1 0 7.3 0a3.6 3.6 0 1 0 -7.3 0M390.5 165.8a3.6 3.6 0 1 0 7.3 0a3.6 3.6 0 1 0 -7.3 0M391.9 165a3.6 3.6 0 1 0 7.3 0a3.6 3.6 0 1 0 -7.3 0M393.2 164.3a3.6 3.6 0 1 0 7.3 0a3.6 3.6 0 1 0 -7.3 0M394.6 163.8a3.6 3.6 0 1 0 7.3 0a3.6 3.6 0 1 0 -7.3 0M395.9 163.7a3.6 3.6 0 1 0 7.3 0a3.6 3.6 0 1 0 -7.3 0M397.3 162.3a3.6 3.6 0 1 0 7.3 0a3.6 3.6 0 1 0 -7.3 0M398.6 163.8a3.6 3.6 0 1 0 7.3 0a3.6 3.6 0 1 0 -7.3 0M400 163.2a3.6 3.6 0 1 0 7.3 0a3.6 3.6 0 1 0 -7.3 0M401.3 163.3a3.6 3.6 0 1 0 7.3 0a3.6 3.6 0 1 0 -7.3 0M402.7 163.4a3.6 3.6 0 1 0 7.3 0a3.6 3.6 0 1 0 -7.3 0M404 163.9a3.6 3.6 0 1 0 7.3 0a3.6 3.6 0 1 0 -7.3 0M405.4 162.3a3.6 3.6 0 1 0 7.3 0a3.6 3.6 0 1 0 -7.3 0M406.7 162.5a3.6 3.6 0 1 0 7.3 0a3.6 3.6 0 1 0 -7.3 0M408.1 160.8a3.6 3.6 0 1 0 7.3 0a3.6 3.6 0 1 0 -7.3 0M409.4 160a3.6 3.6 0 1 0 7.3 0a3.6 3.6 0 1 0 -7.3 0M410.8 160.2a3.6 3.6 0 1 0 7.3 0a3.6 3.6 0 1 0 -7.3 0M412.1 164.5a3.6 3.6 0 1 0 7.3 0a3.6 3.6 0 1 0 -7.3 0M413.5 161.6a3.6 3.6 0 1 0 7.3 0a3.6 3.6 0 1 0 -7.3 0M414.8 164.4a3.6 3.6 0 1 0 7.3 0a3.6 3.6 0 1 0 -7.3 0M416.2 166.5a3.6 3.6 0 1 0 7.3 0a3.6 3.6 0 1 0 -7.3 0M417.5 165.2a3.6 3.6 0 1 0 7.3 0a3.6 3.6 0 1 0 -7.3 0M418.9 168.1a3.6 3.6 0 1 0 7.3 0a3.6 3.6 0 1 0 -7.3 0M420.2 169.4a3.6 3.6 0 1 0 7.3 0a3.6 3.6 0 1 0 -7.3 0M421.6 169.2a3.6 3.6 0 1 0 7.3 0a3.6 3.6 0 1 0 -7.3 0M422.9 171.5a3.6 3.6 0 1 0 7.3 0a3.6 3.6 0 1 0 -7.3 0M424.3 170.1a3.6 3.6 0 1 0 7.3 0a3.6 3.6 0 1 0 -7.3 0M425.6 168.6a3.6 3.6 0 1 0 7.3 0a3.6 3.6 0 1 0 -7.3 0M427 169.8a3.6 3.6 0 1 0 7.3 0a3.6 3.6 0 1 0 -7.3 0M428.3 168.8a3.6 3.6 0 1 0 7.3 0a3.6 3.6 0 1 0 -7.3 0M429.7 167.7a3.6 3.6 0 1 0 7.3 0a3.6 3.6 0 1 0 -7.3 0M431 167.4a3.6 3.6 0 1 0 7.3 0a3.6 3.6 0 1 0 -7.3 0M432.4 171.6a3.6 3.6 0 1 0 7.3 0a3.6 3.6 0 1 0 -7.3 0M433.7 169.2a3.6 3.6 0 1 0 7.3 0a3.6 3.6 0 1 0 -7.3 0M435.1 169.8a3.6 3.6 0 1 0 7.3 0a3.6 3.6 0 1 0 -7.3 0M436.4 169.2a3.6 3.6 0 1 0 7.3 0a3.6 3.6 0 1 0 -7.3 0M437.8 170a3.6 3.6 0 1 0 7.3 0a3.6 3.6 0 1 0 -7.3 0M439.1 169.4a3.6 3.6 0 1 0 7.3 0a3.6 3.6 0 1 0 -7.3 0M440.5 168.9a3.6 3.6 0 1 0 7.3 0a3.6 3.6 0 1 0 -7.3 0M441.8 167.6a3.6 3.6 0 1 0 7.3 0a3.6 3.6 0 1 0 -7.3 0M443.2 166.8a3.6 3.6 0 1 0 7.3 0a3.6 3.6 0 1 0 -7.3 0M444.5 167a3.6 3.6 0 1 0 7.3 0a3.6 3.6 0 1 0 -7.3 0M445.9 168a3.6 3.6 0 1 0 7.3 0a3.6 3.6 0 1 0 -7.3 0M447.2 170.2a3.6 3.6 0 1 0 7.3 0a3.6 3.6 0 1 0 -7.3 0M448.6 169.6a3.6 3.6 0 1 0 7.3 0a3.6 3.6 0 1 0 -7.3 0M449.9 170.6a3.6 3.6 0 1 0 7.3 0a3.6 3.6 0 1 0 -7.3 0M451.3 169.2a3.6 3.6 0 1 0 7.3 0a3.6 3.6 0 1 0 -7.3 0M452.6 168.3a3.6 3.6 0 1 0 7.3 0a3.6 3.6 0 1 0 -7.3 0M454 166.2a3.6 3.6 0 1 0 7.3 0a3.6 3.6 0 1 0 -7.3 0M455.3 167a3.6 3.6 0 1 0 7.3 0a3.6 3.6 0 1 0 -7.3 0M456.7 164a3.6 3.6 0 1 0 7.3 0a3.6 3.6 0 1 0 -7.3 0M458 165.2a3.6 3.6 0 1 0 7.3 0a3.6 3.6 0 1 0 -7.3 0M459.4 167.3a3.6 3.6 0 1 0 7.3 0a3.6 3.6 0 1 0 -7.3 0M460.7 166a3.6 3.6 0 1 0 7.3 0a3.6 3.6 0 1 0 -7.3 0M462.1 166.7a3.6 3.6 0 1 0 7.3 0a3.6 3.6 0 1 0 -7.3 0M463.4 164.9a3.6 3.6 0 1 0 7.3 0a3.6 3.6 0 1 0 -7.3 0M464.8 163.1a3.6 3.6 0 1 0 7.3 0a3.6 3.6 0 1 0 -7.3 0M466.1 163.8a3.6 3.6 0 1 0 7.3 0a3.6 3.6 0 1 0 -7.3 0M467.5 163.8a3.6 3.6 0 1 0 7.3 0a3.6 3.6 0 1 0 -7.3 0M468.8 165.7a3.6 3.6 0 1 0 7.3 0a3.6 3.6 0 1 0 -7.3 0M470.2 167.2a3.6 3.6 0 1 0 7.3 0a3.6 3.6 0 1 0 -7.3 0M471.5 164.5a3.6 3.6 0 1 0 7.3 0a3.6 3.6 0 1 0 -7.3 0M472.9 164.7a3.6 3.6 0 1 0 7.3 0a3.6 3.6 0 1 0 -7.3 0M474.2 164.8a3.6 3.6 0 1 0 7.3 0a3.6 3.6 0 1 0 -7.3 0M475.6 164.5a3.6 3.6 0 1 0 7.3 0a3.6 3.6 0 1 0 -7.3 0M476.9 163.3a3.6 3.6 0 1 0 7.3 0a3.6 3.6 0 1 0 -7.3 0M478.3 164.6a3.6 3.6 0 1 0 7.3 0a3.6 3.6 0 1 0 -7.3 0M479.6 165.1a3.6 3.6 0 1 0 7.3 0a3.6 3.6 0 1 0 -7.3 0M481 165.4a3.6 3.6 0 1 0 7.3 0a3.6 3.6 0 1 0 -7.3 0M482.3 163.6a3.6 3.6 0 1 0 7.3 0a3.6 3.6 0 1 0 -7.3 0M483.7 164.5a3.6 3.6 0 1 0 7.3 0a3.6 3.6 0 1 0 -7.3 0M485 162.4a3.6 3.6 0 1 0 7.3 0a3.6 3.6 0 1 0 -7.3 0M486.4 165.1a3.6 3.6 0 1 0 7.3 0a3.6 3.6 0 1 0 -7.3 0M487.7 163.1a3.6 3.6 0 1 0 7.3 0a3.6 3.6 0 1 0 -7.3 0M489.1 163.7a3.6 3.6 0 1 0 7.3 0a3.6 3.6 0 1 0 -7.3 0M490.4 163.4a3.6 3.6 0 1 0 7.3 0a3.6 3.6 0 1 0 -7.3 0M491.8 163.1a3.6 3.6 0 1 0 7.3 0a3.6 3.6 0 1 0 -7.3 0M493.1 162.4a3.6 3.6 0 1 0 7.3 0a3.6 3.6 0 1 0 -7.3 0M494.5 161.2a3.6 3.6 0 1 0 7.3 0a3.6 3.6 0 1 0 -7.3 0M495.8 165a3.6 3.6 0 1 0 7.3 0a3.6 3.6 0 1 0 -7.3 0M497.2 163.9a3.6 3.6 0 1 0 7.3 0a3.6 3.6 0 1 0 -7.3 0M498.5 164.3a3.6 3.6 0 1 0 7.3 0a3.6 3.6 0 1 0 -7.3 0M499.9 166.8a3.6 3.6 0 1 0 7.3 0a3.6 3.6 0 1 0 -7.3 0M501.2 165a3.6 3.6 0 1 0 7.3 0a3.6 3.6 0 1 0 -7.3 0M502.6 165.9a3.6 3.6 0 1 0 7.3 0a3.6 3.6 0 1 0 -7.3 0M503.9 165.5a3.6 3.6 0 1 0 7.3 0a3.6 3.6 0 1 0 -7.3 0M505.3 167a3.6 3.6 0 1 0 7.3 0a3.6 3.6 0 1 0 -7.3 0M506.6 166.6a3.6 3.6 0 1 0 7.3 0a3.6 3.6 0 1 0 -7.3 0M508 166.6a3.6 3.6 0 1 0 7.3 0a3.6 3.6 0 1 0 -7.3 0M509.3 166a3.6 3.6 0 1 0 7.3 0a3.6 3.6 0 1 0 -7.3 0M510.7 166.7a3.6 3.6 0 1 0 7.3 0a3.6 3.6 0 1 0 -7.3 0M512 167.9a3.6 3.6 0 1 0 7.3 0a3.6 3.6 0 1 0 -7.3 0M513.4 164.3a3.6 3.6 0 1 0 7.3 0a3.6 3.6 0 1 0 -7.3 0M514.7 165.9a3.6 3.6 0 1 0 7.3 0a3.6 3.6 0 1 0 -7.3 0M516.1 165.5a3.6 3.6 0 1 0 7.3 0a3.6 3.6 0 1 0 -7.3 0M517.4 165.5a3.6 3.6 0 1 0 7.3 0a3.6 3.6 0 1 0 -7.3 0M518.8 163.4a3.6 3.6 0 1 0 7.3 0a3.6 3.6 0 1 0 -7.3 0M520.1 166.1a3.6 3.6 0 1 0 7.3 0a3.6 3.6 0 1 0 -7.3 0M521.5 164.6a3.6 3.6 0 1 0 7.3 0a3.6 3.6 0 1 0 -7.3 0M522.8 165.2a3.6 3.6 0 1 0 7.3 0a3.6 3.6 0 1 0 -7.3 0M524.2 164.9a3.6 3.6 0 1 0 7.3 0a3.6 3.6 0 1 0 -7.3 0M525.5 163.1a3.6 3.6 0 1 0 7.3 0a3.6 3.6 0 1 0 -7.3 0M526.9 163.6a3.6 3.6 0 1 0 7.3 0a3.6 3.6 0 1 0 -7.3 0M528.2 161.4a3.6 3.6 0 1 0 7.3 0a3.6 3.6 0 1 0 -7.3 0M529.6 161.5a3.6 3.6 0 1 0 7.3 0a3.6 3.6 0 1 0 -7.3 0M530.9 161.6a3.6 3.6 0 1 0 7.3 0a3.6 3.6 0 1 0 -7.3 0M532.3 161.6a3.6 3.6 0 1 0 7.3 0a3.6 3.6 0 1 0 -7.3 0M533.6 161.3a3.6 3.6 0 1 0 7.3 0a3.6 3.6 0 1 0 -7.3 0M535 160.7a3.6 3.6 0 1 0 7.3 0a3.6 3.6 0 1 0 -7.3 0M536.3 163a3.6 3.6 0 1 0 7.3 0a3.6 3.6 0 1 0 -7.3 0M537.7 161.3a3.6 3.6 0 1 0 7.3 0a3.6 3.6 0 1 0 -7.3 0M539 159.3a3.6 3.6 0 1 0 7.3 0a3.6 3.6 0 1 0 -7.3 0M540.4 159.5a3.6 3.6 0 1 0 7.3 0a3.6 3.6 0 1 0 -7.3 0M541.7 159.2a3.6 3.6 0 1 0 7.3 0a3.6 3.6 0 1 0 -7.3 0M543.1 159.6a3.6 3.6 0 1 0 7.3 0a3.6 3.6 0 1 0 -7.3 0M544.4 159.1a3.6 3.6 0 1 0 7.3 0a3.6 3.6 0 1 0 -7.3 0M545.8 158.6a3.6 3.6 0 1 0 7.3 0a3.6 3.6 0 1 0 -7.3 0M547.1 161.4a3.6 3.6 0 1 0 7.3 0a3.6 3.6 0 1 0 -7.3 0M548.5 160.6a3.6 3.6 0 1 0 7.3 0a3.6 3.6 0 1 0 -7.3 0M549.8 160.7a3.6 3.6 0 1 0 7.3 0a3.6 3.6 0 1 0 -7.3 0M551.2 161.2a3.6 3.6 0 1 0 7.3 0a3.6 3.6 0 1 0 -7.3 0M552.5 161.7a3.6 3.6 0 1 0 7.3 0a3.6 3.6 0 1 0 -7.3 0M553.9 164.2a3.6 3.6 0 1 0 7.3 0a3.6 3.6 0 1 0 -7.3 0M555.2 164.1a3.6 3.6 0 1 0 7.3 0a3.6 3.6 0 1 0 -7.3 0M556.6 165.5a3.6 3.6 0 1 0 7.3 0a3.6 3.6 0 1 0 -7.3 0M557.9 161.2a3.6 3.6 0 1 0 7.3 0a3.6 3.6 0 1 0 -7.3 0M559.3 165a3.6 3.6 0 1 0 7.3 0a3.6 3.6 0 1 0 -7.3 0M560.6 166.7a3.6 3.6 0 1 0 7.3 0a3.6 3.6 0 1 0 -7.3 0M562 168.9a3.6 3.6 0 1 0 7.3 0a3.6 3.6 0 1 0 -7.3 0M563.3 167.7a3.6 3.6 0 1 0 7.3 0a3.6 3.6 0 1 0 -7.3 0M564.7 166.1a3.6 3.6 0 1 0 7.3 0a3.6 3.6 0 1 0 -7.3 0M566 168.9a3.6 3.6 0 1 0 7.3 0a3.6 3.6 0 1 0 -7.3 0M567.4 168.3a3.6 3.6 0 1 0 7.3 0a3.6 3.6 0 1 0 -7.3 0M568.7 167.3a3.6 3.6 0 1 0 7.3 0a3.6 3.6 0 1 0 -7.3 0M570.1 168.6a3.6 3.6 0 1 0 7.3 0a3.6 3.6 0 1 0 -7.3 0M571.4 169.9a3.6 3.6 0 1 0 7.3 0a3.6 3.6 0 1 0 -7.3 0M572.8 169.9a3.6 3.6 0 1 0 7.3 0a3.6 3.6 0 1 0 -7.3 0M574.1 169.1a3.6 3.6 0 1 0 7.3 0a3.6 3.6 0 1 0 -7.3 0M575.5 166.5a3.6 3.6 0 1 0 7.3 0a3.6 3.6 0 1 0 -7.3 0M576.8 169.8a3.6 3.6 0 1 0 7.3 0a3.6 3.6 0 1 0 -7.3 0M578.2 165.4a3.6 3.6 0 1 0 7.3 0a3.6 3.6 0 1 0 -7.3 0M579.5 165.6a3.6 3.6 0 1 0 7.3 0a3.6 3.6 0 1 0 -7.3 0M580.9 163.2a3.6 3.6 0 1 0 7.3 0a3.6 3.6 0 1 0 -7.3 0M582.2 165.4a3.6 3.6 0 1 0 7.3 0a3.6 3.6 0 1 0 -7.3 0M583.6 164.5a3.6 3.6 0 1 0 7.3 0a3.6 3.6 0 1 0 -7.3 0M584.9 164.8a3.6 3.6 0 1 0 7.3 0a3.6 3.6 0 1 0 -7.3 0M586.3 163.7a3.6 3.6 0 1 0 7.3 0a3.6 3.6 0 1 0 -7.3 0M587.6 163a3.6 3.6 0 1 0 7.3 0a3.6 3.6 0 1 0 -7.3 0M589 162.9a3.6 3.6 0 1 0 7.3 0a3.6 3.6 0 1 0 -7.3 0M590.3 160a3.6 3.6 0 1 0 7.3 0a3.6 3.6 0 1 0 -7.3 0M591.7 162.5a3.6 3.6 0 1 0 7.3 0a3.6 3.6 0 1 0 -7.3 0M593 162.4a3.6 3.6 0 1 0 7.3 0a3.6 3.6 0 1 0 -7.3 0M594.4 160.7a3.6 3.6 0 1 0 7.3 0a3.6 3.6 0 1 0 -7.3 0M595.7 160.7a3.6 3.6 0 1 0 7.3 0a3.6 3.6 0 1 0 -7.3 0M597.1 160.6a3.6 3.6 0 1 0 7.3 0a3.6 3.6 0 1 0 -7.3 0M598.4 162.2a3.6 3.6 0 1 0 7.3 0a3.6 3.6 0 1 0 -7.3 0M599.8 161.2a3.6 3.6 0 1 0 7.3 0a3.6 3.6 0 1 0 -7.3 0M601.1 160.7a3.6 3.6 0 1 0 7.3 0a3.6 3.6 0 1 0 -7.3 0M602.5 159.9a3.6 3.6 0 1 0 7.3 0a3.6 3.6 0 1 0 -7.3 0M603.8 158.3a3.6 3.6 0 1 0 7.3 0a3.6 3.6 0 1 0 -7.3 0M605.2 158.9a3.6 3.6 0 1 0 7.3 0a3.6 3.6 0 1 0 -7.3 0M606.5 159.5a3.6 3.6 0 1 0 7.3 0a3.6 3.6 0 1 0 -7.3 0M607.9 159.2a3.6 3.6 0 1 0 7.3 0a3.6 3.6 0 1 0 -7.3 0M609.2 159.5a3.6 3.6 0 1 0 7.3 0a3.6 3.6 0 1 0 -7.3 0M610.6 160.4a3.6 3.6 0 1 0 7.3 0a3.6 3.6 0 1 0 -7.3 0M611.9 160.2a3.6 3.6 0 1 0 7.3 0a3.6 3.6 0 1 0 -7.3 0M613.3 159.9a3.6 3.6 0 1 0 7.3 0a3.6 3.6 0 1 0 -7.3 0M614.6 160a3.6 3.6 0 1 0 7.3 0a3.6 3.6 0 1 0 -7.3 0M616 159.1a3.6 3.6 0 1 0 7.3 0a3.6 3.6 0 1 0 -7.3 0M617.3 158.5a3.6 3.6 0 1 0 7.3 0a3.6 3.6 0 1 0 -7.3 0M618.7 158.6a3.6 3.6 0 1 0 7.3 0a3.6 3.6 0 1 0 -7.3 0M620 155.6a3.6 3.6 0 1 0 7.3 0a3.6 3.6 0 1 0 -7.3 0M621.4 158.2a3.6 3.6 0 1 0 7.3 0a3.6 3.6 0 1 0 -7.3 0M622.7 155.1a3.6 3.6 0 1 0 7.3 0a3.6 3.6 0 1 0 -7.3 0M624.1 156.9a3.6 3.6 0 1 0 7.3 0a3.6 3.6 0 1 0 -7.3 0M625.4 155.8a3.6 3.6 0 1 0 7.3 0a3.6 3.6 0 1 0 -7.3 0M626.8 156.7a3.6 3.6 0 1 0 7.3 0a3.6 3.6 0 1 0 -7.3 0M628.1 155.2a3.6 3.6 0 1 0 7.3 0a3.6 3.6 0 1 0 -7.3 0M629.5 153.4a3.6 3.6 0 1 0 7.3 0a3.6 3.6 0 1 0 -7.3 0M630.8 154.9a3.6 3.6 0 1 0 7.3 0a3.6 3.6 0 1 0 -7.3 0M632.2 153.6a3.6 3.6 0 1 0 7.3 0a3.6 3.6 0 1 0 -7.3 0M633.5 152.9a3.6 3.6 0 1 0 7.3 0a3.6 3.6 0 1 0 -7.3 0M634.9 152.3a3.6 3.6 0 1 0 7.3 0a3.6 3.6 0 1 0 -7.3 0M636.2 152.8a3.6 3.6 0 1 0 7.3 0a3.6 3.6 0 1 0 -7.3 0M637.6 152.3a3.6 3.6 0 1 0 7.3 0a3.6 3.6 0 1 0 -7.3 0M638.9 151.1a3.6 3.6 0 1 0 7.3 0a3.6 3.6 0 1 0 -7.3 0M640.3 148.3a3.6 3.6 0 1 0 7.3 0a3.6 3.6 0 1 0 -7.3 0M641.6 148.5a3.6 3.6 0 1 0 7.3 0a3.6 3.6 0 1 0 -7.3 0M643 148.4a3.6 3.6 0 1 0 7.3 0a3.6 3.6 0 1 0 -7.3 0M644.3 150a3.6 3.6 0 1 0 7.3 0a3.6 3.6 0 1 0 -7.3 0M645.7 148.2a3.6 3.6 0 1 0 7.3 0a3.6 3.6 0 1 0 -7.3 0M647 147.1a3.6 3.6 0 1 0 7.3 0a3.6 3.6 0 1 0 -7.3 0M648.4 147.9a3.6 3.6 0 1 0 7.3 0a3.6 3.6 0 1 0 -7.3 0M649.7 146.1a3.6 3.6 0 1 0 7.3 0a3.6 3.6 0 1 0 -7.3 0M651.1 145.4a3.6 3.6 0 1 0 7.3 0a3.6 3.6 0 1 0 -7.3 0M652.4 144.9a3.6 3.6 0 1 0 7.3 0a3.6 3.6 0 1 0 -7.3 0M653.8 142.3a3.6 3.6 0 1 0 7.3 0a3.6 3.6 0 1 0 -7.3 0M655.1 144.2a3.6 3.6 0 1 0 7.3 0a3.6 3.6 0 1 0 -7.3 0M656.5 143.3a3.6 3.6 0 1 0 7.3 0a3.6 3.6 0 1 0 -7.3 0M657.8 142a3.6 3.6 0 1 0 7.3 0a3.6 3.6 0 1 0 -7.3 0M659.2 140.3a3.6 3.6 0 1 0 7.3 0a3.6 3.6 0 1 0 -7.3 0M660.5 141.1a3.6 3.6 0 1 0 7.3 0a3.6 3.6 0 1 0 -7.3 0M661.9 142.2a3.6 3.6 0 1 0 7.3 0a3.6 3.6 0 1 0 -7.3 0M663.2 139.7a3.6 3.6 0 1 0 7.3 0a3.6 3.6 0 1 0 -7.3 0M664.6 138.4a3.6 3.6 0 1 0 7.3 0a3.6 3.6 0 1 0 -7.3 0M665.9 139.4a3.6 3.6 0 1 0 7.3 0a3.6 3.6 0 1 0 -7.3 0M671.3 227.7a3.6 3.6 0 1 0 7.3 0a3.6 3.6 0 1 0 -7.3 0M672.7 227.7a3.6 3.6 0 1 0 7.3 0a3.6 3.6 0 1 0 -7.3 0M674 227a3.6 3.6 0 1 0 7.3 0a3.6 3.6 0 1 0 -7.3 0M675.4 227.5a3.6 3.6 0 1 0 7.3 0a3.6 3.6 0 1 0 -7.3 0M676.7 227.3a3.6 3.6 0 1 0 7.3 0a3.6 3.6 0 1 0 -7.3 0M678.1 228.7a3.6 3.6 0 1 0 7.3 0a3.6 3.6 0 1 0 -7.3 0M679.4 230.6a3.6 3.6 0 1 0 7.3 0a3.6 3.6 0 1 0 -7.3 0M680.8 233.7a3.6 3.6 0 1 0 7.3 0a3.6 3.6 0 1 0 -7.3 0M682.1 236.2a3.6 3.6 0 1 0 7.3 0a3.6 3.6 0 1 0 -7.3 0M683.5 238.3a3.6 3.6 0 1 0 7.3 0a3.6 3.6 0 1 0 -7.3 0M684.8 239.8a3.6 3.6 0 1 0 7.3 0a3.6 3.6 0 1 0 -7.3 0M686.2 236.5a3.6 3.6 0 1 0 7.3 0a3.6 3.6 0 1 0 -7.3 0M687.5 239.5a3.6 3.6 0 1 0 7.3 0a3.6 3.6 0 1 0 -7.3 0M688.9 238.5a3.6 3.6 0 1 0 7.3 0a3.6 3.6 0 1 0 -7.3 0M713.2 120.4a3.6 3.6 0 1 0 7.3 0a3.6 3.6 0 1 0 -7.3 0M714.5 118.4a3.6 3.6 0 1 0 7.3 0a3.6 3.6 0 1 0 -7.3 0M715.9 119.3a3.6 3.6 0 1 0 7.3 0a3.6 3.6 0 1 0 -7.3 0M717.2 120.7a3.6 3.6 0 1 0 7.3 0a3.6 3.6 0 1 0 -7.3 0M718.6 119.3a3.6 3.6 0 1 0 7.3 0a3.6 3.6 0 1 0 -7.3 0M719.9 116.8a3.6 3.6 0 1 0 7.3 0a3.6 3.6 0 1 0 -7.3 0M721.3 116.5a3.6 3.6 0 1 0 7.3 0a3.6 3.6 0 1 0 -7.3 0M722.6 117.5a3.6 3.6 0 1 0 7.3 0a3.6 3.6 0 1 0 -7.3 0M724 112.4a3.6 3.6 0 1 0 7.3 0a3.6 3.6 0 1 0 -7.3 0M725.3 112.9a3.6 3.6 0 1 0 7.3 0a3.6 3.6 0 1 0 -7.3 0M726.7 111.1a3.6 3.6 0 1 0 7.3 0a3.6 3.6 0 1 0 -7.3 0M728 110a3.6 3.6 0 1 0 7.3 0a3.6 3.6 0 1 0 -7.3 0M729.4 108.7a3.6 3.6 0 1 0 7.3 0a3.6 3.6 0 1 0 -7.3 0M730.7 107.8a3.6 3.6 0 1 0 7.3 0a3.6 3.6 0 1 0 -7.3 0M732.1 108.5a3.6 3.6 0 1 0 7.3 0a3.6 3.6 0 1 0 -7.3 0M733.4 107.4a3.6 3.6 0 1 0 7.3 0a3.6 3.6 0 1 0 -7.3 0M734.8 104.6a3.6 3.6 0 1 0 7.3 0a3.6 3.6 0 1 0 -7.3 0M736.1 106.3a3.6 3.6 0 1 0 7.3 0a3.6 3.6 0 1 0 -7.3 0M737.5 102.3a3.6 3.6 0 1 0 7.3 0a3.6 3.6 0 1 0 -7.3 0M738.8 103.1a3.6 3.6 0 1 0 7.3 0a3.6 3.6 0 1 0 -7.3 0M740.2 101.7a3.6 3.6 0 1 0 7.3 0a3.6 3.6 0 1 0 -7.3 0M741.5 103.5a3.6 3.6 0 1 0 7.3 0a3.6 3.6 0 1 0 -7.3 0M742.9 103.6a3.6 3.6 0 1 0 7.3 0a3.6 3.6 0 1 0 -7.3 0M744.2 105.3a3.6 3.6 0 1 0 7.3 0a3.6 3.6 0 1 0 -7.3 0M745.6 104.9a3.6 3.6 0 1 0 7.3 0a3.6 3.6 0 1 0 -7.3 0M746.9 106.8a3.6 3.6 0 1 0 7.3 0a3.6 3.6 0 1 0 -7.3 0M748.3 108.2a3.6 3.6 0 1 0 7.3 0a3.6 3.6 0 1 0 -7.3 0M749.6 113a3.6 3.6 0 1 0 7.3 0a3.6 3.6 0 1 0 -7.3 0M751 112.6a3.6 3.6 0 1 0 7.3 0a3.6 3.6 0 1 0 -7.3 0M752.3 117.1a3.6 3.6 0 1 0 7.3 0a3.6 3.6 0 1 0 -7.3 0M753.7 119a3.6 3.6 0 1 0 7.3 0a3.6 3.6 0 1 0 -7.3 0M755 120.5a3.6 3.6 0 1 0 7.3 0a3.6 3.6 0 1 0 -7.3 0M756.4 121.2a3.6 3.6 0 1 0 7.3 0a3.6 3.6 0 1 0 -7.3 0M757.7 123.9a3.6 3.6 0 1 0 7.3 0a3.6 3.6 0 1 0 -7.3 0M759.1 123.4a3.6 3.6 0 1 0 7.3 0a3.6 3.6 0 1 0 -7.3 0M760.4 124.8a3.6 3.6 0 1 0 7.3 0a3.6 3.6 0 1 0 -7.3 0M761.8 128.4a3.6 3.6 0 1 0 7.3 0a3.6 3.6 0 1 0 -7.3 0M763.1 126.7a3.6 3.6 0 1 0 7.3 0a3.6 3.6 0 1 0 -7.3 0M764.5 130.7a3.6 3.6 0 1 0 7.3 0a3.6 3.6 0 1 0 -7.3 0M765.8 130a3.6 3.6 0 1 0 7.3 0a3.6 3.6 0 1 0 -7.3 0M767.2 131.3a3.6 3.6 0 1 0 7.3 0a3.6 3.6 0 1 0 -7.3 0M803.6 696a3.6 3.6 0 1 0 7.3 0a3.6 3.6 0 1 0 -7.3 0M805 704.9a3.6 3.6 0 1 0 7.3 0a3.6 3.6 0 1 0 -7.3 0M806.3 714.9a3.6 3.6 0 1 0 7.3 0a3.6 3.6 0 1 0 -7.3 0M807.7 722.2a3.6 3.6 0 1 0 7.3 0a3.6 3.6 0 1 0 -7.3 0M809 727.7a3.6 3.6 0 1 0 7.3 0a3.6 3.6 0 1 0 -7.3 0M810.4 733.4a3.6 3.6 0 1 0 7.3 0a3.6 3.6 0 1 0 -7.3 0M811.7 737.7a3.6 3.6 0 1 0 7.3 0a3.6 3.6 0 1 0 -7.3 0M813.1 741.4a3.6 3.6 0 1 0 7.3 0a3.6 3.6 0 1 0 -7.3 0M814.4 746.3a3.6 3.6 0 1 0 7.3 0a3.6 3.6 0 1 0 -7.3 0M815.8 744.7a3.6 3.6 0 1 0 7.3 0a3.6 3.6 0 1 0 -7.3 0M817.1 748.9a3.6 3.6 0 1 0 7.3 0a3.6 3.6 0 1 0 -7.3 0M818.5 751.9a3.6 3.6 0 1 0 7.3 0a3.6 3.6 0 1 0 -7.3 0M819.8 754.9a3.6 3.6 0 1 0 7.3 0a3.6 3.6 0 1 0 -7.3 0M821.2 753.5a3.6 3.6 0 1 0 7.3 0a3.6 3.6 0 1 0 -7.3 0M822.5 755.8a3.6 3.6 0 1 0 7.3 0a3.6 3.6 0 1 0 -7.3 0M823.9 757.6a3.6 3.6 0 1 0 7.3 0a3.6 3.6 0 1 0 -7.3 0M825.2 757.3a3.6 3.6 0 1 0 7.3 0a3.6 3.6 0 1 0 -7.3 0M826.6 756.3a3.6 3.6 0 1 0 7.3 0a3.6 3.6 0 1 0 -7.3 0M827.9 758.6a3.6 3.6 0 1 0 7.3 0a3.6 3.6 0 1 0 -7.3 0M829.3 747.7a3.6 3.6 0 1 0 7.3 0a3.6 3.6 0 1 0 -7.3 0M830.6 726.4a3.6 3.6 0 1 0 7.3 0a3.6 3.6 0 1 0 -7.3 0M832 730.3a3.6 3.6 0 1 0 7.3 0a3.6 3.6 0 1 0 -7.3 0M833.3 745.8a3.6 3.6 0 1 0 7.3 0a3.6 3.6 0 1 0 -7.3 0M834.7 759.7a3.6 3.6 0 1 0 7.3 0a3.6 3.6 0 1 0 -7.3 0M836 772.2a3.6 3.6 0 1 0 7.3 0a3.6 3.6 0 1 0 -7.3 0M837.4 780.4a3.6 3.6 0 1 0 7.3 0a3.6 3.6 0 1 0 -7.3 0M838.7 784.2a3.6 3.6 0 1 0 7.3 0a3.6 3.6 0 1 0 -7.3 0M840.1 788.4a3.6 3.6 0 1 0 7.3 0a3.6 3.6 0 1 0 -7.3 0M841.4 792.5a3.6 3.6 0 1 0 7.3 0a3.6 3.6 0 1 0 -7.3 0M842.8 793a3.6 3.6 0 1 0 7.3 0a3.6 3.6 0 1 0 -7.3 0M844.1 794.5a3.6 3.6 0 1 0 7.3 0a3.6 3.6 0 1 0 -7.3 0M845.5 795.6a3.6 3.6 0 1 0 7.3 0a3.6 3.6 0 1 0 -7.3 0M846.8 797.1a3.6 3.6 0 1 0 7.3 0a3.6 3.6 0 1 0 -7.3 0M848.2 798.5a3.6 3.6 0 1 0 7.3 0a3.6 3.6 0 1 0 -7.3 0M849.5 798.8a3.6 3.6 0 1 0 7.3 0a3.6 3.6 0 1 0 -7.3 0M850.9 799.7a3.6 3.6 0 1 0 7.3 0a3.6 3.6 0 1 0 -7.3 0M852.2 800.4a3.6 3.6 0 1 0 7.3 0a3.6 3.6 0 1 0 -7.3 0M853.6 800.7a3.6 3.6 0 1 0 7.3 0a3.6 3.6 0 1 0 -7.3 0M854.9 801.4a3.6 3.6 0 1 0 7.3 0a3.6 3.6 0 1 0 -7.3 0M856.3 801.7a3.6 3.6 0 1 0 7.3 0a3.6 3.6 0 1 0 -7.3 0M857.6 802.2a3.6 3.6 0 1 0 7.3 0a3.6 3.6 0 1 0 -7.3 0M859 802.4a3.6 3.6 0 1 0 7.3 0a3.6 3.6 0 1 0 -7.3 0M860.3 802.8a3.6 3.6 0 1 0 7.3 0a3.6 3.6 0 1 0 -7.3 0M861.7 803.2a3.6 3.6 0 1 0 7.3 0a3.6 3.6 0 1 0 -7.3 0M863 803.5a3.6 3.6 0 1 0 7.3 0a3.6 3.6 0 1 0 -7.3 0M864.4 803.6a3.6 3.6 0 1 0 7.3 0a3.6 3.6 0 1 0 -7.3 0M865.7 803.6a3.6 3.6 0 1 0 7.3 0a3.6 3.6 0 1 0 -7.3 0M867.1 803.9a3.6 3.6 0 1 0 7.3 0a3.6 3.6 0 1 0 -7.3 0M868.4 803.8a3.6 3.6 0 1 0 7.3 0a3.6 3.6 0 1 0 -7.3 0M869.8 804.1a3.6 3.6 0 1 0 7.3 0a3.6 3.6 0 1 0 -7.3 0M871.1 804a3.6 3.6 0 1 0 7.3 0a3.6 3.6 0 1 0 -7.3 0M872.5 804a3.6 3.6 0 1 0 7.3 0a3.6 3.6 0 1 0 -7.3 0M873.8 804.2a3.6 3.6 0 1 0 7.3 0a3.6 3.6 0 1 0 -7.3 0M875.2 804.3a3.6 3.6 0 1 0 7.3 0a3.6 3.6 0 1 0 -7.3 0M876.5 804.1a3.6 3.6 0 1 0 7.3 0a3.6 3.6 0 1 0 -7.3 0M877.9 804.3a3.6 3.6 0 1 0 7.3 0a3.6 3.6 0 1 0 -7.3 0M879.2 804.1a3.6 3.6 0 1 0 7.3 0a3.6 3.6 0 1 0 -7.3 0M880.6 804.1a3.6 3.6 0 1 0 7.3 0a3.6 3.6 0 1 0 -7.3 0M881.9 804.3a3.6 3.6 0 1 0 7.3 0a3.6 3.6 0 1 0 -7.3 0M883.3 804.2a3.6 3.6 0 1 0 7.3 0a3.6 3.6 0 1 0 -7.3 0M884.6 804.3a3.6 3.6 0 1 0 7.3 0a3.6 3.6 0 1 0 -7.3 0M886 804.2a3.6 3.6 0 1 0 7.3 0a3.6 3.6 0 1 0 -7.3 0M887.3 804.5a3.6 3.6 0 1 0 7.3 0a3.6 3.6 0 1 0 -7.3 0M888.7 804.3a3.6 3.6 0 1 0 7.3 0a3.6 3.6 0 1 0 -7.3 0M890 804.2a3.6 3.6 0 1 0 7.3 0a3.6 3.6 0 1 0 -7.3 0M891.4 804.2a3.6 3.6 0 1 0 7.3 0a3.6 3.6 0 1 0 -7.3 0M892.7 804.1a3.6 3.6 0 1 0 7.3 0a3.6 3.6 0 1 0 -7.3 0M894.1 804.3a3.6 3.6 0 1 0 7.3 0a3.6 3.6 0 1 0 -7.3 0M895.4 804.3a3.6 3.6 0 1 0 7.3 0a3.6 3.6 0 1 0 -7.3 0M896.8 804.4a3.6 3.6 0 1 0 7.3 0a3.6 3.6 0 1 0 -7.3 0M898.1 804.3a3.6 3.6 0 1 0 7.3 0a3.6 3.6 0 1 0 -7.3 0M899.5 804.3a3.6 3.6 0 1 0 7.3 0a3.6 3.6 0 1 0 -7.3 0M900.8 804.4a3.6 3.6 0 1 0 7.3 0a3.6 3.6 0 1 0 -7.3 0M902.2 804.3a3.6 3.6 0 1 0 7.3 0a3.6 3.6 0 1 0 -7.3 0M903.5 804.4a3.6 3.6 0 1 0 7.3 0a3.6 3.6 0 1 0 -7.3 0M904.9 804.4a3.6 3.6 0 1 0 7.3 0a3.6 3.6 0 1 0 -7.3 0M906.2 804.5a3.6 3.6 0 1 0 7.3 0a3.6 3.6 0 1 0 -7.3 0M907.6 804.3a3.6 3.6 0 1 0 7.3 0a3.6 3.6 0 1 0 -7.3 0M908.9 804.1a3.6 3.6 0 1 0 7.3 0a3.6 3.6 0 1 0 -7.3 0M910.3 804.2a3.6 3.6 0 1 0 7.3 0a3.6 3.6 0 1 0 -7.3 0M911.6 804.3a3.6 3.6 0 1 0 7.3 0a3.6 3.6 0 1 0 -7.3 0M913 804a3.6 3.6 0 1 0 7.3 0a3.6 3.6 0 1 0 -7.3 0M914.3 804.1a3.6 3.6 0 1 0 7.3 0a3.6 3.6 0 1 0 -7.3 0M915.7 804.3a3.6 3.6 0 1 0 7.3 0a3.6 3.6 0 1 0 -7.3 0M917 804.2a3.6 3.6 0 1 0 7.3 0a3.6 3.6 0 1 0 -7.3 0M918.4 804.1a3.6 3.6 0 1 0 7.3 0a3.6 3.6 0 1 0 -7.3 0M919.7 804.5a3.6 3.6 0 1 0 7.3 0a3.6 3.6 0 1 0 -7.3 0M921.1 804.5a3.6 3.6 0 1 0 7.3 0a3.6 3.6 0 1 0 -7.3 0M922.4 804.3a3.6 3.6 0 1 0 7.3 0a3.6 3.6 0 1 0 -7.3 0M923.8 804.5a3.6 3.6 0 1 0 7.3 0a3.6 3.6 0 1 0 -7.3 0M925.1 804.6a3.6 3.6 0 1 0 7.3 0a3.6 3.6 0 1 0 -7.3 0M926.5 804.3a3.6 3.6 0 1 0 7.3 0a3.6 3.6 0 1 0 -7.3 0M927.8 804.7a3.6 3.6 0 1 0 7.3 0a3.6 3.6 0 1 0 -7.3 0M929.2 804.3a3.6 3.6 0 1 0 7.3 0a3.6 3.6 0 1 0 -7.3 0M930.5 804.3a3.6 3.6 0 1 0 7.3 0a3.6 3.6 0 1 0 -7.3 0M931.9 804.2a3.6 3.6 0 1 0 7.3 0a3.6 3.6 0 1 0 -7.3 0M933.2 804.3a3.6 3.6 0 1 0 7.3 0a3.6 3.6 0 1 0 -7.3 0M934.6 804.1a3.6 3.6 0 1 0 7.3 0a3.6 3.6 0 1 0 -7.3 0M935.9 804.3a3.6 3.6 0 1 0 7.3 0a3.6 3.6 0 1 0 -7.3 0M937.3 804.4a3.6 3.6 0 1 0 7.3 0a3.6 3.6 0 1 0 -7.3 0M938.6 804.4a3.6 3.6 0 1 0 7.3 0a3.6 3.6 0 1 0 -7.3 0M940 804.3a3.6 3.6 0 1 0 7.3 0a3.6 3.6 0 1 0 -7.3 0M941.3 804.5a3.6 3.6 0 1 0 7.3 0a3.6 3.6 0 1 0 -7.3 0M942.7 804.3a3.6 3.6 0 1 0 7.3 0a3.6 3.6 0 1 0 -7.3 0M944 804.5a3.6 3.6 0 1 0 7.3 0a3.6 3.6 0 1 0 -7.3 0M945.4 804.3a3.6 3.6 0 1 0 7.3 0a3.6 3.6 0 1 0 -7.3 0M946.7 804.4a3.6 3.6 0 1 0 7.3 0a3.6 3.6 0 1 0 -7.3 0M948.1 804.3a3.6 3.6 0 1 0 7.3 0a3.6 3.6 0 1 0 -7.3 0M949.4 804.4a3.6 3.6 0 1 0 7.3 0a3.6 3.6 0 1 0 -7.3 0M950.8 804.3a3.6 3.6 0 1 0 7.3 0a3.6 3.6 0 1 0 -7.3 0M952.1 804.2a3.6 3.6 0 1 0 7.3 0a3.6 3.6 0 1 0 -7.3 0M953.5 804.2a3.6 3.6 0 1 0 7.3 0a3.6 3.6 0 1 0 -7.3 0M954.8 804.3a3.6 3.6 0 1 0 7.3 0a3.6 3.6 0 1 0 -7.3 0M956.2 804.3a3.6 3.6 0 1 0 7.3 0a3.6 3.6 0 1 0 -7.3 0M957.5 804.1a3.6 3.6 0 1 0 7.3 0a3.6 3.6 0 1 0 -7.3 0M958.9 804.2a3.6 3.6 0 1 0 7.3 0a3.6 3.6 0 1 0 -7.3 0M960.2 804.2a3.6 3.6 0 1 0 7.3 0a3.6 3.6 0 1 0 -7.3 0M961.6 804.2a3.6 3.6 0 1 0 7.3 0a3.6 3.6 0 1 0 -7.3 0M962.9 804.3a3.6 3.6 0 1 0 7.3 0a3.6 3.6 0 1 0 -7.3 0M964.3 804.3a3.6 3.6 0 1 0 7.3 0a3.6 3.6 0 1 0 -7.3 0M965.6 804.2a3.6 3.6 0 1 0 7.3 0a3.6 3.6 0 1 0 -7.3 0M967 804.3a3.6 3.6 0 1 0 7.3 0a3.6 3.6 0 1 0 -7.3 0M968.3 804.1a3.6 3.6 0 1 0 7.3 0a3.6 3.6 0 1 0 -7.3 0M969.7 803.9a3.6 3.6 0 1 0 7.3 0a3.6 3.6 0 1 0 -7.3 0M971 804.1a3.6 3.6 0 1 0 7.3 0a3.6 3.6 0 1 0 -7.3 0M972.4 804a3.6 3.6 0 1 0 7.3 0a3.6 3.6 0 1 0 -7.3 0M973.7 804a3.6 3.6 0 1 0 7.3 0a3.6 3.6 0 1 0 -7.3 0M975.1 804a3.6 3.6 0 1 0 7.3 0a3.6 3.6 0 1 0 -7.3 0M976.4 804.2a3.6 3.6 0 1 0 7.3 0a3.6 3.6 0 1 0 -7.3 0M977.8 804a3.6 3.6 0 1 0 7.3 0a3.6 3.6 0 1 0 -7.3 0M979.1 804.2a3.6 3.6 0 1 0 7.3 0a3.6 3.6 0 1 0 -7.3 0M980.5 804.1a3.6 3.6 0 1 0 7.3 0a3.6 3.6 0 1 0 -7.3 0M981.8 804.1a3.6 3.6 0 1 0 7.3 0a3.6 3.6 0 1 0 -7.3 0M983.2 804a3.6 3.6 0 1 0 7.3 0a3.6 3.6 0 1 0 -7.3 0M984.5 804.2a3.6 3.6 0 1 0 7.3 0a3.6 3.6 0 1 0 -7.3 0M985.9 804.3a3.6 3.6 0 1 0 7.3 0a3.6 3.6 0 1 0 -7.3 0M987.2 804.3a3.6 3.6 0 1 0 7.3 0a3.6 3.6 0 1 0 -7.3 0M988.6 804.5a3.6 3.6 0 1 0 7.3 0a3.6 3.6 0 1 0 -7.3 0M989.9 804.4a3.6 3.6 0 1 0 7.3 0a3.6 3.6 0 1 0 -7.3 0M669.1 165.7a3.6 3.6 0 1 0 7.3 0a3.6 3.6 0 1 0 -7.3 0M670.4 205.6a3.6 3.6 0 1 0 7.3 0a3.6 3.6 0 1 0 -7.3 0M690.8 130a3.6 3.6 0 1 0 7.3 0a3.6 3.6 0 1 0 -7.3 0M692 153.8a3.6 3.6 0 1 0 7.3 0a3.6 3.6 0 1 0 -7.3 0M693.1 178a3.6 3.6 0 1 0 7.3 0a3.6 3.6 0 1 0 -7.3 0M694.4 196.8a3.6 3.6 0 1 0 7.3 0a3.6 3.6 0 1 0 -7.3 0M696.4 213a3.6 3.6 0 1 0 7.3 0a3.6 3.6 0 1 0 -7.3 0M697.4 225.5a3.6 3.6 0 1 0 7.3 0a3.6 3.6 0 1 0 -7.3 0M698.9 236a3.6 3.6 0 1 0 7.3 0a3.6 3.6 0 1 0 -7.3 0M700.4 245a3.6 3.6 0 1 0 7.3 0a3.6 3.6 0 1 0 -7.3 0M702.4 251a3.6 3.6 0 1 0 7.3 0a3.6 3.6 0 1 0 -7.3 0M703.9 257.5a3.6 3.6 0 1 0 7.3 0a3.6 3.6 0 1 0 -7.3 0M706.4 266a3.6 3.6 0 1 0 7.3 0a3.6 3.6 0 1 0 -7.3 0M708.9 271a3.6 3.6 0 1 0 7.3 0a3.6 3.6 0 1 0 -7.3 0M711.4 275a3.6 3.6 0 1 0 7.3 0a3.6 3.6 0 1 0 -7.3 0M712.4 277.5a3.6 3.6 0 1 0 7.3 0a3.6 3.6 0 1 0 -7.3 0M768.9 141a3.6 3.6 0 1 0 7.3 0a3.6 3.6 0 1 0 -7.3 0M770.4 183a3.6 3.6 0 1 0 7.3 0a3.6 3.6 0 1 0 -7.3 0M771.4 218a3.6 3.6 0 1 0 7.3 0a3.6 3.6 0 1 0 -7.3 0M772.4 243a3.6 3.6 0 1 0 7.3 0a3.6 3.6 0 1 0 -7.3 0M773.9 265a3.6 3.6 0 1 0 7.3 0a3.6 3.6 0 1 0 -7.3 0M775.4 283a3.6 3.6 0 1 0 7.3 0a3.6 3.6 0 1 0 -7.3 0M776.4 296a3.6 3.6 0 1 0 7.3 0a3.6 3.6 0 1 0 -7.3 0M777.4 307.5a3.6 3.6 0 1 0 7.3 0a3.6 3.6 0 1 0 -7.3 0M778.9 319a3.6 3.6 0 1 0 7.3 0a3.6 3.6 0 1 0 -7.3 0M780.4 329a3.6 3.6 0 1 0 7.3 0a3.6 3.6 0 1 0 -7.3 0M781.9 336a3.6 3.6 0 1 0 7.3 0a3.6 3.6 0 1 0 -7.3 0M783.4 344a3.6 3.6 0 1 0 7.3 0a3.6 3.6 0 1 0 -7.3 0M784.4 351a3.6 3.6 0 1 0 7.3 0a3.6 3.6 0 1 0 -7.3 0M786.4 355a3.6 3.6 0 1 0 7.3 0a3.6 3.6 0 1 0 -7.3 0M787.4 360a3.6 3.6 0 1 0 7.3 0a3.6 3.6 0 1 0 -7.3 0M788.4 364a3.6 3.6 0 1 0 7.3 0a3.6 3.6 0 1 0 -7.3 0M789.4 380a3.6 3.6 0 1 0 7.3 0a3.6 3.6 0 1 0 -7.3 0M790.9 458a3.6 3.6 0 1 0 7.3 0a3.6 3.6 0 1 0 -7.3 0M792.4 500.5a3.6 3.6 0 1 0 7.3 0a3.6 3.6 0 1 0 -7.3 0M793.9 547.5a3.6 3.6 0 1 0 7.3 0a3.6 3.6 0 1 0 -7.3 0M795.4 582a3.6 3.6 0 1 0 7.3 0a3.6 3.6 0 1 0 -7.3 0M796.4 606a3.6 3.6 0 1 0 7.3 0a3.6 3.6 0 1 0 -7.3 0M797.4 621a3.6 3.6 0 1 0 7.3 0a3.6 3.6 0 1 0 -7.3 0M798.9 651a3.6 3.6 0 1 0 7.3 0a3.6 3.6 0 1 0 -7.3 0M800.4 669a3.6 3.6 0 1 0 7.3 0a3.6 3.6 0 1 0 -7.3 0M801.4 679.5a3.6 3.6 0 1 0 7.3 0a3.6 3.6 0 1 0 -7.3 0M802.4 692.5a3.6 3.6 0 1 0 7.3 0a3.6 3.6 0 1 0 -7.3 0M819.4 740.5a3.6 3.6 0 1 0 7.3 0a3.6 3.6 0 1 0 -7.3 0M828.9 747a3.6 3.6 0 1 0 7.3 0a3.6 3.6 0 1 0 -7.3 0" fill="none" stroke="#FF0000" stroke-width="2.2"/>
<path d="M132.8 798.8h0M134.1 745h0M135.4 727.3h0M136.8 708.1h0M138.1 696.5h0M139.5 688h0M140.8 681.6h0M142.2 674.7h0M143.5 666.8h0M144.9 658.7h0M146.2 650.7h0M147.6 642.5h0M148.9 633.8h0M150.3 624.2h0M151.6 614.9h0M153 607.6h0M154.3 601.7h0M155.7 596.6h0M157 591.8h0M158.4 587.2h0M159.7 582.8h0M161.1 578.7h0M162.4 574.7h0M163.8 570.9h0M165.1 567.2h0M166.5 563.6h0M167.8 560.1h0M169.2 556.6h0M170.5 553.2h0M171.9 549.9h0M173.2 546.6h0M174.6 543.4h0M175.9 540.3h0M177.3 537.2h0M178.6 534.1h0M180 531.1h0M181.3 528.1h0M182.7 525.2h0M184 522.2h0M185.4 519.3h0M186.7 516.3h0M188.1 513.4h0M189.4 510.4h0M190.8 507.4h0M192.1 504.6h0M193.5 501.7h0M194.8 499h0M196.2 496.1h0M197.5 493.3h0M198.9 490.4h0M200.2 487.4h0M201.6 484.5h0M202.9 481.6h0M204.3 478.8h0M205.6 475.9h0M207 473.1h0M208.3 470.3h0M209.7 467.6h0M211 465h0M212.4 462.5h0M213.7 460h0M215.1 457.7h0M216.4 455.4h0M217.8 453.2h0M219.1 451h0M220.5 448.9h0M221.8 446.8h0M223.2 444.8h0M224.5 442.8h0M225.9 440.9h0M227.2 439h0M228.6 437.1h0M229.9 435.2h0M231.3 433.4h0M232.6 431.6h0M234 429.8h0M235.3 428.1h0M236.7 426.3h0M238 424.6h0M239.4 422.9h0M240.7 421.2h0M242.1 419.6h0M243.4 418.1h0M244.8 416.6h0M246.1 415.1h0M247.5 413.8h0M248.8 412.4h0M250.2 411.1h0M251.5 409.8h0M252.9 408.5h0M254.2 407.3h0M255.6 406.1h0M256.9 404.8h0M258.3 403.6h0M259.6 402.4h0M261 401.3h0M262.3 400.1h0M263.7 398.9h0M265 397.7h0M266.4 396.6h0M267.7 395.5h0M269.1 394.3h0M270.4 393.2h0M271.8 392.2h0M273.1 391.1h0M274.5 390.1h0M275.8 389h0M277.2 388h0M278.5 387h0M279.9 386h0M281.2 385h0M282.6 384h0M283.9 383h0M285.3 382h0M286.6 381h0M288 380h0M289.3 379h0M290.7 377.9h0M292 376.9h0M293.4 375.9h0M294.7 374.9h0M296.1 373.9h0M297.4 373h0M298.8 372h0M300.1 371.1h0M301.5 370.1h0M302.8 369.2h0M304.2 368.2h0M305.5 367.3h0M306.9 366.4h0M308.2 365.5h0M309.6 364.6h0M310.9 363.7h0M312.3 362.9h0M313.6 362.1h0M315 361.3h0M316.3 360.5h0M317.7 359.7h0M319 359h0M320.4 358.2h0M321.7 357.5h0M323.1 356.8h0M324.4 356.1h0M325.8 355.4h0M327.1 354.7h0M328.5 354h0M329.8 353.4h0M331.2 352.7h0M332.5 352.1h0M333.9 351.4h0M335.2 350.8h0M336.6 350.1h0M337.9 349.5h0M339.3 348.9h0M340.6 348.3h0M342 347.7h0M343.3 347.1h0M344.7 346.5h0M346 346h0M347.4 345.4h0M348.7 344.8h0M350.1 344.3h0M351.4 343.8h0M352.8 343.2h0M354.1 342.7h0M355.5 342.2h0M356.8 341.7h0M358.2 341.1h0M359.5 340.6h0M360.9 340.1h0M362.2 339.6h0M363.6 339h0M364.9 338.5h0M366.3 338h0M367.6 337.5h0M369 337h0M370.3 336.5h0M371.7 336h0M373 335.5h0M374.4 335h0M375.7 334.4h0M377.1 333.8h0M378.4 333.3h0M379.8 332.7h0M381.1 332.1h0M382.5 331.5h0M383.8 330.9h0M385.2 330.2h0M386.5 329.6h0M387.9 329h0M389.2 328.4h0M390.6 327.7h0M391.9 327.1h0M393.3 326.5h0M394.6 325.9h0M396 325.3h0M397.3 324.7h0M398.7 324.2h0M400 323.6h0M401.4 323h0M402.7 322.4h0M404.1 321.9h0M405.4 321.3h0M406.8 320.7h0M408.1 320.2h0M409.5 319.6h0M410.8 319.1h0M412.2 318.5h0M413.5 318h0M414.9 317.4h0M416.2 316.9h0M417.6 316.4h0M418.9 315.9h0M420.3 315.4h0M421.6 314.8h0M423 314.3h0M424.3 313.8h0M425.7 313.2h0M427 312.6h0M428.4 312.1h0M429.7 311.5h0M431.1 310.9h0M432.4 310.3h0M433.8 309.7h0M435.1 309.1h0M436.5 308.5h0M437.8 307.8h0M439.2 307.2h0M440.5 306.6h0M441.9 305.9h0M443.2 305.2h0M444.6 304.5h0M445.9 303.8h0M447.3 303h0M448.6 302.3h0M450 301.5h0M451.3 300.7h0M452.7 300h0M454 299.2h0M455.4 298.5h0M456.7 297.7h0M458.1 297h0M459.4 296.3h0M460.8 295.6h0M462.1 294.9h0M463.5 294.3h0M464.8 293.6h0M466.2 292.9h0M467.5 292.3h0M468.9 291.6h0M470.2 291h0M471.6 290.3h0M472.9 289.7h0M474.3 289h0M475.6 288.4h0M477 287.8h0M478.3 287.1h0M479.7 286.5h0M481 285.8h0M482.4 285.2h0M483.7 284.6h0M485.1 284h0M486.4 283.4h0M487.8 282.8h0M489.1 282.3h0M490.5 281.8h0M491.8 281.3h0M493.2 280.8h0M494.5 280.3h0M495.9 279.8h0M497.2 279.3h0M498.6 278.8h0M499.9 278.4h0M501.3 278h0M502.6 277.5h0M504 277.1h0M505.3 276.7h0M506.7 276.3h0M508 275.9h0M509.4 275.5h0M510.7 275.1h0M512.1 274.8h0M513.4 274.4h0M514.8 274.1h0M516.1 273.7h0M517.5 273.4h0M518.8 273h0M520.2 272.7h0M521.5 272.4h0M522.9 272h0M524.2 271.7h0M525.6 271.4h0M526.9 271.1h0M528.3 270.8h0M529.6 270.5h0M531 270.2h0M532.3 269.9h0M533.7 269.6h0M535 269.3h0M536.4 269.1h0M537.7 268.8h0M539.1 268.6h0M540.4 268.3h0M541.8 268.1h0M543.1 267.8h0M544.5 267.6h0M545.8 267.4h0M547.2 267.1h0M548.5 266.9h0M549.9 266.7h0M551.2 266.5h0M552.6 266.3h0M553.9 266.1h0M555.3 266h0M556.6 265.8h0M558 265.6h0M559.3 265.5h0M560.7 265.3h0M562 265.2h0M563.4 265h0M564.7 264.9h0M566.1 264.8h0M567.4 264.6h0M568.8 264.5h0M570.1 264.4h0M571.5 264.3h0M572.8 264.2h0M574.2 264.1h0M575.5 264h0M576.9 263.9h0M578.2 263.8h0M579.6 263.7h0M580.9 263.6h0M582.3 263.5h0M583.6 263.4h0M585 263.3h0M586.3 263.3h0M587.7 263.2h0M589 263.1h0M590.4 263h0M591.7 263h0M593.1 262.9h0M594.4 262.9h0M595.8 262.8h0M597.1 262.8h0M598.5 262.7h0M599.8 262.7h0M601.2 262.7h0M602.5 262.6h0M603.9 262.6h0M605.2 262.6h0M606.6 262.6h0M607.9 262.5h0M609.3 262.5h0M610.6 262.5h0M612 262.5h0M613.3 262.4h0M614.7 262.4h0M616 262.4h0M617.4 262.4h0M618.7 262.4h0M620.1 262.4h0M621.4 262.3h0M622.8 262.3h0M624.1 262.3h0M625.5 262.3h0M626.8 262.3h0M628.2 262.3h0M629.5 262.3h0M630.9 262.3h0M632.2 262.3h0M633.6 262.3h0M634.9 262.3h0M636.3 262.3h0M637.6 262.3h0M639 262.3h0M640.3 262.3h0M641.7 262.3h0M643 262.3h0M644.4 262.3h0M645.7 262.3h0M647.1 262.3h0M648.4 262.3h0M649.8 262.3h0M651.1 262.3h0M652.5 262.3h0M653.8 262.3h0M655.2 262.3h0M656.5 262.3h0M657.9 262.3h0M659.2 262.3h0M660.6 262.3h0M661.9 262.3h0M663.3 262.3h0M664.6 262.3h0M666 262.3h0M667.3 262.3h0M668.7 262.2h0M670 262.2h0M671.4 262.2h0M672.7 262.2h0M674.1 262.2h0M675.4 262.2h0M676.8 262.2h0M678.1 262.2h0M679.5 262.2h0M680.8 262.2h0M682.2 262.2h0M683.5 262.2h0M684.9 262.2h0M686.2 262.2h0M687.6 262.2h0M688.9 262.2h0M690.3 262.2h0M691.6 262.2h0M693 262.2h0M694.3 262.2h0M695.7 262.2h0M697 262.2h0M698.4 262.2h0M699.7 262.2h0M701.1 262.2h0M702.4 262.2h0M703.8 262.2h0M705.1 262.2h0M706.5 262.2h0M707.8 262.2h0M709.2 262.2h0M710.5 262.2h0M711.9 262.2h0M713.2 262.2h0M714.6 262.2h0M715.9 262.2h0M717.3 262.2h0M718.6 262.2h0M720 262.2h0M721.3 262.2h0M722.7 262.2h0M724 262.2h0M725.4 262.2h0M726.7 262.2h0M728.1 262.2h0M729.4 262.2h0M730.8 262.2h0M732.1 262.2h0M733.5 262.2h0M734.8 262.2h0M736.2 262.2h0M737.5 262.2h0M738.9 262.2h0M740.2 262.2h0M741.6 262.2h0M742.9 262.2h0M744.3 262.2h0M745.6 262.2h0M747 262.2h0M748.3 262.2h0M749.7 262.2h0M751 262.2h0M752.4 262.2h0M753.7 262.2h0M755.1 262.2h0M756.4 262.2h0M757.8 262.2h0M759.1 262.2h0M760.5 262.2h0M761.8 262.2h0M763.2 262.2h0M764.5 262.2h0M765.9 262.2h0M767.2 262.2h0M768.6 262.2h0M769.9 262.2h0M771.3 262.2h0M772.6 262.2h0M774 262.2h0M775.3 262.2h0M776.7 262.2h0M778 262.2h0M779.4 262.2h0M780.7 262.2h0M782.1 262.2h0M783.4 262.2h0M784.8 262.1h0M786.1 262.1h0M787.5 262.1h0M788.8 262.1h0M790.2 262.1h0M791.5 262.1h0M792.9 262.1h0M794.2 262.1h0M795.6 262.1h0M796.9 262.1h0M798.3 262.1h0M799.6 262.1h0M801 262.1h0M802.3 262.1h0M803.7 262.1h0M805 262.1h0M806.4 262.1h0M807.7 262.1h0M809.1 262.1h0M810.4 262.1h0M811.8 262.1h0M813.1 262.1h0M814.5 262.1h0M815.8 262.1h0M817.2 262.1h0M818.5 262.1h0M819.9 262.1h0M821.2 262.1h0M822.6 262.1h0M823.9 262.1h0M825.3 262.1h0M826.6 262.1h0M828 262.1h0M829.3 262.1h0M830.7 262.1h0M832 262.1h0M833.4 262.1h0M834.7 262.1h0M836.1 262.1h0M837.4 262.1h0M838.8 262.1h0M840.1 262.1h0M841.5 262.1h0M842.8 262.1h0M844.2 262.1h0M845.5 262.1h0M846.9 262.1h0M848.2 262.1h0M849.6 262.1h0M850.9 262.1h0M852.3 262.1h0M853.6 262.1h0M855 262.1h0M856.3 262.1h0M857.7 262.1h0M859 262.1h0M860.4 262.1h0M861.7 262.1h0M863.1 262.1h0M864.4 262.1h0M865.8 262.1h0M867.1 262.1h0M868.5 262.1h0M869.8 262.1h0M871.2 262.1h0M872.5 262.1h0M873.9 262.1h0M875.2 262.1h0M876.6 262.1h0M877.9 262.1h0M879.3 262.1h0M880.6 262.1h0M882 262.1h0M883.3 262.1h0M884.7 262.1h0M886 262.1h0M887.4 262.1h0M888.7 262.1h0M890.1 262.1h0M891.4 262.1h0M892.8 262.1h0M894.1 262.1h0M895.5 262.1h0M896.8 262.1h0M898.2 262.1h0M899.5 262.1h0M900.9 262.1h0M902.2 262.1h0M903.6 262.1h0M904.9 262.1h0M906.3 262.1h0M907.6 262.1h0M909 262.1h0M910.3 262.1h0M911.7 262.1h0M913 262.1h0M914.4 262.1h0M915.7 262.1h0M917.1 262.1h0M918.4 262.1h0M919.8 262.1h0M921.1 262.1h0M922.5 262.1h0M923.8 262.1h0M925.2 262.1h0M926.5 262.1h0M927.9 262.1h0M929.2 262.1h0M930.6 262.1h0M931.9 262.1h0M933.3 262.1h0M934.6 262.1h0M936 262.1h0M937.3 262.1h0M938.7 262.1h0M940 262.1h0M941.4 262.1h0M942.7 262.1h0M944.1 262.1h0M945.4 262.1h0M946.8 262.1h0M948.1 262.1h0M949.5 262.1h0M950.8 262.1h0M952.2 262.1h0M953.5 262.1h0M954.9 262.1h0M956.2 262.1h0M957.6 262.1h0M958.9 262.1h0M960.3 262.1h0M961.6 262.1h0M963 262.1h0M964.3 262.1h0M965.7 262.1h0M967 262.1h0M968.4 262.1h0M969.7 262.1h0M971.1 262.1h0M972.4 262.1h0M973.8 262.1h0M975.1 262.1h0M976.5 262.1h0M977.8 262.1h0M979.2 262.1h0M980.5 262.1h0M981.9 262.1h0M983.2 262.1h0M984.6 262.1h0M985.9 262.1h0M987.3 262.1h0M988.6 262.1h0M990 262.1h0M991.3 262.1h0M992.7 262.1h0" fill="none" stroke="#FF0000" stroke-width="6.6" stroke-linecap="round"/>
<path d="M133.4 718.6l3.5 3.5l-3.5 3.5l-3.5 -3.5zM135.7 690.6l3.5 3.5l-3.5 3.5l-3.5 -3.5zM138 665l3.5 3.5l-3.5 3.5l-3.5 -3.5zM140.3 632l3.5 3.5l-3.5 3.5l-3.5 -3.5zM142.6 606.3l3.5 3.5l-3.5 3.5l-3.5 -3.5zM144.9 589.1l3.5 3.5l-3.5 3.5l-3.5 -3.5zM147.2 571l3.5 3.5l-3.5 3.5l-3.5 -3.5zM149.5 559l3.5 3.5l-3.5 3.5l-3.5 -3.5zM151.8 546.9l3.5 3.5l-3.5 3.5l-3.5 -3.5zM154.1 533.4l3.5 3.5l-3.5 3.5l-3.5 -3.5zM156.4 524.5l3.5 3.5l-3.5 3.5l-3.5 -3.5zM158.7 515l3.5 3.5l-3.5 3.5l-3.5 -3.5zM161 507.4l3.5 3.5l-3.5 3.5l-3.5 -3.5zM163.3 501.9l3.5 3.5l-3.5 3.5l-3.5 -3.5zM165.6 495.9l3.5 3.5l-3.5 3.5l-3.5 -3.5zM167.9 490.6l3.5 3.5l-3.5 3.5l-3.5 -3.5zM170.2 486.5l3.5 3.5l-3.5 3.5l-3.5 -3.5zM172.5 482.1l3.5 3.5l-3.5 3.5l-3.5 -3.5zM174.8 476.5l3.5 3.5l-3.5 3.5l-3.5 -3.5zM177.1 471.3l3.5 3.5l-3.5 3.5l-3.5 -3.5zM179.4 469.3l3.5 3.5l-3.5 3.5l-3.5 -3.5zM181.7 464.7l3.5 3.5l-3.5 3.5l-3.5 -3.5zM184 460.7l3.5 3.5l-3.5 3.5l-3.5 -3.5zM186.3 456.1l3.5 3.5l-3.5 3.5l-3.5 -3.5zM188.6 452.5l3.5 3.5l-3.5 3.5l-3.5 -3.5zM190.9 446l3.5 3.5l-3.5 3.5l-3.5 -3.5zM193.2 432.1l3.5 3.5l-3.5 3.5l-3.5 -3.5zM195.5 418.8l3.5 3.5l-3.5 3.5l-3.5 -3.5zM197.8 410.4l3.5 3.5l-3.5 3.5l-3.5 -3.5zM200.1 402.2l3.5 3.5l-3.5 3.5l-3.5 -3.5zM202.4 387.3l3.5 3.5l-3.5 3.5l-3.5 -3.5zM204.7 370.8l3.5 3.5l-3.5 3.5l-3.5 -3.5zM207 356.8l3.5 3.5l-3.5 3.5l-3.5 -3.5zM209.3 344.7l3.5 3.5l-3.5 3.5l-3.5 -3.5zM211.6 333.9l3.5 3.5l-3.5 3.5l-3.5 -3.5zM213.9 319.7l3.5 3.5l-3.5 3.5l-3.5 -3.5zM216.2 305.2l3.5 3.5l-3.5 3.5l-3.5 -3.5zM218.5 299.4l3.5 3.5l-3.5 3.5l-3.5 -3.5zM220.8 294.9l3.5 3.5l-3.5 3.5l-3.5 -3.5zM223.1 289.1l3.5 3.5l-3.5 3.5l-3.5 -3.5zM225.4 284l3.5 3.5l-3.5 3.5l-3.5 -3.5zM227.7 280.3l3.5 3.5l-3.5 3.5l-3.5 -3.5zM230 277.1l3.5 3.5l-3.5 3.5l-3.5 -3.5zM232.3 271.5l3.5 3.5l-3.5 3.5l-3.5 -3.5zM234.6 269.8l3.5 3.5l-3.5 3.5l-3.5 -3.5zM236.9 267.7l3.5 3.5l-3.5 3.5l-3.5 -3.5zM239.2 266.4l3.5 3.5l-3.5 3.5l-3.5 -3.5zM241.5 265.1l3.5 3.5l-3.5 3.5l-3.5 -3.5zM243.8 263.4l3.5 3.5l-3.5 3.5l-3.5 -3.5zM246.1 262.9l3.5 3.5l-3.5 3.5l-3.5 -3.5zM248.4 262.8l3.5 3.5l-3.5 3.5l-3.5 -3.5zM250.7 262.1l3.5 3.5l-3.5 3.5l-3.5 -3.5zM253 261.5l3.5 3.5l-3.5 3.5l-3.5 -3.5zM255.3 261l3.5 3.5l-3.5 3.5l-3.5 -3.5zM257.6 259.7l3.5 3.5l-3.5 3.5l-3.5 -3.5zM259.9 259.2l3.5 3.5l-3.5 3.5l-3.5 -3.5zM262.2 259.7l3.5 3.5l-3.5 3.5l-3.5 -3.5zM264.5 257.4l3.5 3.5l-3.5 3.5l-3.5 -3.5zM266.8 257.2l3.5 3.5l-3.5 3.5l-3.5 -3.5zM269.1 255.1l3.5 3.5l-3.5 3.5l-3.5 -3.5zM271.4 255.2l3.5 3.5l-3.5 3.5l-3.5 -3.5zM273.7 254l3.5 3.5l-3.5 3.5l-3.5 -3.5zM276 252.4l3.5 3.5l-3.5 3.5l-3.5 -3.5zM278.3 251.9l3.5 3.5l-3.5 3.5l-3.5 -3.5zM280.6 249.3l3.5 3.5l-3.5 3.5l-3.5 -3.5zM282.9 247.8l3.5 3.5l-3.5 3.5l-3.5 -3.5zM285.2 246l3.5 3.5l-3.5 3.5l-3.5 -3.5zM287.5 242.8l3.5 3.5l-3.5 3.5l-3.5 -3.5zM289.8 241.5l3.5 3.5l-3.5 3.5l-3.5 -3.5zM292.1 237.3l3.5 3.5l-3.5 3.5l-3.5 -3.5zM294.4 234.9l3.5 3.5l-3.5 3.5l-3.5 -3.5zM296.7 232l3.5 3.5l-3.5 3.5l-3.5 -3.5zM299 231.1l3.5 3.5l-3.5 3.5l-3.5 -3.5zM301.3 229.7l3.5 3.5l-3.5 3.5l-3.5 -3.5zM303.6 228.2l3.5 3.5l-3.5 3.5l-3.5 -3.5zM305.9 226.8l3.5 3.5l-3.5 3.5l-3.5 -3.5zM308.2 226.5l3.5 3.5l-3.5 3.5l-3.5 -3.5zM310.5 226.6l3.5 3.5l-3.5 3.5l-3.5 -3.5zM312.8 224.7l3.5 3.5l-3.5 3.5l-3.5 -3.5zM315.1 224l3.5 3.5l-3.5 3.5l-3.5 -3.5zM317.4 225.5l3.5 3.5l-3.5 3.5l-3.5 -3.5zM319.7 229.2l3.5 3.5l-3.5 3.5l-3.5 -3.5zM322 230.2l3.5 3.5l-3.5 3.5l-3.5 -3.5zM324.3 230.1l3.5 3.5l-3.5 3.5l-3.5 -3.5zM326.6 230.6l3.5 3.5l-3.5 3.5l-3.5 -3.5zM328.9 229.9l3.5 3.5l-3.5 3.5l-3.5 -3.5zM331.2 230.7l3.5 3.5l-3.5 3.5l-3.5 -3.5zM333.5 230.2l3.5 3.5l-3.5 3.5l-3.5 -3.5zM335.8 228l3.5 3.5l-3.5 3.5l-3.5 -3.5zM338.1 225.2l3.5 3.5l-3.5 3.5l-3.5 -3.5zM340.4 223l3.5 3.5l-3.5 3.5l-3.5 -3.5zM342.7 221.3l3.5 3.5l-3.5 3.5l-3.5 -3.5zM345 218.5l3.5 3.5l-3.5 3.5l-3.5 -3.5zM347.3 214.3l3.5 3.5l-3.5 3.5l-3.5 -3.5zM349.6 214.7l3.5 3.5l-3.5 3.5l-3.5 -3.5zM351.9 214.6l3.5 3.5l-3.5 3.5l-3.5 -3.5zM354.2 212.4l3.5 3.5l-3.5 3.5l-3.5 -3.5zM356.5 212l3.5 3.5l-3.5 3.5l-3.5 -3.5zM358.8 210l3.5 3.5l-3.5 3.5l-3.5 -3.5zM361.1 210.7l3.5 3.5l-3.5 3.5l-3.5 -3.5zM363.4 208.6l3.5 3.5l-3.5 3.5l-3.5 -3.5zM365.7 207.7l3.5 3.5l-3.5 3.5l-3.5 -3.5zM368 207.6l3.5 3.5l-3.5 3.5l-3.5 -3.5zM370.3 208.7l3.5 3.5l-3.5 3.5l-3.5 -3.5zM372.6 205.9l3.5 3.5l-3.5 3.5l-3.5 -3.5zM374.9 204.6l3.5 3.5l-3.5 3.5l-3.5 -3.5zM377.2 205.2l3.5 3.5l-3.5 3.5l-3.5 -3.5zM379.5 204.4l3.5 3.5l-3.5 3.5l-3.5 -3.5zM381.8 204.8l3.5 3.5l-3.5 3.5l-3.5 -3.5zM384.1 202.1l3.5 3.5l-3.5 3.5l-3.5 -3.5zM386.4 201.3l3.5 3.5l-3.5 3.5l-3.5 -3.5zM388.7 201.6l3.5 3.5l-3.5 3.5l-3.5 -3.5zM391 201.6l3.5 3.5l-3.5 3.5l-3.5 -3.5zM393.3 201l3.5 3.5l-3.5 3.5l-3.5 -3.5zM395.6 201l3.5 3.5l-3.5 3.5l-3.5 -3.5zM397.9 198.7l3.5 3.5l-3.5 3.5l-3.5 -3.5zM400.2 198.6l3.5 3.5l-3.5 3.5l-3.5 -3.5zM402.5 198.6l3.5 3.5l-3.5 3.5l-3.5 -3.5zM404.8 198.9l3.5 3.5l-3.5 3.5l-3.5 -3.5zM407.1 198.3l3.5 3.5l-3.5 3.5l-3.5 -3.5zM409.4 197.3l3.5 3.5l-3.5 3.5l-3.5 -3.5zM411.7 196.5l3.5 3.5l-3.5 3.5l-3.5 -3.5zM414 197.4l3.5 3.5l-3.5 3.5l-3.5 -3.5zM416.3 197.1l3.5 3.5l-3.5 3.5l-3.5 -3.5zM418.6 198.4l3.5 3.5l-3.5 3.5l-3.5 -3.5zM420.9 196.5l3.5 3.5l-3.5 3.5l-3.5 -3.5zM423.2 197.8l3.5 3.5l-3.5 3.5l-3.5 -3.5zM425.5 195.9l3.5 3.5l-3.5 3.5l-3.5 -3.5zM427.8 196.4l3.5 3.5l-3.5 3.5l-3.5 -3.5zM430.1 196.4l3.5 3.5l-3.5 3.5l-3.5 -3.5zM432.4 196.6l3.5 3.5l-3.5 3.5l-3.5 -3.5zM434.7 195.5l3.5 3.5l-3.5 3.5l-3.5 -3.5zM437 194l3.5 3.5l-3.5 3.5l-3.5 -3.5zM439.3 192.7l3.5 3.5l-3.5 3.5l-3.5 -3.5zM441.6 190.8l3.5 3.5l-3.5 3.5l-3.5 -3.5zM443.9 190.2l3.5 3.5l-3.5 3.5l-3.5 -3.5zM446.2 188.3l3.5 3.5l-3.5 3.5l-3.5 -3.5zM448.5 187l3.5 3.5l-3.5 3.5l-3.5 -3.5zM450.8 186.6l3.5 3.5l-3.5 3.5l-3.5 -3.5zM453.1 184.4l3.5 3.5l-3.5 3.5l-3.5 -3.5zM455.4 183.7l3.5 3.5l-3.5 3.5l-3.5 -3.5zM457.7 183.1l3.5 3.5l-3.5 3.5l-3.5 -3.5zM460 182.7l3.5 3.5l-3.5 3.5l-3.5 -3.5zM462.3 182.6l3.5 3.5l-3.5 3.5l-3.5 -3.5zM464.6 181.2l3.5 3.5l-3.5 3.5l-3.5 -3.5zM466.9 182.7l3.5 3.5l-3.5 3.5l-3.5 -3.5zM469.2 184.2l3.5 3.5l-3.5 3.5l-3.5 -3.5zM471.5 184.4l3.5 3.5l-3.5 3.5l-3.5 -3.5zM473.8 181.5l3.5 3.5l-3.5 3.5l-3.5 -3.5zM476.1 179.1l3.5 3.5l-3.5 3.5l-3.5 -3.5zM478.4 178.1l3.5 3.5l-3.5 3.5l-3.5 -3.5zM480.7 176.8l3.5 3.5l-3.5 3.5l-3.5 -3.5zM483 175.4l3.5 3.5l-3.5 3.5l-3.5 -3.5zM485.3 172.9l3.5 3.5l-3.5 3.5l-3.5 -3.5zM487.6 171l3.5 3.5l-3.5 3.5l-3.5 -3.5zM489.9 170.4l3.5 3.5l-3.5 3.5l-3.5 -3.5zM492.2 167.1l3.5 3.5l-3.5 3.5l-3.5 -3.5zM494.5 167.1l3.5 3.5l-3.5 3.5l-3.5 -3.5zM496.8 166.8l3.5 3.5l-3.5 3.5l-3.5 -3.5zM499.1 165l3.5 3.5l-3.5 3.5l-3.5 -3.5zM501.4 165.9l3.5 3.5l-3.5 3.5l-3.5 -3.5zM503.7 164.8l3.5 3.5l-3.5 3.5l-3.5 -3.5zM506 161.3l3.5 3.5l-3.5 3.5l-3.5 -3.5zM508.3 157.5l3.5 3.5l-3.5 3.5l-3.5 -3.5zM510.6 154.5l3.5 3.5l-3.5 3.5l-3.5 -3.5zM512.9 152.6l3.5 3.5l-3.5 3.5l-3.5 -3.5zM515.2 149.5l3.5 3.5l-3.5 3.5l-3.5 -3.5zM517.5 147.7l3.5 3.5l-3.5 3.5l-3.5 -3.5zM519.8 144.5l3.5 3.5l-3.5 3.5l-3.5 -3.5zM522.1 143l3.5 3.5l-3.5 3.5l-3.5 -3.5zM524.4 141.5l3.5 3.5l-3.5 3.5l-3.5 -3.5zM526.7 139.1l3.5 3.5l-3.5 3.5l-3.5 -3.5zM529 137l3.5 3.5l-3.5 3.5l-3.5 -3.5zM531.3 134.6l3.5 3.5l-3.5 3.5l-3.5 -3.5zM533.6 130.6l3.5 3.5l-3.5 3.5l-3.5 -3.5zM535.9 126l3.5 3.5l-3.5 3.5l-3.5 -3.5zM538.2 125.5l3.5 3.5l-3.5 3.5l-3.5 -3.5zM540.5 125.1l3.5 3.5l-3.5 3.5l-3.5 -3.5zM542.8 125l3.5 3.5l-3.5 3.5l-3.5 -3.5zM545.1 122.2l3.5 3.5l-3.5 3.5l-3.5 -3.5zM547.4 121.8l3.5 3.5l-3.5 3.5l-3.5 -3.5zM549.7 121.1l3.5 3.5l-3.5 3.5l-3.5 -3.5zM552 117.9l3.5 3.5l-3.5 3.5l-3.5 -3.5zM554.3 117.1l3.5 3.5l-3.5 3.5l-3.5 -3.5zM556.6 112.5l3.5 3.5l-3.5 3.5l-3.5 -3.5zM558.9 116.3l3.5 3.5l-3.5 3.5l-3.5 -3.5zM561.2 117l3.5 3.5l-3.5 3.5l-3.5 -3.5zM563.5 117.4l3.5 3.5l-3.5 3.5l-3.5 -3.5zM565.8 120.9l3.5 3.5l-3.5 3.5l-3.5 -3.5zM568.1 122.7l3.5 3.5l-3.5 3.5l-3.5 -3.5zM570.4 124.4l3.5 3.5l-3.5 3.5l-3.5 -3.5zM572.7 126l3.5 3.5l-3.5 3.5l-3.5 -3.5zM575 126.8l3.5 3.5l-3.5 3.5l-3.5 -3.5zM577.3 128l3.5 3.5l-3.5 3.5l-3.5 -3.5zM579.6 130l3.5 3.5l-3.5 3.5l-3.5 -3.5zM581.9 132.2l3.5 3.5l-3.5 3.5l-3.5 -3.5zM584.2 134.3l3.5 3.5l-3.5 3.5l-3.5 -3.5zM586.5 135.5l3.5 3.5l-3.5 3.5l-3.5 -3.5zM588.8 136.4l3.5 3.5l-3.5 3.5l-3.5 -3.5zM591.1 135l3.5 3.5l-3.5 3.5l-3.5 -3.5zM593.4 132.8l3.5 3.5l-3.5 3.5l-3.5 -3.5zM595.7 134.1l3.5 3.5l-3.5 3.5l-3.5 -3.5zM598 136.5l3.5 3.5l-3.5 3.5l-3.5 -3.5zM600.3 139.6l3.5 3.5l-3.5 3.5l-3.5 -3.5zM602.6 154.8l3.5 3.5l-3.5 3.5l-3.5 -3.5zM604.9 172.3l3.5 3.5l-3.5 3.5l-3.5 -3.5zM607.2 185.8l3.5 3.5l-3.5 3.5l-3.5 -3.5zM609.5 196.5l3.5 3.5l-3.5 3.5l-3.5 -3.5zM611.8 202.4l3.5 3.5l-3.5 3.5l-3.5 -3.5zM614.1 210.9l3.5 3.5l-3.5 3.5l-3.5 -3.5zM616.4 215.3l3.5 3.5l-3.5 3.5l-3.5 -3.5zM618.7 220.4l3.5 3.5l-3.5 3.5l-3.5 -3.5zM621 224.2l3.5 3.5l-3.5 3.5l-3.5 -3.5zM623.3 228.6l3.5 3.5l-3.5 3.5l-3.5 -3.5zM625.6 233.4l3.5 3.5l-3.5 3.5l-3.5 -3.5zM627.9 239l3.5 3.5l-3.5 3.5l-3.5 -3.5zM630.2 244.1l3.5 3.5l-3.5 3.5l-3.5 -3.5zM632.5 248l3.5 3.5l-3.5 3.5l-3.5 -3.5zM634.8 249.5l3.5 3.5l-3.5 3.5l-3.5 -3.5zM637.1 253.3l3.5 3.5l-3.5 3.5l-3.5 -3.5zM639.4 255.7l3.5 3.5l-3.5 3.5l-3.5 -3.5zM641.7 260.8l3.5 3.5l-3.5 3.5l-3.5 -3.5zM644 269l3.5 3.5l-3.5 3.5l-3.5 -3.5zM646.3 275l3.5 3.5l-3.5 3.5l-3.5 -3.5zM648.6 286.2l3.5 3.5l-3.5 3.5l-3.5 -3.5zM650.9 304.2l3.5 3.5l-3.5 3.5l-3.5 -3.5zM653.2 332.1l3.5 3.5l-3.5 3.5l-3.5 -3.5zM655.5 352.1l3.5 3.5l-3.5 3.5l-3.5 -3.5zM657.8 369.5l3.5 3.5l-3.5 3.5l-3.5 -3.5zM660.1 384.3l3.5 3.5l-3.5 3.5l-3.5 -3.5zM662.4 398.3l3.5 3.5l-3.5 3.5l-3.5 -3.5zM664.7 416.4l3.5 3.5l-3.5 3.5l-3.5 -3.5zM667 425.3l3.5 3.5l-3.5 3.5l-3.5 -3.5zM669.3 433.6l3.5 3.5l-3.5 3.5l-3.5 -3.5zM671.6 438.5l3.5 3.5l-3.5 3.5l-3.5 -3.5zM673.9 447.1l3.5 3.5l-3.5 3.5l-3.5 -3.5zM676.2 451.6l3.5 3.5l-3.5 3.5l-3.5 -3.5zM678.5 455.1l3.5 3.5l-3.5 3.5l-3.5 -3.5zM680.8 462.2l3.5 3.5l-3.5 3.5l-3.5 -3.5zM683.1 462.9l3.5 3.5l-3.5 3.5l-3.5 -3.5zM685.4 463.4l3.5 3.5l-3.5 3.5l-3.5 -3.5zM687.7 468l3.5 3.5l-3.5 3.5l-3.5 -3.5zM690 472.3l3.5 3.5l-3.5 3.5l-3.5 -3.5zM692.3 476.1l3.5 3.5l-3.5 3.5l-3.5 -3.5zM694.6 478.1l3.5 3.5l-3.5 3.5l-3.5 -3.5zM696.9 481.9l3.5 3.5l-3.5 3.5l-3.5 -3.5zM699.2 484.2l3.5 3.5l-3.5 3.5l-3.5 -3.5zM701.5 486l3.5 3.5l-3.5 3.5l-3.5 -3.5zM703.8 488.1l3.5 3.5l-3.5 3.5l-3.5 -3.5zM706.1 489.4l3.5 3.5l-3.5 3.5l-3.5 -3.5zM708.4 492.2l3.5 3.5l-3.5 3.5l-3.5 -3.5zM710.7 496.5l3.5 3.5l-3.5 3.5l-3.5 -3.5zM713 511.1l3.5 3.5l-3.5 3.5l-3.5 -3.5zM715.3 519.1l3.5 3.5l-3.5 3.5l-3.5 -3.5zM717.6 530.9l3.5 3.5l-3.5 3.5l-3.5 -3.5zM719.9 540l3.5 3.5l-3.5 3.5l-3.5 -3.5zM722.2 551.6l3.5 3.5l-3.5 3.5l-3.5 -3.5zM724.5 559.9l3.5 3.5l-3.5 3.5l-3.5 -3.5zM726.8 564.9l3.5 3.5l-3.5 3.5l-3.5 -3.5zM729.1 572.7l3.5 3.5l-3.5 3.5l-3.5 -3.5zM731.4 578.4l3.5 3.5l-3.5 3.5l-3.5 -3.5zM733.7 581.9l3.5 3.5l-3.5 3.5l-3.5 -3.5zM736 583l3.5 3.5l-3.5 3.5l-3.5 -3.5zM738.3 583l3.5 3.5l-3.5 3.5l-3.5 -3.5zM740.6 584l3.5 3.5l-3.5 3.5l-3.5 -3.5zM742.9 588.5l3.5 3.5l-3.5 3.5l-3.5 -3.5zM745.2 593.6l3.5 3.5l-3.5 3.5l-3.5 -3.5zM747.5 601.4l3.5 3.5l-3.5 3.5l-3.5 -3.5zM749.8 614.9l3.5 3.5l-3.5 3.5l-3.5 -3.5zM752.1 622.1l3.5 3.5l-3.5 3.5l-3.5 -3.5zM754.4 630.6l3.5 3.5l-3.5 3.5l-3.5 -3.5zM756.7 636.4l3.5 3.5l-3.5 3.5l-3.5 -3.5zM759 641.3l3.5 3.5l-3.5 3.5l-3.5 -3.5zM761.3 644.3l3.5 3.5l-3.5 3.5l-3.5 -3.5zM763.6 645.2l3.5 3.5l-3.5 3.5l-3.5 -3.5zM765.9 648.3l3.5 3.5l-3.5 3.5l-3.5 -3.5zM768.2 650.6l3.5 3.5l-3.5 3.5l-3.5 -3.5zM770.5 654.6l3.5 3.5l-3.5 3.5l-3.5 -3.5zM772.8 655.9l3.5 3.5l-3.5 3.5l-3.5 -3.5zM775.1 659.9l3.5 3.5l-3.5 3.5l-3.5 -3.5zM777.4 662l3.5 3.5l-3.5 3.5l-3.5 -3.5zM779.7 664l3.5 3.5l-3.5 3.5l-3.5 -3.5zM782 664.6l3.5 3.5l-3.5 3.5l-3.5 -3.5zM784.3 668l3.5 3.5l-3.5 3.5l-3.5 -3.5zM786.6 671.5l3.5 3.5l-3.5 3.5l-3.5 -3.5zM788.9 672.4l3.5 3.5l-3.5 3.5l-3.5 -3.5zM791.2 667.6l3.5 3.5l-3.5 3.5l-3.5 -3.5zM793.5 669.3l3.5 3.5l-3.5 3.5l-3.5 -3.5zM795.8 672.7l3.5 3.5l-3.5 3.5l-3.5 -3.5zM798.1 674.9l3.5 3.5l-3.5 3.5l-3.5 -3.5zM800.4 677.6l3.5 3.5l-3.5 3.5l-3.5 -3.5zM802.7 679.5l3.5 3.5l-3.5 3.5l-3.5 -3.5zM805 682.3l3.5 3.5l-3.5 3.5l-3.5 -3.5zM807.3 684.6l3.5 3.5l-3.5 3.5l-3.5 -3.5zM809.6 687.6l3.5 3.5l-3.5 3.5l-3.5 -3.5zM811.9 689.3l3.5 3.5l-3.5 3.5l-3.5 -3.5zM814.2 692.4l3.5 3.5l-3.5 3.5l-3.5 -3.5zM816.5 692.8l3.5 3.5l-3.5 3.5l-3.5 -3.5zM818.8 697.1l3.5 3.5l-3.5 3.5l-3.5 -3.5zM821.1 698.2l3.5 3.5l-3.5 3.5l-3.5 -3.5zM823.4 700.7l3.5 3.5l-3.5 3.5l-3.5 -3.5zM825.7 701.7l3.5 3.5l-3.5 3.5l-3.5 -3.5zM828 703.9l3.5 3.5l-3.5 3.5l-3.5 -3.5zM830.3 706l3.5 3.5l-3.5 3.5l-3.5 -3.5zM832.6 705.9l3.5 3.5l-3.5 3.5l-3.5 -3.5zM834.9 707.5l3.5 3.5l-3.5 3.5l-3.5 -3.5zM837.2 708.5l3.5 3.5l-3.5 3.5l-3.5 -3.5zM839.5 709.9l3.5 3.5l-3.5 3.5l-3.5 -3.5zM841.8 709.8l3.5 3.5l-3.5 3.5l-3.5 -3.5zM844.1 711.9l3.5 3.5l-3.5 3.5l-3.5 -3.5zM846.4 712.3l3.5 3.5l-3.5 3.5l-3.5 -3.5zM848.7 711.9l3.5 3.5l-3.5 3.5l-3.5 -3.5zM851 712.3l3.5 3.5l-3.5 3.5l-3.5 -3.5zM853.3 711.4l3.5 3.5l-3.5 3.5l-3.5 -3.5zM855.6 713.4l3.5 3.5l-3.5 3.5l-3.5 -3.5zM857.9 712.8l3.5 3.5l-3.5 3.5l-3.5 -3.5zM860.2 714.2l3.5 3.5l-3.5 3.5l-3.5 -3.5zM862.5 713l3.5 3.5l-3.5 3.5l-3.5 -3.5zM864.8 713.4l3.5 3.5l-3.5 3.5l-3.5 -3.5zM867.1 715l3.5 3.5l-3.5 3.5l-3.5 -3.5zM869.4 714.3l3.5 3.5l-3.5 3.5l-3.5 -3.5zM871.7 715.3l3.5 3.5l-3.5 3.5l-3.5 -3.5zM874 714.3l3.5 3.5l-3.5 3.5l-3.5 -3.5zM876.3 714.2l3.5 3.5l-3.5 3.5l-3.5 -3.5zM878.6 714.2l3.5 3.5l-3.5 3.5l-3.5 -3.5zM880.9 714.9l3.5 3.5l-3.5 3.5l-3.5 -3.5zM883.2 717.2l3.5 3.5l-3.5 3.5l-3.5 -3.5zM885.5 717.4l3.5 3.5l-3.5 3.5l-3.5 -3.5zM887.8 717.1l3.5 3.5l-3.5 3.5l-3.5 -3.5zM890.1 719.7l3.5 3.5l-3.5 3.5l-3.5 -3.5zM892.4 719l3.5 3.5l-3.5 3.5l-3.5 -3.5zM894.7 720.9l3.5 3.5l-3.5 3.5l-3.5 -3.5zM897 720.8l3.5 3.5l-3.5 3.5l-3.5 -3.5zM899.3 721.9l3.5 3.5l-3.5 3.5l-3.5 -3.5zM901.6 724.2l3.5 3.5l-3.5 3.5l-3.5 -3.5zM903.9 723.7l3.5 3.5l-3.5 3.5l-3.5 -3.5zM906.2 723.7l3.5 3.5l-3.5 3.5l-3.5 -3.5zM908.5 723.2l3.5 3.5l-3.5 3.5l-3.5 -3.5zM910.8 722.8l3.5 3.5l-3.5 3.5l-3.5 -3.5zM913.1 723.5l3.5 3.5l-3.5 3.5l-3.5 -3.5zM915.4 722.8l3.5 3.5l-3.5 3.5l-3.5 -3.5zM917.7 723.8l3.5 3.5l-3.5 3.5l-3.5 -3.5zM920 726.1l3.5 3.5l-3.5 3.5l-3.5 -3.5zM922.3 725.6l3.5 3.5l-3.5 3.5l-3.5 -3.5zM924.6 727.4l3.5 3.5l-3.5 3.5l-3.5 -3.5zM926.9 729.1l3.5 3.5l-3.5 3.5l-3.5 -3.5zM929.2 729l3.5 3.5l-3.5 3.5l-3.5 -3.5zM931.5 729.4l3.5 3.5l-3.5 3.5l-3.5 -3.5zM933.8 729.9l3.5 3.5l-3.5 3.5l-3.5 -3.5zM936.1 728.9l3.5 3.5l-3.5 3.5l-3.5 -3.5zM938.4 728l3.5 3.5l-3.5 3.5l-3.5 -3.5zM940.7 727.5l3.5 3.5l-3.5 3.5l-3.5 -3.5zM943 728l3.5 3.5l-3.5 3.5l-3.5 -3.5zM945.3 727.6l3.5 3.5l-3.5 3.5l-3.5 -3.5zM947.6 726.2l3.5 3.5l-3.5 3.5l-3.5 -3.5zM949.9 726.2l3.5 3.5l-3.5 3.5l-3.5 -3.5zM952.2 728l3.5 3.5l-3.5 3.5l-3.5 -3.5zM954.5 726.9l3.5 3.5l-3.5 3.5l-3.5 -3.5zM956.8 728.6l3.5 3.5l-3.5 3.5l-3.5 -3.5zM959.1 729.7l3.5 3.5l-3.5 3.5l-3.5 -3.5zM961.4 730.1l3.5 3.5l-3.5 3.5l-3.5 -3.5zM963.7 731.2l3.5 3.5l-3.5 3.5l-3.5 -3.5zM966 732.2l3.5 3.5l-3.5 3.5l-3.5 -3.5zM968.3 729.5l3.5 3.5l-3.5 3.5l-3.5 -3.5zM970.6 728.7l3.5 3.5l-3.5 3.5l-3.5 -3.5zM972.9 725.8l3.5 3.5l-3.5 3.5l-3.5 -3.5zM975.2 723.6l3.5 3.5l-3.5 3.5l-3.5 -3.5zM977.5 723.9l3.5 3.5l-3.5 3.5l-3.5 -3.5zM979.8 726.8l3.5 3.5l-3.5 3.5l-3.5 -3.5zM982.1 726.9l3.5 3.5l-3.5 3.5l-3.5 -3.5zM984.4 727.6l3.5 3.5l-3.5 3.5l-3.5 -3.5zM986.7 728.2l3.5 3.5l-3.5 3.5l-3.5 -3.5zM989 729.1l3.5 3.5l-3.5 3.5l-3.5 -3.5zM991.3 731.7l3.5 3.5l-3.5 3.5l-3.5 -3.5z" fill="none" stroke="#0000FF" stroke-width="2.0"/>
<path d="M132.8 796.1l2.7 2.7l-2.7 2.7l-2.7 -2.7zM135.1 733.5l2.7 2.7l-2.7 2.7l-2.7 -2.7zM137.4 703.4l2.7 2.7l-2.7 2.7l-2.7 -2.7zM139.7 682.2l2.7 2.7l-2.7 2.7l-2.7 -2.7zM142 668.5l2.7 2.7l-2.7 2.7l-2.7 -2.7zM144.3 653.5l2.7 2.7l-2.7 2.7l-2.7 -2.7zM146.6 640.2l2.7 2.7l-2.7 2.7l-2.7 -2.7zM148.9 628l2.7 2.7l-2.7 2.7l-2.7 -2.7zM151.2 617.6l2.7 2.7l-2.7 2.7l-2.7 -2.7zM153.5 608.1l2.7 2.7l-2.7 2.7l-2.7 -2.7zM155.8 598.8l2.7 2.7l-2.7 2.7l-2.7 -2.7zM158.1 589.9l2.7 2.7l-2.7 2.7l-2.7 -2.7zM160.4 581.7l2.7 2.7l-2.7 2.7l-2.7 -2.7zM162.7 574.2l2.7 2.7l-2.7 2.7l-2.7 -2.7zM165 567.8l2.7 2.7l-2.7 2.7l-2.7 -2.7zM167.3 562l2.7 2.7l-2.7 2.7l-2.7 -2.7zM169.6 556.2l2.7 2.7l-2.7 2.7l-2.7 -2.7zM171.9 550.2l2.7 2.7l-2.7 2.7l-2.7 -2.7zM174.2 544.3l2.7 2.7l-2.7 2.7l-2.7 -2.7zM176.5 539l2.7 2.7l-2.7 2.7l-2.7 -2.7zM178.8 534l2.7 2.7l-2.7 2.7l-2.7 -2.7zM181.1 529.1l2.7 2.7l-2.7 2.7l-2.7 -2.7zM183.4 523.9l2.7 2.7l-2.7 2.7l-2.7 -2.7zM185.7 518.4l2.7 2.7l-2.7 2.7l-2.7 -2.7zM188 513.3l2.7 2.7l-2.7 2.7l-2.7 -2.7zM190.3 508.7l2.7 2.7l-2.7 2.7l-2.7 -2.7zM192.6 503.8l2.7 2.7l-2.7 2.7l-2.7 -2.7zM194.9 498.5l2.7 2.7l-2.7 2.7l-2.7 -2.7zM197.2 493.4l2.7 2.7l-2.7 2.7l-2.7 -2.7zM199.5 489l2.7 2.7l-2.7 2.7l-2.7 -2.7zM201.8 485l2.7 2.7l-2.7 2.7l-2.7 -2.7zM204.1 481.2l2.7 2.7l-2.7 2.7l-2.7 -2.7zM206.4 477.7l2.7 2.7l-2.7 2.7l-2.7 -2.7zM208.7 474.3l2.7 2.7l-2.7 2.7l-2.7 -2.7zM211 471.1l2.7 2.7l-2.7 2.7l-2.7 -2.7zM213.3 468.1l2.7 2.7l-2.7 2.7l-2.7 -2.7zM215.6 465.1l2.7 2.7l-2.7 2.7l-2.7 -2.7zM217.9 462.2l2.7 2.7l-2.7 2.7l-2.7 -2.7zM220.2 459.2l2.7 2.7l-2.7 2.7l-2.7 -2.7zM222.5 456.3l2.7 2.7l-2.7 2.7l-2.7 -2.7zM224.8 453.4l2.7 2.7l-2.7 2.7l-2.7 -2.7zM227.1 450.5l2.7 2.7l-2.7 2.7l-2.7 -2.7zM229.4 447.7l2.7 2.7l-2.7 2.7l-2.7 -2.7zM231.7 444.9l2.7 2.7l-2.7 2.7l-2.7 -2.7zM234 442.2l2.7 2.7l-2.7 2.7l-2.7 -2.7zM236.3 439.6l2.7 2.7l-2.7 2.7l-2.7 -2.7zM238.6 437l2.7 2.7l-2.7 2.7l-2.7 -2.7zM240.9 434.5l2.7 2.7l-2.7 2.7l-2.7 -2.7zM243.2 432l2.7 2.7l-2.7 2.7l-2.7 -2.7zM245.5 429.6l2.7 2.7l-2.7 2.7l-2.7 -2.7zM247.8 427.3l2.7 2.7l-2.7 2.7l-2.7 -2.7zM250.1 425l2.7 2.7l-2.7 2.7l-2.7 -2.7zM252.4 422.7l2.7 2.7l-2.7 2.7l-2.7 -2.7zM254.7 420.5l2.7 2.7l-2.7 2.7l-2.7 -2.7zM257 418.4l2.7 2.7l-2.7 2.7l-2.7 -2.7zM259.3 416.3l2.7 2.7l-2.7 2.7l-2.7 -2.7zM261.6 414.3l2.7 2.7l-2.7 2.7l-2.7 -2.7zM263.9 412.4l2.7 2.7l-2.7 2.7l-2.7 -2.7zM266.2 410.6l2.7 2.7l-2.7 2.7l-2.7 -2.7zM268.5 408.8l2.7 2.7l-2.7 2.7l-2.7 -2.7zM270.8 407.1l2.7 2.7l-2.7 2.7l-2.7 -2.7zM273.1 405.4l2.7 2.7l-2.7 2.7l-2.7 -2.7zM275.4 403.7l2.7 2.7l-2.7 2.7l-2.7 -2.7zM277.7 402.1l2.7 2.7l-2.7 2.7l-2.7 -2.7zM280 400.5l2.7 2.7l-2.7 2.7l-2.7 -2.7zM282.3 398.9l2.7 2.7l-2.7 2.7l-2.7 -2.7zM284.6 397.4l2.7 2.7l-2.7 2.7l-2.7 -2.7zM286.9 395.9l2.7 2.7l-2.7 2.7l-2.7 -2.7zM289.2 394.4l2.7 2.7l-2.7 2.7l-2.7 -2.7zM291.5 393l2.7 2.7l-2.7 2.7l-2.7 -2.7zM293.8 391.7l2.7 2.7l-2.7 2.7l-2.7 -2.7zM296.1 390.3l2.7 2.7l-2.7 2.7l-2.7 -2.7zM298.4 388.9l2.7 2.7l-2.7 2.7l-2.7 -2.7zM300.7 387.5l2.7 2.7l-2.7 2.7l-2.7 -2.7zM303 386.1l2.7 2.7l-2.7 2.7l-2.7 -2.7zM305.3 384.6l2.7 2.7l-2.7 2.7l-2.7 -2.7zM307.6 383.1l2.7 2.7l-2.7 2.7l-2.7 -2.7zM309.9 381.4l2.7 2.7l-2.7 2.7l-2.7 -2.7zM312.2 379.7l2.7 2.7l-2.7 2.7l-2.7 -2.7zM314.5 378l2.7 2.7l-2.7 2.7l-2.7 -2.7zM316.8 376.4l2.7 2.7l-2.7 2.7l-2.7 -2.7zM319.1 375l2.7 2.7l-2.7 2.7l-2.7 -2.7zM321.4 373.6l2.7 2.7l-2.7 2.7l-2.7 -2.7zM323.7 372.4l2.7 2.7l-2.7 2.7l-2.7 -2.7zM326 371.1l2.7 2.7l-2.7 2.7l-2.7 -2.7zM328.3 369.9l2.7 2.7l-2.7 2.7l-2.7 -2.7zM330.6 368.7l2.7 2.7l-2.7 2.7l-2.7 -2.7zM332.9 367.5l2.7 2.7l-2.7 2.7l-2.7 -2.7zM335.2 366.3l2.7 2.7l-2.7 2.7l-2.7 -2.7zM337.5 365.2l2.7 2.7l-2.7 2.7l-2.7 -2.7zM339.8 364l2.7 2.7l-2.7 2.7l-2.7 -2.7zM342.1 362.9l2.7 2.7l-2.7 2.7l-2.7 -2.7zM344.4 361.8l2.7 2.7l-2.7 2.7l-2.7 -2.7zM346.7 360.7l2.7 2.7l-2.7 2.7l-2.7 -2.7zM349 359.6l2.7 2.7l-2.7 2.7l-2.7 -2.7zM351.3 358.6l2.7 2.7l-2.7 2.7l-2.7 -2.7zM353.6 357.5l2.7 2.7l-2.7 2.7l-2.7 -2.7zM355.9 356.5l2.7 2.7l-2.7 2.7l-2.7 -2.7zM358.2 355.5l2.7 2.7l-2.7 2.7l-2.7 -2.7zM360.5 354.6l2.7 2.7l-2.7 2.7l-2.7 -2.7zM362.8 353.6l2.7 2.7l-2.7 2.7l-2.7 -2.7zM365.1 352.8l2.7 2.7l-2.7 2.7l-2.7 -2.7zM367.4 351.9l2.7 2.7l-2.7 2.7l-2.7 -2.7zM369.7 351.1l2.7 2.7l-2.7 2.7l-2.7 -2.7zM372 350.2l2.7 2.7l-2.7 2.7l-2.7 -2.7zM374.3 349.3l2.7 2.7l-2.7 2.7l-2.7 -2.7zM376.6 348.4l2.7 2.7l-2.7 2.7l-2.7 -2.7zM378.9 347.5l2.7 2.7l-2.7 2.7l-2.7 -2.7zM381.2 346.5l2.7 2.7l-2.7 2.7l-2.7 -2.7zM383.5 345.5l2.7 2.7l-2.7 2.7l-2.7 -2.7zM385.8 344.5l2.7 2.7l-2.7 2.7l-2.7 -2.7zM388.1 343.5l2.7 2.7l-2.7 2.7l-2.7 -2.7zM390.4 342.5l2.7 2.7l-2.7 2.7l-2.7 -2.7zM392.7 341.5l2.7 2.7l-2.7 2.7l-2.7 -2.7zM395 340.5l2.7 2.7l-2.7 2.7l-2.7 -2.7zM397.3 339.5l2.7 2.7l-2.7 2.7l-2.7 -2.7zM399.6 338.5l2.7 2.7l-2.7 2.7l-2.7 -2.7zM401.9 337.6l2.7 2.7l-2.7 2.7l-2.7 -2.7zM404.2 336.6l2.7 2.7l-2.7 2.7l-2.7 -2.7zM406.5 335.7l2.7 2.7l-2.7 2.7l-2.7 -2.7zM408.8 334.9l2.7 2.7l-2.7 2.7l-2.7 -2.7zM411.1 334.1l2.7 2.7l-2.7 2.7l-2.7 -2.7zM413.4 333.3l2.7 2.7l-2.7 2.7l-2.7 -2.7zM415.7 332.5l2.7 2.7l-2.7 2.7l-2.7 -2.7zM418 331.7l2.7 2.7l-2.7 2.7l-2.7 -2.7zM420.3 330.9l2.7 2.7l-2.7 2.7l-2.7 -2.7zM422.6 330.1l2.7 2.7l-2.7 2.7l-2.7 -2.7zM424.9 329.3l2.7 2.7l-2.7 2.7l-2.7 -2.7zM427.2 328.5l2.7 2.7l-2.7 2.7l-2.7 -2.7zM429.5 327.6l2.7 2.7l-2.7 2.7l-2.7 -2.7zM431.8 326.6l2.7 2.7l-2.7 2.7l-2.7 -2.7zM434.1 325.6l2.7 2.7l-2.7 2.7l-2.7 -2.7zM436.4 324.7l2.7 2.7l-2.7 2.7l-2.7 -2.7zM438.7 323.7l2.7 2.7l-2.7 2.7l-2.7 -2.7zM441 322.9l2.7 2.7l-2.7 2.7l-2.7 -2.7zM443.3 322l2.7 2.7l-2.7 2.7l-2.7 -2.7zM445.6 321.3l2.7 2.7l-2.7 2.7l-2.7 -2.7zM447.9 320.6l2.7 2.7l-2.7 2.7l-2.7 -2.7zM450.2 320l2.7 2.7l-2.7 2.7l-2.7 -2.7zM452.5 319.3l2.7 2.7l-2.7 2.7l-2.7 -2.7zM454.8 318.6l2.7 2.7l-2.7 2.7l-2.7 -2.7zM457.1 317.9l2.7 2.7l-2.7 2.7l-2.7 -2.7zM459.4 317.2l2.7 2.7l-2.7 2.7l-2.7 -2.7zM461.7 316.4l2.7 2.7l-2.7 2.7l-2.7 -2.7zM464 315.6l2.7 2.7l-2.7 2.7l-2.7 -2.7zM466.3 314.7l2.7 2.7l-2.7 2.7l-2.7 -2.7zM468.6 313.7l2.7 2.7l-2.7 2.7l-2.7 -2.7zM470.9 312.7l2.7 2.7l-2.7 2.7l-2.7 -2.7zM473.2 311.6l2.7 2.7l-2.7 2.7l-2.7 -2.7zM475.5 310.4l2.7 2.7l-2.7 2.7l-2.7 -2.7zM477.8 309.1l2.7 2.7l-2.7 2.7l-2.7 -2.7zM480.1 307.7l2.7 2.7l-2.7 2.7l-2.7 -2.7zM482.4 306.3l2.7 2.7l-2.7 2.7l-2.7 -2.7zM484.7 304.7l2.7 2.7l-2.7 2.7l-2.7 -2.7zM487 303l2.7 2.7l-2.7 2.7l-2.7 -2.7zM489.3 301.3l2.7 2.7l-2.7 2.7l-2.7 -2.7zM491.6 299.5l2.7 2.7l-2.7 2.7l-2.7 -2.7zM493.9 297.5l2.7 2.7l-2.7 2.7l-2.7 -2.7zM496.2 295.5l2.7 2.7l-2.7 2.7l-2.7 -2.7zM498.5 293.7l2.7 2.7l-2.7 2.7l-2.7 -2.7zM500.8 291.9l2.7 2.7l-2.7 2.7l-2.7 -2.7zM503.1 290.1l2.7 2.7l-2.7 2.7l-2.7 -2.7zM505.4 288.4l2.7 2.7l-2.7 2.7l-2.7 -2.7zM507.7 286.7l2.7 2.7l-2.7 2.7l-2.7 -2.7zM510 285l2.7 2.7l-2.7 2.7l-2.7 -2.7zM512.3 283.5l2.7 2.7l-2.7 2.7l-2.7 -2.7zM514.6 282l2.7 2.7l-2.7 2.7l-2.7 -2.7zM516.9 280.6l2.7 2.7l-2.7 2.7l-2.7 -2.7zM519.2 279.3l2.7 2.7l-2.7 2.7l-2.7 -2.7zM521.5 278.1l2.7 2.7l-2.7 2.7l-2.7 -2.7zM523.8 276.9l2.7 2.7l-2.7 2.7l-2.7 -2.7zM526.1 275.7l2.7 2.7l-2.7 2.7l-2.7 -2.7zM528.4 274.6l2.7 2.7l-2.7 2.7l-2.7 -2.7zM530.7 273.7l2.7 2.7l-2.7 2.7l-2.7 -2.7zM533 272.7l2.7 2.7l-2.7 2.7l-2.7 -2.7zM535.3 271.9l2.7 2.7l-2.7 2.7l-2.7 -2.7zM537.6 271l2.7 2.7l-2.7 2.7l-2.7 -2.7zM539.9 270.2l2.7 2.7l-2.7 2.7l-2.7 -2.7zM542.2 269.5l2.7 2.7l-2.7 2.7l-2.7 -2.7zM544.5 268.8l2.7 2.7l-2.7 2.7l-2.7 -2.7zM546.8 268.1l2.7 2.7l-2.7 2.7l-2.7 -2.7zM549.1 267.5l2.7 2.7l-2.7 2.7l-2.7 -2.7zM551.4 267l2.7 2.7l-2.7 2.7l-2.7 -2.7zM553.7 266.5l2.7 2.7l-2.7 2.7l-2.7 -2.7zM556 266.1l2.7 2.7l-2.7 2.7l-2.7 -2.7zM558.3 265.6l2.7 2.7l-2.7 2.7l-2.7 -2.7zM560.6 265.2l2.7 2.7l-2.7 2.7l-2.7 -2.7zM562.9 264.8l2.7 2.7l-2.7 2.7l-2.7 -2.7zM565.2 264.4l2.7 2.7l-2.7 2.7l-2.7 -2.7zM567.5 264l2.7 2.7l-2.7 2.7l-2.7 -2.7zM569.8 263.6l2.7 2.7l-2.7 2.7l-2.7 -2.7zM572.1 263.3l2.7 2.7l-2.7 2.7l-2.7 -2.7zM574.4 263l2.7 2.7l-2.7 2.7l-2.7 -2.7zM576.7 262.7l2.7 2.7l-2.7 2.7l-2.7 -2.7zM579 262.5l2.7 2.7l-2.7 2.7l-2.7 -2.7zM581.3 262.2l2.7 2.7l-2.7 2.7l-2.7 -2.7zM583.6 262l2.7 2.7l-2.7 2.7l-2.7 -2.7zM585.9 261.8l2.7 2.7l-2.7 2.7l-2.7 -2.7zM588.2 261.6l2.7 2.7l-2.7 2.7l-2.7 -2.7zM590.5 261.4l2.7 2.7l-2.7 2.7l-2.7 -2.7zM592.8 261.2l2.7 2.7l-2.7 2.7l-2.7 -2.7zM595.1 261.1l2.7 2.7l-2.7 2.7l-2.7 -2.7zM597.4 261l2.7 2.7l-2.7 2.7l-2.7 -2.7zM599.7 260.9l2.7 2.7l-2.7 2.7l-2.7 -2.7zM602 260.8l2.7 2.7l-2.7 2.7l-2.7 -2.7zM604.3 260.7l2.7 2.7l-2.7 2.7l-2.7 -2.7zM606.6 260.6l2.7 2.7l-2.7 2.7l-2.7 -2.7zM608.9 260.5l2.7 2.7l-2.7 2.7l-2.7 -2.7zM611.2 260.4l2.7 2.7l-2.7 2.7l-2.7 -2.7zM613.5 260.3l2.7 2.7l-2.7 2.7l-2.7 -2.7zM615.8 260.3l2.7 2.7l-2.7 2.7l-2.7 -2.7zM618.1 260.2l2.7 2.7l-2.7 2.7l-2.7 -2.7zM620.4 260.1l2.7 2.7l-2.7 2.7l-2.7 -2.7zM622.7 260.1l2.7 2.7l-2.7 2.7l-2.7 -2.7zM625 260l2.7 2.7l-2.7 2.7l-2.7 -2.7zM627.3 260l2.7 2.7l-2.7 2.7l-2.7 -2.7zM629.6 259.9l2.7 2.7l-2.7 2.7l-2.7 -2.7zM631.9 259.9l2.7 2.7l-2.7 2.7l-2.7 -2.7zM634.2 259.9l2.7 2.7l-2.7 2.7l-2.7 -2.7zM636.5 259.9l2.7 2.7l-2.7 2.7l-2.7 -2.7zM638.8 259.9l2.7 2.7l-2.7 2.7l-2.7 -2.7zM641.1 259.9l2.7 2.7l-2.7 2.7l-2.7 -2.7zM643.4 259.9l2.7 2.7l-2.7 2.7l-2.7 -2.7zM645.7 259.9l2.7 2.7l-2.7 2.7l-2.7 -2.7zM648 259.9l2.7 2.7l-2.7 2.7l-2.7 -2.7zM650.3 259.9l2.7 2.7l-2.7 2.7l-2.7 -2.7zM652.6 259.9l2.7 2.7l-2.7 2.7l-2.7 -2.7zM654.9 259.9l2.7 2.7l-2.7 2.7l-2.7 -2.7zM657.2 259.9l2.7 2.7l-2.7 2.7l-2.7 -2.7zM659.5 259.9l2.7 2.7l-2.7 2.7l-2.7 -2.7zM661.8 259.8l2.7 2.7l-2.7 2.7l-2.7 -2.7zM664.1 259.8l2.7 2.7l-2.7 2.7l-2.7 -2.7zM666.4 259.8l2.7 2.7l-2.7 2.7l-2.7 -2.7zM668.7 259.8l2.7 2.7l-2.7 2.7l-2.7 -2.7zM671 259.8l2.7 2.7l-2.7 2.7l-2.7 -2.7zM673.3 259.8l2.7 2.7l-2.7 2.7l-2.7 -2.7zM675.6 259.8l2.7 2.7l-2.7 2.7l-2.7 -2.7zM677.9 259.8l2.7 2.7l-2.7 2.7l-2.7 -2.7zM680.2 259.8l2.7 2.7l-2.7 2.7l-2.7 -2.7zM682.5 259.8l2.7 2.7l-2.7 2.7l-2.7 -2.7zM684.8 259.8l2.7 2.7l-2.7 2.7l-2.7 -2.7zM687.1 259.8l2.7 2.7l-2.7 2.7l-2.7 -2.7zM689.4 259.8l2.7 2.7l-2.7 2.7l-2.7 -2.7zM691.7 259.8l2.7 2.7l-2.7 2.7l-2.7 -2.7zM694 259.8l2.7 2.7l-2.7 2.7l-2.7 -2.7zM696.3 259.8l2.7 2.7l-2.7 2.7l-2.7 -2.7zM698.6 259.8l2.7 2.7l-2.7 2.7l-2.7 -2.7zM700.9 259.8l2.7 2.7l-2.7 2.7l-2.7 -2.7zM703.2 259.8l2.7 2.7l-2.7 2.7l-2.7 -2.7zM705.5 259.8l2.7 2.7l-2.7 2.7l-2.7 -2.7zM707.8 259.8l2.7 2.7l-2.7 2.7l-2.7 -2.7zM710.1 259.8l2.7 2.7l-2.7 2.7l-2.7 -2.7zM712.4 259.8l2.7 2.7l-2.7 2.7l-2.7 -2.7zM714.7 259.8l2.7 2.7l-2.7 2.7l-2.7 -2.7zM717 259.8l2.7 2.7l-2.7 2.7l-2.7 -2.7zM719.3 259.8l2.7 2.7l-2.7 2.7l-2.7 -2.7zM721.6 259.7l2.7 2.7l-2.7 2.7l-2.7 -2.7zM723.9 259.7l2.7 2.7l-2.7 2.7l-2.7 -2.7zM726.2 259.7l2.7 2.7l-2.7 2.7l-2.7 -2.7zM728.5 259.7l2.7 2.7l-2.7 2.7l-2.7 -2.7zM730.8 259.7l2.7 2.7l-2.7 2.7l-2.7 -2.7zM733.1 259.7l2.7 2.7l-2.7 2.7l-2.7 -2.7zM735.4 259.7l2.7 2.7l-2.7 2.7l-2.7 -2.7zM737.7 259.7l2.7 2.7l-2.7 2.7l-2.7 -2.7zM740 259.7l2.7 2.7l-2.7 2.7l-2.7 -2.7zM742.3 259.7l2.7 2.7l-2.7 2.7l-2.7 -2.7zM744.6 259.7l2.7 2.7l-2.7 2.7l-2.7 -2.7zM746.9 259.7l2.7 2.7l-2.7 2.7l-2.7 -2.7zM749.2 259.7l2.7 2.7l-2.7 2.7l-2.7 -2.7zM751.5 259.7l2.7 2.7l-2.7 2.7l-2.7 -2.7zM753.8 259.7l2.7 2.7l-2.7 2.7l-2.7 -2.7zM756.1 259.7l2.7 2.7l-2.7 2.7l-2.7 -2.7zM758.4 259.7l2.7 2.7l-2.7 2.7l-2.7 -2.7zM760.7 259.7l2.7 2.7l-2.7 2.7l-2.7 -2.7zM763 259.7l2.7 2.7l-2.7 2.7l-2.7 -2.7zM765.3 259.7l2.7 2.7l-2.7 2.7l-2.7 -2.7zM767.6 259.7l2.7 2.7l-2.7 2.7l-2.7 -2.7zM769.9 259.7l2.7 2.7l-2.7 2.7l-2.7 -2.7zM772.2 259.7l2.7 2.7l-2.7 2.7l-2.7 -2.7zM774.5 259.7l2.7 2.7l-2.7 2.7l-2.7 -2.7zM776.8 259.7l2.7 2.7l-2.7 2.7l-2.7 -2.7zM779.1 259.7l2.7 2.7l-2.7 2.7l-2.7 -2.7zM781.4 259.7l2.7 2.7l-2.7 2.7l-2.7 -2.7zM783.7 259.7l2.7 2.7l-2.7 2.7l-2.7 -2.7zM786 259.7l2.7 2.7l-2.7 2.7l-2.7 -2.7zM788.3 259.7l2.7 2.7l-2.7 2.7l-2.7 -2.7zM790.6 259.7l2.7 2.7l-2.7 2.7l-2.7 -2.7zM792.9 259.7l2.7 2.7l-2.7 2.7l-2.7 -2.7zM795.2 259.7l2.7 2.7l-2.7 2.7l-2.7 -2.7zM797.5 259.7l2.7 2.7l-2.7 2.7l-2.7 -2.7zM799.8 259.7l2.7 2.7l-2.7 2.7l-2.7 -2.7zM802.1 259.7l2.7 2.7l-2.7 2.7l-2.7 -2.7zM804.4 259.7l2.7 2.7l-2.7 2.7l-2.7 -2.7zM806.7 259.7l2.7 2.7l-2.7 2.7l-2.7 -2.7zM809 259.7l2.7 2.7l-2.7 2.7l-2.7 -2.7zM811.3 259.7l2.7 2.7l-2.7 2.7l-2.7 -2.7zM813.6 259.7l2.7 2.7l-2.7 2.7l-2.7 -2.7zM815.9 259.7l2.7 2.7l-2.7 2.7l-2.7 -2.7zM818.2 259.7l2.7 2.7l-2.7 2.7l-2.7 -2.7zM820.5 259.6l2.7 2.7l-2.7 2.7l-2.7 -2.7zM822.8 259.6l2.7 2.7l-2.7 2.7l-2.7 -2.7zM825.1 259.6l2.7 2.7l-2.7 2.7l-2.7 -2.7zM827.4 259.6l2.7 2.7l-2.7 2.7l-2.7 -2.7zM829.7 259.6l2.7 2.7l-2.7 2.7l-2.7 -2.7zM832 259.6l2.7 2.7l-2.7 2.7l-2.7 -2.7zM834.3 259.6l2.7 2.7l-2.7 2.7l-2.7 -2.7zM836.6 259.6l2.7 2.7l-2.7 2.7l-2.7 -2.7zM838.9 259.6l2.7 2.7l-2.7 2.7l-2.7 -2.7zM841.2 259.6l2.7 2.7l-2.7 2.7l-2.7 -2.7zM843.5 259.6l2.7 2.7l-2.7 2.7l-2.7 -2.7zM845.8 259.6l2.7 2.7l-2.7 2.7l-2.7 -2.7zM848.1 259.6l2.7 2.7l-2.7 2.7l-2.7 -2.7zM850.4 259.6l2.7 2.7l-2.7 2.7l-2.7 -2.7zM852.7 259.6l2.7 2.7l-2.7 2.7l-2.7 -2.7zM855 259.6l2.7 2.7l-2.7 2.7l-2.7 -2.7zM857.3 259.6l2.7 2.7l-2.7 2.7l-2.7 -2.7zM859.6 259.6l2.7 2.7l-2.7 2.7l-2.7 -2.7zM861.9 259.6l2.7 2.7l-2.7 2.7l-2.7 -2.7zM864.2 259.6l2.7 2.7l-2.7 2.7l-2.7 -2.7zM866.5 259.6l2.7 2.7l-2.7 2.7l-2.7 -2.7zM868.8 259.6l2.7 2.7l-2.7 2.7l-2.7 -2.7zM871.1 259.6l2.7 2.7l-2.7 2.7l-2.7 -2.7zM873.4 259.6l2.7 2.7l-2.7 2.7l-2.7 -2.7zM875.7 259.6l2.7 2.7l-2.7 2.7l-2.7 -2.7zM878 259.6l2.7 2.7l-2.7 2.7l-2.7 -2.7zM880.3 259.6l2.7 2.7l-2.7 2.7l-2.7 -2.7zM882.6 259.6l2.7 2.7l-2.7 2.7l-2.7 -2.7zM884.9 259.6l2.7 2.7l-2.7 2.7l-2.7 -2.7zM887.2 259.6l2.7 2.7l-2.7 2.7l-2.7 -2.7zM889.5 259.6l2.7 2.7l-2.7 2.7l-2.7 -2.7zM891.8 259.6l2.7 2.7l-2.7 2.7l-2.7 -2.7zM894.1 259.6l2.7 2.7l-2.7 2.7l-2.7 -2.7zM896.4 259.6l2.7 2.7l-2.7 2.7l-2.7 -2.7zM898.7 259.6l2.7 2.7l-2.7 2.7l-2.7 -2.7zM901 259.6l2.7 2.7l-2.7 2.7l-2.7 -2.7zM903.3 259.6l2.7 2.7l-2.7 2.7l-2.7 -2.7zM905.6 259.6l2.7 2.7l-2.7 2.7l-2.7 -2.7zM907.9 259.6l2.7 2.7l-2.7 2.7l-2.7 -2.7zM910.2 259.6l2.7 2.7l-2.7 2.7l-2.7 -2.7zM912.5 259.6l2.7 2.7l-2.7 2.7l-2.7 -2.7zM914.8 259.6l2.7 2.7l-2.7 2.7l-2.7 -2.7zM917.1 259.6l2.7 2.7l-2.7 2.7l-2.7 -2.7zM919.4 259.6l2.7 2.7l-2.7 2.7l-2.7 -2.7zM921.7 259.6l2.7 2.7l-2.7 2.7l-2.7 -2.7zM924 259.6l2.7 2.7l-2.7 2.7l-2.7 -2.7zM926.3 259.6l2.7 2.7l-2.7 2.7l-2.7 -2.7zM928.6 259.6l2.7 2.7l-2.7 2.7l-2.7 -2.7zM930.9 259.6l2.7 2.7l-2.7 2.7l-2.7 -2.7zM933.2 259.6l2.7 2.7l-2.7 2.7l-2.7 -2.7zM935.5 259.6l2.7 2.7l-2.7 2.7l-2.7 -2.7zM937.8 259.6l2.7 2.7l-2.7 2.7l-2.7 -2.7zM940.1 259.6l2.7 2.7l-2.7 2.7l-2.7 -2.7zM942.4 259.6l2.7 2.7l-2.7 2.7l-2.7 -2.7zM944.7 259.6l2.7 2.7l-2.7 2.7l-2.7 -2.7zM947 259.6l2.7 2.7l-2.7 2.7l-2.7 -2.7zM949.3 259.6l2.7 2.7l-2.7 2.7l-2.7 -2.7zM951.6 259.6l2.7 2.7l-2.7 2.7l-2.7 -2.7zM953.9 259.6l2.7 2.7l-2.7 2.7l-2.7 -2.7zM956.2 259.6l2.7 2.7l-2.7 2.7l-2.7 -2.7zM958.5 259.6l2.7 2.7l-2.7 2.7l-2.7 -2.7zM960.8 259.6l2.7 2.7l-2.7 2.7l-2.7 -2.7zM963.1 259.6l2.7 2.7l-2.7 2.7l-2.7 -2.7zM965.4 259.6l2.7 2.7l-2.7 2.7l-2.7 -2.7zM967.7 259.6l2.7 2.7l-2.7 2.7l-2.7 -2.7zM970 259.6l2.7 2.7l-2.7 2.7l-2.7 -2.7zM972.3 259.6l2.7 2.7l-2.7 2.7l-2.7 -2.7zM974.6 259.6l2.7 2.7l-2.7 2.7l-2.7 -2.7zM976.9 259.6l2.7 2.7l-2.7 2.7l-2.7 -2.7zM979.2 259.6l2.7 2.7l-2.7 2.7l-2.7 -2.7zM981.5 259.6l2.7 2.7l-2.7 2.7l-2.7 -2.7zM983.8 259.6l2.7 2.7l-2.7 2.7l-2.7 -2.7zM986.1 259.6l2.7 2.7l-2.7 2.7l-2.7 -2.7zM988.4 259.6l2.7 2.7l-2.7 2.7l-2.7 -2.7zM990.7 259.6l2.7 2.7l-2.7 2.7l-2.7 -2.7zM993 259.6l2.7 2.7l-2.7 2.7l-2.7 -2.7z" fill="#0000FF" stroke="#0000FF" stroke-width=".6"/>
<rect x="346.7" y="383.2" width="261.2" height="433.7" fill="#fff" stroke="#ADADAD" stroke-width="1.6"/>
<path d="M363.4 402.4l3.7 3.7m-3.7 0l3.7 -3.7" fill="none" stroke="#A968FD" stroke-width="2.0"/>
<path d="M363.4 445.9l3.8 3.8m-3.8 0l3.8 -3.8" fill="none" stroke="#9A35AA" stroke-width="1.6"/>
<path d="M362.7 491.2a2.6 2.6 0 1 0 5.2 0a2.6 2.6 0 1 0 -5.2 0" fill="none" stroke="#FFC000" stroke-width="1.9"/>
<path d="M363.2 532.6h4.2v4.2h-4.2z" fill="#FF9C38" stroke="#FF9C38" stroke-width=".6"/>
<path d="M365.3 575.6l2.5 5h-5z" fill="none" stroke="#0E960E" stroke-width="1.9" stroke-linejoin="round"/>
<path d="M365.3 619.2l2.3 4.6h-4.6z" fill="#0E960E" stroke="#0E960E" stroke-width=".6"/>
<path d="M361.7 665a3.6 3.6 0 1 0 7.3 0a3.6 3.6 0 1 0 -7.3 0" fill="none" stroke="#FF0000" stroke-width="2.2"/>
<path d="M365.3 708.5h0" fill="none" stroke="#FF0000" stroke-width="6.6" stroke-linecap="round"/>
<path d="M365.3 748.4l3.5 3.5l-3.5 3.5l-3.5 -3.5z" fill="none" stroke="#0000FF" stroke-width="2.0"/>
<path d="M365.3 792.6l2.7 2.7l-2.7 2.7l-2.7 -2.7z" fill="#0000FF" stroke="#0000FF" stroke-width=".6"/>
<g style="filter:grayscale(1)">
<text x="105.2" y="831.8" font-size="27.2" text-anchor="end" textLength="15.2" lengthAdjust="spacingAndGlyphs">0</text>
<text x="105.2" y="742.9" font-size="27.2" text-anchor="end" textLength="45.6" lengthAdjust="spacingAndGlyphs">100</text>
<text x="105.2" y="654" font-size="27.2" text-anchor="end" textLength="45.6" lengthAdjust="spacingAndGlyphs">200</text>
<text x="105.2" y="565.1" font-size="27.2" text-anchor="end" textLength="45.6" lengthAdjust="spacingAndGlyphs">300</text>
<text x="105.2" y="476.2" font-size="27.2" text-anchor="end" textLength="45.6" lengthAdjust="spacingAndGlyphs">400</text>
<text x="105.2" y="387.2" font-size="27.2" text-anchor="end" textLength="45.6" lengthAdjust="spacingAndGlyphs">500</text>
<text x="105.2" y="298.3" font-size="27.2" text-anchor="end" textLength="45.6" lengthAdjust="spacingAndGlyphs">600</text>
<text x="105.2" y="209.4" font-size="27.2" text-anchor="end" textLength="45.6" lengthAdjust="spacingAndGlyphs">700</text>
<text x="105.2" y="120.5" font-size="27.2" text-anchor="end" textLength="45.6" lengthAdjust="spacingAndGlyphs">800</text>
<text x="105.2" y="31.6" font-size="27.2" text-anchor="end" textLength="45.6" lengthAdjust="spacingAndGlyphs">900</text>
<text x="133.1" y="871.3" font-size="27.2" text-anchor="middle" textLength="15.2" lengthAdjust="spacingAndGlyphs">0</text>
<text x="276.6" y="871.3" font-size="27.2" text-anchor="middle" textLength="15.2" lengthAdjust="spacingAndGlyphs">5</text>
<text x="420.2" y="871.3" font-size="27.2" text-anchor="middle" textLength="30.4" lengthAdjust="spacingAndGlyphs">10</text>
<text x="563.7" y="871.3" font-size="27.2" text-anchor="middle" textLength="30.4" lengthAdjust="spacingAndGlyphs">15</text>
<text x="707.2" y="871.3" font-size="27.2" text-anchor="middle" textLength="30.4" lengthAdjust="spacingAndGlyphs">20</text>
<text x="850.8" y="871.3" font-size="27.2" text-anchor="middle" textLength="30.4" lengthAdjust="spacingAndGlyphs">25</text>
<text x="994.3" y="871.3" font-size="27.2" text-anchor="middle" textLength="30.4" lengthAdjust="spacingAndGlyphs">30</text>
<text x="562.2" y="917.2" font-size="29.3" font-weight="bold" text-anchor="middle" textLength="196" lengthAdjust="spacingAndGlyphs">Tau [s/mm^2]</text>
<text transform="translate(39.4 451.7) rotate(-90)" font-size="29.3" font-weight="bold" text-anchor="middle" textLength="291" lengthAdjust="spacingAndGlyphs">Temperature [Deg C]</text>
<text y="412.3" font-size="24"><tspan x="379.5" textLength="88.2" lengthAdjust="spacingAndGlyphs">100:130</tspan><tspan x="467.7" textLength="104.8" lengthAdjust="spacingAndGlyphs">_Top_Exp</tspan></text>
<text y="455.8" font-size="24"><tspan x="379.5" textLength="88.2" lengthAdjust="spacingAndGlyphs">100:130</tspan><tspan x="467.7" textLength="132.1" lengthAdjust="spacingAndGlyphs">_Top_Gpyro</tspan></text>
<text y="499.2" font-size="24"><tspan x="379.5" textLength="88.2" lengthAdjust="spacingAndGlyphs">100:100</tspan><tspan x="467.7" textLength="104.8" lengthAdjust="spacingAndGlyphs">_Top_Exp</tspan></text>
<text y="542.7" font-size="24"><tspan x="379.5" textLength="88.2" lengthAdjust="spacingAndGlyphs">100:100</tspan><tspan x="467.7" textLength="132.1" lengthAdjust="spacingAndGlyphs">_Top_Gpyro</tspan></text>
<text y="586.1" font-size="24"><tspan x="379.5" textLength="74.7" lengthAdjust="spacingAndGlyphs">100:66</tspan><tspan x="454.2" textLength="104.8" lengthAdjust="spacingAndGlyphs">_Top_Exp</tspan></text>
<text y="629.5" font-size="24"><tspan x="379.5" textLength="74.7" lengthAdjust="spacingAndGlyphs">100:66</tspan><tspan x="454.2" textLength="132.1" lengthAdjust="spacingAndGlyphs">_Top_Gpyro</tspan></text>
<text y="673" font-size="24"><tspan x="379.5" textLength="74.7" lengthAdjust="spacingAndGlyphs">100:33</tspan><tspan x="454.2" textLength="104.8" lengthAdjust="spacingAndGlyphs">_Top_Exp</tspan></text>
<text y="716.5" font-size="24"><tspan x="379.5" textLength="74.7" lengthAdjust="spacingAndGlyphs">100:33</tspan><tspan x="454.2" textLength="132.1" lengthAdjust="spacingAndGlyphs">_Top_Gpyro</tspan></text>
<text y="759.9" font-size="24"><tspan x="379.5" textLength="61.2" lengthAdjust="spacingAndGlyphs">100:0</tspan><tspan x="440.7" textLength="104.8" lengthAdjust="spacingAndGlyphs">_Top_Exp</tspan></text>
<text y="803.4" font-size="24"><tspan x="379.5" textLength="61.2" lengthAdjust="spacingAndGlyphs">100:0</tspan><tspan x="440.7" textLength="132.1" lengthAdjust="spacingAndGlyphs">_Top_Gpyro</tspan></text>
</g>
</svg></body></html>
